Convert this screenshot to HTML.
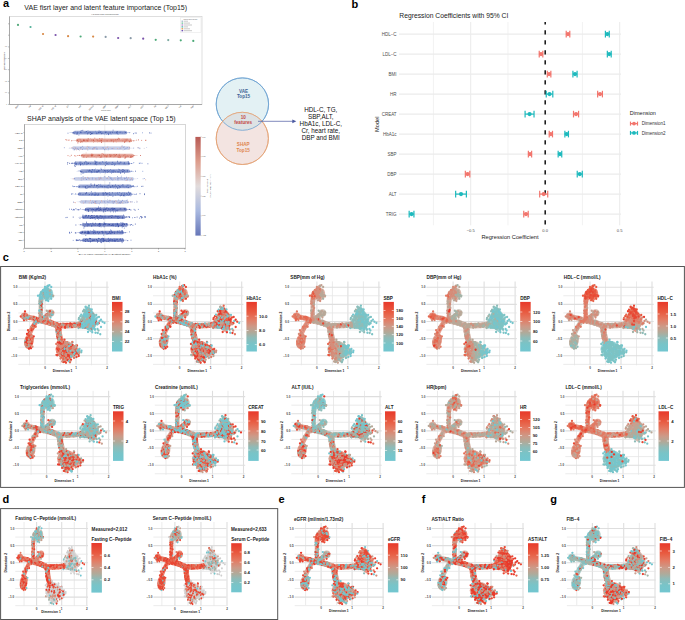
<!DOCTYPE html>
<html><head><meta charset="utf-8"><style>
html,body{margin:0;padding:0;background:#fff;width:685px;height:620px;overflow:hidden}
svg{display:block;font-family:"Liberation Sans",sans-serif}
</style></head><body>
<svg width="685" height="620" viewBox="0 0 685 620">
<text x="3" y="6.9" font-size="11" font-weight="bold">a</text>
<text x="351.6" y="7.8" font-size="11" font-weight="bold">b</text>
<text x="2.7" y="261.2" font-size="11" font-weight="bold">c</text>
<text x="2.6" y="502.5" font-size="11" font-weight="bold">d</text>
<text x="278.6" y="502.6" font-size="11" font-weight="bold">e</text>
<text x="421.7" y="502.6" font-size="11" font-weight="bold">f</text>
<text x="550.2" y="502.6" font-size="11" font-weight="bold">g</text>
<text x="105.7" y="9.6" font-size="7" text-anchor="middle" fill="#222" textLength="162.8" lengthAdjust="spacingAndGlyphs">VAE fisrt layer and latent feature importance (Top15)</text>
<rect x="9.5" y="16.5" width="192.5" height="88" fill="none" stroke="#d6d6d6" stroke-width="0.8" />
<line x1="9.5" y1="16.5" x2="9.5" y2="104.5" stroke="#9a9a9a" stroke-width="0.8" />
<line x1="9.5" y1="104.5" x2="202" y2="104.5" stroke="#9a9a9a" stroke-width="0.8" />
<text x="105" y="15.3" font-size="1.6" text-anchor="middle" fill="#444">VAE Global feature importance(weight)</text>
<line x1="8" y1="46.9" x2="9.5" y2="46.9" stroke="#888" stroke-width="0.5" />
<text x="7" y="47.4" font-size="1.5" text-anchor="end" fill="#555">0.5</text>
<line x1="8" y1="58.5" x2="9.5" y2="58.5" stroke="#888" stroke-width="0.5" />
<text x="7" y="59" font-size="1.5" text-anchor="end" fill="#555">0.4</text>
<line x1="8" y1="69.7" x2="9.5" y2="69.7" stroke="#888" stroke-width="0.5" />
<text x="7" y="70.2" font-size="1.5" text-anchor="end" fill="#555">0.3</text>
<line x1="8" y1="81.4" x2="9.5" y2="81.4" stroke="#888" stroke-width="0.5" />
<text x="7" y="81.9" font-size="1.5" text-anchor="end" fill="#555">0.2</text>
<line x1="8" y1="92.9" x2="9.5" y2="92.9" stroke="#888" stroke-width="0.5" />
<text x="7" y="93.4" font-size="1.5" text-anchor="end" fill="#555">0.1</text>
<line x1="8" y1="104.4" x2="9.5" y2="104.4" stroke="#888" stroke-width="0.5" />
<text x="7" y="104.9" font-size="1.5" text-anchor="end" fill="#555">0</text>
<line x1="8" y1="35.2" x2="9.5" y2="35.2" stroke="#888" stroke-width="0.5" />
<line x1="8" y1="23.8" x2="9.5" y2="23.8" stroke="#888" stroke-width="0.5" />
<text x="4.8" y="61" font-size="1.6" text-anchor="middle" fill="#555" transform="rotate(-90 4.8 61)">Mean |weight| importance</text>
<rect x="180.4" y="17.8" width="20.6" height="14.8" fill="#fff" stroke="#ddd" stroke-width="0.4" />
<text x="190.5" y="19.6" font-size="1.3" text-anchor="middle" fill="#555">Clinical feature category</text>
<rect x="181.5" y="20.6" width="1.6" height="1.2" fill="#9fb3c8" />
<line x1="183.8" y1="21.2" x2="188" y2="21.2" stroke="#777" stroke-width="0.4" />
<rect x="181.5" y="22.5" width="1.6" height="1.2" fill="#5fbf8f" />
<line x1="183.8" y1="23.1" x2="190" y2="23.1" stroke="#777" stroke-width="0.4" />
<rect x="181.5" y="24.4" width="1.6" height="1.2" fill="#b07fd0" />
<line x1="183.8" y1="25" x2="192" y2="25" stroke="#777" stroke-width="0.4" />
<rect x="181.5" y="26.3" width="1.6" height="1.2" fill="#3fb0a0" />
<line x1="183.8" y1="26.9" x2="188" y2="26.9" stroke="#777" stroke-width="0.4" />
<rect x="181.5" y="28.2" width="1.6" height="1.2" fill="#e09040" />
<line x1="183.8" y1="28.8" x2="190" y2="28.8" stroke="#777" stroke-width="0.4" />
<rect x="181.5" y="30.1" width="1.6" height="1.2" fill="#6040b0" />
<line x1="183.8" y1="30.7" x2="192" y2="30.7" stroke="#777" stroke-width="0.4" />
<circle cx="18" cy="24.9" r="1.1" fill="#52a87a"/>
<line x1="18" y1="104.5" x2="18" y2="105.5" stroke="#888" stroke-width="0.5" />
<text x="18.6" y="106.2" font-size="2" text-anchor="end" fill="#333" transform="rotate(-45 18.6 106.2)">BMI</text>
<circle cx="30.52" cy="27" r="1.1" fill="#50b098"/>
<line x1="30.52" y1="104.5" x2="30.52" y2="105.5" stroke="#888" stroke-width="0.5" />
<text x="31.12" y="106.2" font-size="2" text-anchor="end" fill="#333" transform="rotate(-45 31.12 106.2)">TG</text>
<circle cx="43.04" cy="34" r="1.1" fill="#d88a48"/>
<line x1="43.04" y1="104.5" x2="43.04" y2="105.5" stroke="#888" stroke-width="0.5" />
<text x="43.64" y="106.2" font-size="2" text-anchor="end" fill="#333" transform="rotate(-45 43.64 106.2)">HDL-C</text>
<circle cx="55.56" cy="35" r="1.1" fill="#7a52aa"/>
<line x1="55.56" y1="104.5" x2="55.56" y2="105.5" stroke="#888" stroke-width="0.5" />
<text x="56.16" y="106.2" font-size="2" text-anchor="end" fill="#333" transform="rotate(-45 56.16 106.2)">LDL-C</text>
<circle cx="68.08" cy="36.2" r="1.1" fill="#d88a48"/>
<line x1="68.08" y1="104.5" x2="68.08" y2="105.5" stroke="#888" stroke-width="0.5" />
<text x="68.68" y="106.2" font-size="2" text-anchor="end" fill="#333" transform="rotate(-45 68.68 106.2)">Cr</text>
<circle cx="80.6" cy="36.5" r="1.1" fill="#4caa78"/>
<line x1="80.6" y1="104.5" x2="80.6" y2="105.5" stroke="#888" stroke-width="0.5" />
<text x="81.2" y="106.2" font-size="2" text-anchor="end" fill="#333" transform="rotate(-45 81.2 106.2)">HR</text>
<circle cx="93.12" cy="36.6" r="1.1" fill="#d88a48"/>
<line x1="93.12" y1="104.5" x2="93.12" y2="105.5" stroke="#888" stroke-width="0.5" />
<text x="93.72" y="106.2" font-size="2" text-anchor="end" fill="#333" transform="rotate(-45 93.72 106.2)">HbA1c</text>
<circle cx="105.64" cy="36.9" r="1.1" fill="#8a9aa8"/>
<line x1="105.64" y1="104.5" x2="105.64" y2="105.5" stroke="#888" stroke-width="0.5" />
<text x="106.24" y="106.2" font-size="2" text-anchor="end" fill="#333" transform="rotate(-45 106.24 106.2)">SBP</text>
<circle cx="118.16" cy="38" r="1.1" fill="#7a52aa"/>
<line x1="118.16" y1="104.5" x2="118.16" y2="105.5" stroke="#888" stroke-width="0.5" />
<text x="118.76" y="106.2" font-size="2" text-anchor="end" fill="#333" transform="rotate(-45 118.76 106.2)">DBP</text>
<circle cx="130.68" cy="38.2" r="1.1" fill="#8a9aa8"/>
<line x1="130.68" y1="104.5" x2="130.68" y2="105.5" stroke="#888" stroke-width="0.5" />
<text x="131.28" y="106.2" font-size="2" text-anchor="end" fill="#333" transform="rotate(-45 131.28 106.2)">ALT</text>
<circle cx="143.2" cy="38.7" r="1.1" fill="#7a52aa"/>
<line x1="143.2" y1="104.5" x2="143.2" y2="105.5" stroke="#888" stroke-width="0.5" />
<text x="143.8" y="106.2" font-size="2" text-anchor="end" fill="#333" transform="rotate(-45 143.8 106.2)">AST</text>
<circle cx="155.72" cy="39.8" r="1.1" fill="#4caa78"/>
<line x1="155.72" y1="104.5" x2="155.72" y2="105.5" stroke="#888" stroke-width="0.5" />
<text x="156.32" y="106.2" font-size="2" text-anchor="end" fill="#333" transform="rotate(-45 156.32 106.2)">TC</text>
<circle cx="168.24" cy="40.1" r="1.1" fill="#7aa8a0"/>
<line x1="168.24" y1="104.5" x2="168.24" y2="105.5" stroke="#888" stroke-width="0.5" />
<text x="168.84" y="106.2" font-size="2" text-anchor="end" fill="#333" transform="rotate(-45 168.84 106.2)">GGT</text>
<circle cx="180.76" cy="40.3" r="1.1" fill="#4caa78"/>
<line x1="180.76" y1="104.5" x2="180.76" y2="105.5" stroke="#888" stroke-width="0.5" />
<text x="181.36" y="106.2" font-size="2" text-anchor="end" fill="#333" transform="rotate(-45 181.36 106.2)">UA</text>
<circle cx="193.28" cy="40.9" r="1.1" fill="#4caa78"/>
<line x1="193.28" y1="104.5" x2="193.28" y2="105.5" stroke="#888" stroke-width="0.5" />
<text x="193.88" y="106.2" font-size="2" text-anchor="end" fill="#333" transform="rotate(-45 193.88 106.2)">Age</text>
<text x="106" y="111" font-size="1.5" text-anchor="middle" fill="#555">Clinical feature</text>
<text x="101.4" y="121.1" font-size="7" text-anchor="middle" fill="#222" textLength="148.6" lengthAdjust="spacingAndGlyphs">SHAP analysis of the VAE latent space (Top 15)</text>
<rect x="24.5" y="124.5" width="161" height="123.8" fill="none" stroke="#bbb" stroke-width="0.6" />
<line x1="24.5" y1="124.5" x2="24.5" y2="248.3" stroke="#888" stroke-width="0.6" />
<line x1="24.5" y1="248.3" x2="185.5" y2="248.3" stroke="#888" stroke-width="0.6" />
<line x1="104.8" y1="124.5" x2="104.8" y2="248.3" stroke="#ddd" stroke-width="0.5" />
<line x1="23.7" y1="248.3" x2="23.7" y2="249.5" stroke="#666" stroke-width="0.5" />
<text x="23.7" y="251.6" font-size="2" text-anchor="middle" fill="#333">-3</text>
<line x1="51" y1="248.3" x2="51" y2="249.5" stroke="#666" stroke-width="0.5" />
<text x="51" y="251.6" font-size="2" text-anchor="middle" fill="#333">-2</text>
<line x1="77.8" y1="248.3" x2="77.8" y2="249.5" stroke="#666" stroke-width="0.5" />
<text x="77.8" y="251.6" font-size="2" text-anchor="middle" fill="#333">-1</text>
<line x1="104.9" y1="248.3" x2="104.9" y2="249.5" stroke="#666" stroke-width="0.5" />
<text x="104.9" y="251.6" font-size="2" text-anchor="middle" fill="#333">0</text>
<line x1="131.7" y1="248.3" x2="131.7" y2="249.5" stroke="#666" stroke-width="0.5" />
<text x="131.7" y="251.6" font-size="2" text-anchor="middle" fill="#333">1</text>
<line x1="158.5" y1="248.3" x2="158.5" y2="249.5" stroke="#666" stroke-width="0.5" />
<text x="158.5" y="251.6" font-size="2" text-anchor="middle" fill="#333">2</text>
<line x1="185" y1="248.3" x2="185" y2="249.5" stroke="#666" stroke-width="0.5" />
<text x="185" y="251.6" font-size="2" text-anchor="middle" fill="#333">3</text>
<text x="104.4" y="254.6" font-size="2.4" text-anchor="middle" fill="#333" textLength="52" lengthAdjust="spacingAndGlyphs">SHAP value (impact on VAE latent space)</text>
<text x="22.6" y="133.6" font-size="2.5" text-anchor="end" fill="#333">HDL-C</text>
<line x1="23.3" y1="132.7" x2="24.5" y2="132.7" stroke="#888" stroke-width="0.5" />
<ellipse cx="100" cy="132.7" rx="31" ry="1.0" fill="#5068b4" opacity="0.35"/>
<rect x="73" y="130.8" width="54" height="3.8" rx="1.9" fill="#5068b4" opacity="0.55"/>
<path d="M81.1 132.5h0M104.5 132.4h0M77.6 132.1h0M119.8 132.4h0M80.2 131.6h0M78.9 133.1h0M78.9 135.1h0M98.6 133.2h0M95.6 131.4h0M122.6 133.0h0M101.0 132.4h0M114.7 132.5h0M100.3 132.5h0M88.0 130.9h0M87.4 134.0h0" stroke="#6a82c8" stroke-width="0.9" stroke-linecap="round"/>
<path d="M117.7 133.1h0M125.7 132.5h0M89.9 132.1h0M124.9 132.1h0M105.4 132.3h0M110.3 133.1h0M113.1 130.2h0M120.2 132.3h0M118.0 134.0h0M80.6 132.3h0M96.9 133.7h0M96.1 132.9h0M96.8 133.2h0M100.9 132.0h0M133.5 133.7h0M110.2 132.4h0M116.3 132.9h0M85.0 132.7h0M91.7 133.7h0" stroke="#4a62b4" stroke-width="0.9" stroke-linecap="round"/>
<path d="M117.1 133.3h0M76.2 133.1h0M86.4 131.6h0M78.0 132.6h0M108.6 134.6h0M99.0 132.2h0M76.8 133.1h0M92.8 132.4h0M135.1 133.0h0M151.0 133.1h0M114.9 133.0h0M75.3 132.1h0M68.0 133.2h0" stroke="#5c76c2" stroke-width="0.9" stroke-linecap="round"/>
<path d="M103.8 132.9h0M114.8 133.3h0M118.4 133.8h0M106.4 133.2h0M104.6 134.4h0M85.0 131.6h0M99.6 131.2h0M74.5 132.6h0M94.8 131.6h0M73.8 132.5h0M78.3 133.5h0M79.0 132.3h0M95.8 132.3h0M101.7 133.0h0M126.1 131.7h0" stroke="#9aaede" stroke-width="0.9" stroke-linecap="round"/>
<path d="M101.7 132.9h0M95.6 132.7h0M126.6 133.1h0M95.1 132.0h0M86.4 132.7h0M111.1 134.2h0M73.2 132.8h0M99.0 130.9h0M79.2 133.6h0M129.4 132.7h0M106.7 134.3h0M121.0 131.8h0M93.8 133.5h0M79.6 133.1h0M142.6 132.8h0M92.8 132.7h0M124.4 133.2h0M86.3 132.8h0" stroke="#7c94d2" stroke-width="0.9" stroke-linecap="round"/>
<path d="M86.2 131.6h0M112.5 132.3h0M106.0 132.0h0M108.1 133.2h0M73.0 133.0h0M81.0 132.7h0M98.4 132.4h0M88.8 132.8h0M74.5 133.0h0M125.8 132.6h0M100.8 132.1h0M92.3 133.5h0M90.7 134.5h0M102.9 133.2h0M82.8 130.4h0M149.4 132.9h0M77.0 134.3h0" stroke="#3c54a6" stroke-width="0.9" stroke-linecap="round"/>
<path d="M99.8 132.1h0M136.2 133.1h0M105.9 132.5h0M90.8 132.4h0M116.8 132.4h0M91.6 133.5h0M108.7 134.2h0M77.5 133.1h0M101.4 133.7h0M81.2 130.7h0M73.2 132.6h0M87.7 133.2h0M117.2 131.6h0" stroke="#3a50a0" stroke-width="0.9" stroke-linecap="round"/>
<text x="22.6" y="141.28" font-size="2.5" text-anchor="end" fill="#333">TG</text>
<line x1="23.3" y1="140.38" x2="24.5" y2="140.38" stroke="#888" stroke-width="0.5" />
<ellipse cx="104" cy="140.38" rx="32" ry="1.0" fill="#d4705c" opacity="0.35"/>
<rect x="76" y="138.48" width="56" height="3.8" rx="1.9" fill="#d4705c" opacity="0.55"/>
<path d="M133.8 140.9h0M77.9 142.9h0M86.2 140.2h0M77.3 139.9h0M80.2 140.1h0M84.3 140.8h0M88.2 138.8h0M82.3 141.8h0M94.2 141.1h0M113.1 140.0h0M91.8 140.1h0M145.9 140.3h0M101.4 142.5h0M107.1 140.9h0M97.1 140.2h0M111.3 140.8h0M81.2 141.6h0M77.7 140.6h0M71.8 140.6h0M83.4 140.3h0M117.8 139.5h0" stroke="#c45444" stroke-width="0.9" stroke-linecap="round"/>
<path d="M79.1 140.5h0M94.3 140.9h0M122.9 138.6h0M91.1 140.0h0M81.1 140.3h0M71.4 140.9h0M129.5 141.7h0M90.5 138.5h0M94.3 139.5h0M96.2 140.7h0M94.5 139.9h0M120.6 139.5h0M115.8 140.8h0M89.6 141.3h0M93.5 142.5h0" stroke="#ecb8aa" stroke-width="0.9" stroke-linecap="round"/>
<path d="M136.7 140.2h0M78.5 139.7h0M80.7 142.3h0M86.0 141.7h0M131.7 141.4h0M145.6 140.4h0M125.6 140.1h0M127.8 140.1h0M81.1 140.4h0M130.6 139.1h0" stroke="#e08068" stroke-width="0.9" stroke-linecap="round"/>
<path d="M101.0 140.2h0M87.3 140.7h0M68.9 140.5h0M116.1 139.9h0M122.8 141.0h0M79.9 139.3h0M129.4 141.6h0M125.0 139.2h0M141.7 140.4h0M115.5 139.7h0M115.1 140.7h0M125.8 141.5h0M94.8 138.2h0" stroke="#d87060" stroke-width="0.9" stroke-linecap="round"/>
<path d="M84.1 140.3h0M138.6 139.9h0M127.0 139.2h0M101.7 140.8h0M83.9 139.9h0M124.7 142.4h0M93.7 140.0h0M83.8 140.9h0M99.8 138.7h0M93.7 140.4h0M66.9 140.1h0M87.9 140.2h0M102.0 138.8h0M118.3 138.3h0M101.5 140.5h0" stroke="#c85040" stroke-width="0.9" stroke-linecap="round"/>
<path d="M80.8 141.8h0M101.3 140.8h0M111.1 139.9h0M102.1 140.5h0M126.3 140.2h0M78.7 141.4h0M113.5 141.8h0M100.1 140.8h0M129.4 141.6h0M130.4 140.9h0M119.5 139.0h0M87.7 141.1h0M65.9 139.6h0M124.7 141.4h0M96.9 140.1h0M99.0 141.0h0" stroke="#d0604a" stroke-width="0.9" stroke-linecap="round"/>
<path d="M69.0 139.7h0M118.4 140.6h0M97.4 141.8h0M114.8 140.0h0M108.8 140.2h0M120.3 140.4h0M96.8 139.7h0M116.3 141.9h0M78.7 140.8h0M85.1 140.9h0M102.2 140.4h0M123.8 139.4h0M109.7 141.2h0M102.4 140.5h0M115.0 140.2h0M88.5 141.3h0M80.5 140.9h0M78.8 139.4h0M96.4 140.5h0M128.8 141.1h0" stroke="#e49a88" stroke-width="0.9" stroke-linecap="round"/>
<text x="22.6" y="148.96" font-size="2.5" text-anchor="end" fill="#333">SBP</text>
<line x1="23.3" y1="148.06" x2="24.5" y2="148.06" stroke="#888" stroke-width="0.5" />
<ellipse cx="101" cy="148.06" rx="33" ry="1.0" fill="#a8b4dc" opacity="0.35"/>
<rect x="72" y="146.16" width="58" height="3.8" rx="1.9" fill="#a8b4dc" opacity="0.55"/>
<path d="M86.6 147.0h0M101.7 147.6h0M139.8 148.4h0M73.8 146.9h0M75.0 148.0h0M102.2 148.5h0M79.3 150.6h0M110.7 147.6h0M119.3 148.8h0M120.1 149.0h0M144.2 148.4h0M107.7 146.4h0M89.6 146.8h0M107.5 147.7h0M108.1 146.9h0" stroke="#d0c8d4" stroke-width="0.9" stroke-linecap="round"/>
<path d="M118.5 148.6h0M108.0 148.0h0M118.9 148.8h0M82.3 146.7h0M107.2 147.1h0M146.7 147.5h0M93.6 148.4h0M117.5 149.0h0M72.7 147.4h0M74.8 147.3h0M123.1 150.0h0M69.8 148.1h0M123.7 148.5h0M85.1 149.4h0M124.6 147.0h0M121.6 148.7h0" stroke="#c4cce8" stroke-width="0.9" stroke-linecap="round"/>
<path d="M112.1 148.5h0M93.0 148.7h0M103.2 148.3h0M82.6 149.3h0M122.1 146.0h0M129.5 147.8h0M104.6 149.7h0M94.9 147.7h0M120.1 148.2h0M80.4 147.7h0M75.4 148.1h0M123.3 147.2h0" stroke="#7888c8" stroke-width="0.9" stroke-linecap="round"/>
<path d="M74.0 148.4h0M87.7 146.4h0M80.9 149.1h0M75.8 148.1h0M71.9 147.6h0M86.8 148.3h0M94.9 148.1h0M121.7 146.8h0M129.2 147.0h0M97.6 148.4h0M113.8 148.4h0M76.3 149.9h0M87.2 149.0h0M105.6 148.4h0M129.1 149.2h0M93.1 149.2h0M138.0 147.6h0M107.3 147.5h0M117.7 148.5h0M94.5 148.6h0M78.5 149.1h0" stroke="#dca8a0" stroke-width="0.9" stroke-linecap="round"/>
<path d="M81.3 147.6h0M76.9 148.3h0M139.8 148.1h0M92.4 148.9h0M83.4 148.0h0M81.1 147.4h0M97.4 149.1h0M106.0 149.7h0M138.2 147.7h0M73.3 148.4h0M80.7 148.2h0M96.1 147.2h0M85.1 148.6h0M87.8 150.0h0" stroke="#98a8d8" stroke-width="0.9" stroke-linecap="round"/>
<path d="M129.3 148.7h0M86.7 148.0h0M74.1 150.1h0M97.1 148.9h0M75.0 147.3h0M124.4 146.7h0M121.1 148.4h0M126.4 147.5h0M79.1 148.1h0M101.5 148.3h0M139.9 148.7h0M100.2 148.5h0M138.2 148.0h0M106.2 147.9h0M124.6 147.3h0M72.0 148.3h0M108.1 150.0h0" stroke="#b4bee2" stroke-width="0.9" stroke-linecap="round"/>
<path d="M126.0 148.5h0M82.7 146.4h0M103.0 147.5h0M88.4 147.2h0M124.8 149.2h0M77.4 148.8h0M108.4 148.9h0M89.9 148.1h0M96.6 148.9h0M74.4 149.6h0M78.4 149.5h0M93.8 147.7h0M127.6 147.7h0M64.3 147.7h0M133.7 148.1h0" stroke="#8898d0" stroke-width="0.9" stroke-linecap="round"/>
<text x="22.6" y="156.64" font-size="2.5" text-anchor="end" fill="#333">ALT</text>
<line x1="23.3" y1="155.74" x2="24.5" y2="155.74" stroke="#888" stroke-width="0.5" />
<ellipse cx="107.5" cy="155.74" rx="30.5" ry="1.0" fill="#d4705c" opacity="0.35"/>
<rect x="81" y="153.84" width="53" height="3.8" rx="1.9" fill="#d4705c" opacity="0.55"/>
<path d="M91.9 155.9h0M115.1 155.9h0M91.9 154.1h0M131.3 157.2h0M103.5 154.3h0M107.1 156.2h0M91.7 156.0h0M92.4 155.4h0M131.6 156.3h0M105.1 155.2h0M125.1 157.1h0M84.0 155.6h0M114.0 156.6h0M100.2 157.5h0M75.8 156.0h0M92.1 154.5h0M120.0 157.6h0M132.6 156.5h0M102.1 153.7h0M71.3 155.3h0M98.0 155.3h0" stroke="#d0604a" stroke-width="0.9" stroke-linecap="round"/>
<path d="M120.0 157.0h0M114.5 154.9h0M88.0 156.1h0M130.3 157.4h0M119.7 156.1h0M128.1 156.4h0M110.3 156.3h0M110.8 156.1h0M110.9 154.9h0M125.5 157.1h0M134.0 155.5h0M83.8 156.8h0M124.9 154.8h0M123.0 155.3h0" stroke="#c45444" stroke-width="0.9" stroke-linecap="round"/>
<path d="M131.6 156.3h0M127.9 155.9h0M117.5 156.8h0M120.3 156.6h0M126.5 156.8h0M86.4 157.2h0M100.8 156.4h0M74.4 155.7h0M82.5 155.2h0M68.0 155.6h0M107.5 155.1h0M113.7 154.7h0" stroke="#d87060" stroke-width="0.9" stroke-linecap="round"/>
<path d="M70.0 156.3h0M112.2 156.2h0M113.5 156.8h0M86.2 155.9h0M96.2 157.7h0M125.1 154.6h0M122.5 156.3h0M86.8 156.4h0M119.4 154.3h0M83.9 157.0h0M114.4 155.7h0M105.9 155.8h0M85.8 155.2h0M86.9 155.8h0M108.0 155.2h0M117.6 156.1h0M88.4 156.1h0M77.4 155.5h0M121.8 156.0h0" stroke="#e49a88" stroke-width="0.9" stroke-linecap="round"/>
<path d="M86.1 153.0h0M130.2 154.4h0M115.1 154.4h0M94.6 155.7h0M119.3 157.0h0M129.5 156.7h0M99.7 155.7h0M128.9 155.9h0M122.4 155.2h0M109.1 155.1h0M91.1 156.9h0" stroke="#ecb8aa" stroke-width="0.9" stroke-linecap="round"/>
<path d="M79.3 155.4h0M99.5 155.5h0M91.2 155.2h0M81.7 155.3h0M115.3 155.2h0M130.3 156.3h0M91.9 155.6h0M140.4 155.5h0M125.0 158.3h0M101.7 157.0h0M106.5 156.3h0M105.0 156.1h0M109.6 154.9h0M119.1 155.1h0M99.1 155.1h0M116.4 154.5h0M118.6 157.1h0" stroke="#c85040" stroke-width="0.9" stroke-linecap="round"/>
<path d="M111.6 155.8h0M109.9 155.8h0M104.3 155.9h0M119.3 157.2h0M112.2 155.3h0M115.9 155.9h0M93.1 154.6h0M109.8 156.7h0M131.5 156.4h0M123.3 155.9h0M101.6 155.4h0M94.3 156.2h0M106.7 157.0h0M106.7 155.7h0M91.9 156.4h0M105.3 155.8h0" stroke="#e08068" stroke-width="0.9" stroke-linecap="round"/>
<text x="22.6" y="164.32" font-size="2.5" text-anchor="end" fill="#333">HbA1c</text>
<line x1="23.3" y1="163.42" x2="24.5" y2="163.42" stroke="#888" stroke-width="0.5" />
<ellipse cx="102" cy="163.42" rx="32" ry="1.0" fill="#5068b4" opacity="0.35"/>
<rect x="74" y="161.52" width="56" height="3.8" rx="1.9" fill="#5068b4" opacity="0.55"/>
<path d="M97.6 163.0h0M115.7 164.3h0M139.2 163.2h0M91.3 162.3h0M127.1 162.5h0M101.1 162.1h0M121.6 162.9h0M102.7 163.3h0M85.1 163.6h0M83.4 163.5h0M77.2 164.1h0M96.9 163.5h0M93.7 164.0h0M105.1 163.6h0" stroke="#9aaede" stroke-width="0.9" stroke-linecap="round"/>
<path d="M125.2 164.4h0M100.4 164.5h0M139.5 163.5h0M133.8 162.5h0M104.0 163.2h0M125.7 164.1h0M123.4 164.1h0M123.8 162.9h0M78.4 164.6h0M109.8 164.0h0M103.1 162.2h0M86.7 163.6h0" stroke="#7c94d2" stroke-width="0.9" stroke-linecap="round"/>
<path d="M76.2 164.8h0M112.4 164.4h0M97.7 163.9h0M140.2 163.1h0M86.3 164.6h0M96.1 162.8h0M79.8 163.6h0M102.6 161.8h0M112.8 162.2h0M108.5 162.9h0M109.6 163.0h0" stroke="#6a82c8" stroke-width="0.9" stroke-linecap="round"/>
<path d="M96.7 164.7h0M97.1 162.1h0M112.3 162.6h0M88.0 163.0h0M80.5 164.2h0M128.2 161.6h0M95.9 162.2h0M76.1 163.6h0M105.4 165.5h0M120.9 162.7h0M74.1 163.1h0M71.4 163.3h0M147.9 163.8h0M90.6 163.7h0M124.6 162.7h0M120.8 162.1h0M94.2 164.0h0M115.4 164.1h0M119.1 163.9h0M84.2 164.0h0M106.3 161.9h0M96.2 162.2h0" stroke="#4a62b4" stroke-width="0.9" stroke-linecap="round"/>
<path d="M95.7 161.4h0M114.3 163.9h0M117.6 163.0h0M131.4 163.5h0M100.7 162.9h0M105.6 162.4h0M79.9 162.2h0M106.9 164.1h0M108.1 164.5h0M106.2 164.0h0M142.0 163.3h0M102.8 162.2h0M85.3 161.4h0M83.1 164.8h0M85.0 162.9h0M86.9 163.2h0M81.3 164.1h0M113.6 163.9h0M79.3 163.2h0M80.8 163.5h0" stroke="#5c76c2" stroke-width="0.9" stroke-linecap="round"/>
<path d="M67.4 164.0h0M80.4 164.8h0M95.6 164.0h0M128.6 163.8h0M124.2 163.7h0M75.2 166.4h0M117.6 161.3h0M129.2 163.9h0M67.8 162.5h0M84.4 162.9h0M69.5 163.3h0M72.5 163.2h0M88.6 163.4h0M80.4 164.9h0" stroke="#3a50a0" stroke-width="0.9" stroke-linecap="round"/>
<path d="M95.8 163.6h0M111.9 164.5h0M94.8 161.1h0M128.5 162.9h0M86.3 162.0h0M119.1 163.1h0M75.7 162.1h0M75.9 164.0h0M76.2 164.0h0M107.1 163.4h0M95.8 162.9h0M99.3 163.0h0M87.1 164.1h0M82.7 163.6h0M74.7 165.7h0M114.4 165.1h0M80.9 162.2h0" stroke="#3c54a6" stroke-width="0.9" stroke-linecap="round"/>
<text x="22.6" y="172" font-size="2.5" text-anchor="end" fill="#333">HR</text>
<line x1="23.3" y1="171.1" x2="24.5" y2="171.1" stroke="#888" stroke-width="0.5" />
<ellipse cx="105" cy="171.1" rx="29" ry="1.0" fill="#5068b4" opacity="0.35"/>
<rect x="80" y="169.2" width="50" height="3.8" rx="1.9" fill="#5068b4" opacity="0.55"/>
<path d="M97.8 171.2h0M91.6 171.5h0M101.0 168.3h0M123.6 170.8h0M116.4 170.3h0M142.8 171.3h0M111.6 170.6h0M113.8 170.2h0M120.8 171.7h0M95.4 169.1h0M112.7 171.5h0M127.5 170.4h0M102.0 172.3h0M80.5 170.7h0M100.2 172.9h0M130.0 171.9h0M127.1 170.4h0M92.0 170.8h0" stroke="#7c94d2" stroke-width="0.9" stroke-linecap="round"/>
<path d="M113.4 172.0h0M80.6 171.6h0M112.1 171.0h0M83.0 173.3h0M107.3 172.1h0M127.6 170.9h0M104.6 170.5h0M122.5 171.8h0M97.6 171.9h0M96.8 172.2h0M105.9 170.7h0M121.1 170.6h0M129.8 171.6h0M117.3 171.9h0M119.4 169.9h0M118.5 171.9h0M88.5 171.0h0M98.1 171.2h0M127.1 171.1h0M122.6 171.2h0M135.4 171.2h0M82.0 171.8h0" stroke="#3c54a6" stroke-width="0.9" stroke-linecap="round"/>
<path d="M133.0 171.6h0M95.3 171.0h0M90.1 171.5h0M93.0 170.1h0M108.5 170.0h0M103.4 169.5h0M91.9 171.1h0M79.1 170.5h0M115.9 171.3h0M130.0 171.3h0M121.2 172.7h0M101.0 172.2h0M84.4 172.7h0M97.6 169.8h0" stroke="#9aaede" stroke-width="0.9" stroke-linecap="round"/>
<path d="M105.2 171.5h0M120.5 173.2h0M120.3 172.6h0M92.5 170.0h0M92.2 169.6h0M123.5 170.1h0M101.3 169.5h0M112.6 172.0h0M86.1 172.0h0M114.7 171.0h0M99.3 170.8h0M89.6 170.9h0M94.8 172.0h0M123.6 171.5h0M94.2 170.9h0" stroke="#4a62b4" stroke-width="0.9" stroke-linecap="round"/>
<path d="M109.5 170.5h0M94.2 169.6h0M92.1 172.2h0M91.3 172.7h0M113.4 170.7h0M103.5 172.0h0M113.4 170.6h0M87.2 170.3h0M89.6 171.0h0M119.6 171.9h0M110.4 169.6h0" stroke="#5c76c2" stroke-width="0.9" stroke-linecap="round"/>
<path d="M105.6 172.8h0M81.1 174.0h0M110.8 172.2h0M107.5 171.8h0M89.2 170.9h0M92.8 171.8h0M112.4 171.0h0M131.5 171.3h0M112.8 170.8h0M111.5 173.1h0M118.4 169.3h0M83.8 172.5h0M125.2 171.4h0M111.0 171.1h0M125.6 171.3h0M111.5 171.9h0M111.4 171.3h0" stroke="#6a82c8" stroke-width="0.9" stroke-linecap="round"/>
<path d="M124.6 170.7h0M98.9 171.2h0M122.8 169.6h0M107.8 170.4h0M91.6 171.6h0M89.4 170.2h0M96.2 171.4h0M81.3 171.8h0M115.3 171.8h0M90.6 171.0h0M124.6 173.1h0M98.3 170.7h0M108.8 171.5h0" stroke="#3a50a0" stroke-width="0.9" stroke-linecap="round"/>
<text x="22.6" y="179.68" font-size="2.5" text-anchor="end" fill="#333">BMI</text>
<line x1="23.3" y1="178.78" x2="24.5" y2="178.78" stroke="#888" stroke-width="0.5" />
<ellipse cx="104" cy="178.78" rx="34" ry="1.0" fill="#a8b4dc" opacity="0.35"/>
<rect x="74" y="176.88" width="60" height="3.8" rx="1.9" fill="#a8b4dc" opacity="0.55"/>
<path d="M120.0 177.9h0M98.1 179.7h0M129.8 180.8h0M124.3 177.9h0M137.7 178.5h0M86.1 178.6h0M103.0 179.3h0M82.0 179.6h0M130.5 180.4h0M111.7 179.6h0M85.1 177.5h0M74.5 179.4h0M122.6 178.4h0M87.6 179.4h0M119.8 179.5h0M129.5 179.5h0M122.2 179.0h0M128.8 178.2h0M82.6 179.8h0" stroke="#c4cce8" stroke-width="0.9" stroke-linecap="round"/>
<path d="M121.5 176.2h0M117.6 178.8h0M132.2 178.0h0M86.4 179.5h0M97.7 179.3h0M111.6 179.2h0M115.0 177.5h0M85.3 178.0h0M123.8 178.3h0M120.5 179.2h0M109.7 179.0h0M128.6 177.9h0M100.9 179.5h0M122.4 179.6h0M75.1 178.8h0M125.2 180.4h0M98.3 177.4h0" stroke="#b4bee2" stroke-width="0.9" stroke-linecap="round"/>
<path d="M118.9 178.2h0M109.9 177.1h0M74.6 178.4h0M121.1 177.3h0M111.7 179.1h0M124.4 178.9h0M118.1 179.9h0M117.7 178.2h0M127.7 179.9h0M126.5 177.3h0M83.1 176.7h0M88.2 178.1h0M127.0 179.0h0M86.3 179.5h0M92.3 178.1h0" stroke="#7888c8" stroke-width="0.9" stroke-linecap="round"/>
<path d="M105.6 177.4h0M103.3 180.2h0M103.3 179.4h0M91.7 178.6h0M107.9 178.0h0M78.4 178.1h0M121.5 178.6h0M108.7 178.7h0" stroke="#d0c8d4" stroke-width="0.9" stroke-linecap="round"/>
<path d="M99.7 177.9h0M107.8 177.9h0M100.7 178.0h0M96.1 179.8h0M128.3 177.8h0M101.6 178.3h0M145.7 179.8h0M87.6 177.4h0M131.6 178.7h0M126.3 180.4h0M89.3 178.9h0M98.8 178.2h0M95.3 178.7h0M73.2 178.8h0M81.9 179.2h0M84.2 178.1h0M114.3 178.7h0M99.1 179.6h0M131.4 179.0h0" stroke="#dca8a0" stroke-width="0.9" stroke-linecap="round"/>
<path d="M81.8 177.8h0M104.9 176.6h0M118.8 178.0h0M111.0 177.7h0M83.4 179.0h0M144.3 178.5h0M99.3 179.1h0M110.5 178.4h0M112.8 180.0h0M108.7 176.5h0M125.7 178.6h0M122.0 179.3h0M130.2 179.6h0M124.4 178.2h0M107.0 178.5h0M96.0 178.8h0M117.6 176.5h0" stroke="#8898d0" stroke-width="0.9" stroke-linecap="round"/>
<path d="M115.4 179.2h0M92.5 179.1h0M121.0 178.4h0M89.1 178.8h0M143.1 178.8h0M132.2 179.3h0M113.2 179.0h0M100.8 177.3h0M104.2 176.9h0M111.1 178.5h0M81.2 180.2h0M132.5 180.0h0M100.6 178.4h0M85.4 178.0h0M117.3 179.7h0" stroke="#98a8d8" stroke-width="0.9" stroke-linecap="round"/>
<text x="22.6" y="187.36" font-size="2.5" text-anchor="end" fill="#333">LDL-C</text>
<line x1="23.3" y1="186.46" x2="24.5" y2="186.46" stroke="#888" stroke-width="0.5" />
<ellipse cx="105" cy="186.46" rx="31" ry="1.0" fill="#5068b4" opacity="0.35"/>
<rect x="78" y="184.56" width="54" height="3.8" rx="1.9" fill="#5068b4" opacity="0.55"/>
<path d="M93.7 187.4h0M79.1 187.5h0M122.1 186.1h0M124.9 187.6h0M74.4 186.5h0M113.5 187.7h0M125.1 186.5h0M102.5 187.3h0M111.9 187.0h0M100.8 186.2h0M110.8 187.1h0M101.9 185.9h0M109.1 184.8h0M121.4 185.5h0M106.3 186.7h0M132.7 186.0h0M126.7 186.5h0" stroke="#6a82c8" stroke-width="0.9" stroke-linecap="round"/>
<path d="M86.9 188.4h0M110.3 187.2h0M127.2 185.2h0M107.7 186.1h0M108.1 187.9h0M112.4 185.7h0M116.3 186.6h0M88.0 187.2h0M91.0 184.0h0M112.7 186.0h0M102.5 186.6h0M115.5 185.0h0M119.0 188.0h0M133.0 186.0h0M100.1 186.2h0M94.6 184.3h0M110.8 186.9h0M91.8 185.4h0" stroke="#3c54a6" stroke-width="0.9" stroke-linecap="round"/>
<path d="M105.1 186.8h0M117.6 187.8h0M85.4 186.9h0M96.2 186.7h0M119.4 186.6h0M76.9 186.7h0M98.8 186.9h0M117.6 188.2h0M120.2 187.4h0M130.6 185.9h0M114.9 186.4h0M101.2 186.5h0M73.8 186.6h0M107.0 187.7h0M90.3 186.8h0M84.7 187.2h0M109.8 183.0h0M108.8 185.7h0M123.0 185.8h0M120.2 186.7h0M119.4 186.4h0M126.7 187.0h0" stroke="#4a62b4" stroke-width="0.9" stroke-linecap="round"/>
<path d="M127.8 187.6h0M131.5 186.6h0M128.8 185.2h0M128.7 186.1h0M137.3 186.3h0M108.8 185.8h0M128.4 186.8h0M133.6 185.9h0M72.7 186.1h0M104.3 186.2h0M123.3 186.8h0M141.6 186.4h0M87.1 185.5h0M83.1 186.4h0M106.1 186.4h0M98.8 184.5h0" stroke="#5c76c2" stroke-width="0.9" stroke-linecap="round"/>
<path d="M128.7 187.6h0M97.5 185.6h0M89.1 186.6h0M133.0 186.6h0M79.6 186.6h0M85.5 187.9h0M94.3 185.5h0M142.9 186.3h0M118.3 185.5h0M96.5 185.5h0M122.9 184.7h0M104.6 186.9h0M113.9 186.3h0M85.3 186.8h0" stroke="#3a50a0" stroke-width="0.9" stroke-linecap="round"/>
<path d="M134.3 186.8h0M78.1 186.7h0M108.1 186.4h0M115.3 188.5h0M136.1 186.7h0M84.3 187.4h0M81.5 187.2h0M95.4 186.3h0M105.0 185.7h0M104.0 187.6h0M128.5 186.2h0" stroke="#9aaede" stroke-width="0.9" stroke-linecap="round"/>
<path d="M90.4 185.1h0M112.0 187.5h0M100.1 185.6h0M119.0 185.9h0M130.5 185.7h0M118.1 186.2h0M113.8 186.3h0M102.3 187.3h0M97.8 188.1h0M99.2 186.8h0M100.7 184.4h0M78.8 186.9h0" stroke="#7c94d2" stroke-width="0.9" stroke-linecap="round"/>
<text x="22.6" y="195.04" font-size="2.5" text-anchor="end" fill="#333">Cr</text>
<line x1="23.3" y1="194.14" x2="24.5" y2="194.14" stroke="#888" stroke-width="0.5" />
<ellipse cx="105" cy="194.14" rx="31" ry="1.0" fill="#5068b4" opacity="0.35"/>
<rect x="78" y="192.24" width="54" height="3.8" rx="1.9" fill="#5068b4" opacity="0.55"/>
<path d="M118.7 193.8h0M89.2 193.5h0M92.8 194.4h0M116.9 194.7h0M113.6 194.0h0M124.9 196.3h0M97.0 194.8h0M108.0 196.3h0M84.6 195.5h0M73.0 193.9h0M118.4 192.9h0M128.4 194.4h0M129.1 193.9h0M112.1 193.3h0M130.7 195.9h0" stroke="#9aaede" stroke-width="0.9" stroke-linecap="round"/>
<path d="M96.1 194.0h0M129.4 194.4h0M86.6 192.6h0M79.0 193.7h0M128.2 195.1h0M109.5 194.8h0M85.5 193.9h0M123.5 195.3h0M107.9 193.8h0M144.5 193.9h0M112.5 192.9h0M130.3 193.3h0M129.7 193.7h0M120.3 195.8h0M98.3 194.0h0" stroke="#3a50a0" stroke-width="0.9" stroke-linecap="round"/>
<path d="M115.3 193.0h0M113.9 193.8h0M95.0 194.2h0M109.3 192.8h0M80.8 194.1h0M128.8 193.1h0M132.1 194.3h0M90.8 193.5h0M126.0 194.3h0M126.4 195.2h0M126.3 194.7h0M119.5 195.4h0M113.3 195.0h0" stroke="#7c94d2" stroke-width="0.9" stroke-linecap="round"/>
<path d="M135.0 194.4h0M94.6 195.1h0M129.7 194.6h0M124.6 195.4h0M109.6 192.8h0M92.6 194.1h0M121.2 195.4h0M79.8 193.1h0M115.5 195.1h0M110.3 195.0h0M103.6 194.1h0M92.1 194.1h0M97.8 195.4h0M119.7 192.5h0M95.0 194.6h0M117.2 194.0h0M95.6 194.9h0M95.1 192.4h0M105.1 193.4h0M122.9 192.9h0M78.5 194.4h0" stroke="#5c76c2" stroke-width="0.9" stroke-linecap="round"/>
<path d="M88.3 194.8h0M111.2 195.0h0M130.6 193.3h0M95.2 194.7h0M104.8 194.6h0M128.9 192.4h0M83.9 194.4h0M75.6 193.9h0M71.6 194.2h0M125.9 194.6h0M95.2 195.4h0" stroke="#6a82c8" stroke-width="0.9" stroke-linecap="round"/>
<path d="M92.2 194.1h0M103.1 192.8h0M106.8 193.4h0M144.4 194.6h0M112.9 196.2h0M80.7 194.0h0M97.1 194.9h0M86.2 193.6h0M106.4 194.3h0M123.2 195.8h0M126.8 193.4h0M89.5 194.6h0M103.2 195.0h0M121.7 193.8h0M94.0 194.8h0M98.4 194.8h0" stroke="#3c54a6" stroke-width="0.9" stroke-linecap="round"/>
<path d="M128.5 192.2h0M124.3 194.8h0M127.6 194.3h0M82.9 194.6h0M117.3 192.8h0M104.0 193.7h0M91.7 195.0h0M102.9 193.7h0M124.6 193.2h0M95.5 194.2h0M107.1 194.0h0M118.2 194.3h0M91.3 191.8h0M72.0 193.8h0M140.0 193.7h0M78.9 194.5h0M121.6 195.2h0M136.5 194.1h0M105.6 192.5h0" stroke="#4a62b4" stroke-width="0.9" stroke-linecap="round"/>
<text x="22.6" y="202.72" font-size="2.5" text-anchor="end" fill="#333">DBP</text>
<line x1="23.3" y1="201.82" x2="24.5" y2="201.82" stroke="#888" stroke-width="0.5" />
<ellipse cx="104" cy="201.82" rx="28" ry="1.0" fill="#a8b4dc" opacity="0.35"/>
<rect x="80" y="199.92" width="48" height="3.8" rx="1.9" fill="#a8b4dc" opacity="0.55"/>
<path d="M130.9 202.1h0M74.2 202.5h0M118.8 202.6h0M90.5 200.4h0M117.0 203.6h0M116.2 201.7h0M102.0 201.9h0M101.4 200.7h0M122.3 202.7h0M89.2 202.9h0M113.8 202.1h0M110.1 200.4h0M128.2 201.4h0M94.7 203.1h0M122.1 202.8h0M75.4 202.7h0M95.5 203.5h0M115.8 200.8h0M94.5 201.9h0M83.6 203.0h0" stroke="#dca8a0" stroke-width="0.9" stroke-linecap="round"/>
<path d="M127.9 202.9h0M105.6 202.9h0M99.6 203.9h0M123.3 203.1h0M127.4 200.1h0M109.0 202.2h0M108.3 202.1h0M127.6 201.7h0M102.3 202.2h0M104.2 201.4h0M83.0 202.0h0M82.3 202.0h0M119.0 202.5h0M96.1 201.3h0" stroke="#b4bee2" stroke-width="0.9" stroke-linecap="round"/>
<path d="M114.5 201.5h0M126.8 200.4h0M95.4 201.4h0M108.9 202.3h0M118.7 200.0h0M120.8 201.9h0M92.8 201.1h0M85.8 200.9h0M110.2 201.6h0M127.4 202.6h0M121.5 201.6h0M85.1 202.6h0" stroke="#8898d0" stroke-width="0.9" stroke-linecap="round"/>
<path d="M115.0 202.3h0M94.9 200.9h0M90.0 202.4h0M93.1 202.8h0M120.7 203.2h0M120.4 202.3h0M119.1 202.8h0M81.5 200.7h0M90.4 202.2h0M97.0 201.0h0M122.4 202.1h0M136.7 201.2h0M123.0 202.4h0M80.6 202.1h0M137.3 201.7h0M85.7 200.7h0M85.9 201.4h0M98.5 202.8h0" stroke="#d0c8d4" stroke-width="0.9" stroke-linecap="round"/>
<path d="M93.3 202.5h0M95.3 202.0h0M91.7 203.0h0M119.8 202.4h0M113.2 203.2h0M121.2 202.3h0M107.3 202.0h0M120.3 203.1h0M114.2 201.9h0M73.6 202.1h0M132.2 201.9h0M119.0 203.1h0M122.4 200.4h0M125.9 202.4h0M130.8 201.8h0M104.3 201.9h0M96.9 203.2h0" stroke="#7888c8" stroke-width="0.9" stroke-linecap="round"/>
<path d="M95.0 202.1h0M128.3 202.5h0M112.7 202.2h0M100.3 202.4h0M127.3 202.1h0M100.2 202.1h0M104.4 202.0h0M117.5 202.2h0M97.0 201.3h0M114.0 201.8h0M85.6 201.5h0M124.1 201.8h0M111.1 201.8h0M109.8 200.3h0M99.1 203.5h0M112.6 201.3h0M136.9 202.2h0" stroke="#98a8d8" stroke-width="0.9" stroke-linecap="round"/>
<path d="M126.6 202.0h0M79.8 201.6h0M90.3 201.6h0M97.5 201.5h0M123.0 203.2h0M126.8 202.1h0M107.6 199.4h0M99.3 201.7h0M134.6 202.4h0M110.5 201.5h0M99.2 201.1h0M107.2 204.8h0" stroke="#c4cce8" stroke-width="0.9" stroke-linecap="round"/>
<text x="22.6" y="210.4" font-size="2.5" text-anchor="end" fill="#333">latent1</text>
<line x1="23.3" y1="209.5" x2="24.5" y2="209.5" stroke="#888" stroke-width="0.5" />
<ellipse cx="106" cy="209.5" rx="25" ry="1.0" fill="#3e54a8" opacity="0.35"/>
<rect x="85" y="207.6" width="42" height="3.8" rx="1.9" fill="#3e54a8" opacity="0.55"/>
<path d="M110.0 209.9h0M135.1 210.2h0M129.4 209.4h0M105.9 208.9h0M95.4 209.9h0M112.9 209.0h0M100.7 209.7h0M86.0 209.1h0M79.0 209.7h0M103.3 211.9h0M98.9 208.6h0M124.2 208.5h0M93.6 209.5h0" stroke="#283e98" stroke-width="0.9" stroke-linecap="round"/>
<path d="M115.6 209.2h0M69.6 209.2h0M103.6 210.9h0M87.2 209.1h0M88.5 210.1h0M103.7 209.4h0M94.2 209.4h0M105.4 211.4h0M110.7 211.8h0M96.1 209.4h0M112.3 209.4h0M92.5 212.0h0M92.0 208.6h0M138.3 209.4h0M88.1 209.4h0M74.1 210.0h0M92.4 209.3h0" stroke="#5a72c0" stroke-width="0.9" stroke-linecap="round"/>
<path d="M71.6 209.3h0M115.5 209.9h0M124.6 209.5h0M114.5 208.7h0M112.4 209.6h0M106.0 209.3h0M78.5 209.8h0M98.6 210.3h0M97.6 208.7h0M113.6 208.7h0M75.9 208.7h0M88.3 209.4h0" stroke="#4458b0" stroke-width="0.9" stroke-linecap="round"/>
<path d="M100.2 209.3h0M107.8 210.5h0M91.8 209.7h0M117.9 210.0h0M105.2 209.7h0M97.4 209.2h0M112.8 208.2h0M100.3 207.9h0M130.9 210.0h0M88.6 211.4h0M104.8 209.4h0M101.3 209.9h0M108.6 208.9h0M88.2 210.4h0M125.2 208.8h0M114.7 208.6h0M117.2 210.8h0" stroke="#2e46a0" stroke-width="0.9" stroke-linecap="round"/>
<path d="M87.8 209.5h0M106.9 207.8h0M120.8 208.7h0M74.1 209.6h0M99.4 210.3h0M85.6 209.1h0M96.5 209.6h0M120.0 209.1h0M96.7 209.9h0M85.3 210.1h0M96.8 208.4h0M114.9 209.7h0M90.0 208.5h0M103.6 209.6h0M106.9 208.6h0M77.2 209.7h0M110.7 209.2h0M98.8 208.1h0M113.4 209.7h0M111.6 208.4h0" stroke="#3a50a8" stroke-width="0.9" stroke-linecap="round"/>
<path d="M125.6 209.9h0M95.8 211.0h0M112.8 210.4h0M108.9 209.2h0M115.4 211.8h0M73.6 209.4h0M113.5 211.9h0M103.9 210.9h0M104.1 208.0h0M116.6 210.4h0M108.9 208.9h0M85.7 209.3h0M92.6 209.2h0M99.3 209.7h0M98.6 207.0h0M134.1 209.4h0M94.3 210.3h0M111.1 209.9h0M85.2 210.2h0" stroke="#4a62b8" stroke-width="0.9" stroke-linecap="round"/>
<path d="M80.5 208.9h0M111.0 209.8h0M109.8 208.7h0M88.3 208.4h0M101.6 208.9h0M72.9 210.1h0M116.0 209.1h0M117.0 209.7h0M94.3 210.4h0M115.1 209.4h0M95.2 208.2h0M91.9 210.5h0" stroke="#7088cc" stroke-width="0.9" stroke-linecap="round"/>
<text x="22.6" y="218.08" font-size="2.5" text-anchor="end" fill="#333">latent2</text>
<line x1="23.3" y1="217.18" x2="24.5" y2="217.18" stroke="#888" stroke-width="0.5" />
<ellipse cx="103.75" cy="217.18" rx="25.75" ry="1.0" fill="#3e54a8" opacity="0.35"/>
<rect x="82" y="215.28" width="43.5" height="3.8" rx="1.9" fill="#3e54a8" opacity="0.55"/>
<path d="M92.8 217.5h0M112.3 217.0h0M90.4 216.8h0M105.2 217.1h0M84.7 216.3h0M85.7 216.8h0M117.4 217.8h0M119.2 216.9h0M120.0 217.7h0M120.6 217.2h0M144.7 216.9h0M122.8 217.1h0M132.4 217.8h0M105.6 216.2h0M129.5 217.3h0M98.6 219.2h0M83.0 215.0h0M129.6 217.1h0M107.5 216.9h0" stroke="#7088cc" stroke-width="0.9" stroke-linecap="round"/>
<path d="M84.0 217.7h0M102.8 217.2h0M93.6 217.5h0M83.5 217.7h0M129.7 217.3h0M85.9 217.1h0M90.6 218.4h0M115.7 216.1h0M102.3 216.6h0M117.7 218.0h0M85.5 216.2h0M92.8 217.9h0M137.1 217.1h0M82.8 216.0h0M94.1 215.5h0M100.3 216.1h0M101.4 218.0h0" stroke="#3a50a8" stroke-width="0.9" stroke-linecap="round"/>
<path d="M122.7 217.7h0M97.2 217.1h0M99.0 217.1h0M145.1 216.6h0M91.7 217.3h0M122.3 217.9h0M86.6 215.8h0M118.2 216.6h0M98.8 217.7h0M117.4 216.8h0M141.4 217.9h0M88.5 216.8h0M67.1 217.4h0M145.2 217.3h0M126.9 216.8h0M97.5 218.1h0" stroke="#2e46a0" stroke-width="0.9" stroke-linecap="round"/>
<path d="M103.8 218.9h0M122.4 216.9h0M104.3 216.9h0M112.1 215.6h0M92.3 217.8h0M118.2 216.4h0M97.4 216.8h0M118.5 218.3h0M100.1 218.3h0M83.0 217.0h0M106.1 217.1h0M100.1 216.9h0M95.2 219.2h0" stroke="#4a62b8" stroke-width="0.9" stroke-linecap="round"/>
<path d="M88.6 215.5h0M142.2 217.3h0M96.9 216.3h0M109.1 216.8h0M94.5 217.5h0M105.1 216.9h0M126.1 217.0h0M141.6 216.8h0M111.4 217.5h0M113.0 217.0h0M95.9 216.9h0M128.9 216.6h0M101.8 216.2h0M97.0 215.6h0M86.0 215.3h0M73.2 217.1h0M110.2 216.2h0M116.1 216.5h0M108.2 217.0h0M91.4 215.5h0M134.9 217.5h0M92.1 217.7h0" stroke="#283e98" stroke-width="0.9" stroke-linecap="round"/>
<path d="M103.0 216.5h0M122.8 218.2h0M93.3 217.1h0M90.4 217.6h0M84.9 217.1h0M95.5 216.5h0M89.9 215.7h0M65.9 217.6h0M88.3 216.0h0M139.5 218.1h0M90.0 218.2h0M103.8 217.3h0" stroke="#5a72c0" stroke-width="0.9" stroke-linecap="round"/>
<path d="M114.7 216.9h0M140.5 216.6h0M119.3 217.6h0M92.6 215.7h0M123.6 215.1h0M120.0 216.8h0M87.4 217.4h0M100.1 215.7h0M80.0 218.3h0M111.9 215.9h0M90.6 216.6h0" stroke="#4458b0" stroke-width="0.9" stroke-linecap="round"/>
<text x="22.6" y="225.76" font-size="2.5" text-anchor="end" fill="#333">TC</text>
<line x1="23.3" y1="224.86" x2="24.5" y2="224.86" stroke="#888" stroke-width="0.5" />
<ellipse cx="105" cy="224.86" rx="27" ry="1.0" fill="#3e54a8" opacity="0.35"/>
<rect x="82" y="222.96" width="46" height="3.8" rx="1.9" fill="#3e54a8" opacity="0.55"/>
<path d="M96.0 224.3h0M113.1 225.7h0M92.5 225.6h0M90.9 224.7h0M115.6 223.6h0M84.6 225.0h0M123.1 225.2h0M106.4 223.5h0M122.3 224.0h0M117.5 223.6h0M103.3 225.5h0M87.5 224.1h0M115.1 224.4h0M120.6 222.9h0M122.2 227.7h0M124.3 224.7h0M117.1 223.3h0M126.1 226.7h0M98.6 224.2h0M91.6 225.9h0M120.5 225.4h0M81.1 224.7h0M101.1 226.9h0M99.7 224.0h0M113.3 224.9h0" stroke="#7088cc" stroke-width="0.9" stroke-linecap="round"/>
<path d="M121.8 223.0h0M83.9 225.1h0M113.2 224.1h0M103.9 224.4h0M99.8 223.4h0M122.5 224.3h0M113.7 225.7h0M123.1 226.1h0M107.8 225.1h0M117.0 225.0h0M121.2 225.3h0M118.4 225.4h0M99.6 224.2h0M99.0 224.6h0M95.2 225.4h0M108.4 224.4h0" stroke="#4458b0" stroke-width="0.9" stroke-linecap="round"/>
<path d="M124.3 223.7h0M89.7 225.0h0M127.0 223.9h0M115.5 226.1h0M80.7 224.6h0M124.3 228.1h0M110.7 225.5h0" stroke="#5a72c0" stroke-width="0.9" stroke-linecap="round"/>
<path d="M132.9 225.3h0M97.6 225.4h0M85.4 224.8h0M115.9 224.7h0M109.0 225.2h0M90.3 223.7h0M118.3 225.2h0M109.6 224.8h0M126.6 223.8h0M104.1 222.4h0M86.5 223.3h0M116.1 226.2h0M83.0 223.3h0M91.5 226.0h0M131.4 224.5h0M87.5 224.0h0M119.9 225.5h0M89.3 224.9h0M92.1 223.9h0M88.5 225.3h0M103.3 224.9h0" stroke="#4a62b8" stroke-width="0.9" stroke-linecap="round"/>
<path d="M100.5 225.1h0M112.9 225.3h0M93.9 224.9h0M124.6 224.5h0M99.0 225.9h0M109.4 224.5h0M92.9 223.2h0M123.2 223.8h0" stroke="#283e98" stroke-width="0.9" stroke-linecap="round"/>
<path d="M104.8 223.5h0M118.4 226.5h0M123.0 226.5h0M111.7 225.5h0M99.3 223.5h0M117.2 223.7h0M105.2 224.0h0M118.1 226.7h0M84.8 226.7h0M104.1 226.8h0M86.5 222.2h0M122.8 224.9h0M87.2 226.0h0M117.4 224.4h0M91.9 225.7h0M99.1 224.5h0M87.1 225.0h0M99.8 226.2h0" stroke="#2e46a0" stroke-width="0.9" stroke-linecap="round"/>
<path d="M121.4 225.7h0M130.4 225.0h0M100.8 223.8h0M122.9 222.9h0M112.4 224.3h0M88.5 224.2h0M135.3 224.1h0M95.5 223.3h0M117.7 224.8h0M104.0 224.3h0M126.8 224.3h0M75.9 225.0h0M122.1 225.1h0M83.9 228.0h0M105.1 224.4h0" stroke="#3a50a8" stroke-width="0.9" stroke-linecap="round"/>
<text x="22.6" y="233.44" font-size="2.5" text-anchor="end" fill="#333">AST</text>
<line x1="23.3" y1="232.54" x2="24.5" y2="232.54" stroke="#888" stroke-width="0.5" />
<ellipse cx="102" cy="232.54" rx="26" ry="1.0" fill="#3e54a8" opacity="0.35"/>
<rect x="80" y="230.64" width="44" height="3.8" rx="1.9" fill="#3e54a8" opacity="0.55"/>
<path d="M88.0 232.9h0M114.4 233.3h0M109.5 232.8h0M75.9 233.0h0M99.6 232.4h0M109.8 231.5h0M122.3 231.1h0M82.3 232.3h0M85.3 232.8h0M102.4 233.0h0M81.7 233.1h0M97.0 232.7h0M98.4 233.7h0M88.0 231.2h0" stroke="#2e46a0" stroke-width="0.9" stroke-linecap="round"/>
<path d="M89.2 232.7h0M94.8 230.9h0M88.7 232.9h0M117.2 232.9h0M110.7 230.1h0M117.4 231.3h0M111.7 232.5h0M97.5 231.9h0M105.8 231.8h0M125.2 232.7h0M114.7 232.1h0M118.3 232.4h0M108.1 233.5h0M108.8 233.6h0M89.2 233.4h0M122.7 232.4h0M82.2 232.5h0" stroke="#3a50a8" stroke-width="0.9" stroke-linecap="round"/>
<path d="M93.6 230.2h0M120.0 232.3h0M112.9 232.9h0M121.1 233.0h0M119.2 230.9h0M95.8 232.6h0M86.8 233.4h0M111.5 231.6h0M109.7 231.9h0M121.1 232.0h0M94.7 232.5h0M97.9 232.5h0M69.8 233.3h0M88.7 232.7h0M107.0 234.2h0M107.1 233.7h0M103.7 235.1h0M99.7 233.0h0" stroke="#4a62b8" stroke-width="0.9" stroke-linecap="round"/>
<path d="M87.6 232.4h0M89.8 233.1h0M103.2 232.6h0M111.3 232.1h0M103.4 232.9h0M81.0 233.3h0M91.0 233.6h0M129.5 231.9h0M95.0 231.4h0M91.9 231.9h0M85.8 232.0h0M111.4 230.8h0M106.4 233.0h0M80.2 232.2h0M102.5 231.4h0M92.8 231.9h0M122.4 233.3h0" stroke="#5a72c0" stroke-width="0.9" stroke-linecap="round"/>
<path d="M101.9 231.5h0M87.5 233.0h0M122.0 232.2h0M85.1 232.1h0M122.0 230.6h0M88.2 231.8h0M92.9 232.0h0M88.7 233.2h0M82.4 232.0h0M88.2 232.1h0M102.7 232.1h0M75.3 232.8h0M111.0 233.7h0M93.2 233.4h0M112.7 232.3h0M84.7 232.9h0" stroke="#283e98" stroke-width="0.9" stroke-linecap="round"/>
<path d="M99.1 233.5h0M90.6 231.0h0M92.7 232.0h0M123.6 232.7h0M102.1 231.9h0M99.2 231.5h0M94.2 233.8h0M121.9 232.7h0M79.5 232.7h0M96.4 232.6h0M92.7 232.2h0M92.1 232.6h0M85.0 231.2h0M118.3 232.2h0M69.4 232.6h0M87.0 232.3h0" stroke="#7088cc" stroke-width="0.9" stroke-linecap="round"/>
<path d="M85.8 235.3h0M93.5 232.5h0M120.0 233.0h0M105.9 232.7h0M71.4 232.3h0M94.8 232.4h0M80.2 233.2h0M88.0 232.3h0M87.7 233.3h0M110.3 233.4h0M69.5 232.3h0M95.5 233.3h0" stroke="#4458b0" stroke-width="0.9" stroke-linecap="round"/>
<text x="22.6" y="241.12" font-size="2.5" text-anchor="end" fill="#333">age</text>
<line x1="23.3" y1="240.22" x2="24.5" y2="240.22" stroke="#888" stroke-width="0.5" />
<ellipse cx="103" cy="240.22" rx="25" ry="1.0" fill="#3e54a8" opacity="0.35"/>
<rect x="82" y="238.32" width="42" height="3.8" rx="1.9" fill="#3e54a8" opacity="0.55"/>
<path d="M110.8 238.9h0M111.2 239.7h0M99.2 238.5h0M88.3 241.5h0M121.8 240.9h0M114.8 239.7h0M84.0 240.3h0M84.1 240.7h0M102.5 238.3h0M121.2 240.8h0M102.2 240.0h0M93.8 239.6h0M103.7 238.8h0M109.3 239.7h0M89.9 241.6h0M82.0 240.4h0M103.2 239.6h0M116.1 239.1h0" stroke="#4a62b8" stroke-width="0.9" stroke-linecap="round"/>
<path d="M104.8 240.4h0M115.2 240.7h0M113.7 240.5h0M96.6 240.1h0M114.1 238.8h0M76.1 240.1h0M101.6 241.0h0M86.2 238.9h0M119.7 239.6h0M86.3 239.4h0M113.5 240.7h0M100.5 240.6h0M119.4 239.4h0M109.6 240.1h0M101.5 239.0h0M103.8 241.1h0M83.4 239.8h0M89.8 238.5h0M131.0 240.2h0M90.1 239.3h0M123.0 239.9h0M92.1 239.3h0M108.4 238.4h0" stroke="#5a72c0" stroke-width="0.9" stroke-linecap="round"/>
<path d="M98.2 241.0h0M100.4 242.0h0M108.3 241.4h0M80.8 240.8h0M90.6 238.5h0M85.6 239.5h0M77.4 240.2h0M112.4 239.8h0M79.7 239.8h0M103.3 241.0h0M122.7 239.0h0M112.2 240.9h0M127.8 240.6h0M98.4 238.4h0M117.6 239.3h0" stroke="#2e46a0" stroke-width="0.9" stroke-linecap="round"/>
<path d="M122.1 242.6h0M92.4 240.1h0M78.7 240.2h0M103.8 238.4h0M103.2 239.0h0M120.4 238.9h0M116.2 239.7h0M116.0 239.8h0M88.0 241.1h0" stroke="#4458b0" stroke-width="0.9" stroke-linecap="round"/>
<path d="M103.1 241.9h0M86.0 241.4h0M102.2 241.5h0M98.3 240.2h0M99.1 240.8h0M115.4 239.5h0M73.2 240.4h0M91.0 241.3h0M101.2 239.6h0M92.8 239.9h0M109.3 241.9h0M119.6 241.2h0M97.7 240.0h0M83.8 239.2h0" stroke="#7088cc" stroke-width="0.9" stroke-linecap="round"/>
<path d="M106.9 241.6h0M103.2 241.3h0M123.2 241.0h0M92.6 240.8h0M94.4 240.1h0M104.3 240.3h0M87.4 239.8h0M109.1 240.5h0M100.9 239.6h0M115.2 241.1h0M85.6 241.3h0M96.3 239.6h0M118.0 241.3h0M97.5 240.8h0M77.9 240.4h0" stroke="#283e98" stroke-width="0.9" stroke-linecap="round"/>
<path d="M76.5 240.6h0M114.6 240.8h0M114.8 240.9h0M101.5 242.6h0M97.5 242.2h0M108.1 239.1h0M93.5 240.5h0M120.8 239.6h0M101.9 238.6h0M103.6 239.7h0M76.5 239.9h0M110.7 240.2h0M89.4 238.4h0M105.9 240.4h0M90.6 241.9h0M90.9 241.4h0" stroke="#3a50a8" stroke-width="0.9" stroke-linecap="round"/>
<defs><linearGradient id="cw" x1="0" y1="0" x2="0" y2="1"><stop offset="0" stop-color="#b85a54"/><stop offset="0.25" stop-color="#dd9d8c"/><stop offset="0.5" stop-color="#e2dcdc"/><stop offset="0.75" stop-color="#a9b9e0"/><stop offset="1" stop-color="#6676b8"/></linearGradient></defs>
<rect x="195.4" y="136.9" width="5.3" height="98.7" fill="url(#cw)" />
<line x1="200.7" y1="136.9" x2="201.6" y2="136.9" stroke="#777" stroke-width="0.4" />
<text x="202.2" y="137.5" font-size="1.7" fill="#555">1.00</text>
<line x1="200.7" y1="156.64" x2="201.6" y2="156.64" stroke="#777" stroke-width="0.4" />
<text x="202.2" y="157.24" font-size="1.7" fill="#555">0.75</text>
<line x1="200.7" y1="176.38" x2="201.6" y2="176.38" stroke="#777" stroke-width="0.4" />
<text x="202.2" y="176.98" font-size="1.7" fill="#555">0.50</text>
<line x1="200.7" y1="196.12" x2="201.6" y2="196.12" stroke="#777" stroke-width="0.4" />
<text x="202.2" y="196.72" font-size="1.7" fill="#555">0.25</text>
<line x1="200.7" y1="215.86" x2="201.6" y2="215.86" stroke="#777" stroke-width="0.4" />
<text x="202.2" y="216.46" font-size="1.7" fill="#555">0.00</text>
<line x1="200.7" y1="235.6" x2="201.6" y2="235.6" stroke="#777" stroke-width="0.4" />
<text x="202.2" y="236.2" font-size="1.7" fill="#555">-0.25</text>
<text x="208.4" y="186" font-size="2.3" text-anchor="middle" fill="#444" transform="rotate(-90 208.4 186)">Feature value</text>
<text x="211" y="186" font-size="2.3" text-anchor="middle" fill="#444" transform="rotate(-90 211 186)">(blue = low, red = high)</text>
<circle cx="242.4" cy="104.1" r="26.2" fill="#e3f1f4" stroke="#6fa3d2" stroke-width="0.8"/>
<circle cx="242.3" cy="138.4" r="26.1" fill="#f2e1de" fill-opacity="0.9" stroke="#e3a275" stroke-width="0.8"/>
<clipPath id="vc"><circle cx="242.4" cy="104.1" r="26.2"/></clipPath>
<circle cx="242.3" cy="138.4" r="26.1" fill="#dde2e4" clip-path="url(#vc)"/>
<circle cx="242.4" cy="104.1" r="26.2" fill="none" stroke="#6fa3d2" stroke-width="0.8"/>
<circle cx="242.3" cy="138.4" r="26.1" fill="none" stroke="#e3a275" stroke-width="0.8"/>
<text x="243.5" y="92.8" font-size="4.6" text-anchor="middle" font-weight="bold" fill="#3d6594">VAE</text>
<text x="243.5" y="97.9" font-size="4.6" text-anchor="middle" font-weight="bold" fill="#3d6594">Top15</text>
<text x="243.2" y="118.5" font-size="4.6" text-anchor="middle" font-weight="bold" fill="#c24848">10</text>
<text x="243.2" y="124.1" font-size="4.6" text-anchor="middle" font-weight="bold" fill="#c24848">features</text>
<text x="243.2" y="146.2" font-size="4.6" text-anchor="middle" font-weight="bold" fill="#e0844e">SHAP</text>
<text x="243.2" y="151.6" font-size="4.6" text-anchor="middle" font-weight="bold" fill="#e0844e">Top15</text>
<line x1="258" y1="121.3" x2="294" y2="121.3" stroke="#4a58a0" stroke-width="0.7" />
<path d="M296.3,121.3 L292.3,119.4 L292.3,123.2 Z" fill="#4a58a0"/>
<text x="320.8" y="111.9" font-size="6.3" text-anchor="middle" fill="#111">HDL-C, TG,</text>
<text x="320.8" y="118.9" font-size="6.3" text-anchor="middle" fill="#111">SBP,ALT,</text>
<text x="320.8" y="125.9" font-size="6.3" text-anchor="middle" fill="#111">HbA1c, LDL-C,</text>
<text x="320.8" y="132.9" font-size="6.3" text-anchor="middle" fill="#111">Cr, heart rate,</text>
<text x="320.8" y="139.9" font-size="6.3" text-anchor="middle" fill="#111">DBP and BMI</text>
<text x="399.3" y="17.8" font-size="6.8" fill="#222" textLength="109" lengthAdjust="spacingAndGlyphs">Regression Coefficients with 95% CI</text>
<line x1="433.45" y1="22" x2="433.45" y2="225.3" stroke="#ebebeb" stroke-width="0.6" />
<line x1="470.7" y1="22" x2="470.7" y2="225.3" stroke="#ebebeb" stroke-width="1" />
<line x1="507.95" y1="22" x2="507.95" y2="225.3" stroke="#ebebeb" stroke-width="0.6" />
<line x1="582.45" y1="22" x2="582.45" y2="225.3" stroke="#ebebeb" stroke-width="0.6" />
<line x1="619.7" y1="22" x2="619.7" y2="225.3" stroke="#ebebeb" stroke-width="1" />
<line x1="399" y1="34.1" x2="621" y2="34.1" stroke="#ebebeb" stroke-width="1.1" />
<text x="396.6" y="35.7" font-size="4.5" text-anchor="end" fill="#4d4d4d">HDL−C</text>
<line x1="399" y1="54.1" x2="621" y2="54.1" stroke="#ebebeb" stroke-width="1.1" />
<text x="396.6" y="55.7" font-size="4.5" text-anchor="end" fill="#4d4d4d">LDL−C</text>
<line x1="399" y1="74.1" x2="621" y2="74.1" stroke="#ebebeb" stroke-width="1.1" />
<text x="396.6" y="75.7" font-size="4.5" text-anchor="end" fill="#4d4d4d">BMI</text>
<line x1="399" y1="94.1" x2="621" y2="94.1" stroke="#ebebeb" stroke-width="1.1" />
<text x="396.6" y="95.7" font-size="4.5" text-anchor="end" fill="#4d4d4d">HR</text>
<line x1="399" y1="114.1" x2="621" y2="114.1" stroke="#ebebeb" stroke-width="1.1" />
<text x="396.6" y="115.7" font-size="4.5" text-anchor="end" fill="#4d4d4d">CREAT</text>
<line x1="399" y1="134.1" x2="621" y2="134.1" stroke="#ebebeb" stroke-width="1.1" />
<text x="396.6" y="135.7" font-size="4.5" text-anchor="end" fill="#4d4d4d">HbA1c</text>
<line x1="399" y1="154.1" x2="621" y2="154.1" stroke="#ebebeb" stroke-width="1.1" />
<text x="396.6" y="155.7" font-size="4.5" text-anchor="end" fill="#4d4d4d">SBP</text>
<line x1="399" y1="174.1" x2="621" y2="174.1" stroke="#ebebeb" stroke-width="1.1" />
<text x="396.6" y="175.7" font-size="4.5" text-anchor="end" fill="#4d4d4d">DBP</text>
<line x1="399" y1="194.1" x2="621" y2="194.1" stroke="#ebebeb" stroke-width="1.1" />
<text x="396.6" y="195.7" font-size="4.5" text-anchor="end" fill="#4d4d4d">ALT</text>
<line x1="399" y1="214.1" x2="621" y2="214.1" stroke="#ebebeb" stroke-width="1.1" />
<text x="396.6" y="215.7" font-size="4.5" text-anchor="end" fill="#4d4d4d">TRIG</text>
<line x1="545.2" y1="22" x2="545.2" y2="225.5" stroke="#111" stroke-width="1.5" stroke-dasharray="4.3,5.7" stroke-dashoffset="1.8"/>
<text x="470.7" y="231.7" font-size="4.1" text-anchor="middle" fill="#4d4d4d">−0.5</text>
<text x="545.2" y="231.7" font-size="4.1" text-anchor="middle" fill="#4d4d4d">0.0</text>
<text x="619.7" y="231.7" font-size="4.1" text-anchor="middle" fill="#4d4d4d">0.5</text>
<text x="510" y="238.8" font-size="5.7" text-anchor="middle" fill="#222">Regression Coefficient</text>
<text x="379.2" y="124.2" font-size="5.7" text-anchor="middle" fill="#222" transform="rotate(-90 379.2 124.2)">Model</text>
<line x1="566.21" y1="34.1" x2="569.79" y2="34.1" stroke="#f2756d" stroke-width="1.2" />
<line x1="566.21" y1="30.8" x2="566.21" y2="37.4" stroke="#f2756d" stroke-width="1.2" />
<line x1="569.79" y1="30.8" x2="569.79" y2="37.4" stroke="#f2756d" stroke-width="1.2" />
<circle cx="568" cy="34.1" r="2.1" fill="#f2756d"/>
<line x1="605.4" y1="34.1" x2="609.27" y2="34.1" stroke="#1db9bd" stroke-width="1.2" />
<line x1="605.4" y1="30.8" x2="605.4" y2="37.4" stroke="#1db9bd" stroke-width="1.2" />
<line x1="609.27" y1="30.8" x2="609.27" y2="37.4" stroke="#1db9bd" stroke-width="1.2" />
<circle cx="607.33" cy="34.1" r="2.1" fill="#1db9bd"/>
<line x1="539.24" y1="54.1" x2="542.82" y2="54.1" stroke="#f2756d" stroke-width="1.2" />
<line x1="539.24" y1="50.8" x2="539.24" y2="57.4" stroke="#f2756d" stroke-width="1.2" />
<line x1="542.82" y1="50.8" x2="542.82" y2="57.4" stroke="#f2756d" stroke-width="1.2" />
<circle cx="541.03" cy="54.1" r="2.1" fill="#f2756d"/>
<line x1="607.33" y1="54.1" x2="611.21" y2="54.1" stroke="#1db9bd" stroke-width="1.2" />
<line x1="607.33" y1="50.8" x2="607.33" y2="57.4" stroke="#1db9bd" stroke-width="1.2" />
<line x1="611.21" y1="50.8" x2="611.21" y2="57.4" stroke="#1db9bd" stroke-width="1.2" />
<circle cx="609.27" cy="54.1" r="2.1" fill="#1db9bd"/>
<line x1="547.29" y1="74.1" x2="550.86" y2="74.1" stroke="#f2756d" stroke-width="1.2" />
<line x1="547.29" y1="70.8" x2="547.29" y2="77.4" stroke="#f2756d" stroke-width="1.2" />
<line x1="550.86" y1="70.8" x2="550.86" y2="77.4" stroke="#f2756d" stroke-width="1.2" />
<circle cx="549.07" cy="74.1" r="2.1" fill="#f2756d"/>
<line x1="572.91" y1="74.1" x2="577.09" y2="74.1" stroke="#1db9bd" stroke-width="1.2" />
<line x1="572.91" y1="70.8" x2="572.91" y2="77.4" stroke="#1db9bd" stroke-width="1.2" />
<line x1="577.09" y1="70.8" x2="577.09" y2="77.4" stroke="#1db9bd" stroke-width="1.2" />
<circle cx="575" cy="74.1" r="2.1" fill="#1db9bd"/>
<line x1="546.24" y1="94.1" x2="552.8" y2="94.1" stroke="#1db9bd" stroke-width="1.2" />
<line x1="546.24" y1="90.8" x2="546.24" y2="97.4" stroke="#1db9bd" stroke-width="1.2" />
<line x1="552.8" y1="90.8" x2="552.8" y2="97.4" stroke="#1db9bd" stroke-width="1.2" />
<circle cx="549.52" cy="94.1" r="2.1" fill="#1db9bd"/>
<line x1="597.65" y1="94.1" x2="602.42" y2="94.1" stroke="#f2756d" stroke-width="1.2" />
<line x1="597.65" y1="90.8" x2="597.65" y2="97.4" stroke="#f2756d" stroke-width="1.2" />
<line x1="602.42" y1="90.8" x2="602.42" y2="97.4" stroke="#f2756d" stroke-width="1.2" />
<circle cx="600.03" cy="94.1" r="2.1" fill="#f2756d"/>
<line x1="525.09" y1="114.1" x2="534.03" y2="114.1" stroke="#1db9bd" stroke-width="1.2" />
<line x1="525.09" y1="110.8" x2="525.09" y2="117.4" stroke="#1db9bd" stroke-width="1.2" />
<line x1="534.03" y1="110.8" x2="534.03" y2="117.4" stroke="#1db9bd" stroke-width="1.2" />
<circle cx="529.56" cy="114.1" r="2.1" fill="#1db9bd"/>
<line x1="573.51" y1="114.1" x2="578.58" y2="114.1" stroke="#f2756d" stroke-width="1.2" />
<line x1="573.51" y1="110.8" x2="573.51" y2="117.4" stroke="#f2756d" stroke-width="1.2" />
<line x1="578.58" y1="110.8" x2="578.58" y2="117.4" stroke="#f2756d" stroke-width="1.2" />
<circle cx="576.04" cy="114.1" r="2.1" fill="#f2756d"/>
<line x1="549.22" y1="134.1" x2="552.5" y2="134.1" stroke="#f2756d" stroke-width="1.2" />
<line x1="549.22" y1="130.8" x2="549.22" y2="137.4" stroke="#f2756d" stroke-width="1.2" />
<line x1="552.5" y1="130.8" x2="552.5" y2="137.4" stroke="#f2756d" stroke-width="1.2" />
<circle cx="550.86" cy="134.1" r="2.1" fill="#f2756d"/>
<line x1="564.87" y1="134.1" x2="568.44" y2="134.1" stroke="#1db9bd" stroke-width="1.2" />
<line x1="564.87" y1="130.8" x2="564.87" y2="137.4" stroke="#1db9bd" stroke-width="1.2" />
<line x1="568.44" y1="130.8" x2="568.44" y2="137.4" stroke="#1db9bd" stroke-width="1.2" />
<circle cx="566.66" cy="134.1" r="2.1" fill="#1db9bd"/>
<line x1="528.36" y1="154.1" x2="531.64" y2="154.1" stroke="#f2756d" stroke-width="1.2" />
<line x1="528.36" y1="150.8" x2="528.36" y2="157.4" stroke="#f2756d" stroke-width="1.2" />
<line x1="531.64" y1="150.8" x2="531.64" y2="157.4" stroke="#f2756d" stroke-width="1.2" />
<circle cx="530" cy="154.1" r="2.1" fill="#f2756d"/>
<line x1="558.16" y1="154.1" x2="561.74" y2="154.1" stroke="#1db9bd" stroke-width="1.2" />
<line x1="558.16" y1="150.8" x2="558.16" y2="157.4" stroke="#1db9bd" stroke-width="1.2" />
<line x1="561.74" y1="150.8" x2="561.74" y2="157.4" stroke="#1db9bd" stroke-width="1.2" />
<circle cx="559.95" cy="154.1" r="2.1" fill="#1db9bd"/>
<line x1="465.34" y1="174.1" x2="469.81" y2="174.1" stroke="#f2756d" stroke-width="1.2" />
<line x1="465.34" y1="170.8" x2="465.34" y2="177.4" stroke="#f2756d" stroke-width="1.2" />
<line x1="469.81" y1="170.8" x2="469.81" y2="177.4" stroke="#f2756d" stroke-width="1.2" />
<circle cx="467.57" cy="174.1" r="2.1" fill="#f2756d"/>
<line x1="577.24" y1="174.1" x2="582.3" y2="174.1" stroke="#1db9bd" stroke-width="1.2" />
<line x1="577.24" y1="170.8" x2="577.24" y2="177.4" stroke="#1db9bd" stroke-width="1.2" />
<line x1="582.3" y1="170.8" x2="582.3" y2="177.4" stroke="#1db9bd" stroke-width="1.2" />
<circle cx="579.77" cy="174.1" r="2.1" fill="#1db9bd"/>
<line x1="455.65" y1="194.1" x2="466.38" y2="194.1" stroke="#1db9bd" stroke-width="1.2" />
<line x1="455.65" y1="190.8" x2="455.65" y2="197.4" stroke="#1db9bd" stroke-width="1.2" />
<line x1="466.38" y1="190.8" x2="466.38" y2="197.4" stroke="#1db9bd" stroke-width="1.2" />
<circle cx="461.02" cy="194.1" r="2.1" fill="#1db9bd"/>
<line x1="539.69" y1="194.1" x2="547.73" y2="194.1" stroke="#f2756d" stroke-width="1.2" />
<line x1="539.69" y1="190.8" x2="539.69" y2="197.4" stroke="#f2756d" stroke-width="1.2" />
<line x1="547.73" y1="190.8" x2="547.73" y2="197.4" stroke="#f2756d" stroke-width="1.2" />
<circle cx="543.71" cy="194.1" r="2.1" fill="#f2756d"/>
<line x1="409.16" y1="214.1" x2="413.93" y2="214.1" stroke="#1db9bd" stroke-width="1.2" />
<line x1="409.16" y1="210.8" x2="409.16" y2="217.4" stroke="#1db9bd" stroke-width="1.2" />
<line x1="413.93" y1="210.8" x2="413.93" y2="217.4" stroke="#1db9bd" stroke-width="1.2" />
<circle cx="411.55" cy="214.1" r="2.1" fill="#1db9bd"/>
<line x1="523.74" y1="214.1" x2="528.21" y2="214.1" stroke="#f2756d" stroke-width="1.2" />
<line x1="523.74" y1="210.8" x2="523.74" y2="217.4" stroke="#f2756d" stroke-width="1.2" />
<line x1="528.21" y1="210.8" x2="528.21" y2="217.4" stroke="#f2756d" stroke-width="1.2" />
<circle cx="525.98" cy="214.1" r="2.1" fill="#f2756d"/>
<text x="629.8" y="115" font-size="5.5" fill="#222">Dimension</text>
<line x1="630.5" y1="123.6" x2="637.5" y2="123.6" stroke="#f2756d" stroke-width="1.2" />
<line x1="630.5" y1="121.6" x2="630.5" y2="125.6" stroke="#f2756d" stroke-width="1.2" />
<line x1="637.5" y1="121.6" x2="637.5" y2="125.6" stroke="#f2756d" stroke-width="1.2" />
<circle cx="634" cy="123.6" r="1.9" fill="#f2756d"/>
<text x="641.8" y="125.4" font-size="4.5" fill="#333">Dimension1</text>
<line x1="630.5" y1="132.9" x2="637.5" y2="132.9" stroke="#1db9bd" stroke-width="1.2" />
<line x1="630.5" y1="130.9" x2="630.5" y2="134.9" stroke="#1db9bd" stroke-width="1.2" />
<line x1="637.5" y1="130.9" x2="637.5" y2="134.9" stroke="#1db9bd" stroke-width="1.2" />
<circle cx="634" cy="132.9" r="1.9" fill="#1db9bd"/>
<text x="641.8" y="134.7" font-size="4.5" fill="#333">Dimension2</text>
<defs><linearGradient id="tc" x1="0" y1="0" x2="0" y2="1"><stop offset="0" stop-color="#e8392a"/><stop offset="0.2" stop-color="#e85a40"/><stop offset="0.35" stop-color="#e47a62"/><stop offset="0.5" stop-color="#cc9a88"/><stop offset="0.62" stop-color="#b0aa9a"/><stop offset="0.72" stop-color="#90bab6"/><stop offset="0.85" stop-color="#78c4c8"/><stop offset="1" stop-color="#72c6d0"/></linearGradient>
<g id="rT"><ellipse cx="3.8" cy="-27.3" rx="4.3" ry="6.1" transform="rotate(10 3.8 -27.3)" stroke="none"/><path d="M-4,-21C-4.5,-26 -2.5,-30.5 1.5,-32.2" fill="none" stroke-width="5" stroke-linecap="round"/><polygon points="-3.5,-29 1.5,-32.6 4.5,-24 -2.2,-21.2" stroke="none"/></g>
<g id="rS"><path d="M-4,-22C-4.3,-15 -4.2,-8 -4,-2" fill="none" stroke-width="4.4" stroke-linecap="round"/></g>
<g id="rL"><path d="M-20.3,-5.2C-15,-4 -10,-2.5 -5,-1.5" fill="none" stroke-width="5" stroke-linecap="round"/><circle cx="-20.3" cy="-5.3" r="3.8" stroke="none"/></g>
<g id="rU"><path d="M-3,-2C0,-4 3,-6.5 5.6,-8.4" fill="none" stroke-width="4.8" stroke-linecap="round"/><circle cx="5.6" cy="-8.4" r="3.8" stroke="none"/></g>
<g id="rLL"><path d="M-8.5,-0.5C-10.5,2.5 -13,6 -15,11" fill="none" stroke-width="4.8" stroke-linecap="round"/><ellipse cx="-16" cy="19.6" rx="4.8" ry="7.9" transform="rotate(12 -16 19.6)" stroke="none"/></g>
<g id="rC"><path d="M-4,-1C2,0 8,2 13,4.5" fill="none" stroke-width="6.2" stroke-linecap="round"/><path d="M13,4C20,4.4 28,4.2 35,3" fill="none" stroke-width="5.4" stroke-linecap="round"/></g>
<g id="rR"><polygon points="34,-1 36.3,-4.6 38.5,-9 40.3,-13.3 41.4,-15 44.3,-15 47.2,-11.2 50,-7.5 52.5,-2.5 52.2,2 50.2,6 47.5,9.5 45.5,10.8 41.4,7.5 34.2,7" stroke="none"/></g>
<g id="rB"><polygon points="10.3,27.6 12,23 15,20 19.6,19.2 24,20 28,22.5 32,25.5 35.6,29 35,32.5 30,34.5 26,37 23.5,40 18.5,40 15,36 11.5,31.5" stroke="none"/></g>
<g id="rLB"><path d="M13,6C13.5,11 14.5,16 16,20.5" fill="none" stroke-width="6.2" stroke-linecap="round"/></g>
</defs>
<rect x="0.6" y="266.5" width="683.8" height="220.9" fill="none" stroke="#555" stroke-width="1" />
<rect x="0.6" y="508.6" width="277.1" height="110.9" fill="none" stroke="#555" stroke-width="1" />
<line x1="29.5" y1="281.4" x2="29.5" y2="365.3" stroke="#e6e6e6" stroke-width="0.8" />
<line x1="45" y1="281.4" x2="45" y2="365.3" stroke="#dedede" stroke-width="1.1" />
<line x1="60.5" y1="281.4" x2="60.5" y2="365.3" stroke="#e6e6e6" stroke-width="0.8" />
<line x1="76" y1="281.4" x2="76" y2="365.3" stroke="#dedede" stroke-width="1.1" />
<line x1="91.5" y1="281.4" x2="91.5" y2="365.3" stroke="#e6e6e6" stroke-width="0.8" />
<line x1="107" y1="281.4" x2="107" y2="365.3" stroke="#dedede" stroke-width="1.1" />
<line x1="18.3" y1="287.2" x2="108.7" y2="287.2" stroke="#dedede" stroke-width="1.1" />
<line x1="18.3" y1="295.77" x2="108.7" y2="295.77" stroke="#e6e6e6" stroke-width="0.8" />
<line x1="18.3" y1="304.35" x2="108.7" y2="304.35" stroke="#dedede" stroke-width="1.1" />
<line x1="18.3" y1="312.93" x2="108.7" y2="312.93" stroke="#e6e6e6" stroke-width="0.8" />
<line x1="18.3" y1="321.5" x2="108.7" y2="321.5" stroke="#dedede" stroke-width="1.1" />
<line x1="18.3" y1="330.07" x2="108.7" y2="330.07" stroke="#e6e6e6" stroke-width="0.8" />
<line x1="18.3" y1="338.65" x2="108.7" y2="338.65" stroke="#dedede" stroke-width="1.1" />
<line x1="18.3" y1="347.23" x2="108.7" y2="347.23" stroke="#e6e6e6" stroke-width="0.8" />
<line x1="18.3" y1="355.8" x2="108.7" y2="355.8" stroke="#dedede" stroke-width="1.1" />
<line x1="18.3" y1="364.38" x2="108.7" y2="364.38" stroke="#e6e6e6" stroke-width="0.8" />
<g transform="translate(45 321.5) scale(1 1)"><use href="#rT" fill="#79c4c8" stroke="#79c4c8" opacity="0.75"/><use href="#rS" fill="#bfa494" stroke="#bfa494" opacity="0.75"/><use href="#rL" fill="#e46c53" stroke="#e46c53" opacity="0.75"/><use href="#rU" fill="#c2a393" stroke="#c2a393" opacity="0.75"/><use href="#rLL" fill="#e46e56" stroke="#e46e56" opacity="0.75"/><use href="#rC" fill="#e2745d" stroke="#e2745d" opacity="0.75"/><use href="#rR" fill="#7cc3c4" stroke="#7cc3c4" opacity="0.75"/><use href="#rB" fill="#e17a64" stroke="#e17a64" opacity="0.75"/><use href="#rLB" fill="#e2745d" stroke="#e2745d" opacity="0.75"/></g><g transform="translate(45 321.5) scale(0.25 0.25)" stroke-width="9.2" stroke-linecap="round"><path d="M-22 -44h0M178 27h0M24 -100h0M8 -93h0M6 -120h0M168 26h0M188 4h0M150 -6h0M-17 -113h0M48 53h0M184 -16h0M132 114h0M176 -5h0M94 89h0M170 -39h0M184 -6h0M-12 -116h0M88 93h0M111 129h0M144 -1h0M183 -7h0M151 21h0M-16 -40h0M-22 -42h0M153 -20h0M168 5h0M198 16h0M-16 -10h0M170 4h0M-3 -114h0M178 19h0M66 108h0M12 -95h0M172 -22h0M-21 -105h0M-21 -71h0M169 7h0M162 15h0M14 -37h0M176 13h0M10 -121h0M186 -27h0M166 4h0M176 22h0M-13 -67h0M173 -31h0M182 -16h0M174 -14h0M114 119h0M166 -49h0M-11 -99h0M158 12h0M165 9h0M166 19h0M173 30h0M169 -15h0M174 -23h0M-18 -93h0M19 -119h0M-15 -62h0M40 18h0M1 -116h0M46 41h0M12 -130h0M186 0h0M-19 -78h0M103 130h0M29 -37h0M178 -11h0M165 -26h0M194 -20h0M-12 -76h0M40 15h0M174 -28h0M106 103h0M170 -20h0M-77 88h0M191 -30h0M178 -2h0M190 -10h0M-73 82h0M2 -102h0M3 -105h0M-79 80h0M177 -9h0M176 0h0M25 -102h0M121 118h0M-82 -25h0M172 11h0M0 -132h0M18 -101h0M0 -128h0M181 -11h0M104 19h0M-6 -112h0M188 -19h0M62 119h0M80 16h0M188 33h0M90 86h0M-13 5h0M75 107h0M152 -19h0M175 -20h0M173 2h0M16 -110h0M7 -102h0M-18 -67h0M92 22h0M141 5h0M167 -18h0M6 -94h0M-15 -118h0M161 -30h0M198 -24h0M195 21h0M164 -1h0M187 -48h0M145 -27h0M162 -58h0M200 33h0M163 -59h0M118 144h0M126 99h0M110 84h0M4 -85h0M22 -16h0M221 51h0M211 46h0M202 45h0M210 30h0M138 110h0" stroke="#76c5ca"/><path d="M74 128h0M129 124h0M-46 -15h0M71 133h0M90 10h0M72 83h0M-71 66h0M23 -2h0M-53 63h0M-20 -14h0M127 12h0M-78 84h0M106 133h0M24 6h0M94 124h0M112 131h0M186 28h0M-8 -12h0M22 -3h0M-5 -8h0M-63 68h0M175 -36h0M72 9h0M50 9h0M-60 85h0M91 140h0M56 60h0M85 11h0M-22 -32h0M189 -32h0M-60 61h0M-72 83h0M31 2h0M68 105h0M94 107h0M94 120h0M110 96h0M184 3h0M-72 -18h0M-42 18h0M-71 88h0M-6 -8h0M56 46h0M-14 -11h0M112 16h0M-58 62h0M118 13h0M76 138h0M111 118h0M-16 -8h0M56 118h0M87 140h0M61 56h0M59 52h0M62 111h0M78 91h0M66 73h0M-10 2h0M88 12h0M56 15h0M-65 77h0M-21 -72h0M-54 89h0M-22 -2h0M-72 74h0M177 -24h0M84 14h0M-62 70h0M-58 79h0M98 144h0M110 123h0M99 108h0M63 127h0M74 108h0M6 -17h0M-62 75h0M85 10h0M57 68h0M78 128h0M-13 -17h0M51 24h0M97 138h0M9 -115h0M63 68h0M58 116h0M-48 22h0M122 122h0M-13 -70h0M75 114h0M12 -1h0M107 11h0M64 125h0M-16 -75h0M56 108h0M-19 -74h0M63 98h0M72 118h0M78 120h0M78 152h0M81 24h0M20 -41h0M-64 -12h0M-1 5h0M84 99h0M-66 104h0M-64 56h0M105 126h0M66 92h0M66 141h0M30 6h0M120 19h0M169 12h0M92 135h0M114 126h0M99 17h0M58 120h0M61 127h0M84 104h0M-73 -24h0M177 3h0M18 -39h0M84 104h0M-73 67h0M84 136h0M78 116h0M52 52h0M55 50h0M0 -12h0M61 123h0M65 74h0M47 36h0M116 134h0M93 115h0M61 12h0M78 138h0M-85 -13h0M63 91h0M62 63h0M64 19h0M52 32h0M12 8h0M-30 -1h0M-51 -14h0M123 128h0M-24 -4h0M50 32h0M11 7h0M123 108h0M-62 81h0M107 123h0M-39 -4h0M122 18h0M64 85h0M-57 86h0M-44 -18h0M130 124h0M-60 71h0M92 131h0M-64 78h0M19 12h0M147 11h0M103 114h0M-26 -2h0M137 8h0M86 96h0M94 93h0M-12 -2h0M111 98h0M-20 -31h0M49 60h0M96 12h0M89 152h0M14 1h0M89 20h0M3 -25h0M-12 -2h0M100 103h0M53 47h0M60 135h0M162 6h0M-34 2h0M6 6h0M158 24h0M80 20h0M131 123h0M-68 79h0M128 96h0M78 73h0M46 134h0M79 160h0M50 135h0M75 162h0M135 138h0M-68 35h0M-97 -20h0M-84 -5h0M100 163h0M84 165h0M126 142h0" stroke="#e84834"/><path d="M-53 58h0M134 13h0M82 129h0M61 37h0M56 19h0M54 30h0M60 68h0M88 123h0M66 138h0M-8 -1h0M124 105h0M88 83h0M-76 97h0M10 -30h0M142 10h0M82 96h0M21 12h0M39 18h0M100 111h0M-53 78h0M67 16h0M3 8h0M-8 1h0M-35 -1h0M79 84h0M116 15h0M-2 -6h0M75 97h0M141 17h0M70 102h0M49 122h0M57 50h0M84 150h0M-56 60h0M-64 48h0M67 14h0M56 44h0M63 140h0M60 70h0M90 16h0M58 132h0M137 19h0M87 120h0M94 14h0M116 146h0M45 90h0M62 148h0M109 82h0" stroke="#e17a64"/><path d="M10 -124h0M-11 -116h0M170 11h0M10 -112h0M-8 -114h0M177 -9h0M-21 -72h0M21 -124h0M150 -18h0M171 -54h0M159 -38h0M192 16h0M188 17h0M163 -22h0M-21 -22h0M-37 2h0M164 8h0M181 -3h0M163 -34h0M168 -38h0M173 -10h0M184 -37h0M-9 -103h0M142 22h0M151 20h0M10 -91h0M27 -104h0M4 -121h0M198 -7h0M30 -36h0M192 -15h0M202 4h0M192 6h0M74 13h0M184 -39h0M9 -101h0M161 -42h0M172 14h0M176 -2h0M-22 -72h0M135 -9h0M205 -26h0M141 -21h0M208 11h0M176 -63h0M32 -100h0M216 -18h0M145 123h0" stroke="#7dc3c4"/><path d="M160 24h0M-16 -4h0M162 -7h0M-18 -93h0M154 -9h0M28 15h0M164 -26h0M-6 -114h0M175 -17h0M-1 -94h0M88 108h0M182 -19h0M151 19h0M-17 -36h0M5 -128h0M153 -6h0M106 108h0M0 -105h0M14 -102h0M8 -132h0M146 -8h0M15 -105h0M27 -26h0M3 -129h0M182 1h0M160 -39h0M126 8h0M7 -124h0M-3 -124h0M151 -19h0M178 26h0M-16 -11h0M196 20h0M-3 -21h0M-17 -73h0M196 -26h0M21 -122h0M164 3h0M156 -47h0M134 26h0M136 -14h0M152 -41h0M134 25h0M214 36h0M10 -142h0" stroke="#8ebcb8"/><path d="M105 98h0M-65 -14h0M138 20h0M-84 -11h0M108 22h0M86 122h0M119 120h0M50 112h0M79 10h0M135 126h0M-44 12h0M71 134h0M-25 -10h0M6 -28h0M117 116h0M59 80h0M163 23h0M117 9h0M127 15h0M-35 -14h0M-63 44h0M-84 -26h0M-73 -21h0M84 114h0M92 111h0M51 66h0M-80 -17h0M-51 20h0M-47 -9h0M122 12h0M-54 35h0M71 102h0M-46 13h0M60 58h0M44 12h0M-61 100h0M94 141h0M25 8h0M94 133h0M79 131h0M-71 75h0M109 126h0M146 -3h0M56 41h0M52 59h0M-54 87h0M-74 83h0M-65 104h0M115 123h0M69 82h0M-72 -21h0M2 -12h0M-74 -17h0M117 117h0M80 142h0M181 -4h0M-43 10h0M4 -21h0M-81 -26h0M-16 -35h0M60 24h0M201 8h0M172 -29h0M56 94h0M101 8h0M66 131h0M88 148h0M5 -8h0M-85 -21h0M65 22h0M51 68h0M78 104h0M80 24h0M93 127h0M26 -28h0M-47 28h0M62 32h0M-14 -46h0M58 86h0M62 64h0M181 -22h0M-58 89h0M67 84h0M-4 -119h0M-9 -3h0M177 -13h0M64 10h0M57 112h0M1 0h0M203 -1h0M91 12h0M90 154h0M-82 -28h0M56 24h0M51 38h0M-16 -61h0M109 94h0M-69 98h0M105 103h0M2 -20h0M100 108h0M-71 100h0M140 10h0M-8 -108h0M3 -8h0M88 113h0M85 146h0M49 108h0M55 96h0M-26 -6h0M104 153h0M51 84h0M71 160h0M-45 60h0M-64 109h0M-56 107h0M-72 50h0M-80 -40h0M215 7h0M134 130h0" stroke="#e8392a"/><path d="M-2 -17h0M195 -6h0M190 -19h0M16 -120h0M180 2h0M173 -28h0M0 -101h0M198 9h0M14 -106h0M159 -16h0M71 129h0M96 99h0M177 -43h0M148 8h0M21 -120h0M6 -122h0M7 -101h0M195 -17h0M168 -52h0M186 -4h0M12 -104h0M-76 -17h0M14 -110h0M0 -104h0M-68 -14h0M196 3h0M-19 -91h0M172 -24h0M24 -28h0M-4 -12h0M-3 -104h0M11 -116h0M188 5h0M151 17h0M10 -106h0M176 22h0M182 -46h0M194 -10h0M4 -112h0M166 -30h0M55 73h0M11 -102h0M154 18h0M18 -1h0M157 -15h0M78 100h0M178 -6h0M78 110h0M2 -107h0M-19 -100h0M151 25h0M-12 -92h0M5 -128h0M188 -15h0M180 21h0M19 -104h0M-10 -110h0M182 -44h0M6 -109h0M-22 -43h0M-43 9h0M156 -28h0M119 124h0M188 -28h0M-37 0h0M177 18h0M170 -38h0M196 -1h0M21 -113h0M116 130h0M196 2h0M167 -5h0M199 -2h0M-66 97h0M148 16h0M194 20h0M-13 -6h0M-9 -101h0M178 2h0M6 -133h0M174 -4h0M105 141h0M172 -28h0M104 139h0M6 -136h0M-63 -18h0M154 23h0M189 22h0M178 -50h0M134 120h0M-2 -98h0M168 -24h0M182 8h0M90 118h0M162 20h0M156 -22h0M0 -102h0M196 21h0M184 -31h0M0 -121h0M177 0h0M204 -9h0M166 8h0M156 7h0M174 -28h0M190 28h0M-11 -54h0M171 23h0M123 16h0M164 4h0M23 -115h0M131 120h0M-74 97h0M1 -126h0M84 95h0M184 14h0M51 38h0M6 -21h0M172 6h0M193 -21h0M164 4h0M164 -25h0M-83 -12h0M-5 -122h0M90 21h0M82 132h0M196 5h0M-14 -111h0M166 15h0M188 9h0M19 -110h0M60 55h0M169 -40h0M95 108h0M-8 -120h0M-1 -117h0M8 -24h0M27 -105h0M169 27h0M102 118h0M134 118h0M192 23h0M-8 -125h0M30 -28h0M190 12h0M187 -35h0M-14 -29h0M189 43h0M199 30h0M209 -16h0M172 42h0M210 11h0M212 7h0M146 117h0M96 159h0M7 -86h0M13 -82h0M12 -140h0M25 -91h0M0 -138h0M-28 -103h0M-26 5h0M224 -7h0M238 6h0M224 22h0M230 1h0M218 -2h0M18 -145h0M25 -138h0M13 -143h0" stroke="#72c6d0"/><path d="M125 16h0M62 18h0M168 -9h0M-60 81h0M137 124h0M108 116h0M-89 -18h0M-40 -16h0M90 113h0M-49 25h0M88 110h0M70 128h0M-20 -28h0M60 66h0M0 5h0M6 -8h0M-20 -10h0M28 2h0M116 107h0M63 54h0M-51 -18h0M-56 22h0M17 9h0M60 136h0M-70 101h0M76 154h0M28 16h0M3 -17h0M-18 -28h0M-67 82h0M-17 -19h0M170 22h0M118 20h0M-12 -54h0M-90 -27h0M16 12h0M6 -27h0M124 96h0" stroke="#c8a090"/><path d="M145 -6h0M61 44h0M36 16h0M56 18h0M-67 -20h0M-5 -100h0M146 -6h0M-67 95h0M158 0h0M-16 -40h0M58 20h0M180 -42h0M-6 -10h0M20 -109h0M55 68h0M-9 -112h0M20 -23h0M174 -48h0M116 14h0M-20 -58h0M76 146h0M154 -14h0M6 0h0M178 -23h0M-22 -80h0M112 135h0M64 54h0M103 94h0M15 -26h0M174 -13h0M-22 -33h0M28 -34h0" stroke="#a3b3a7"/><path d="M182 -28h0M66 98h0M43 10h0M47 11h0M136 127h0M-21 -20h0M-79 -12h0M14 -35h0M120 20h0M-65 72h0M-44 -14h0M67 11h0M-65 99h0M-45 -17h0M174 13h0M-18 -2h0M-14 -11h0M19 -123h0M86 85h0M-18 -35h0M-41 -11h0M192 18h0M110 135h0M59 99h0M28 11h0M121 103h0M57 58h0M55 75h0M64 78h0M115 117h0M22 0h0M33 -103h0M7 -43h0" stroke="#b7a898"/><path d="M-61 66h0M74 140h0M35 11h0M107 16h0M85 98h0M73 150h0M62 21h0M53 105h0M-48 18h0M66 72h0M76 128h0M48 7h0M-26 -1h0M24 8h0M-52 82h0M112 103h0M-50 68h0M-72 95h0M25 6h0M-60 -12h0M56 15h0M104 107h0M76 98h0M92 126h0M65 99h0M-56 56h0M58 32h0M17 4h0M84 148h0M97 107h0M-37 21h0" stroke="#e5674f"/><path d="M-78 -22h0M93 14h0M-62 84h0M-19 -24h0M53 58h0M70 101h0M59 102h0M90 89h0M75 95h0M63 107h0M11 -4h0M9 2h0M82 154h0M-77 -26h0M82 134h0M94 126h0M116 105h0M116 99h0M9 -24h0M46 12h0M92 146h0M78 13h0M60 125h0M89 22h0M-52 58h0M80 88h0M27 5h0M56 95h0M68 82h0M-57 61h0M-16 2h0M61 118h0M81 82h0M112 18h0M-60 46h0M106 130h0M52 40h0M44 26h0M61 107h0M111 104h0M84 138h0M137 20h0M0 -10h0M-78 91h0M18 -28h0M-53 -10h0M-24 -7h0M33 -36h0M88 94h0M48 54h0M136 5h0M-58 94h0M102 128h0M-13 -4h0M64 98h0M69 160h0M101 160h0M-50 101h0M-74 -6h0M11 -12h0" stroke="#d58d7a"/><path d="M-45 -18h0M12 1h0M138 13h0M-66 56h0M-54 28h0M56 110h0" stroke="#e8563e"/></g>
<text x="17.3" y="288.25" font-size="3" text-anchor="end" font-weight="bold" fill="#3a3a3a">1.0</text>
<text x="17.3" y="305.4" font-size="3" text-anchor="end" font-weight="bold" fill="#3a3a3a">0.5</text>
<text x="17.3" y="322.55" font-size="3" text-anchor="end" font-weight="bold" fill="#3a3a3a">0.0</text>
<text x="17.3" y="339.7" font-size="3" text-anchor="end" font-weight="bold" fill="#3a3a3a">−0.5</text>
<text x="17.3" y="356.85" font-size="3" text-anchor="end" font-weight="bold" fill="#3a3a3a">−1.0</text>
<text x="45" y="369" font-size="3" text-anchor="middle" font-weight="bold" fill="#3a3a3a">0</text>
<text x="76" y="369" font-size="3" text-anchor="middle" font-weight="bold" fill="#3a3a3a">1</text>
<text x="107" y="369" font-size="3" text-anchor="middle" font-weight="bold" fill="#3a3a3a">2</text>
<text x="62.65" y="372.3" font-size="3.3" text-anchor="middle" font-weight="bold" fill="#222">Dimension 1</text>
<text x="10" y="321.5" font-size="3.3" text-anchor="middle" font-weight="bold" fill="#222" transform="rotate(-90 10 321.5)">Dimension 2</text>
<text x="18.8" y="279.4" font-size="4.7" font-weight="bold" fill="#222">BMI (Kg/m2)</text>
<text x="112" y="299.9" font-size="4.6" font-weight="bold" fill="#222">BMI</text>
<rect x="112" y="301.9" width="10.5" height="49.6" fill="url(#tc)" />
<line x1="112" y1="311.6" x2="114.1" y2="311.6" stroke="#fff" stroke-width="0.6" />
<line x1="120.4" y1="311.6" x2="122.5" y2="311.6" stroke="#fff" stroke-width="0.6" />
<text x="124.7" y="313.1" font-size="4.3" font-weight="bold" fill="#222">28</text>
<line x1="112" y1="321.8" x2="114.1" y2="321.8" stroke="#fff" stroke-width="0.6" />
<line x1="120.4" y1="321.8" x2="122.5" y2="321.8" stroke="#fff" stroke-width="0.6" />
<text x="124.7" y="323.3" font-size="4.3" font-weight="bold" fill="#222">26</text>
<line x1="112" y1="331.7" x2="114.1" y2="331.7" stroke="#fff" stroke-width="0.6" />
<line x1="120.4" y1="331.7" x2="122.5" y2="331.7" stroke="#fff" stroke-width="0.6" />
<text x="124.7" y="333.2" font-size="4.3" font-weight="bold" fill="#222">24</text>
<line x1="112" y1="341.5" x2="114.1" y2="341.5" stroke="#fff" stroke-width="0.6" />
<line x1="120.4" y1="341.5" x2="122.5" y2="341.5" stroke="#fff" stroke-width="0.6" />
<text x="124.7" y="343" font-size="4.3" font-weight="bold" fill="#222">22</text>
<line x1="164.2" y1="281.4" x2="164.2" y2="365.3" stroke="#e6e6e6" stroke-width="0.8" />
<line x1="179.7" y1="281.4" x2="179.7" y2="365.3" stroke="#dedede" stroke-width="1.1" />
<line x1="195.2" y1="281.4" x2="195.2" y2="365.3" stroke="#e6e6e6" stroke-width="0.8" />
<line x1="210.7" y1="281.4" x2="210.7" y2="365.3" stroke="#dedede" stroke-width="1.1" />
<line x1="226.2" y1="281.4" x2="226.2" y2="365.3" stroke="#e6e6e6" stroke-width="0.8" />
<line x1="241.7" y1="281.4" x2="241.7" y2="365.3" stroke="#dedede" stroke-width="1.1" />
<line x1="153" y1="287.2" x2="243.4" y2="287.2" stroke="#dedede" stroke-width="1.1" />
<line x1="153" y1="295.77" x2="243.4" y2="295.77" stroke="#e6e6e6" stroke-width="0.8" />
<line x1="153" y1="304.35" x2="243.4" y2="304.35" stroke="#dedede" stroke-width="1.1" />
<line x1="153" y1="312.93" x2="243.4" y2="312.93" stroke="#e6e6e6" stroke-width="0.8" />
<line x1="153" y1="321.5" x2="243.4" y2="321.5" stroke="#dedede" stroke-width="1.1" />
<line x1="153" y1="330.07" x2="243.4" y2="330.07" stroke="#e6e6e6" stroke-width="0.8" />
<line x1="153" y1="338.65" x2="243.4" y2="338.65" stroke="#dedede" stroke-width="1.1" />
<line x1="153" y1="347.23" x2="243.4" y2="347.23" stroke="#e6e6e6" stroke-width="0.8" />
<line x1="153" y1="355.8" x2="243.4" y2="355.8" stroke="#dedede" stroke-width="1.1" />
<line x1="153" y1="364.38" x2="243.4" y2="364.38" stroke="#e6e6e6" stroke-width="0.8" />
<g transform="translate(179.7 321.5) scale(1 1)"><use href="#rT" fill="#dd826d" stroke="#dd826d" opacity="0.75"/><use href="#rS" fill="#d68c78" stroke="#d68c78" opacity="0.75"/><use href="#rL" fill="#d98974" stroke="#d98974" opacity="0.75"/><use href="#rU" fill="#cd9988" stroke="#cd9988" opacity="0.75"/><use href="#rLL" fill="#dd826d" stroke="#dd826d" opacity="0.75"/><use href="#rC" fill="#d98974" stroke="#d98974" opacity="0.75"/><use href="#rR" fill="#dd826d" stroke="#dd826d" opacity="0.75"/><use href="#rB" fill="#e17c65" stroke="#e17c65" opacity="0.75"/><use href="#rLB" fill="#d98974" stroke="#d98974" opacity="0.75"/></g><g transform="translate(179.7 321.5) scale(0.25 0.25)" stroke-width="9.2" stroke-linecap="round"><path d="M-22 -44h0M-53 58h0M-46 -15h0M125 16h0M-65 -14h0M138 20h0M66 98h0M180 2h0M108 22h0M162 -7h0M74 140h0M173 -28h0M23 -2h0M-53 63h0M86 122h0M62 18h0M150 -6h0M-20 -14h0M48 53h0M132 114h0M176 -5h0M159 -16h0M71 134h0M6 -28h0M137 124h0M22 -3h0M177 -9h0M-21 -72h0M88 93h0M175 -36h0M50 9h0M-60 85h0M91 140h0M85 11h0M7 -101h0M144 -1h0M189 -32h0M-60 61h0M195 -17h0M-79 -12h0M168 -52h0M28 15h0M-67 -20h0M183 -7h0M12 -104h0M92 111h0M-89 -18h0M68 105h0M94 120h0M14 -35h0M168 5h0M-42 18h0M122 12h0M71 102h0M-16 -10h0M56 46h0M112 16h0M73 150h0M63 107h0M76 138h0M-16 -8h0M-3 -114h0M66 108h0M88 123h0M66 138h0M67 11h0M94 133h0M9 2h0M59 52h0M162 15h0M182 -46h0M194 -10h0M-65 99h0M4 -112h0M66 73h0M166 4h0M-10 2h0M176 22h0M166 -30h0M88 83h0M-76 97h0M-37 2h0M-21 -72h0M-72 74h0M-14 -11h0M2 -107h0M116 99h0M-17 -36h0M174 -14h0M82 96h0M74 108h0M9 -24h0M-54 87h0M-11 -99h0M-74 83h0M188 -15h0M180 21h0M-62 75h0M19 -123h0M46 12h0M92 146h0M106 108h0M69 82h0M182 -44h0M78 13h0M60 125h0M6 -109h0M51 24h0M117 117h0M-22 -43h0M181 -4h0M156 -28h0M119 124h0M174 -23h0M80 88h0M3 8h0M122 122h0M24 8h0M27 5h0M184 -37h0M64 125h0M28 2h0M68 82h0M40 18h0M1 -116h0M172 -29h0M167 -5h0M116 14h0M186 0h0M-19 -78h0M5 -8h0M199 -2h0M78 152h0M-41 -11h0M81 24h0M-66 97h0M65 22h0M20 -41h0M-56 22h0M-66 104h0M146 -8h0M148 16h0M-9 -101h0M51 68h0M151 20h0M112 18h0M165 -26h0M78 104h0M194 -20h0M-60 46h0M169 12h0M15 -105h0M104 139h0M40 15h0M114 126h0M58 120h0M170 -20h0M178 -50h0M-2 -98h0M-77 88h0M191 -30h0M178 -2h0M-47 28h0M168 -24h0M182 8h0M2 -102h0M156 -22h0M18 -39h0M-60 -12h0M84 104h0M30 -36h0M6 0h0M192 -15h0M-79 80h0M61 107h0M55 50h0M181 -22h0M160 -39h0M-58 89h0M67 84h0M202 4h0M64 19h0M52 32h0M-3 -124h0M-30 -1h0M192 6h0M171 23h0M178 26h0M50 32h0M203 -1h0M11 7h0M164 4h0M90 154h0M-82 -28h0M51 38h0M64 54h0M18 -101h0M60 70h0M0 -128h0M103 94h0M58 132h0M105 103h0M188 -19h0M2 -20h0M55 75h0M-64 78h0M19 12h0M118 20h0M90 86h0M64 78h0M103 114h0M-5 -122h0M90 21h0M-26 -2h0M82 132h0M152 -19h0M115 117h0M-71 100h0M94 93h0M173 2h0M-54 28h0M196 -26h0M16 -110h0M136 5h0M188 9h0M96 12h0M14 1h0M92 22h0M141 5h0M94 14h0M17 4h0M167 -18h0M28 -34h0M6 -94h0M84 148h0M-15 -118h0M169 27h0M134 118h0M195 21h0M162 6h0M55 96h0M6 -27h0M64 98h0M187 -35h0M164 3h0M-68 79h0M135 -9h0M209 -16h0M172 42h0M141 -21h0M212 7h0M136 -14h0M152 -41h0M69 160h0M79 160h0M45 90h0M96 159h0M124 96h0M62 148h0M109 82h0M7 -86h0M12 -140h0M25 -91h0M32 -100h0M-64 109h0M-26 5h0M-50 101h0M-72 50h0M-74 -6h0M22 -16h0M7 -43h0M224 22h0M230 1h0M216 -18h0M215 7h0M134 130h0M138 110h0M84 165h0M10 -142h0M25 -138h0" stroke="#e84834"/><path d="M178 27h0M-6 -8h0M176 22h0M-26 -1h0M178 2h0M-44 -18h0" stroke="#7dc3c4"/><path d="M74 128h0M-2 -17h0M190 -19h0M-61 66h0M36 16h0M93 14h0M-19 -24h0M24 6h0M94 89h0M96 99h0M59 102h0M163 23h0M108 116h0M94 107h0M-16 -40h0M0 -104h0M-65 72h0M-49 25h0M172 -24h0M159 -38h0M-3 -104h0M56 118h0M-16 -40h0M82 154h0M-71 75h0M-65 77h0M174 13h0M18 -1h0M182 -16h0M78 100h0M181 -3h0M151 25h0M-12 -92h0M76 128h0M21 12h0M166 -49h0M85 10h0M100 111h0M19 -104h0M-13 -17h0M97 138h0M80 142h0M142 22h0M88 148h0M14 -102h0M103 130h0M194 20h0M81 82h0M105 126h0M-52 82h0M17 9h0M174 -28h0M60 136h0M189 22h0M134 120h0M-73 -24h0M57 50h0M177 3h0M-73 67h0M52 52h0M61 12h0M-4 -119h0M190 28h0M176 0h0M177 -13h0M123 128h0M1 0h0M-39 -4h0M28 11h0M64 85h0M-16 -61h0M130 124h0M65 99h0M196 20h0M57 58h0M-24 -7h0M188 33h0M100 108h0M137 8h0M196 5h0M-14 -111h0M-17 -73h0M88 94h0M19 -110h0M-18 -67h0M-12 -2h0M8 -24h0M27 -105h0M-8 -125h0M-34 2h0M164 -1h0M6 6h0M158 24h0M156 -47h0M205 -26h0M187 -48h0M145 -27h0M200 33h0M51 84h0M126 99h0M71 160h0M101 160h0M4 -85h0M-97 -20h0M11 -12h0M210 30h0M218 -2h0" stroke="#76c5ca"/><path d="M10 -124h0M105 98h0M61 44h0M195 -6h0M182 -28h0M71 133h0M72 83h0M170 11h0M-71 66h0M168 26h0M119 120h0M168 -9h0M-8 -114h0M50 112h0M135 126h0M170 -39h0M94 124h0M112 131h0M117 116h0M59 80h0M-8 -12h0M-63 68h0M148 8h0M111 129h0M56 60h0M-35 -14h0M-22 -32h0M-73 -21h0M186 -4h0M164 -26h0M84 114h0M151 21h0M-40 -16h0M150 -18h0M-80 -17h0M90 89h0M120 20h0M-47 -9h0M196 3h0M-54 35h0M198 16h0M85 98h0M192 16h0M158 0h0M-4 -12h0M175 -17h0M11 -116h0M111 118h0M-44 -14h0M-61 100h0M94 141h0M11 -4h0M151 17h0M87 140h0M-21 -105h0M-21 -71h0M70 128h0M14 -37h0M94 126h0M10 -121h0M186 -27h0M56 15h0M-21 -22h0M154 18h0M10 -30h0M178 -6h0M180 -42h0M78 110h0M98 144h0M-6 -10h0M63 127h0M163 -34h0M57 68h0M115 123h0M78 128h0M168 -38h0M158 12h0M153 -6h0M-53 78h0M6 -8h0M-72 -21h0M2 -12h0M55 68h0M9 -115h0M-43 9h0M-43 10h0M-81 -26h0M-16 -35h0M196 -1h0M116 130h0M12 -130h0M0 -105h0M72 118h0M116 107h0M-16 2h0M61 118h0M29 -37h0M-1 5h0M84 99h0M66 141h0M-2 -6h0M75 97h0M10 -91h0M-12 -76h0M99 17h0M80 24h0M4 -121h0M154 -14h0M26 -28h0M62 32h0M58 86h0M3 -105h0M76 154h0M198 -7h0M182 1h0M196 21h0M84 136h0M3 -17h0M78 116h0M61 123h0M65 74h0M177 0h0M47 36h0M93 115h0M204 -9h0M166 8h0M84 138h0M-85 -13h0M137 20h0M-22 -80h0M126 8h0M7 -124h0M104 107h0M-9 -3h0M76 98h0M64 10h0M151 -19h0M57 112h0M-24 -4h0M25 -102h0M121 118h0M-17 -19h0M-62 81h0M92 126h0M170 22h0M112 135h0M74 13h0M91 12h0M121 103h0M63 140h0M-74 97h0M84 95h0M184 14h0M109 94h0M104 19h0M184 -39h0M51 38h0M62 119h0M80 16h0M-13 5h0M164 -25h0M147 11h0M9 -101h0M-12 -54h0M174 -13h0M161 -42h0M172 14h0M140 10h0M48 54h0M-20 -31h0M3 -8h0M7 -102h0M176 -2h0M60 55h0M169 -40h0M95 108h0M-13 -4h0M161 -30h0M88 113h0M60 135h0M49 108h0M80 20h0M-26 -6h0M56 110h0M189 43h0M78 73h0M-56 107h0M-37 21h0M-68 35h0M-80 -40h0M-84 -5h0M224 -7h0M211 46h0M100 163h0M18 -145h0" stroke="#e8392a"/><path d="M160 24h0M-11 -116h0M8 -93h0M6 -120h0M134 13h0M43 10h0M10 -112h0M188 4h0M-62 84h0M198 9h0M53 58h0M82 129h0M79 10h0M136 127h0M21 -124h0M127 15h0M61 37h0M21 -120h0M6 -122h0M-63 44h0M-84 -26h0M31 2h0M107 16h0M184 3h0M-72 -18h0M171 -54h0M-51 20h0M-68 -14h0M170 4h0M24 -28h0M-67 95h0M-6 -114h0M-58 62h0M118 13h0M44 12h0M88 110h0M178 19h0M12 -95h0M172 -22h0M25 8h0M169 7h0M53 105h0M-20 -28h0M-77 -26h0M-48 18h0M55 73h0M173 -31h0M-54 89h0M164 8h0M-62 70h0M-58 79h0M151 19h0M56 41h0M0 5h0M-19 -100h0M48 7h0M-65 104h0M5 -128h0M5 -128h0M-10 -110h0M-74 -17h0M166 19h0M-9 -112h0M173 30h0M188 -28h0M169 -15h0M63 68h0M4 -21h0M12 1h0M-18 -93h0M75 114h0M60 24h0M177 18h0M-16 -75h0M-15 -62h0M174 -48h0M56 94h0M-18 -35h0M101 8h0M-35 -1h0M178 -11h0M66 92h0M30 6h0M6 -133h0M174 -4h0M105 141h0M70 102h0M154 23h0M84 104h0M-56 60h0M28 16h0M-18 -28h0M62 64h0M0 -12h0M0 -121h0M177 -9h0M156 7h0M63 91h0M12 8h0M-66 56h0M123 108h0M107 123h0M-69 98h0M181 -11h0M-60 71h0M6 -21h0M193 -21h0M92 131h0M86 96h0M87 120h0M-8 -108h0M-12 -2h0M-22 -33h0M49 60h0M89 152h0M-58 94h0M16 12h0M58 32h0M-1 -117h0M22 0h0M192 23h0M-22 -72h0M30 -28h0M190 12h0M131 123h0M134 26h0M118 144h0M128 96h0M110 84h0M-45 60h0M238 6h0M202 45h0M13 -143h0" stroke="#72c6d0"/><path d="M129 124h0M127 12h0M106 133h0M184 -16h0M-25 -10h0M-22 -42h0M153 -20h0M146 -6h0M-45 -18h0M56 19h0M79 131h0M-45 -17h0M-13 -67h0M60 66h0M116 105h0M-18 -2h0M182 -19h0M84 14h0M165 9h0M58 116h0M107 11h0M-9 -103h0M-19 -74h0M-51 -18h0M-64 -12h0M116 15h0M120 19h0M110 135h0M6 -136h0M-72 95h0M59 99h0M-73 82h0M0 -102h0M111 104h0M116 134h0M174 -28h0M56 44h0M122 18h0M172 11h0M-16 -11h0M90 16h0M172 6h0M33 -36h0M175 -20h0M-14 -29h0M104 153h0M116 146h0M33 -103h0M145 123h0" stroke="#c8a090"/><path d="M145 -6h0M70 101h0M186 28h0M72 9h0M-76 -17h0M-5 -100h0M110 96h0M-19 -91h0M60 58h0M188 17h0M10 -106h0M82 134h0M11 -102h0M58 20h0M177 -24h0M142 10h0M-52 58h0M-13 -70h0M12 -1h0M86 85h0M56 108h0M21 -113h0M66 131h0M63 98h0M8 -132h0M192 18h0M92 135h0M76 146h0M-63 -18h0M49 122h0M27 -26h0M-70 101h0M84 150h0M25 6h0M184 -31h0M178 -23h0M56 15h0M56 24h0M-57 86h0M137 19h0M-90 -27h0M166 15h0M89 20h0M3 -25h0M102 118h0M21 -122h0M208 11h0M210 11h0M163 -59h0M146 117h0M50 135h0M214 36h0" stroke="#d58d7a"/><path d="M90 10h0M24 -100h0M-16 -4h0M-18 -93h0M-78 84h0M14 -106h0M47 11h0M54 30h0M62 21h0M61 56h0M78 91h0M163 -22h0M39 18h0M-20 -10h0M78 120h0M-85 -21h0M-64 56h0M-20 -58h0M106 130h0M44 26h0M-64 48h0M162 20h0M138 13h0M-11 -54h0M18 -28h0M15 -26h0M164 4h0M-56 56h0M198 -24h0M97 107h0M75 162h0M135 138h0" stroke="#b7a898"/><path d="M16 -120h0M0 -101h0M71 129h0M-46 13h0M79 84h0M0 -132h0M111 98h0" stroke="#e8563e"/><path d="M-84 -11h0M56 18h0M35 11h0M-60 81h0M-44 12h0M177 -43h0M51 66h0M90 113h0M75 95h0M-8 -1h0M-1 -94h0M176 13h0M124 105h0M99 108h0M67 16h0M173 -10h0M20 -23h0M201 8h0M19 -119h0M170 -38h0M46 41h0M63 54h0M-13 -6h0M90 118h0M-67 82h0M78 138h0M62 63h0M123 16h0M23 -115h0M-82 -25h0M1 -126h0M-6 -112h0M75 107h0M102 128h0M100 103h0M85 146h0M199 30h0M134 25h0M221 51h0M126 142h0" stroke="#e17a64"/><path d="M-78 -22h0M117 9h0M-72 83h0M14 -110h0M-71 88h0M60 68h0M188 5h0M109 126h0M146 -3h0M52 59h0M89 22h0M-48 22h0M56 95h0M-8 1h0M27 -104h0M61 127h0M93 127h0M0 -10h0M-51 -14h0M131 120h0M-53 -10h0M-3 -21h0M53 47h0M162 -58h0M46 134h0M-28 -103h0" stroke="#a3b3a7"/><path d="M-17 -113h0M-5 -8h0M-12 -116h0M154 -9h0M-21 -20h0M157 -15h0M66 72h0M6 -17h0M196 2h0M112 103h0M-50 68h0M106 103h0M-14 -46h0M67 14h0M-8 -120h0" stroke="#8ebcb8"/><path d="M184 -6h0M-14 -11h0M62 111h0M88 12h0M88 108h0M-22 -2h0M110 123h0M114 119h0M20 -109h0M-37 0h0M-57 61h0M141 17h0M172 -28h0M3 -129h0M52 40h0M190 -10h0M-78 91h0M-83 -12h0M176 -63h0M13 -82h0M0 -138h0" stroke="#e5674f"/></g>
<text x="152" y="288.25" font-size="3" text-anchor="end" font-weight="bold" fill="#3a3a3a">1.0</text>
<text x="152" y="305.4" font-size="3" text-anchor="end" font-weight="bold" fill="#3a3a3a">0.5</text>
<text x="152" y="322.55" font-size="3" text-anchor="end" font-weight="bold" fill="#3a3a3a">0.0</text>
<text x="152" y="339.7" font-size="3" text-anchor="end" font-weight="bold" fill="#3a3a3a">−0.5</text>
<text x="152" y="356.85" font-size="3" text-anchor="end" font-weight="bold" fill="#3a3a3a">−1.0</text>
<text x="179.7" y="369" font-size="3" text-anchor="middle" font-weight="bold" fill="#3a3a3a">0</text>
<text x="210.7" y="369" font-size="3" text-anchor="middle" font-weight="bold" fill="#3a3a3a">1</text>
<text x="241.7" y="369" font-size="3" text-anchor="middle" font-weight="bold" fill="#3a3a3a">2</text>
<text x="197.35" y="372.3" font-size="3.3" text-anchor="middle" font-weight="bold" fill="#222">Dimension 1</text>
<text x="144.7" y="321.5" font-size="3.3" text-anchor="middle" font-weight="bold" fill="#222" transform="rotate(-90 144.7 321.5)">Dimension 2</text>
<text x="153.1" y="279.4" font-size="4.7" font-weight="bold" fill="#222">HbA1c (%)</text>
<text x="246.4" y="299.9" font-size="4.6" font-weight="bold" fill="#222">HbA1c</text>
<rect x="246.4" y="301.9" width="10.5" height="49.6" fill="url(#tc)" />
<line x1="246.4" y1="316.2" x2="248.5" y2="316.2" stroke="#fff" stroke-width="0.6" />
<line x1="254.8" y1="316.2" x2="256.9" y2="316.2" stroke="#fff" stroke-width="0.6" />
<text x="259.1" y="317.7" font-size="4.3" font-weight="bold" fill="#222">10.0</text>
<line x1="246.4" y1="330.5" x2="248.5" y2="330.5" stroke="#fff" stroke-width="0.6" />
<line x1="254.8" y1="330.5" x2="256.9" y2="330.5" stroke="#fff" stroke-width="0.6" />
<text x="259.1" y="332" font-size="4.3" font-weight="bold" fill="#222">8.0</text>
<line x1="246.4" y1="344.6" x2="248.5" y2="344.6" stroke="#fff" stroke-width="0.6" />
<line x1="254.8" y1="344.6" x2="256.9" y2="344.6" stroke="#fff" stroke-width="0.6" />
<text x="259.1" y="346.1" font-size="4.3" font-weight="bold" fill="#222">6.0</text>
<line x1="301.4" y1="281.4" x2="301.4" y2="365.3" stroke="#e6e6e6" stroke-width="0.8" />
<line x1="316.9" y1="281.4" x2="316.9" y2="365.3" stroke="#dedede" stroke-width="1.1" />
<line x1="332.4" y1="281.4" x2="332.4" y2="365.3" stroke="#e6e6e6" stroke-width="0.8" />
<line x1="347.9" y1="281.4" x2="347.9" y2="365.3" stroke="#dedede" stroke-width="1.1" />
<line x1="363.4" y1="281.4" x2="363.4" y2="365.3" stroke="#e6e6e6" stroke-width="0.8" />
<line x1="378.9" y1="281.4" x2="378.9" y2="365.3" stroke="#dedede" stroke-width="1.1" />
<line x1="290.2" y1="287.2" x2="380.6" y2="287.2" stroke="#dedede" stroke-width="1.1" />
<line x1="290.2" y1="295.77" x2="380.6" y2="295.77" stroke="#e6e6e6" stroke-width="0.8" />
<line x1="290.2" y1="304.35" x2="380.6" y2="304.35" stroke="#dedede" stroke-width="1.1" />
<line x1="290.2" y1="312.93" x2="380.6" y2="312.93" stroke="#e6e6e6" stroke-width="0.8" />
<line x1="290.2" y1="321.5" x2="380.6" y2="321.5" stroke="#dedede" stroke-width="1.1" />
<line x1="290.2" y1="330.07" x2="380.6" y2="330.07" stroke="#e6e6e6" stroke-width="0.8" />
<line x1="290.2" y1="338.65" x2="380.6" y2="338.65" stroke="#dedede" stroke-width="1.1" />
<line x1="290.2" y1="347.23" x2="380.6" y2="347.23" stroke="#e6e6e6" stroke-width="0.8" />
<line x1="290.2" y1="355.8" x2="380.6" y2="355.8" stroke="#dedede" stroke-width="1.1" />
<line x1="290.2" y1="364.38" x2="380.6" y2="364.38" stroke="#e6e6e6" stroke-width="0.8" />
<g transform="translate(316.9 321.5) scale(1 1)"><use href="#rT" fill="#d19482" stroke="#d19482" opacity="0.75"/><use href="#rS" fill="#cc9a8a" stroke="#cc9a8a" opacity="0.75"/><use href="#rL" fill="#e27760" stroke="#e27760" opacity="0.75"/><use href="#rU" fill="#b8a898" stroke="#b8a898" opacity="0.75"/><use href="#rLL" fill="#e17b65" stroke="#e17b65" opacity="0.75"/><use href="#rC" fill="#c1a494" stroke="#c1a494" opacity="0.75"/><use href="#rR" fill="#7fc2c3" stroke="#7fc2c3" opacity="0.75"/><use href="#rB" fill="#b1ab9b" stroke="#b1ab9b" opacity="0.75"/><use href="#rLB" fill="#c99f8f" stroke="#c99f8f" opacity="0.75"/></g><g transform="translate(316.9 321.5) scale(0.25 0.25)" stroke-width="9.2" stroke-linecap="round"><path d="M-22 -44h0M36 16h0M162 -7h0M127 12h0M168 -9h0M106 133h0M159 -16h0M94 89h0M94 124h0M-8 -12h0M88 93h0M50 9h0M21 -120h0M92 111h0M94 107h0M107 16h0M94 120h0M90 113h0M94 141h0M67 11h0M162 15h0M82 134h0M88 12h0M-13 -67h0M88 108h0M10 -30h0M78 100h0M151 25h0M19 -123h0M67 16h0M27 5h0M20 -23h0M19 -119h0M142 22h0M105 126h0M105 141h0M92 135h0M40 15h0M90 118h0M138 13h0M93 115h0M78 138h0M126 8h0M92 126h0M109 94h0M6 -21h0M100 108h0M90 86h0M164 -25h0M103 114h0M86 96h0M152 -19h0M140 10h0M88 94h0M19 -110h0M16 12h0M176 -2h0M141 5h0M102 128h0M100 103h0M22 0h0M102 118h0M21 -122h0M97 107h0M156 -47h0M134 25h0M79 160h0M96 159h0M110 84h0M33 -103h0M25 -91h0M7 -43h0M11 -12h0" stroke="#a3b3a7"/><path d="M178 27h0M160 24h0M105 98h0M195 -6h0M190 -19h0M168 26h0M188 4h0M198 9h0M170 -39h0M112 131h0M184 -6h0M177 -43h0M175 -36h0M189 -32h0M164 -26h0M184 3h0M168 5h0M196 3h0M198 16h0M159 -38h0M111 118h0M178 19h0M188 17h0M182 -46h0M194 -10h0M186 -27h0M163 -22h0M166 -30h0M182 -19h0M164 8h0M182 -16h0M178 -6h0M180 -42h0M110 123h0M174 -14h0M163 -34h0M166 -49h0M188 -15h0M168 -38h0M153 -6h0M165 9h0M166 19h0M173 30h0M188 -28h0M122 122h0M184 -37h0M201 8h0M177 18h0M172 -29h0M116 130h0M116 107h0M192 18h0M165 -26h0M112 103h0M172 -28h0M106 130h0M114 126h0M154 23h0M189 22h0M178 -50h0M191 -30h0M178 -2h0M190 -10h0M177 3h0M198 -7h0M196 21h0M192 -15h0M181 -22h0M160 -39h0M177 0h0M177 -9h0M111 104h0M166 8h0M178 -23h0M202 4h0M190 28h0M176 0h0M177 -13h0M171 23h0M121 118h0M107 123h0M164 4h0M170 22h0M112 135h0M121 103h0M172 11h0M188 -19h0M172 6h0M188 33h0M196 5h0M174 -13h0M161 -42h0M175 -20h0M188 9h0M169 27h0M162 6h0M164 -1h0M158 24h0M187 -35h0M164 3h0M209 -16h0M134 26h0M208 11h0M200 33h0M163 -59h0M136 -14h0M176 -63h0M104 153h0M128 96h0M116 146h0M221 51h0M216 -18h0M215 7h0M218 -2h0" stroke="#7dc3c4"/><path d="M74 128h0M61 44h0M16 -120h0M8 -93h0M138 20h0M72 83h0M108 22h0M10 -112h0M56 18h0M74 140h0M23 -2h0M86 122h0M-19 -24h0M82 129h0M79 10h0M24 6h0M71 134h0M6 -28h0M47 11h0M-5 -8h0M-21 -72h0M21 -124h0M127 15h0M61 37h0M56 60h0M-22 -32h0M12 -104h0M31 2h0M51 66h0M14 -110h0M0 -104h0M75 95h0M71 102h0M-16 -10h0M56 46h0M54 30h0M118 13h0M-4 -12h0M76 138h0M11 -116h0M-16 -40h0M-8 -1h0M10 -106h0M87 140h0M-21 -71h0M61 56h0M9 2h0M82 154h0M79 131h0M56 15h0M11 -102h0M60 66h0M58 20h0M18 -1h0M66 72h0M-14 -11h0M78 110h0M56 41h0M-17 -36h0M48 7h0M6 -17h0M85 10h0M20 -109h0M46 12h0M92 146h0M57 68h0M78 128h0M5 -128h0M69 82h0M-13 -17h0M2 -12h0M55 68h0M80 142h0M-20 -10h0M89 22h0M4 -21h0M12 1h0M80 88h0M3 8h0M24 8h0M-16 -35h0M75 114h0M60 24h0M-16 -75h0M28 2h0M68 82h0M21 -113h0M66 131h0M-19 -78h0M72 118h0M78 120h0M78 152h0M8 -132h0M-8 1h0M20 -41h0M-1 5h0M79 84h0M-64 56h0M-20 -58h0M51 68h0M116 15h0M112 18h0M120 19h0M141 17h0M10 -91h0M78 104h0M-12 -76h0M99 17h0M17 9h0M27 -104h0M76 154h0M25 6h0M0 -102h0M28 16h0M84 136h0M30 -36h0M6 0h0M62 64h0M55 50h0M47 36h0M61 12h0M7 -124h0M67 14h0M-9 -3h0M76 98h0M1 0h0M50 32h0M11 7h0M-17 -19h0M74 13h0M90 154h0M28 11h0M-16 -11h0M51 38h0M-16 -61h0M64 54h0M0 -128h0M104 19h0M51 38h0M65 99h0M57 58h0M55 75h0M80 16h0M19 12h0M-3 -21h0M-13 5h0M64 78h0M147 11h0M75 107h0M137 19h0M137 8h0M82 132h0M9 -101h0M-12 -54h0M-17 -73h0M87 120h0M-22 -33h0M48 54h0M-20 -31h0M49 60h0M136 5h0M-18 -67h0M14 1h0M89 20h0M-12 -2h0M95 108h0M17 4h0M6 -94h0M-13 -4h0M53 47h0M-14 -29h0M69 160h0M7 -86h0M4 -85h0M12 -140h0M32 -100h0M22 -16h0M84 165h0M18 -145h0M10 -142h0" stroke="#c8a090"/><path d="M-53 58h0M-46 -15h0M-11 -116h0M6 -120h0M-61 66h0M66 98h0M-71 66h0M-18 -93h0M-62 84h0M-17 -113h0M0 -101h0M-78 84h0M-60 81h0M50 112h0M-44 12h0M59 102h0M-63 68h0M-60 85h0M-35 -14h0M7 -101h0M-63 44h0M-73 -21h0M-89 -18h0M-5 -100h0M-80 -17h0M-72 -18h0M-42 18h0M-51 20h0M-47 -9h0M-68 -14h0M-71 88h0M-49 25h0M-19 -91h0M-67 95h0M-6 -114h0M-61 100h0M66 108h0M56 118h0M-21 -105h0M53 105h0M-65 99h0M-77 -26h0M-45 -17h0M-48 18h0M-22 -2h0M-62 70h0M-58 79h0M-12 -92h0M74 108h0M76 128h0M-54 87h0M-74 83h0M-65 104h0M-10 -110h0M-53 78h0M-74 -17h0M-26 -1h0M-9 -112h0M-43 9h0M58 116h0M-48 22h0M-18 -93h0M56 108h0M12 -130h0M-85 -21h0M-66 97h0M-64 -12h0M-56 22h0M-66 104h0M-52 82h0M-50 68h0M-63 -18h0M49 122h0M58 120h0M61 127h0M-2 -98h0M-77 88h0M-72 95h0M-73 -24h0M3 -105h0M-60 -12h0M-73 67h0M-67 82h0M-79 80h0M-85 -13h0M67 84h0M-4 -119h0M-3 -124h0M-51 -14h0M-78 91h0M57 112h0M-24 -4h0M-74 97h0M-82 -28h0M64 85h0M0 -132h0M-57 86h0M-53 -10h0M-6 -112h0M62 119h0M-64 78h0M-83 -12h0M-5 -122h0M-26 -2h0M-90 -27h0M-54 28h0M-8 -108h0M-8 -125h0M-22 -72h0M-26 -6h0M56 110h0M-68 79h0M62 148h0M-64 109h0M-37 21h0M-68 35h0M-50 101h0M-97 -20h0M-80 -40h0M-74 -6h0" stroke="#e17a64"/><path d="M10 -124h0M-65 -14h0M-84 -11h0M-78 -22h0M-25 -10h0M-12 -116h0M-84 -26h0M-79 -12h0M-72 83h0M-67 -20h0M-40 -16h0M-65 72h0M-45 -18h0M-58 62h0M63 107h0M-44 -14h0M62 111h0M-65 77h0M-37 2h0M-18 -2h0M60 125h0M56 94h0M-41 -11h0M-51 -18h0M-70 101h0M0 -121h0M-58 89h0M-30 -1h0M-62 81h0M-39 -4h0M-82 -25h0M-44 -18h0M-60 71h0M-24 -7h0M-15 -118h0M-34 2h0M49 108h0M55 96h0M51 84h0M50 135h0M45 90h0M-28 -103h0M-45 60h0M-26 5h0M-84 -5h0" stroke="#e5674f"/><path d="M-2 -17h0M71 133h0M90 10h0M24 -100h0M134 13h0M43 10h0M93 14h0M62 18h0M35 11h0M48 53h0M14 -106h0M22 -3h0M117 9h0M72 9h0M91 140h0M85 11h0M28 15h0M84 114h0M-22 -42h0M14 -35h0M153 -20h0M90 89h0M122 12h0M-6 -8h0M85 98h0M24 -28h0M56 19h0M44 12h0M60 68h0M88 110h0M62 21h0M88 123h0M14 -37h0M94 126h0M-10 2h0M88 83h0M142 10h0M98 144h0M0 5h0M-6 -10h0M82 96h0M21 12h0M9 -24h0M5 -128h0M39 18h0M19 -104h0M78 13h0M6 -109h0M-22 -43h0M-13 -70h0M107 11h0M86 85h0M40 18h0M88 148h0M46 41h0M5 -8h0M63 54h0M14 -102h0M81 24h0M-16 2h0M29 -37h0M81 82h0M-2 -6h0M30 6h0M75 97h0M15 -105h0M80 24h0M27 -26h0M52 40h0M93 127h0M26 -28h0M84 104h0M84 150h0M18 -39h0M84 104h0M3 -17h0M0 -12h0M84 138h0M137 20h0M56 15h0M64 19h0M12 8h0M64 10h0M18 -28h0M25 -102h0M123 16h0M23 -115h0M91 12h0M122 18h0M56 24h0M84 95h0M18 -101h0M15 -26h0M2 -20h0M118 20h0M33 -36h0M90 21h0M16 -110h0M-12 -2h0M3 -8h0M3 -25h0M94 14h0M28 -34h0M84 148h0M8 -24h0M27 -105h0M85 146h0M30 -28h0M6 6h0M6 -27h0M78 73h0M71 160h0M75 162h0M25 -138h0M13 -143h0" stroke="#b7a898"/><path d="M129 124h0M119 120h0M132 114h0M135 126h0M186 28h0M188 5h0M169 -15h0M134 120h0M131 120h0M130 124h0M161 -30h0M205 -26h0M145 -27h0M126 99h0M146 117h0M135 138h0M124 96h0M224 22h0M230 1h0M210 30h0M134 130h0M145 123h0M138 110h0" stroke="#72c6d0"/><path d="M125 16h0M-71 75h0M6 -8h0M52 52h0M92 131h0M96 12h0" stroke="#e8392a"/><path d="M145 -6h0M173 -28h0M150 -6h0M184 -16h0M176 -5h0M117 116h0M163 23h0M148 8h0M108 116h0M154 -9h0M144 -1h0M168 -52h0M186 -4h0M151 21h0M150 -18h0M120 20h0M171 -54h0M146 -6h0M170 4h0M172 -24h0M192 16h0M158 0h0M175 -17h0M172 -22h0M151 17h0M94 133h0M169 7h0M176 22h0M109 126h0M146 -3h0M176 13h0M166 4h0M176 22h0M174 13h0M173 -31h0M154 18h0M157 -15h0M177 -24h0M181 -3h0M151 19h0M99 108h0M114 119h0M180 21h0M100 111h0M158 12h0M106 108h0M182 -44h0M97 138h0M181 -4h0M173 -10h0M174 -23h0M170 -38h0M116 14h0M199 -2h0M103 130h0M146 -8h0M148 16h0M178 2h0M151 20h0M174 -4h0M110 135h0M169 12h0M104 139h0M174 -28h0M106 103h0M170 -20h0M154 -14h0M168 -24h0M182 8h0M162 20h0M156 -22h0M156 7h0M104 107h0M151 -19h0M184 14h0M103 94h0M105 103h0M164 4h0M94 93h0M172 14h0M173 2h0M166 15h0M89 152h0M169 -40h0M167 -18h0M88 113h0M198 -24h0M192 23h0M195 21h0M135 -9h0M189 43h0M172 42h0M141 -21h0M162 -58h0M152 -41h0M118 144h0M101 160h0M109 82h0M211 46h0M100 163h0" stroke="#8ebcb8"/><path d="M182 -28h0M180 2h0M170 11h0M137 124h0M136 127h0M177 -9h0M111 129h0M195 -17h0M183 -7h0M110 96h0M124 105h0M116 105h0M116 99h0M115 123h0M117 117h0M156 -28h0M119 124h0M174 -48h0M196 -1h0M196 2h0M167 -5h0M186 0h0M194 20h0M178 -11h0M194 -20h0M182 1h0M184 -31h0M116 134h0M204 -9h0M174 -28h0M192 6h0M123 128h0M178 26h0M203 -1h0M123 108h0M181 -11h0M184 -39h0M196 20h0M193 -21h0M115 117h0M196 -26h0M111 98h0M134 118h0M190 12h0M131 123h0M199 30h0M187 -48h0M210 11h0M212 7h0M224 -7h0M238 6h0M214 36h0M202 45h0M126 142h0" stroke="#76c5ca"/><path d="M-16 -4h0M-53 63h0M-20 -14h0M53 58h0M-8 -114h0M71 129h0M70 101h0M59 80h0M6 -122h0M-60 61h0M-21 -20h0M68 105h0M-76 -17h0M-16 -40h0M-54 35h0M-46 13h0M60 58h0M-14 -11h0M112 16h0M73 150h0M-3 -104h0M-16 -8h0M-3 -114h0M12 -95h0M11 -4h0M66 138h0M70 128h0M59 52h0M78 91h0M4 -112h0M-1 -94h0M-20 -28h0M66 73h0M10 -121h0M55 73h0M-21 -22h0M-76 97h0M-21 -72h0M-54 89h0M-72 74h0M84 14h0M2 -107h0M63 127h0M52 59h0M-11 -99h0M-62 75h0M-72 -21h0M51 24h0M9 -115h0M-43 10h0M63 68h0M-52 58h0M-37 0h0M-81 -26h0M12 -1h0M64 125h0M56 95h0M-15 -62h0M-9 -103h0M1 -116h0M-18 -35h0M-19 -74h0M101 8h0M-57 61h0M63 98h0M0 -105h0M-35 -1h0M65 22h0M61 118h0M84 99h0M-13 -6h0M66 92h0M66 141h0M6 -133h0M-60 46h0M70 102h0M76 146h0M6 -136h0M3 -129h0M60 136h0M4 -121h0M-47 28h0M57 50h0M62 32h0M-14 -46h0M59 99h0M58 86h0M-73 82h0M44 26h0M-56 60h0M2 -102h0M-64 48h0M78 116h0M-18 -28h0M61 107h0M61 123h0M65 74h0M63 91h0M0 -10h0M-22 -80h0M62 63h0M52 32h0M-11 -54h0M56 44h0M63 140h0M1 -126h0M60 70h0M-69 98h0M90 16h0M58 132h0M-71 100h0M7 -102h0M-56 56h0M-58 94h0M92 22h0M58 32h0M-8 -120h0M-1 -117h0M60 135h0M80 20h0M64 98h0M13 -82h0M0 -138h0M-56 107h0M-72 50h0" stroke="#d58d7a"/><path d="M96 99h0M25 8h0M60 55h0" stroke="#e84834"/><path d="M-19 -100h0M-9 -101h0M-66 56h0M-14 -111h0M46 134h0" stroke="#e8563e"/></g>
<text x="289.2" y="288.25" font-size="3" text-anchor="end" font-weight="bold" fill="#3a3a3a">1.0</text>
<text x="289.2" y="305.4" font-size="3" text-anchor="end" font-weight="bold" fill="#3a3a3a">0.5</text>
<text x="289.2" y="322.55" font-size="3" text-anchor="end" font-weight="bold" fill="#3a3a3a">0.0</text>
<text x="289.2" y="339.7" font-size="3" text-anchor="end" font-weight="bold" fill="#3a3a3a">−0.5</text>
<text x="289.2" y="356.85" font-size="3" text-anchor="end" font-weight="bold" fill="#3a3a3a">−1.0</text>
<text x="316.9" y="369" font-size="3" text-anchor="middle" font-weight="bold" fill="#3a3a3a">0</text>
<text x="347.9" y="369" font-size="3" text-anchor="middle" font-weight="bold" fill="#3a3a3a">1</text>
<text x="378.9" y="369" font-size="3" text-anchor="middle" font-weight="bold" fill="#3a3a3a">2</text>
<text x="334.55" y="372.3" font-size="3.3" text-anchor="middle" font-weight="bold" fill="#222">Dimension 1</text>
<text x="281.9" y="321.5" font-size="3.3" text-anchor="middle" font-weight="bold" fill="#222" transform="rotate(-90 281.9 321.5)">Dimension 2</text>
<text x="290.3" y="279.4" font-size="4.7" font-weight="bold" fill="#222">SBP(mm of Hg)</text>
<text x="383.4" y="299.9" font-size="4.6" font-weight="bold" fill="#222">SBP</text>
<rect x="383.4" y="301.9" width="10.5" height="49.6" fill="url(#tc)" />
<line x1="383.4" y1="310.5" x2="385.5" y2="310.5" stroke="#fff" stroke-width="0.6" />
<line x1="391.8" y1="310.5" x2="393.9" y2="310.5" stroke="#fff" stroke-width="0.6" />
<text x="396.1" y="312" font-size="4.3" font-weight="bold" fill="#222">180</text>
<line x1="383.4" y1="318.5" x2="385.5" y2="318.5" stroke="#fff" stroke-width="0.6" />
<line x1="391.8" y1="318.5" x2="393.9" y2="318.5" stroke="#fff" stroke-width="0.6" />
<text x="396.1" y="320" font-size="4.3" font-weight="bold" fill="#222">160</text>
<line x1="383.4" y1="326.4" x2="385.5" y2="326.4" stroke="#fff" stroke-width="0.6" />
<line x1="391.8" y1="326.4" x2="393.9" y2="326.4" stroke="#fff" stroke-width="0.6" />
<text x="396.1" y="327.9" font-size="4.3" font-weight="bold" fill="#222">140</text>
<line x1="383.4" y1="334.6" x2="385.5" y2="334.6" stroke="#fff" stroke-width="0.6" />
<line x1="391.8" y1="334.6" x2="393.9" y2="334.6" stroke="#fff" stroke-width="0.6" />
<text x="396.1" y="336.1" font-size="4.3" font-weight="bold" fill="#222">120</text>
<line x1="383.4" y1="343" x2="385.5" y2="343" stroke="#fff" stroke-width="0.6" />
<line x1="391.8" y1="343" x2="393.9" y2="343" stroke="#fff" stroke-width="0.6" />
<text x="396.1" y="344.5" font-size="4.3" font-weight="bold" fill="#222">100</text>
<line x1="437.6" y1="281.4" x2="437.6" y2="365.3" stroke="#e6e6e6" stroke-width="0.8" />
<line x1="453.1" y1="281.4" x2="453.1" y2="365.3" stroke="#dedede" stroke-width="1.1" />
<line x1="468.6" y1="281.4" x2="468.6" y2="365.3" stroke="#e6e6e6" stroke-width="0.8" />
<line x1="484.1" y1="281.4" x2="484.1" y2="365.3" stroke="#dedede" stroke-width="1.1" />
<line x1="499.6" y1="281.4" x2="499.6" y2="365.3" stroke="#e6e6e6" stroke-width="0.8" />
<line x1="515.1" y1="281.4" x2="515.1" y2="365.3" stroke="#dedede" stroke-width="1.1" />
<line x1="426.4" y1="287.2" x2="516.8" y2="287.2" stroke="#dedede" stroke-width="1.1" />
<line x1="426.4" y1="295.77" x2="516.8" y2="295.77" stroke="#e6e6e6" stroke-width="0.8" />
<line x1="426.4" y1="304.35" x2="516.8" y2="304.35" stroke="#dedede" stroke-width="1.1" />
<line x1="426.4" y1="312.93" x2="516.8" y2="312.93" stroke="#e6e6e6" stroke-width="0.8" />
<line x1="426.4" y1="321.5" x2="516.8" y2="321.5" stroke="#dedede" stroke-width="1.1" />
<line x1="426.4" y1="330.07" x2="516.8" y2="330.07" stroke="#e6e6e6" stroke-width="0.8" />
<line x1="426.4" y1="338.65" x2="516.8" y2="338.65" stroke="#dedede" stroke-width="1.1" />
<line x1="426.4" y1="347.23" x2="516.8" y2="347.23" stroke="#e6e6e6" stroke-width="0.8" />
<line x1="426.4" y1="355.8" x2="516.8" y2="355.8" stroke="#dedede" stroke-width="1.1" />
<line x1="426.4" y1="364.38" x2="516.8" y2="364.38" stroke="#e6e6e6" stroke-width="0.8" />
<g transform="translate(453.1 321.5) scale(1 1)"><use href="#rT" fill="#c99f8f" stroke="#c99f8f" opacity="0.75"/><use href="#rS" fill="#c99f8f" stroke="#c99f8f" opacity="0.75"/><use href="#rL" fill="#e27760" stroke="#e27760" opacity="0.75"/><use href="#rU" fill="#b4aa9a" stroke="#b4aa9a" opacity="0.75"/><use href="#rLL" fill="#df806a" stroke="#df806a" opacity="0.75"/><use href="#rC" fill="#bfa494" stroke="#bfa494" opacity="0.75"/><use href="#rR" fill="#7fc2c3" stroke="#7fc2c3" opacity="0.75"/><use href="#rB" fill="#b1ab9b" stroke="#b1ab9b" opacity="0.75"/><use href="#rLB" fill="#c99f8f" stroke="#c99f8f" opacity="0.75"/></g><g transform="translate(453.1 321.5) scale(0.25 0.25)" stroke-width="9.2" stroke-linecap="round"><path d="M-22 -44h0M74 128h0M10 -124h0M-2 -17h0M71 133h0M16 -120h0M6 -120h0M134 13h0M43 10h0M108 22h0M36 16h0M-16 -4h0M86 122h0M35 11h0M-19 -24h0M127 12h0M0 -101h0M53 58h0M14 -106h0M71 129h0M82 129h0M24 6h0M71 134h0M70 101h0M47 11h0M117 9h0M127 15h0M56 60h0M-21 -20h0M84 114h0M107 16h0M122 12h0M71 102h0M56 46h0M-46 13h0M24 -28h0M-14 -11h0M112 16h0M54 30h0M-3 -104h0M-16 -8h0M-3 -114h0M66 108h0M12 -95h0M67 11h0M87 140h0M61 56h0M79 131h0M-1 -94h0M-20 -28h0M10 -121h0M-10 2h0M55 73h0M-13 -67h0M60 66h0M-21 -72h0M58 20h0M-14 -11h0M78 110h0M2 -107h0M56 41h0M-6 -10h0M76 128h0M48 7h0M5 -128h0M85 10h0M46 12h0M39 18h0M78 128h0M5 -128h0M69 82h0M78 13h0M-13 -17h0M55 68h0M80 142h0M67 16h0M89 22h0M3 8h0M-16 -35h0M107 11h0M60 24h0M-16 -75h0M28 2h0M-15 -62h0M1 -116h0M-19 -74h0M66 131h0M88 148h0M46 41h0M12 -130h0M0 -105h0M116 14h0M-19 -78h0M8 -132h0M81 24h0M20 -41h0M61 118h0M29 -37h0M79 84h0M51 68h0M-2 -6h0M75 97h0M15 -105h0M-12 -76h0M70 102h0M40 15h0M99 17h0M17 9h0M3 -129h0M4 -121h0M-2 -98h0M26 -28h0M62 32h0M58 86h0M84 150h0M44 26h0M2 -102h0M3 -105h0M76 154h0M25 6h0M0 -102h0M84 104h0M84 136h0M78 116h0M30 -36h0M-18 -28h0M62 64h0M52 52h0M138 13h0M55 50h0M0 -121h0M47 36h0M84 138h0M0 -10h0M56 15h0M62 63h0M52 32h0M-11 -54h0M-3 -124h0M12 8h0M-9 -3h0M76 98h0M1 0h0M50 32h0M-17 -19h0M56 44h0M91 12h0M90 154h0M122 18h0M1 -126h0M0 -132h0M-16 -61h0M64 54h0M60 70h0M-6 -112h0M51 38h0M57 58h0M55 75h0M64 78h0M9 -101h0M-12 -54h0M-17 -73h0M16 -110h0M-22 -33h0M49 60h0M136 5h0M3 -8h0M-18 -67h0M14 1h0M89 20h0M92 22h0M60 55h0M-12 -2h0M94 14h0M17 4h0M-1 -117h0M22 0h0M-13 -4h0M53 47h0M-22 -72h0M-68 79h0M71 160h0M75 162h0M7 -86h0M13 -82h0M-56 107h0M13 -143h0" stroke="#c8a090"/><path d="M178 27h0M160 24h0M105 98h0M145 -6h0M168 26h0M150 -6h0M159 -16h0M6 -28h0M170 -39h0M112 131h0M148 8h0M111 129h0M108 116h0M154 -9h0M144 -1h0M186 -4h0M164 -26h0M94 107h0M151 21h0M150 -18h0M153 -20h0M168 5h0M-6 -8h0M158 0h0M172 -22h0M151 17h0M162 15h0M182 -46h0M109 126h0M146 -3h0M176 22h0M166 -30h0M174 13h0M173 -31h0M182 -19h0M182 -16h0M178 -6h0M98 144h0M151 25h0M100 111h0M158 12h0M153 -6h0M182 -44h0M6 -8h0M166 19h0M181 -4h0M173 30h0M116 130h0M146 -8h0M105 126h0M165 -26h0M110 135h0M105 141h0M104 139h0M106 103h0M189 22h0M170 -20h0M178 -50h0M177 3h0M182 8h0M162 20h0M156 -22h0M160 -39h0M204 -9h0M156 7h0M171 23h0M107 123h0M184 14h0M105 103h0M172 6h0M193 -21h0M103 114h0M152 -19h0M174 -13h0M172 14h0M141 5h0M102 128h0M167 -18h0M100 103h0M162 6h0M190 12h0M156 -47h0M135 -9h0M145 -27h0M162 -58h0M163 -59h0M136 -14h0M176 -63h0M152 -41h0M134 25h0M104 153h0M109 82h0M100 163h0" stroke="#8ebcb8"/><path d="M-53 58h0M-46 -15h0M-11 -116h0M-84 -11h0M66 98h0M74 140h0M-62 84h0M-17 -113h0M-78 84h0M-60 81h0M-44 12h0M-25 -10h0M-60 85h0M-60 61h0M-84 -26h0M-72 83h0M-73 -21h0M-67 -20h0M-76 -17h0M-40 -16h0M-80 -17h0M-72 -18h0M-51 20h0M-68 -14h0M-45 -18h0M-67 95h0M-6 -114h0M-44 -14h0M56 118h0M66 138h0M-21 -105h0M53 105h0M-77 -26h0M-45 -17h0M-48 18h0M-65 77h0M-18 -2h0M-22 -2h0M-72 74h0M63 127h0M-62 75h0M-72 -21h0M60 125h0M-74 -17h0M-9 -112h0M-43 10h0M-52 58h0M58 116h0M-48 22h0M-37 0h0M-18 -93h0M-81 -26h0M56 95h0M56 108h0M56 94h0M-66 97h0M-51 -18h0M-64 -12h0M-64 56h0M-52 82h0M-50 68h0M-63 -18h0M60 136h0M61 127h0M-77 88h0M-47 28h0M59 99h0M-56 60h0M-64 48h0M-60 -12h0M-67 82h0M61 123h0M-58 89h0M-85 -13h0M67 84h0M63 91h0M-30 -1h0M-51 -14h0M-66 56h0M-24 -4h0M-62 81h0M-39 -4h0M-82 -25h0M-57 86h0M-69 98h0M-60 71h0M58 132h0M-83 -12h0M-5 -122h0M-26 -2h0M-71 100h0M-14 -111h0M-90 -27h0M-54 28h0M-8 -108h0M-56 56h0M60 135h0M-8 -125h0M49 108h0M55 96h0M64 98h0M-26 -6h0M56 110h0M62 148h0M-28 -103h0M-45 60h0M-68 35h0M-50 101h0M-80 -40h0M-74 -6h0" stroke="#e17a64"/><path d="M129 124h0M195 -6h0M162 -7h0M176 -5h0M195 -17h0M196 3h0M146 -6h0M159 -38h0M111 118h0M188 5h0M163 -22h0M124 105h0M180 -42h0M115 123h0M119 124h0M174 -23h0M122 122h0M184 -37h0M201 8h0M174 -48h0M196 -1h0M196 2h0M116 107h0M178 2h0M151 20h0M194 -20h0M177 0h0M116 134h0M202 4h0M123 128h0M203 -1h0M123 108h0M121 103h0M188 -19h0M188 33h0M164 -25h0M189 43h0M209 -16h0M118 144h0M126 99h0M124 96h0M238 6h0M221 51h0M211 46h0M215 7h0M210 30h0M218 -2h0" stroke="#76c5ca"/><path d="M125 16h0M61 44h0M90 10h0M8 -93h0M138 20h0M93 14h0M56 18h0M23 -2h0M62 18h0M48 53h0M79 10h0M94 124h0M59 80h0M-8 -12h0M22 -3h0M-5 -8h0M-21 -72h0M21 -124h0M88 93h0M50 9h0M61 37h0M21 -120h0M85 11h0M28 15h0M12 -104h0M31 2h0M92 111h0M14 -110h0M94 120h0M14 -35h0M120 20h0M-16 -10h0M85 98h0M56 19h0M118 13h0M73 150h0M44 12h0M76 138h0M62 21h0M25 8h0M88 123h0M11 -4h0M-21 -71h0M9 2h0M82 154h0M82 134h0M94 126h0M88 12h0M56 15h0M88 108h0M88 83h0M11 -102h0M10 -30h0M18 -1h0M84 14h0M142 10h0M0 5h0M-17 -36h0M82 96h0M74 108h0M21 12h0M9 -24h0M6 -17h0M19 -123h0M19 -104h0M2 -12h0M51 24h0M-22 -43h0M-20 -10h0M9 -115h0M63 68h0M4 -21h0M12 1h0M80 88h0M24 8h0M27 5h0M20 -23h0M19 -119h0M40 18h0M-18 -35h0M101 8h0M21 -113h0M5 -8h0M78 120h0M63 54h0M14 -102h0M78 152h0M-8 1h0M65 22h0M-1 5h0M84 99h0M81 82h0M-20 -58h0M116 15h0M30 6h0M6 -133h0M112 18h0M141 17h0M92 135h0M80 24h0M27 -26h0M52 40h0M93 127h0M84 104h0M57 50h0M90 118h0M18 -39h0M28 16h0M3 -17h0M6 0h0M0 -12h0M61 12h0M78 138h0M-22 -80h0M64 19h0M126 8h0M7 -124h0M67 14h0M64 10h0M18 -28h0M11 7h0M23 -115h0M74 13h0M28 11h0M56 24h0M84 95h0M18 -101h0M104 19h0M90 16h0M6 -21h0M19 12h0M118 20h0M-3 -21h0M90 86h0M-13 5h0M147 11h0M33 -36h0M90 21h0M137 19h0M82 132h0M86 96h0M140 10h0M48 54h0M19 -110h0M89 152h0M16 12h0M3 -25h0M28 -34h0M6 -94h0M84 148h0M85 146h0M30 -28h0M6 6h0M21 -122h0M6 -27h0M80 20h0M-14 -29h0M78 73h0M79 160h0M4 -85h0M22 -16h0M84 165h0M10 -142h0M25 -138h0" stroke="#b7a898"/><path d="M-65 -14h0M72 83h0M-71 66h0M10 -112h0M-18 -93h0M-53 63h0M-20 -14h0M-8 -114h0M-12 -116h0M72 9h0M6 -122h0M7 -101h0M-22 -32h0M51 66h0M68 105h0M-22 -42h0M-5 -100h0M0 -104h0M-71 88h0M75 95h0M-65 72h0M-49 25h0M-19 -91h0M60 58h0M-58 62h0M63 107h0M11 -116h0M60 68h0M-61 100h0M-16 -40h0M-8 -1h0M70 128h0M59 52h0M62 111h0M-65 99h0M78 91h0M4 -112h0M66 73h0M-21 -22h0M-37 2h0M-54 89h0M78 100h0M-62 70h0M-58 79h0M-12 -92h0M52 59h0M-54 87h0M-11 -99h0M-65 104h0M57 68h0M-10 -110h0M-53 78h0M6 -109h0M-43 9h0M-13 -70h0M75 114h0M12 -1h0M64 125h0M-9 -103h0M68 82h0M-57 61h0M63 98h0M72 118h0M-35 -1h0M-16 2h0M-56 22h0M-13 -6h0M-9 -101h0M66 92h0M66 141h0M10 -91h0M78 104h0M-60 46h0M76 146h0M6 -136h0M58 120h0M-70 101h0M-73 82h0M-73 67h0M-79 80h0M61 107h0M65 74h0M-4 -119h0M-78 91h0M57 112h0M63 140h0M-74 97h0M64 85h0M-16 -11h0M51 38h0M-44 -18h0M0 -128h0M-53 -10h0M62 119h0M80 16h0M75 107h0M-12 -2h0M-20 -31h0M7 -102h0M-58 94h0M58 32h0M-8 -120h0M-15 -118h0M-34 2h0M69 160h0M12 -140h0M0 -138h0M-64 109h0M-37 21h0M-26 5h0M-72 50h0M-84 -5h0" stroke="#d58d7a"/><path d="M182 -28h0M190 -19h0M180 2h0M170 11h0M173 -28h0M188 4h0M119 120h0M198 9h0M184 -16h0M117 116h0M186 28h0M177 -9h0M163 23h0M177 -43h0M175 -36h0M168 -52h0M183 -7h0M110 96h0M184 3h0M171 -54h0M198 16h0M170 4h0M172 -24h0M192 16h0M175 -17h0M178 19h0M188 17h0M169 7h0M194 -10h0M176 13h0M186 -27h0M166 4h0M116 105h0M154 18h0M157 -15h0M177 -24h0M181 -3h0M151 19h0M110 123h0M116 99h0M174 -14h0M114 119h0M163 -34h0M166 -49h0M188 -15h0M180 21h0M168 -38h0M106 108h0M117 117h0M165 9h0M156 -28h0M188 -28h0M169 -15h0M173 -10h0M177 18h0M170 -38h0M142 22h0M167 -5h0M148 16h0M194 20h0M192 18h0M174 -4h0M112 103h0M172 -28h0M169 12h0M106 130h0M114 126h0M154 23h0M174 -28h0M27 -104h0M191 -30h0M190 -10h0M168 -24h0M198 -7h0M182 1h0M196 21h0M192 -15h0M184 -31h0M181 -22h0M177 -9h0M166 8h0M178 -23h0M174 -28h0M190 28h0M104 107h0M176 0h0M192 6h0M178 26h0M121 118h0M164 4h0M170 22h0M112 135h0M172 11h0M181 -11h0M103 94h0M196 20h0M164 4h0M196 5h0M115 117h0M175 -20h0M173 2h0M196 -26h0M166 15h0M111 98h0M188 9h0M176 -2h0M169 -40h0M169 27h0M198 -24h0M192 23h0M195 21h0M164 -1h0M158 24h0M187 -35h0M164 3h0M199 30h0M205 -26h0M172 42h0M187 -48h0M208 11h0M200 33h0M212 7h0M116 146h0M110 84h0M224 22h0M216 -18h0M202 45h0" stroke="#7dc3c4"/><path d="M24 -100h0M168 -9h0M106 133h0M94 89h0M96 99h0M91 140h0M90 89h0M-4 -12h0M88 110h0M94 141h0M10 -106h0M94 133h0M14 -37h0M66 72h0M99 108h0M20 -109h0M92 146h0M97 138h0M86 85h0M103 130h0M120 19h0M178 -2h0M111 104h0M93 115h0M137 20h0M25 -102h0M123 16h0M92 126h0M109 94h0M15 -26h0M2 -20h0M92 131h0M100 108h0M137 8h0M94 93h0M87 120h0M88 94h0M96 12h0M95 108h0M8 -24h0M161 -30h0M27 -105h0M88 113h0M102 118h0M97 107h0M141 -21h0M134 26h0M101 160h0M96 159h0M33 -103h0M25 -91h0M32 -100h0M7 -43h0M11 -12h0M18 -145h0" stroke="#a3b3a7"/><path d="M-61 66h0M-78 -22h0M50 112h0M59 102h0M-63 68h0M-35 -14h0M-63 44h0M-42 18h0M-47 -9h0M-54 35h0M-71 75h0M-19 -100h0M-74 83h0M-26 -1h0M-85 -21h0M-66 104h0M49 122h0M-72 95h0M-73 -24h0M-82 -28h0M-24 -7h0M-64 78h0M46 134h0M50 135h0M45 90h0M-97 -20h0" stroke="#e5674f"/><path d="M132 114h0M135 126h0M137 124h0M184 -6h0M136 127h0M189 -32h0M176 22h0M164 8h0M172 -29h0M186 0h0M199 -2h0M178 -11h0M134 120h0M154 -14h0M177 -13h0M151 -19h0M131 120h0M130 124h0M184 -39h0M161 -42h0M134 118h0M131 123h0M210 11h0M128 96h0M146 117h0M135 138h0M224 -7h0M214 36h0M230 1h0M134 130h0M145 123h0M138 110h0M126 142h0" stroke="#72c6d0"/><path d="M-79 -12h0M-89 -18h0" stroke="#e8563e"/><path d="M-16 -40h0M90 113h0M-76 97h0M-14 -46h0M51 84h0" stroke="#e8392a"/><path d="M-41 -11h0M65 99h0" stroke="#e84834"/></g>
<text x="425.4" y="288.25" font-size="3" text-anchor="end" font-weight="bold" fill="#3a3a3a">1.0</text>
<text x="425.4" y="305.4" font-size="3" text-anchor="end" font-weight="bold" fill="#3a3a3a">0.5</text>
<text x="425.4" y="322.55" font-size="3" text-anchor="end" font-weight="bold" fill="#3a3a3a">0.0</text>
<text x="425.4" y="339.7" font-size="3" text-anchor="end" font-weight="bold" fill="#3a3a3a">−0.5</text>
<text x="425.4" y="356.85" font-size="3" text-anchor="end" font-weight="bold" fill="#3a3a3a">−1.0</text>
<text x="453.1" y="369" font-size="3" text-anchor="middle" font-weight="bold" fill="#3a3a3a">0</text>
<text x="484.1" y="369" font-size="3" text-anchor="middle" font-weight="bold" fill="#3a3a3a">1</text>
<text x="515.1" y="369" font-size="3" text-anchor="middle" font-weight="bold" fill="#3a3a3a">2</text>
<text x="470.75" y="372.3" font-size="3.3" text-anchor="middle" font-weight="bold" fill="#222">Dimension 1</text>
<text x="418.1" y="321.5" font-size="3.3" text-anchor="middle" font-weight="bold" fill="#222" transform="rotate(-90 418.1 321.5)">Dimension 2</text>
<text x="426.6" y="279.4" font-size="4.7" font-weight="bold" fill="#222">DBP(mm of Hg)</text>
<text x="520.2" y="299.9" font-size="4.6" font-weight="bold" fill="#222">DBP</text>
<rect x="520.2" y="301.9" width="10.5" height="49.6" fill="url(#tc)" />
<line x1="520.2" y1="312" x2="522.3" y2="312" stroke="#fff" stroke-width="0.6" />
<line x1="528.6" y1="312" x2="530.7" y2="312" stroke="#fff" stroke-width="0.6" />
<text x="532.9" y="313.5" font-size="4.3" font-weight="bold" fill="#222">120</text>
<line x1="520.2" y1="321.5" x2="522.3" y2="321.5" stroke="#fff" stroke-width="0.6" />
<line x1="528.6" y1="321.5" x2="530.7" y2="321.5" stroke="#fff" stroke-width="0.6" />
<text x="532.9" y="323" font-size="4.3" font-weight="bold" fill="#222">100</text>
<line x1="520.2" y1="331" x2="522.3" y2="331" stroke="#fff" stroke-width="0.6" />
<line x1="528.6" y1="331" x2="530.7" y2="331" stroke="#fff" stroke-width="0.6" />
<text x="532.9" y="332.5" font-size="4.3" font-weight="bold" fill="#222">80</text>
<line x1="520.2" y1="341" x2="522.3" y2="341" stroke="#fff" stroke-width="0.6" />
<line x1="528.6" y1="341" x2="530.7" y2="341" stroke="#fff" stroke-width="0.6" />
<text x="532.9" y="342.5" font-size="4.3" font-weight="bold" fill="#222">60</text>
<line x1="574.5" y1="281.4" x2="574.5" y2="365.3" stroke="#e6e6e6" stroke-width="0.8" />
<line x1="590" y1="281.4" x2="590" y2="365.3" stroke="#dedede" stroke-width="1.1" />
<line x1="605.5" y1="281.4" x2="605.5" y2="365.3" stroke="#e6e6e6" stroke-width="0.8" />
<line x1="621" y1="281.4" x2="621" y2="365.3" stroke="#dedede" stroke-width="1.1" />
<line x1="636.5" y1="281.4" x2="636.5" y2="365.3" stroke="#e6e6e6" stroke-width="0.8" />
<line x1="652" y1="281.4" x2="652" y2="365.3" stroke="#dedede" stroke-width="1.1" />
<line x1="563.3" y1="287.2" x2="653.7" y2="287.2" stroke="#dedede" stroke-width="1.1" />
<line x1="563.3" y1="295.77" x2="653.7" y2="295.77" stroke="#e6e6e6" stroke-width="0.8" />
<line x1="563.3" y1="304.35" x2="653.7" y2="304.35" stroke="#dedede" stroke-width="1.1" />
<line x1="563.3" y1="312.93" x2="653.7" y2="312.93" stroke="#e6e6e6" stroke-width="0.8" />
<line x1="563.3" y1="321.5" x2="653.7" y2="321.5" stroke="#dedede" stroke-width="1.1" />
<line x1="563.3" y1="330.07" x2="653.7" y2="330.07" stroke="#e6e6e6" stroke-width="0.8" />
<line x1="563.3" y1="338.65" x2="653.7" y2="338.65" stroke="#dedede" stroke-width="1.1" />
<line x1="563.3" y1="347.23" x2="653.7" y2="347.23" stroke="#e6e6e6" stroke-width="0.8" />
<line x1="563.3" y1="355.8" x2="653.7" y2="355.8" stroke="#dedede" stroke-width="1.1" />
<line x1="563.3" y1="364.38" x2="653.7" y2="364.38" stroke="#e6e6e6" stroke-width="0.8" />
<g transform="translate(590 321.5) scale(1 1)"><use href="#rT" fill="#e85940" stroke="#e85940" opacity="0.75"/><use href="#rS" fill="#dd836d" stroke="#dd836d" opacity="0.75"/><use href="#rL" fill="#d3917e" stroke="#d3917e" opacity="0.75"/><use href="#rU" fill="#c8a090" stroke="#c8a090" opacity="0.75"/><use href="#rLL" fill="#bca696" stroke="#bca696" opacity="0.75"/><use href="#rC" fill="#c99e8e" stroke="#c99e8e" opacity="0.75"/><use href="#rR" fill="#de816c" stroke="#de816c" opacity="0.75"/><use href="#rB" fill="#78c4c8" stroke="#78c4c8" opacity="0.75"/><use href="#rLB" fill="#c99e8e" stroke="#c99e8e" opacity="0.75"/></g><g transform="translate(590 321.5) scale(0.25 0.25)" stroke-width="9.2" stroke-linecap="round"><path d="M-22 -44h0M-46 -15h0M125 16h0M-84 -11h0M-61 66h0M43 10h0M170 11h0M108 22h0M36 16h0M-78 -22h0M93 14h0M62 18h0M150 -6h0M198 9h0M79 10h0M24 6h0M-44 12h0M-25 -10h0M47 11h0M59 80h0M177 -9h0M163 23h0M148 8h0M117 9h0M50 9h0M61 37h0M85 11h0M-60 61h0M-63 44h0M-84 -26h0M28 15h0M183 -7h0M31 2h0M151 21h0M-80 -17h0M-47 -9h0M-68 -14h0M122 12h0M198 16h0M56 46h0M170 4h0M192 16h0M54 30h0M118 13h0M-4 -12h0M60 68h0M-44 -14h0M188 17h0M11 -4h0M67 11h0M61 56h0M169 7h0M176 22h0M-10 2h0M174 13h0M10 -30h0M-72 74h0M84 14h0M-62 70h0M56 41h0M0 5h0M-6 -10h0M52 59h0M9 -24h0M48 7h0M6 -17h0M-62 75h0M46 12h0M39 18h0M158 12h0M69 82h0M6 -8h0M2 -12h0M-74 -17h0M55 68h0M67 16h0M89 22h0M-43 10h0M4 -21h0M3 8h0M-48 22h0M24 8h0M107 11h0M20 -23h0M201 8h0M-15 -62h0M68 82h0M40 18h0M-18 -35h0M-57 61h0M46 41h0M116 14h0M-85 -21h0M-41 -11h0M-16 2h0M65 22h0M148 16h0M192 18h0M116 15h0M120 19h0M141 17h0M40 15h0M99 17h0M154 23h0M80 24h0M26 -28h0M-73 -24h0M-47 28h0M58 86h0M177 3h0M-73 82h0M44 26h0M-64 48h0M25 6h0M196 21h0M28 16h0M30 -36h0M62 64h0M52 52h0M138 13h0M55 50h0M0 -12h0M166 8h0M-85 -13h0M137 20h0M156 7h0M202 4h0M62 63h0M-11 -54h0M12 8h0M67 14h0M-66 56h0M192 6h0M64 10h0M-24 -4h0M50 32h0M164 4h0M74 13h0M28 11h0M122 18h0M172 11h0M56 24h0M64 54h0M104 19h0M90 16h0M51 38h0M15 -26h0M57 58h0M55 75h0M164 4h0M19 12h0M147 11h0M90 21h0M-26 -2h0M137 19h0M137 8h0M-12 -54h0M172 14h0M173 2h0M166 15h0M48 54h0M-20 -31h0M136 5h0M188 9h0M3 -8h0M16 12h0M14 1h0M92 22h0M-12 -2h0M141 5h0M58 32h0M17 4h0M28 -34h0M22 0h0M8 -24h0M-13 -4h0M53 47h0M192 23h0M195 21h0M164 -1h0M30 -28h0M190 12h0M80 20h0M134 26h0M-45 60h0M-68 35h0M-84 -5h0M-74 -6h0M7 -43h0M11 -12h0M215 7h0" stroke="#c8a090"/><path d="M178 27h0M-53 58h0M-2 -17h0M90 10h0M134 13h0M-71 66h0M56 18h0M168 26h0M23 -2h0M-53 63h0M48 53h0M-78 84h0M-60 81h0M22 -3h0M-72 83h0M51 66h0M14 -35h0M120 20h0M-65 72h0M56 19h0M-67 95h0M178 19h0M151 17h0M9 2h0M162 15h0M14 -37h0M88 12h0M55 73h0M-13 -67h0M-65 77h0M60 66h0M154 18h0M18 -1h0M151 19h0M21 12h0M-54 87h0M-74 83h0M180 21h0M85 10h0M57 68h0M-53 78h0M78 13h0M166 19h0M-52 58h0M-81 -26h0M27 5h0M60 24h0M63 54h0M194 20h0M-64 56h0M-52 82h0M-2 -6h0M151 20h0M17 9h0M52 40h0M189 22h0M-70 101h0M182 8h0M162 20h0M6 0h0M-79 80h0M65 74h0M61 12h0M0 -10h0M56 15h0M52 32h0M190 28h0M-9 -3h0M-78 91h0M171 23h0M-62 81h0M91 12h0M51 38h0M184 14h0M-60 71h0M6 -21h0M2 -20h0M172 6h0M-64 78h0M33 -36h0M-71 100h0M-12 -2h0M49 60h0M96 12h0M-56 56h0M3 -25h0M6 6h0M158 24h0M-68 79h0M210 11h0M134 25h0M-72 50h0M224 -7h0M210 30h0" stroke="#b7a898"/><path d="M74 128h0M71 133h0M119 120h0M82 129h0M137 124h0M94 107h0M75 95h0M66 108h0M88 123h0M164 8h0M173 30h0M56 95h0M177 18h0M66 92h0M60 136h0M59 99h0M76 154h0M84 136h0M61 107h0M116 134h0M84 138h0M121 118h0M90 154h0M63 140h0M58 132h0M92 131h0M86 96h0M115 117h0M88 94h0M84 148h0M64 98h0M200 33h0M128 96h0M146 117h0M101 160h0M109 82h0M224 22h0" stroke="#72c6d0"/><path d="M10 -124h0M138 20h0M164 -26h0M171 -54h0M188 -28h0M174 -48h0M186 0h0M-9 -101h0M191 -30h0M-4 -119h0M135 -9h0M152 -41h0M216 -18h0" stroke="#e8392a"/><path d="M160 24h0M-62 84h0M-63 68h0M-71 88h0M-6 -8h0M-58 62h0M-61 100h0M-65 99h0M-71 75h0M-58 79h0M-66 104h0M-50 68h0M-77 88h0M-72 95h0M-56 60h0M-73 67h0M-67 82h0M-58 89h0M178 26h0M170 22h0M-74 97h0M-57 86h0M-69 98h0M196 20h0M-58 94h0M169 27h0M189 43h0M199 30h0M172 42h0M-64 109h0M-56 107h0M214 36h0M202 45h0" stroke="#a3b3a7"/><path d="M105 98h0M-60 85h0M79 131h0M-54 89h0M78 110h0M-65 104h0M115 123h0M106 108h0M122 122h0M-66 97h0M106 130h0M84 104h0M104 107h0M109 94h0M188 33h0M75 107h0M95 108h0M100 103h0M46 134h0M-50 101h0M221 51h0M211 46h0" stroke="#8ebcb8"/><path d="M129 124h0M72 83h0M86 122h0M106 133h0M135 126h0M71 134h0M94 89h0M94 124h0M59 102h0M117 116h0M111 129h0M108 116h0M84 114h0M92 111h0M90 113h0M90 89h0M71 102h0M88 110h0M62 111h0M78 91h0M94 126h0M176 22h0M124 105h0M88 108h0M116 105h0M98 144h0M151 25h0M99 108h0M63 127h0M114 119h0M82 96h0M74 108h0M76 128h0M100 111h0M117 117h0M97 138h0M80 142h0M119 124h0M58 116h0M75 114h0M64 125h0M86 85h0M56 108h0M56 94h0M142 22h0M116 130h0M66 131h0M63 98h0M72 118h0M103 130h0M61 118h0M81 82h0M105 126h0M66 141h0M110 135h0M104 139h0M70 102h0M76 146h0M114 126h0M58 120h0M78 116h0M61 123h0M111 104h0M93 115h0M67 84h0M63 91h0M76 98h0M123 128h0M123 108h0M107 123h0M112 135h0M103 94h0M65 99h0M62 119h0M100 108h0M103 114h0M82 132h0M111 98h0M85 146h0M49 108h0M55 96h0M56 110h0M97 107h0M131 123h0M118 144h0M126 99h0M78 73h0M69 160h0M116 146h0M75 162h0M110 84h0M62 148h0M134 130h0M138 110h0M100 163h0M84 165h0" stroke="#76c5ca"/><path d="M145 -6h0M61 44h0M195 -6h0M-65 -14h0M180 2h0M-16 -4h0M162 -7h0M188 4h0M35 11h0M127 12h0M168 -9h0M53 58h0M176 -5h0M6 -28h0M186 28h0M184 -6h0M-8 -12h0M-5 -8h0M-21 -72h0M72 9h0M127 15h0M56 60h0M-35 -14h0M144 -1h0M-89 -18h0M-76 -17h0M-40 -16h0M-16 -40h0M-22 -42h0M184 3h0M153 -20h0M-72 -18h0M-42 18h0M-51 20h0M196 3h0M-49 25h0M-54 35h0M-45 -18h0M60 58h0M24 -28h0M-14 -11h0M112 16h0M158 0h0M44 12h0M175 -17h0M62 21h0M188 5h0M25 8h0M-16 -40h0M-8 -1h0M-21 -71h0M59 52h0M194 -10h0M-20 -28h0M-48 18h0M66 73h0M166 4h0M56 15h0M-21 -22h0M-21 -72h0M-18 -2h0M58 20h0M66 72h0M142 10h0M178 -6h0M181 -3h0M153 -6h0M-72 -21h0M51 24h0M-26 -1h0M165 9h0M-20 -10h0M63 68h0M12 1h0M-13 -70h0M12 -1h0M28 2h0M196 -1h0M101 8h0M167 -5h0M-19 -78h0M5 -8h0M199 -2h0M-8 1h0M81 24h0M-51 -18h0M20 -41h0M29 -37h0M-64 -12h0M-1 5h0M146 -8h0M-13 -6h0M51 68h0M30 6h0M112 18h0M-60 46h0M-63 -18h0M27 -26h0M178 -2h0M57 50h0M198 -7h0M182 1h0M18 -39h0M3 -17h0M177 0h0M177 -9h0M47 36h0M64 19h0M126 8h0M176 0h0M-51 -14h0M1 0h0M18 -28h0M203 -1h0M11 7h0M123 16h0M-39 -4h0M-82 -25h0M-16 -61h0M-44 -18h0M60 70h0M181 -11h0M80 16h0M118 20h0M-3 -21h0M-13 5h0M64 78h0M-83 -12h0M-90 -27h0M-17 -73h0M-54 28h0M140 10h0M-22 -33h0M89 20h0M60 55h0M94 14h0M-22 -72h0M162 6h0M-34 2h0M6 -27h0M-26 -6h0M164 3h0M209 -16h0M208 11h0M-97 -20h0M-80 -40h0M22 -16h0M238 6h0M230 1h0M218 -2h0" stroke="#d58d7a"/><path d="M182 -28h0M-11 -116h0M10 -112h0M-17 -113h0M159 -16h0M-8 -114h0M170 -39h0M-12 -116h0M175 -36h0M7 -101h0M12 -104h0M-5 -100h0M14 -110h0M-19 -91h0M-3 -104h0M-3 -114h0M-21 -105h0M10 -121h0M166 -30h0M11 -102h0M173 -31h0M157 -15h0M177 -24h0M-12 -92h0M166 -49h0M188 -15h0M-13 -17h0M-9 -112h0M9 -115h0M169 -15h0M19 -119h0M170 -38h0M-9 -103h0M1 -116h0M172 -29h0M21 -113h0M0 -105h0M-35 -1h0M165 -26h0M10 -91h0M15 -105h0M174 -28h0M3 -129h0M27 -104h0M154 -14h0M168 -24h0M192 -15h0M181 -22h0M7 -124h0M23 -115h0M18 -101h0M164 -25h0M9 -101h0M196 -26h0M16 -110h0M-8 -108h0M6 -94h0M161 -30h0M187 -35h0M145 -27h0M4 -85h0M13 -82h0M0 -138h0M18 -145h0M13 -143h0" stroke="#e5674f"/><path d="M190 -19h0M6 -120h0M-19 -24h0M-20 -14h0M154 -9h0M-22 -32h0M195 -17h0M-21 -20h0M-79 -12h0M-73 -21h0M186 -4h0M-67 -20h0M168 5h0M146 -6h0M-16 -10h0M172 -24h0M-46 13h0M-16 -8h0M4 -112h0M146 -3h0M186 -27h0M163 -22h0M-37 2h0M-22 -2h0M-14 -11h0M-17 -36h0M174 -14h0M6 -109h0M-22 -43h0M181 -4h0M-43 9h0M173 -10h0M-37 0h0M-16 -35h0M-16 -75h0M-19 -74h0M196 2h0M-56 22h0M-20 -58h0M178 2h0M178 -11h0M174 -4h0M-12 -76h0M170 -20h0M-14 -46h0M190 -10h0M156 -22h0M-18 -28h0M204 -9h0M-22 -80h0M174 -28h0M-30 -1h0M151 -19h0M-17 -19h0M56 44h0M-82 -28h0M-16 -11h0M-53 -10h0M188 -19h0M193 -21h0M-24 -7h0M-5 -122h0M152 -19h0M196 5h0M174 -13h0M161 -42h0M175 -20h0M-18 -67h0M167 -18h0M198 -24h0M-14 -29h0M212 7h0M136 -14h0M-37 21h0M-26 5h0" stroke="#e17a64"/><path d="M16 -120h0M24 -100h0M8 -93h0M0 -101h0M14 -106h0M21 -124h0M177 -43h0M21 -120h0M189 -32h0M150 -18h0M0 -104h0M159 -38h0M-6 -114h0M12 -95h0M10 -106h0M182 -46h0M2 -107h0M-11 -99h0M19 -123h0M20 -109h0M5 -128h0M168 -38h0M-10 -110h0M182 -44h0M156 -28h0M-18 -93h0M12 -130h0M8 -132h0M6 -133h0M172 -28h0M6 -136h0M-2 -98h0M2 -102h0M0 -102h0M184 -31h0M160 -39h0M0 -121h0M-3 -124h0M25 -102h0M1 -126h0M0 -132h0M0 -128h0M-6 -112h0M184 -39h0M19 -110h0M7 -102h0M169 -40h0M-8 -120h0M27 -105h0M-8 -125h0M21 -122h0M205 -26h0M141 -21h0M7 -86h0M12 -140h0M25 -91h0M32 -100h0M-28 -103h0M10 -142h0M25 -138h0" stroke="#e8563e"/><path d="M66 98h0M74 140h0M132 114h0M50 112h0M71 129h0M96 99h0M70 101h0M112 131h0M136 127h0M88 93h0M91 140h0M68 105h0M94 120h0M110 96h0M85 98h0M73 150h0M63 107h0M76 138h0M111 118h0M94 141h0M56 118h0M66 138h0M94 133h0M87 140h0M70 128h0M82 154h0M53 105h0M109 126h0M82 134h0M88 83h0M-76 97h0M78 100h0M110 123h0M116 99h0M92 146h0M78 128h0M60 125h0M80 88h0M88 148h0M116 107h0M78 120h0M78 152h0M84 99h0M79 84h0M75 97h0M112 103h0M78 104h0M105 141h0M92 135h0M49 122h0M106 103h0M61 127h0M93 127h0M134 120h0M84 104h0M84 150h0M90 118h0M78 138h0M57 112h0M92 126h0M131 120h0M121 103h0M64 85h0M84 95h0M130 124h0M105 103h0M90 86h0M94 93h0M87 120h0M89 152h0M102 128h0M88 113h0M102 118h0M134 118h0M60 135h0M104 153h0M51 84h0M79 160h0M71 160h0M50 135h0M45 90h0M135 138h0M96 159h0M124 96h0M145 123h0M126 142h0" stroke="#7dc3c4"/><path d="M173 -28h0M-18 -93h0M184 -16h0M6 -122h0M168 -52h0M107 16h0M11 -116h0M172 -22h0M-1 -94h0M-77 -26h0M-45 -17h0M176 13h0M182 -19h0M182 -16h0M180 -42h0M-19 -100h0M163 -34h0M5 -128h0M19 -104h0M174 -23h0M184 -37h0M14 -102h0M194 -20h0M169 12h0M178 -50h0M4 -121h0M62 32h0M3 -105h0M-60 -12h0M178 -23h0M177 -13h0M-14 -111h0M176 -2h0M-1 -117h0M-15 -118h0M156 -47h0M187 -48h0M162 -58h0M163 -59h0M176 -63h0M33 -103h0" stroke="#e84834"/></g>
<text x="562.3" y="288.25" font-size="3" text-anchor="end" font-weight="bold" fill="#3a3a3a">1.0</text>
<text x="562.3" y="305.4" font-size="3" text-anchor="end" font-weight="bold" fill="#3a3a3a">0.5</text>
<text x="562.3" y="322.55" font-size="3" text-anchor="end" font-weight="bold" fill="#3a3a3a">0.0</text>
<text x="562.3" y="339.7" font-size="3" text-anchor="end" font-weight="bold" fill="#3a3a3a">−0.5</text>
<text x="562.3" y="356.85" font-size="3" text-anchor="end" font-weight="bold" fill="#3a3a3a">−1.0</text>
<text x="590" y="369" font-size="3" text-anchor="middle" font-weight="bold" fill="#3a3a3a">0</text>
<text x="621" y="369" font-size="3" text-anchor="middle" font-weight="bold" fill="#3a3a3a">1</text>
<text x="652" y="369" font-size="3" text-anchor="middle" font-weight="bold" fill="#3a3a3a">2</text>
<text x="607.65" y="372.3" font-size="3.3" text-anchor="middle" font-weight="bold" fill="#222">Dimension 1</text>
<text x="555" y="321.5" font-size="3.3" text-anchor="middle" font-weight="bold" fill="#222" transform="rotate(-90 555 321.5)">Dimension 2</text>
<text x="563.8" y="279.4" font-size="4.7" font-weight="bold" fill="#222">HDL−C (mmol/L)</text>
<text x="657.5" y="299.9" font-size="4.6" font-weight="bold" fill="#222">HDL−C</text>
<rect x="657.5" y="301.9" width="10.5" height="49.6" fill="url(#tc)" />
<line x1="657.5" y1="314" x2="659.6" y2="314" stroke="#fff" stroke-width="0.6" />
<line x1="665.9" y1="314" x2="668" y2="314" stroke="#fff" stroke-width="0.6" />
<text x="670.2" y="315.5" font-size="4.3" font-weight="bold" fill="#222">1.5</text>
<line x1="657.5" y1="326" x2="659.6" y2="326" stroke="#fff" stroke-width="0.6" />
<line x1="665.9" y1="326" x2="668" y2="326" stroke="#fff" stroke-width="0.6" />
<text x="670.2" y="327.5" font-size="4.3" font-weight="bold" fill="#222">1.0</text>
<line x1="657.5" y1="338" x2="659.6" y2="338" stroke="#fff" stroke-width="0.6" />
<line x1="665.9" y1="338" x2="668" y2="338" stroke="#fff" stroke-width="0.6" />
<text x="670.2" y="339.5" font-size="4.3" font-weight="bold" fill="#222">0.5</text>
<line x1="31.1" y1="390.8" x2="31.1" y2="474.7" stroke="#e6e6e6" stroke-width="0.8" />
<line x1="46.6" y1="390.8" x2="46.6" y2="474.7" stroke="#dedede" stroke-width="1.1" />
<line x1="62.1" y1="390.8" x2="62.1" y2="474.7" stroke="#e6e6e6" stroke-width="0.8" />
<line x1="77.6" y1="390.8" x2="77.6" y2="474.7" stroke="#dedede" stroke-width="1.1" />
<line x1="93.1" y1="390.8" x2="93.1" y2="474.7" stroke="#e6e6e6" stroke-width="0.8" />
<line x1="108.6" y1="390.8" x2="108.6" y2="474.7" stroke="#dedede" stroke-width="1.1" />
<line x1="19.9" y1="396.6" x2="110.3" y2="396.6" stroke="#dedede" stroke-width="1.1" />
<line x1="19.9" y1="405.17" x2="110.3" y2="405.17" stroke="#e6e6e6" stroke-width="0.8" />
<line x1="19.9" y1="413.75" x2="110.3" y2="413.75" stroke="#dedede" stroke-width="1.1" />
<line x1="19.9" y1="422.32" x2="110.3" y2="422.32" stroke="#e6e6e6" stroke-width="0.8" />
<line x1="19.9" y1="430.9" x2="110.3" y2="430.9" stroke="#dedede" stroke-width="1.1" />
<line x1="19.9" y1="439.47" x2="110.3" y2="439.47" stroke="#e6e6e6" stroke-width="0.8" />
<line x1="19.9" y1="448.05" x2="110.3" y2="448.05" stroke="#dedede" stroke-width="1.1" />
<line x1="19.9" y1="456.62" x2="110.3" y2="456.62" stroke="#e6e6e6" stroke-width="0.8" />
<line x1="19.9" y1="465.2" x2="110.3" y2="465.2" stroke="#dedede" stroke-width="1.1" />
<line x1="19.9" y1="473.77" x2="110.3" y2="473.77" stroke="#e6e6e6" stroke-width="0.8" />
<g transform="translate(46.6 430.9) scale(1 1)"><use href="#rT" fill="#82c1c0" stroke="#82c1c0" opacity="0.75"/><use href="#rS" fill="#a1b3a8" stroke="#a1b3a8" opacity="0.75"/><use href="#rL" fill="#d88975" stroke="#d88975" opacity="0.75"/><use href="#rU" fill="#9eb5ac" stroke="#9eb5ac" opacity="0.75"/><use href="#rLL" fill="#dc846f" stroke="#dc846f" opacity="0.75"/><use href="#rC" fill="#c7a090" stroke="#c7a090" opacity="0.75"/><use href="#rR" fill="#98b8b1" stroke="#98b8b1" opacity="0.75"/><use href="#rB" fill="#e17a64" stroke="#e17a64" opacity="0.75"/><use href="#rLB" fill="#c7a090" stroke="#c7a090" opacity="0.75"/></g><g transform="translate(46.6 430.9) scale(0.25 0.25)" stroke-width="9.2" stroke-linecap="round"><path d="M-22 -44h0M-65 -14h0M134 13h0M-71 66h0M23 -2h0M86 122h0M-60 81h0M53 58h0M135 126h0M94 89h0M137 124h0M-35 -14h0M92 111h0M-76 -17h0M-68 -14h0M-71 88h0M71 102h0M118 13h0M44 12h0M76 138h0M-44 -14h0M25 8h0M-16 -40h0M66 138h0M87 140h0M70 128h0M-1 -94h0M109 126h0M-48 18h0M-54 89h0M-72 74h0M-62 70h0M110 123h0M82 96h0M-54 87h0M20 -109h0M12 1h0M-52 58h0M3 8h0M56 108h0M116 107h0M78 120h0M-85 -21h0M79 84h0M51 68h0M30 6h0M105 141h0M106 103h0M134 120h0M-77 88h0M-73 -24h0M-47 28h0M57 50h0M59 99h0M58 86h0M-73 82h0M-56 60h0M90 118h0M84 136h0M-18 -28h0M55 50h0M-58 89h0M63 91h0M-22 -80h0M12 8h0M107 123h0M-53 -10h0M-60 71h0M15 -26h0M62 119h0M-24 -7h0M100 108h0M118 20h0M90 86h0M-83 -12h0M137 19h0M87 120h0M3 -25h0M102 128h0M134 118h0M131 123h0M118 144h0M45 90h0M25 -91h0M-84 -5h0M238 6h0M221 51h0M145 123h0" stroke="#c8a090"/><path d="M178 27h0M72 83h0M36 16h0M-16 -4h0M56 18h0M168 26h0M-17 -113h0M127 12h0M48 53h0M71 134h0M-8 -12h0M-5 -8h0M-21 -72h0M-63 68h0M148 8h0M144 -1h0M-21 -20h0M-79 -12h0M-73 -21h0M-47 -9h0M-19 -91h0M198 16h0M-16 -10h0M56 19h0M73 150h0M-4 -12h0M62 21h0M188 17h0M67 11h0M151 17h0M162 15h0M-20 -28h0M-77 -26h0M-45 -17h0M176 13h0M-22 -2h0M66 72h0M-14 -11h0M151 19h0M56 41h0M9 -24h0M188 -15h0M39 18h0M115 123h0M5 -128h0M153 -6h0M166 19h0M188 -28h0M-48 22h0M20 -23h0M56 95h0M177 18h0M-15 -62h0M40 18h0M196 -1h0M196 2h0M0 -105h0M-8 1h0M20 -41h0M61 118h0M-56 22h0M194 20h0M192 18h0M6 -133h0M174 -4h0M165 -26h0M120 19h0M141 17h0M92 135h0M-50 68h0M40 15h0M154 23h0M174 -28h0M61 127h0M62 32h0M44 26h0M18 -39h0M0 -102h0M3 -17h0M-67 82h0M6 0h0M62 64h0M47 36h0M204 -9h0M62 63h0M64 19h0M126 8h0M7 -124h0M190 28h0M123 16h0M91 12h0M184 14h0M-44 -18h0M104 19h0M196 20h0M19 12h0M-26 -2h0M196 5h0M115 117h0M-71 100h0M-14 -111h0M-90 -27h0M196 -26h0M140 10h0M-20 -31h0M-56 56h0M89 20h0M60 55h0M58 32h0M-8 -120h0M-1 -117h0M-13 -4h0M27 -105h0M53 47h0M192 23h0M55 96h0M141 -21h0M134 26h0M126 99h0M71 160h0M7 -86h0M32 -100h0M138 110h0M10 -142h0" stroke="#a3b3a7"/><path d="M74 128h0M-53 58h0M-46 -15h0M70 101h0M88 93h0M90 89h0M-65 72h0M66 108h0M116 99h0M-26 -1h0M-64 -12h0M-64 56h0M105 126h0M78 104h0M-60 46h0M104 139h0M93 127h0M123 108h0M90 154h0M103 94h0M193 -21h0M-64 78h0M116 146h0M-37 21h0" stroke="#e17a64"/><path d="M10 -124h0M90 10h0M16 -120h0M10 -112h0M-78 -22h0M173 -28h0M188 4h0M35 11h0M-19 -24h0M0 -101h0M168 -9h0M159 -16h0M-8 -114h0M24 6h0M96 99h0M170 -39h0M186 28h0M177 -43h0M21 -120h0M6 -122h0M154 -9h0M-22 -32h0M168 -52h0M12 -104h0M94 107h0M90 113h0M120 20h0M171 -54h0M146 -6h0M172 -24h0M-6 -114h0M-3 -114h0M178 19h0M10 -106h0M61 56h0M182 -46h0M4 -112h0M-10 2h0M11 -102h0M182 -19h0M164 8h0M18 -1h0M177 -24h0M181 -3h0M2 -107h0M-6 -10h0M151 25h0M-11 -99h0M85 10h0M19 -104h0M182 -44h0M80 142h0M-43 9h0M184 -37h0M64 125h0M19 -119h0M14 -102h0M78 152h0M-35 -1h0M65 22h0M194 -20h0M99 17h0M170 -20h0M154 -14h0M178 -2h0M190 -10h0M177 3h0M168 -24h0M196 21h0M192 -15h0M0 -121h0M177 -9h0M156 7h0M174 -28h0M56 15h0M176 0h0M76 98h0M172 11h0M1 -126h0M-16 -61h0M0 -128h0M-6 -112h0M2 -20h0M164 4h0M164 -25h0M174 -13h0M100 103h0M6 -94h0M-22 -72h0M30 -28h0M21 -122h0M156 -47h0M205 -26h0M187 -48h0M162 -58h0M200 33h0M163 -59h0M13 -82h0M33 -103h0M-74 -6h0M224 22h0M230 1h0M202 45h0M210 30h0M134 130h0M25 -138h0" stroke="#76c5ca"/><path d="M160 24h0M61 44h0M138 20h0M-53 63h0M-62 84h0M119 120h0M-78 84h0M82 129h0M59 102h0M108 116h0M85 11h0M183 -7h0M68 105h0M151 21h0M-40 -16h0M75 95h0M-49 25h0M159 -38h0M-58 62h0M192 16h0M63 107h0M60 68h0M88 110h0M56 118h0M88 123h0M166 -30h0M88 108h0M-58 79h0M78 110h0M98 144h0M74 108h0M-72 -21h0M-74 -17h0M117 117h0M67 16h0M-43 10h0M66 131h0M88 148h0M12 -130h0M63 54h0M103 130h0M-66 104h0M81 82h0M66 92h0M172 -28h0M76 146h0M-70 101h0M84 104h0M84 150h0M30 -36h0M61 123h0M111 104h0M93 115h0M0 -10h0M67 14h0M-51 -14h0M164 4h0M-39 -4h0M-74 97h0M-82 -28h0M84 95h0M105 103h0M92 131h0M80 16h0M64 78h0M103 114h0M75 107h0M90 21h0M82 132h0M9 -101h0M-12 -54h0M-17 -73h0M3 -8h0M176 -2h0M8 -24h0M161 -30h0M169 27h0M102 118h0M85 146h0M-8 -125h0M80 20h0M97 107h0M187 -35h0M-68 79h0M104 153h0M46 134h0M146 117h0M50 135h0M110 84h0M-26 5h0M-68 35h0M-80 -40h0M22 -16h0M126 142h0" stroke="#e8392a"/><path d="M105 98h0M43 10h0M93 14h0M106 133h0M-44 12h0M94 124h0M47 11h0M22 -3h0M-42 18h0M-67 95h0M54 30h0M94 141h0M-21 -71h0M82 154h0M88 12h0M88 83h0M-37 2h0M63 127h0M76 128h0M92 146h0M55 68h0M97 138h0M56 94h0M-57 61h0M63 98h0M-66 97h0M-52 82h0M116 15h0M106 130h0M114 126h0M49 122h0M78 116h0M52 52h0M-79 80h0M61 107h0M123 128h0M1 0h0M18 -28h0M74 13h0M121 103h0M-82 -25h0M56 24h0M-57 86h0M109 94h0M55 75h0M188 33h0M96 12h0M-58 94h0M14 1h0M-26 -6h0M-45 60h0M-50 101h0" stroke="#d58d7a"/><path d="M-2 -17h0M125 16h0M-84 -11h0M-61 66h0M66 98h0M62 18h0M-20 -14h0M132 114h0M50 112h0M71 129h0M6 -28h0M112 131h0M117 116h0M184 -6h0M136 127h0M59 80h0M72 9h0M111 129h0M61 37h0M-60 61h0M-84 -26h0M28 15h0M-89 -18h0M51 66h0M122 12h0M-54 35h0M-45 -18h0M85 98h0M-46 13h0M112 16h0M111 118h0M-61 100h0M11 -4h0M94 133h0M59 52h0M-65 99h0M79 131h0M14 -37h0M94 126h0M66 73h0M176 22h0M163 -22h0M-65 77h0M124 105h0M-76 97h0M173 -31h0M154 18h0M-19 -100h0M174 -14h0M99 108h0M-74 83h0M-62 75h0M19 -123h0M78 128h0M106 108h0M6 -8h0M63 68h0M58 116h0M-37 0h0M75 114h0M28 2h0M101 8h0M72 118h0M-41 -11h0M84 99h0M178 -11h0M66 141h0M110 135h0M112 103h0M-12 -76h0M-63 -18h0M60 136h0M26 -28h0M-64 48h0M76 154h0M78 138h0M67 84h0M137 20h0M104 107h0M-30 -1h0M-9 -3h0M-66 56h0M-78 91h0M178 26h0M121 118h0M56 44h0M-62 81h0M131 120h0M112 135h0M64 85h0M18 -101h0M90 16h0M65 99h0M136 5h0M188 9h0M89 152h0M16 12h0M-12 -2h0M94 14h0M167 -18h0M84 148h0M88 113h0M60 135h0M195 21h0M6 6h0M64 98h0M56 110h0M145 -27h0M51 84h0M69 160h0M75 162h0M135 138h0M124 96h0M62 148h0M-64 109h0M-56 107h0M-72 50h0M7 -43h0M211 46h0M215 7h0M218 -2h0M84 165h0M13 -143h0" stroke="#e84834"/><path d="M129 124h0M82 134h0M57 112h0M94 93h0M-54 28h0" stroke="#e5674f"/><path d="M145 -6h0M182 -28h0M190 -19h0M6 -120h0M180 2h0M-18 -93h0M198 9h0M184 -16h0M176 -5h0M14 -106h0M177 -9h0M175 -36h0M127 15h0M91 140h0M56 60h0M189 -32h0M107 16h0M150 -18h0M14 -110h0M0 -104h0M184 3h0M196 3h0M170 4h0M60 58h0M175 -17h0M9 2h0M146 -3h0M10 -121h0M166 4h0M55 73h0M-21 -72h0M157 -15h0M142 10h0M182 -16h0M178 -6h0M180 -42h0M0 5h0M-17 -36h0M163 -34h0M-53 78h0M-13 -17h0M9 -115h0M201 8h0M-16 -75h0M86 85h0M172 -29h0M-19 -74h0M21 -113h0M167 -5h0M186 0h0M-13 -6h0M-2 -6h0M112 18h0M10 -91h0M169 12h0M17 9h0M52 40h0M2 -102h0M198 -7h0M156 -22h0M178 -23h0M177 -13h0M203 -1h0M170 22h0M0 -132h0M51 38h0M60 70h0M181 -11h0M58 132h0M184 -39h0M57 58h0M172 6h0M172 14h0M173 2h0M16 -110h0M88 94h0M-18 -67h0M141 5h0M17 4h0M-14 -29h0M172 42h0M134 25h0M101 160h0M224 -7h0" stroke="#8ebcb8"/><path d="M195 -6h0M8 -93h0M170 11h0M150 -6h0M79 10h0M21 -124h0M-12 -116h0M117 9h0M50 9h0M164 -26h0M-16 -40h0M14 -35h0M153 -20h0M168 5h0M12 -95h0M-8 -1h0M62 111h0M-12 -92h0M166 -49h0M48 7h0M-65 104h0M-10 -110h0M69 82h0M6 -109h0M51 24h0M-9 -112h0M181 -4h0M156 -28h0M119 124h0M169 -15h0M174 -23h0M122 122h0M-18 -93h0M24 8h0M-16 -35h0M107 11h0M-19 -78h0M199 -2h0M8 -132h0M-9 -101h0M-20 -58h0M75 97h0M70 102h0M27 -26h0M189 22h0M4 -121h0M-2 -98h0M-14 -46h0M3 -105h0M0 -12h0M181 -22h0M160 -39h0M116 134h0M-11 -54h0M-3 -124h0M192 6h0M151 -19h0M11 7h0M63 140h0M-16 -11h0M6 -21h0M-3 -21h0M33 -36h0M175 -20h0M-12 -2h0M-22 -33h0M49 60h0M28 -34h0M22 0h0M-15 -118h0M-34 2h0M164 -1h0M190 12h0M6 -27h0M189 43h0M212 7h0M128 96h0M96 159h0M4 -85h0M12 -140h0M0 -138h0M-28 -103h0M100 163h0" stroke="#72c6d0"/><path d="M-11 -116h0M24 -100h0M162 -7h0M163 23h0M7 -101h0M195 -17h0M186 -4h0M-22 -42h0M-5 -100h0M-80 -17h0M-14 -11h0M158 0h0M-3 -104h0M11 -116h0M188 5h0M172 -22h0M-21 -105h0M169 7h0M176 22h0M186 -27h0M174 13h0M-21 -22h0M58 20h0M78 100h0M5 -128h0M168 -38h0M-20 -10h0M173 30h0M4 -21h0M-81 -26h0M27 5h0M170 -38h0M174 -48h0M-9 -103h0M1 -116h0M142 22h0M116 14h0M-1 5h0M146 -8h0M151 20h0M15 -105h0M6 -136h0M3 -129h0M27 -104h0M178 -50h0M191 -30h0M182 8h0M184 -31h0M138 13h0M166 8h0M-4 -119h0M50 32h0M25 -102h0M-17 -19h0M23 -115h0M51 38h0M-5 -122h0M152 -19h0M161 -42h0M-8 -108h0M19 -110h0M7 -102h0M169 -40h0M198 -24h0M158 24h0M164 3h0M135 -9h0M136 -14h0M176 -63h0M18 -145h0" stroke="#7dc3c4"/><path d="M71 133h0M108 22h0M74 140h0M-25 -10h0M-60 85h0M-63 44h0M-72 83h0M-67 -20h0M84 114h0M31 2h0M94 120h0M110 96h0M-72 -18h0M-51 20h0M-6 -8h0M56 46h0M24 -28h0M-16 -8h0M194 -10h0M53 105h0M78 91h0M-71 75h0M56 15h0M-13 -67h0M60 66h0M116 105h0M-18 -2h0M10 -30h0M84 14h0M114 119h0M21 12h0M52 59h0M6 -17h0M180 21h0M46 12h0M57 68h0M100 111h0M158 12h0M78 13h0M60 125h0M2 -12h0M-22 -43h0M165 9h0M89 22h0M173 -10h0M80 88h0M-13 -70h0M12 -1h0M60 24h0M68 82h0M-18 -35h0M116 130h0M46 41h0M5 -8h0M81 24h0M-16 2h0M-51 -18h0M29 -37h0M148 16h0M178 2h0M58 120h0M80 24h0M-72 95h0M162 20h0M182 1h0M25 6h0M-60 -12h0M84 104h0M-73 67h0M28 16h0M65 74h0M177 0h0M61 12h0M84 138h0M-85 -13h0M202 4h0M52 32h0M64 10h0M171 23h0M-24 -4h0M92 126h0M28 11h0M122 18h0M64 54h0M-69 98h0M130 124h0M188 -19h0M-13 5h0M147 11h0M137 8h0M166 15h0M111 98h0M48 54h0M92 22h0M162 6h0M49 108h0M199 30h0M209 -16h0M208 11h0M210 11h0M152 -41h0M78 73h0M79 160h0M109 82h0M-97 -20h0M11 -12h0M214 36h0M216 -18h0" stroke="#b7a898"/><path d="M86 96h0M95 108h0" stroke="#e8563e"/></g>
<text x="18.9" y="397.65" font-size="3" text-anchor="end" font-weight="bold" fill="#3a3a3a">1.0</text>
<text x="18.9" y="414.8" font-size="3" text-anchor="end" font-weight="bold" fill="#3a3a3a">0.5</text>
<text x="18.9" y="431.95" font-size="3" text-anchor="end" font-weight="bold" fill="#3a3a3a">0.0</text>
<text x="18.9" y="449.1" font-size="3" text-anchor="end" font-weight="bold" fill="#3a3a3a">−0.5</text>
<text x="18.9" y="466.25" font-size="3" text-anchor="end" font-weight="bold" fill="#3a3a3a">−1.0</text>
<text x="46.6" y="478.4" font-size="3" text-anchor="middle" font-weight="bold" fill="#3a3a3a">0</text>
<text x="77.6" y="478.4" font-size="3" text-anchor="middle" font-weight="bold" fill="#3a3a3a">1</text>
<text x="108.6" y="478.4" font-size="3" text-anchor="middle" font-weight="bold" fill="#3a3a3a">2</text>
<text x="64.25" y="481.7" font-size="3.3" text-anchor="middle" font-weight="bold" fill="#222">Dimension 1</text>
<text x="11.6" y="430.9" font-size="3.3" text-anchor="middle" font-weight="bold" fill="#222" transform="rotate(-90 11.6 430.9)">Dimension 2</text>
<text x="20" y="388.8" font-size="4.7" font-weight="bold" fill="#222">Triglycerides (mmol/L)</text>
<text x="113" y="409.3" font-size="4.6" font-weight="bold" fill="#222">TRIG</text>
<rect x="113" y="411.3" width="10.5" height="49.6" fill="url(#tc)" />
<line x1="113" y1="421" x2="115.1" y2="421" stroke="#fff" stroke-width="0.6" />
<line x1="121.4" y1="421" x2="123.5" y2="421" stroke="#fff" stroke-width="0.6" />
<text x="125.7" y="422.5" font-size="4.3" font-weight="bold" fill="#222">4</text>
<line x1="113" y1="441" x2="115.1" y2="441" stroke="#fff" stroke-width="0.6" />
<line x1="121.4" y1="441" x2="123.5" y2="441" stroke="#fff" stroke-width="0.6" />
<text x="125.7" y="442.5" font-size="4.3" font-weight="bold" fill="#222">2</text>
<line x1="166" y1="390.8" x2="166" y2="474.7" stroke="#e6e6e6" stroke-width="0.8" />
<line x1="181.5" y1="390.8" x2="181.5" y2="474.7" stroke="#dedede" stroke-width="1.1" />
<line x1="197" y1="390.8" x2="197" y2="474.7" stroke="#e6e6e6" stroke-width="0.8" />
<line x1="212.5" y1="390.8" x2="212.5" y2="474.7" stroke="#dedede" stroke-width="1.1" />
<line x1="228" y1="390.8" x2="228" y2="474.7" stroke="#e6e6e6" stroke-width="0.8" />
<line x1="243.5" y1="390.8" x2="243.5" y2="474.7" stroke="#dedede" stroke-width="1.1" />
<line x1="154.8" y1="396.6" x2="245.2" y2="396.6" stroke="#dedede" stroke-width="1.1" />
<line x1="154.8" y1="405.17" x2="245.2" y2="405.17" stroke="#e6e6e6" stroke-width="0.8" />
<line x1="154.8" y1="413.75" x2="245.2" y2="413.75" stroke="#dedede" stroke-width="1.1" />
<line x1="154.8" y1="422.32" x2="245.2" y2="422.32" stroke="#e6e6e6" stroke-width="0.8" />
<line x1="154.8" y1="430.9" x2="245.2" y2="430.9" stroke="#dedede" stroke-width="1.1" />
<line x1="154.8" y1="439.47" x2="245.2" y2="439.47" stroke="#e6e6e6" stroke-width="0.8" />
<line x1="154.8" y1="448.05" x2="245.2" y2="448.05" stroke="#dedede" stroke-width="1.1" />
<line x1="154.8" y1="456.62" x2="245.2" y2="456.62" stroke="#e6e6e6" stroke-width="0.8" />
<line x1="154.8" y1="465.2" x2="245.2" y2="465.2" stroke="#dedede" stroke-width="1.1" />
<line x1="154.8" y1="473.77" x2="245.2" y2="473.77" stroke="#e6e6e6" stroke-width="0.8" />
<g transform="translate(181.5 430.9) scale(1 1)"><use href="#rT" fill="#b3aa9a" stroke="#b3aa9a" opacity="0.75"/><use href="#rS" fill="#c0a494" stroke="#c0a494" opacity="0.75"/><use href="#rL" fill="#cb9b8b" stroke="#cb9b8b" opacity="0.75"/><use href="#rU" fill="#c8a090" stroke="#c8a090" opacity="0.75"/><use href="#rLL" fill="#d3907d" stroke="#d3907d" opacity="0.75"/><use href="#rC" fill="#cc9a89" stroke="#cc9a89" opacity="0.75"/><use href="#rR" fill="#bca696" stroke="#bca696" opacity="0.75"/><use href="#rB" fill="#d48f7c" stroke="#d48f7c" opacity="0.75"/><use href="#rLB" fill="#cc9a89" stroke="#cc9a89" opacity="0.75"/></g><g transform="translate(181.5 430.9) scale(0.25 0.25)" stroke-width="9.2" stroke-linecap="round"><path d="M-22 -44h0M129 124h0M90 10h0M-61 66h0M180 2h0M-78 -22h0M74 140h0M62 18h0M198 9h0M132 114h0M79 10h0M137 124h0M-8 -12h0M108 116h0M-63 44h0M-73 -21h0M168 -52h0M28 15h0M186 -4h0M-80 -17h0M-19 -91h0M56 46h0M172 -24h0M24 -28h0M76 138h0M66 108h0M174 13h0M60 66h0M154 18h0M-21 -72h0M58 20h0M164 8h0M66 72h0M-19 -100h0M57 68h0M-74 -17h0M-22 -43h0M165 9h0M166 19h0M-9 -112h0M173 30h0M119 124h0M173 -10h0M-81 -26h0M12 -1h0M116 14h0M-13 -6h0M105 126h0M112 18h0M10 -91h0M105 141h0M76 146h0M80 24h0M-70 101h0M4 -121h0M-14 -46h0M-18 -28h0M62 64h0M138 13h0M137 20h0M-22 -80h0M56 15h0M52 32h0M-11 -54h0M-30 -1h0M171 23h0M123 108h0M56 44h0M28 11h0M122 18h0M-57 86h0M-53 -10h0M57 58h0M80 16h0M164 -25h0M-83 -12h0M-5 -122h0M33 -36h0M-17 -73h0M166 15h0M-12 -2h0M-22 -33h0M3 -8h0M7 -102h0M89 20h0M176 -2h0M-12 -2h0M85 146h0M56 110h0M210 11h0M75 162h0M96 159h0M-56 107h0M-50 101h0M215 7h0M218 -2h0" stroke="#b7a898"/><path d="M178 27h0M-46 -15h0M145 -6h0M-16 -4h0M35 11h0M-25 -10h0M112 131h0M148 8h0M72 9h0M-60 85h0M91 140h0M111 129h0M-79 -12h0M12 -104h0M-22 -42h0M14 -35h0M0 -104h0M196 3h0M170 4h0M56 19h0M192 16h0M-44 -14h0M178 19h0M172 -22h0M70 128h0M-45 -17h0M166 4h0M-13 -67h0M-76 97h0M-72 74h0M177 -24h0M76 128h0M188 -15h0M100 111h0M-10 -110h0M-43 9h0M89 22h0M-16 -35h0M19 -119h0M172 -29h0M-18 -35h0M142 22h0M12 -130h0M0 -105h0M116 107h0M-85 -21h0M14 -102h0M148 16h0M81 82h0M-9 -101h0M116 15h0M-2 -98h0M-73 -24h0M84 104h0M28 16h0M192 -15h0M61 107h0M156 7h0M-4 -119h0M0 -10h0M74 13h0M109 94h0M184 -39h0M188 -19h0M196 20h0M174 -13h0M102 128h0M58 32h0M84 148h0M161 -30h0M198 -24h0M192 23h0M80 20h0M187 -35h0M187 -48h0M141 -21h0M208 11h0M152 -41h0M51 84h0M4 -85h0M13 -82h0M0 -138h0M32 -100h0M-84 -5h0M11 -12h0M126 142h0M18 -145h0" stroke="#a3b3a7"/><path d="M74 128h0M-53 58h0M10 -112h0M162 -7h0M-18 -93h0M-53 63h0M119 120h0M-17 -113h0M48 53h0M82 129h0M71 134h0M94 124h0M59 102h0M22 -3h0M-63 68h0M127 15h0M61 37h0M-21 -20h0M31 2h0M68 105h0M94 107h0M94 120h0M-72 -18h0M122 12h0M-49 25h0M-6 -8h0M159 -38h0M112 16h0M158 0h0M44 12h0M-16 -8h0M82 154h0M62 111h0M53 105h0M-65 99h0M78 91h0M-1 -94h0M109 126h0M176 22h0M163 -22h0M11 -102h0M-37 2h0M10 -30h0M78 110h0M181 -3h0M99 108h0M114 119h0M5 -128h0M20 -109h0M60 125h0M51 24h0M117 117h0M55 68h0M-43 10h0M3 8h0M-13 -70h0M24 8h0M-16 -75h0M-15 -62h0M40 18h0M56 108h0M196 -1h0M-19 -74h0M-57 61h0M-66 97h0M-16 2h0M20 -41h0M61 118h0M-64 56h0M151 20h0M141 17h0M104 139h0M70 102h0M49 122h0M106 103h0M189 22h0M84 150h0M177 3h0M44 26h0M168 -24h0M-56 60h0M-60 -12h0M-73 67h0M-67 82h0M184 -31h0M0 -121h0M116 134h0M67 84h0M63 91h0M-3 -124h0M176 0h0M-9 -3h0M50 32h0M121 118h0M-17 -19h0M170 22h0M131 120h0M90 154h0M121 103h0M-74 97h0M-16 -61h0M-60 71h0M-6 -112h0M65 99h0M-64 78h0M-13 5h0M86 96h0M115 117h0M9 -101h0M196 -26h0M-8 -108h0M96 12h0M-56 56h0M14 1h0M3 -25h0M-1 -117h0M6 6h0M97 107h0M-68 79h0M199 30h0M212 7h0M126 99h0M69 160h0M45 90h0M101 160h0M109 82h0M-64 109h0M-26 5h0M-72 50h0M-80 -40h0M238 6h0M216 -18h0" stroke="#e8392a"/><path d="M10 -124h0M36 16h0M184 -16h0M170 -39h0M175 -36h0M150 -18h0M168 5h0M171 -54h0M71 102h0M11 -116h0M188 17h0M61 56h0M59 52h0M182 -46h0M146 -3h0M94 126h0M-21 -22h0M182 -19h0M-11 -99h0M19 -123h0M6 -109h0M9 -115h0M156 -28h0M169 -15h0M80 88h0M170 -38h0M21 -113h0M110 135h0M15 -105h0M3 -129h0M61 127h0M178 -50h0M190 -10h0M182 8h0M156 -22h0M181 -22h0M111 104h0M192 6h0M178 26h0M203 -1h0M-62 81h0M0 -128h0M105 103h0M94 93h0M-15 -118h0M-8 -125h0M134 26h0M135 138h0" stroke="#8ebcb8"/><path d="M160 24h0M105 98h0M125 16h0M61 44h0M190 -19h0M71 133h0M6 -120h0M-84 -11h0M72 83h0M188 4h0M86 122h0M-78 84h0M106 133h0M-60 81h0M50 112h0M24 6h0M-44 12h0M70 101h0M186 28h0M184 -6h0M47 11h0M-21 -72h0M-12 -116h0M163 23h0M117 9h0M21 -120h0M56 60h0M144 -1h0M-60 61h0M195 -17h0M-84 -26h0M-72 83h0M84 114h0M110 96h0M120 20h0M-42 18h0M-51 20h0M-47 -9h0M-68 -14h0M-71 88h0M75 95h0M-54 35h0M146 -6h0M-45 -18h0M85 98h0M60 58h0M-67 95h0M-3 -114h0M88 123h0M151 17h0M94 133h0M162 15h0M79 131h0M-20 -28h0M-71 75h0M14 -37h0M-48 18h0M10 -121h0M186 -27h0M-10 2h0M88 83h0M116 105h0M-54 89h0M18 -1h0M157 -15h0M78 100h0M116 99h0M0 5h0M-17 -36h0M151 25h0M82 96h0M74 108h0M52 59h0M-54 87h0M92 146h0M39 18h0M115 123h0M19 -104h0M-53 78h0M78 13h0M6 -8h0M-13 -17h0M2 -12h0M-26 -1h0M80 142h0M181 -4h0M12 1h0M58 116h0M-48 22h0M-37 0h0M75 114h0M60 24h0M56 95h0M201 8h0M177 18h0M174 -48h0M86 85h0M-9 -103h0M101 8h0M196 2h0M63 98h0M186 0h0M5 -8h0M78 120h0M103 130h0M81 24h0M-35 -1h0M84 99h0M192 18h0M79 84h0M-20 -58h0M178 2h0M66 92h0M174 -4h0M75 97h0M165 -26h0M112 103h0M106 130h0M114 126h0M-63 -18h0M17 9h0M58 120h0M27 -26h0M60 136h0M134 120h0M26 -28h0M-72 95h0M178 -2h0M-47 28h0M62 32h0M76 154h0M162 20h0M182 1h0M25 6h0M196 21h0M-79 80h0M55 50h0M0 -12h0M65 74h0M177 0h0M47 36h0M93 115h0M84 138h0M78 138h0M-85 -13h0M64 19h0M104 107h0M-24 -4h0M92 126h0M-39 -4h0M91 12h0M184 14h0M-69 98h0M130 124h0M103 94h0M2 -20h0M193 -21h0M-24 -7h0M92 131h0M19 12h0M90 86h0M64 78h0M147 11h0M90 21h0M-26 -2h0M137 19h0M137 8h0M196 5h0M175 -20h0M-54 28h0M140 10h0M48 54h0M136 5h0M188 9h0M-58 94h0M16 12h0M92 22h0M94 14h0M167 -18h0M22 0h0M8 -24h0M27 -105h0M88 113h0M53 47h0M134 118h0M-22 -72h0M55 96h0M30 -28h0M21 -122h0M190 12h0M64 98h0M189 43h0M209 -16h0M205 -26h0M200 33h0M176 -63h0M118 144h0M78 73h0M46 134h0M71 160h0M110 84h0M7 -86h0M22 -16h0M221 51h0M210 30h0M145 123h0M25 -138h0" stroke="#e84834"/><path d="M-2 -17h0M195 -6h0M16 -120h0M24 -100h0M138 20h0M134 13h0M23 -2h0M-62 84h0M150 -6h0M0 -101h0M176 -5h0M159 -16h0M-8 -114h0M71 129h0M135 126h0M96 99h0M117 116h0M-5 -8h0M88 93h0M177 -43h0M183 -7h0M92 111h0M-16 -40h0M198 16h0M-14 -11h0M-6 -114h0M54 30h0M63 107h0M-3 -104h0M60 68h0M-61 100h0M62 21h0M56 118h0M-16 -40h0M11 -4h0M66 138h0M-8 -1h0M176 22h0M4 -112h0M82 134h0M66 73h0M124 105h0M84 14h0M182 -16h0M178 -6h0M-62 70h0M180 -42h0M2 -107h0M63 127h0M-12 -92h0M21 12h0M166 -49h0M48 7h0M-74 83h0M180 21h0M85 10h0M78 128h0M168 -38h0M69 82h0M-72 -21h0M-20 -10h0M188 -28h0M122 122h0M184 -37h0M64 125h0M199 -2h0M-41 -11h0M-8 1h0M-51 -18h0M29 -37h0M30 6h0M-60 46h0M172 -28h0M92 135h0M-12 -76h0M40 15h0M154 23h0M174 -28h0M27 -104h0M154 -14h0M191 -30h0M57 50h0M3 -105h0M198 -7h0M18 -39h0M0 -102h0M6 0h0M160 -39h0M177 -9h0M61 12h0M166 8h0M202 4h0M62 63h0M12 8h0M67 14h0M177 -13h0M57 112h0M107 123h0M23 -115h0M63 140h0M1 -126h0M64 85h0M51 38h0M18 -101h0M181 -11h0M104 19h0M118 20h0M103 114h0M-14 -111h0M-90 -27h0M172 14h0M-8 -120h0M169 27h0M-34 2h0M6 -27h0M135 -9h0M145 -27h0M163 -59h0M134 25h0M128 96h0M50 135h0M12 -140h0M33 -103h0M-28 -103h0M-68 35h0M224 22h0M230 1h0M134 130h0M138 110h0M10 -142h0M13 -143h0" stroke="#76c5ca"/><path d="M-65 -14h0M-11 -116h0M8 -93h0M43 10h0M-71 66h0M-20 -14h0M127 12h0M14 -106h0M94 89h0M6 -28h0M177 -9h0M21 -124h0M50 9h0M-35 -14h0M-67 -20h0M51 66h0M-40 -16h0M-65 72h0M-58 62h0M94 141h0M25 8h0M87 140h0M169 7h0M194 -10h0M-77 -26h0M55 73h0M-65 77h0M173 -31h0M-14 -11h0M110 123h0M163 -34h0M6 -17h0M46 12h0M106 108h0M107 11h0M116 130h0M-19 -78h0M-64 -12h0M-56 22h0M194 20h0M-52 82h0M-2 -6h0M78 104h0M52 40h0M-77 88h0M59 99h0M58 86h0M-73 82h0M84 136h0M204 -9h0M126 8h0M7 -124h0M-66 56h0M11 7h0M123 16h0M60 70h0M55 75h0M82 132h0M-71 100h0M-12 -54h0M173 2h0M87 120h0M-18 -67h0M195 21h0M62 148h0M-45 60h0M-37 21h0M-97 -20h0M84 165h0" stroke="#c8a090"/><path d="M182 -28h0M170 11h0M108 22h0M93 14h0M56 18h0M168 26h0M173 -28h0M-19 -24h0M136 127h0M59 80h0M6 -122h0M7 -101h0M154 -9h0M-22 -32h0M164 -26h0M151 21h0M107 16h0M-5 -100h0M184 3h0M90 89h0M-16 -10h0M73 150h0M-4 -12h0M88 110h0M111 118h0M188 5h0M12 -95h0M67 11h0M10 -106h0M-21 -105h0M9 2h0M176 13h0M88 12h0M56 15h0M166 -30h0M-18 -2h0M-22 -2h0M142 10h0M98 144h0M56 41h0M-6 -10h0M174 -14h0M9 -24h0M-65 104h0M-62 75h0M5 -128h0M182 -44h0M63 68h0M4 -21h0M174 -23h0M-18 -93h0M28 2h0M1 -116h0M56 94h0M88 148h0M46 41h0M167 -5h0M72 118h0M78 152h0M8 -132h0M-1 5h0M178 -11h0M51 68h0M120 19h0M194 -20h0M169 12h0M-50 68h0M84 104h0M2 -102h0M90 118h0M30 -36h0M52 52h0M61 123h0M178 -23h0M-51 -14h0M76 98h0M123 128h0M64 10h0M-78 91h0M151 -19h0M1 0h0M18 -28h0M25 -102h0M164 4h0M112 135h0M172 11h0M-82 -28h0M56 24h0M0 -132h0M64 54h0M-44 -18h0M90 16h0M58 132h0M51 38h0M6 -21h0M172 6h0M100 108h0M75 107h0M152 -19h0M161 -42h0M16 -110h0M111 98h0M88 94h0M-20 -31h0M49 60h0M89 152h0M60 55h0M169 -40h0M95 108h0M17 4h0M28 -34h0M100 103h0M6 -94h0M-13 -4h0M60 135h0M162 6h0M49 108h0M164 -1h0M158 24h0M-26 -6h0M131 123h0M164 3h0M172 42h0M136 -14h0M146 117h0M124 96h0M-74 -6h0M7 -43h0M224 -7h0M211 46h0" stroke="#72c6d0"/><path d="M66 98h0M53 58h0M85 11h0M-89 -18h0M-46 13h0M118 13h0M88 108h0M-58 79h0M67 16h0M-52 58h0M27 5h0M20 -23h0M68 82h0M66 131h0M63 54h0M65 22h0M99 17h0M-64 48h0M3 -17h0M78 116h0M-58 89h0M190 28h0M-16 -11h0M62 119h0M188 33h0M102 118h0M-14 -29h0M79 160h0M116 146h0M25 -91h0M214 36h0" stroke="#d58d7a"/><path d="M168 -9h0M189 -32h0M14 -110h0M153 -20h0M175 -17h0M151 19h0M158 12h0M153 -6h0M-66 104h0M146 -8h0M6 -133h0M6 -136h0M170 -20h0M174 -28h0M164 4h0M19 -110h0M141 5h0M156 -47h0M162 -58h0" stroke="#7dc3c4"/><path d="M-76 -17h0M90 113h0M-21 -71h0M97 138h0M66 141h0M84 95h0M15 -26h0M104 153h0M202 45h0M100 163h0" stroke="#e17a64"/><path d="M93 127h0M-82 -25h0M-3 -21h0" stroke="#e5674f"/></g>
<text x="153.8" y="397.65" font-size="3" text-anchor="end" font-weight="bold" fill="#3a3a3a">1.0</text>
<text x="153.8" y="414.8" font-size="3" text-anchor="end" font-weight="bold" fill="#3a3a3a">0.5</text>
<text x="153.8" y="431.95" font-size="3" text-anchor="end" font-weight="bold" fill="#3a3a3a">0.0</text>
<text x="153.8" y="449.1" font-size="3" text-anchor="end" font-weight="bold" fill="#3a3a3a">−0.5</text>
<text x="153.8" y="466.25" font-size="3" text-anchor="end" font-weight="bold" fill="#3a3a3a">−1.0</text>
<text x="181.5" y="478.4" font-size="3" text-anchor="middle" font-weight="bold" fill="#3a3a3a">0</text>
<text x="212.5" y="478.4" font-size="3" text-anchor="middle" font-weight="bold" fill="#3a3a3a">1</text>
<text x="243.5" y="478.4" font-size="3" text-anchor="middle" font-weight="bold" fill="#3a3a3a">2</text>
<text x="199.15" y="481.7" font-size="3.3" text-anchor="middle" font-weight="bold" fill="#222">Dimension 1</text>
<text x="146.5" y="430.9" font-size="3.3" text-anchor="middle" font-weight="bold" fill="#222" transform="rotate(-90 146.5 430.9)">Dimension 2</text>
<text x="155" y="388.8" font-size="4.7" font-weight="bold" fill="#222">Creatinine (umol/L)</text>
<text x="248.2" y="409.3" font-size="4.6" font-weight="bold" fill="#222">CREAT</text>
<rect x="248.2" y="411.3" width="10.5" height="49.6" fill="url(#tc)" />
<line x1="248.2" y1="421" x2="250.3" y2="421" stroke="#fff" stroke-width="0.6" />
<line x1="256.6" y1="421" x2="258.7" y2="421" stroke="#fff" stroke-width="0.6" />
<text x="260.9" y="422.5" font-size="4.3" font-weight="bold" fill="#222">90</text>
<line x1="248.2" y1="431" x2="250.3" y2="431" stroke="#fff" stroke-width="0.6" />
<line x1="256.6" y1="431" x2="258.7" y2="431" stroke="#fff" stroke-width="0.6" />
<text x="260.9" y="432.5" font-size="4.3" font-weight="bold" fill="#222">80</text>
<line x1="248.2" y1="441" x2="250.3" y2="441" stroke="#fff" stroke-width="0.6" />
<line x1="256.6" y1="441" x2="258.7" y2="441" stroke="#fff" stroke-width="0.6" />
<text x="260.9" y="442.5" font-size="4.3" font-weight="bold" fill="#222">70</text>
<line x1="248.2" y1="450" x2="250.3" y2="450" stroke="#fff" stroke-width="0.6" />
<line x1="256.6" y1="450" x2="258.7" y2="450" stroke="#fff" stroke-width="0.6" />
<text x="260.9" y="451.5" font-size="4.3" font-weight="bold" fill="#222">60</text>
<line x1="302.5" y1="390.8" x2="302.5" y2="474.7" stroke="#e6e6e6" stroke-width="0.8" />
<line x1="318" y1="390.8" x2="318" y2="474.7" stroke="#dedede" stroke-width="1.1" />
<line x1="333.5" y1="390.8" x2="333.5" y2="474.7" stroke="#e6e6e6" stroke-width="0.8" />
<line x1="349" y1="390.8" x2="349" y2="474.7" stroke="#dedede" stroke-width="1.1" />
<line x1="364.5" y1="390.8" x2="364.5" y2="474.7" stroke="#e6e6e6" stroke-width="0.8" />
<line x1="380" y1="390.8" x2="380" y2="474.7" stroke="#dedede" stroke-width="1.1" />
<line x1="291.3" y1="396.6" x2="381.7" y2="396.6" stroke="#dedede" stroke-width="1.1" />
<line x1="291.3" y1="405.17" x2="381.7" y2="405.17" stroke="#e6e6e6" stroke-width="0.8" />
<line x1="291.3" y1="413.75" x2="381.7" y2="413.75" stroke="#dedede" stroke-width="1.1" />
<line x1="291.3" y1="422.32" x2="381.7" y2="422.32" stroke="#e6e6e6" stroke-width="0.8" />
<line x1="291.3" y1="430.9" x2="381.7" y2="430.9" stroke="#dedede" stroke-width="1.1" />
<line x1="291.3" y1="439.47" x2="381.7" y2="439.47" stroke="#e6e6e6" stroke-width="0.8" />
<line x1="291.3" y1="448.05" x2="381.7" y2="448.05" stroke="#dedede" stroke-width="1.1" />
<line x1="291.3" y1="456.62" x2="381.7" y2="456.62" stroke="#e6e6e6" stroke-width="0.8" />
<line x1="291.3" y1="465.2" x2="381.7" y2="465.2" stroke="#dedede" stroke-width="1.1" />
<line x1="291.3" y1="473.77" x2="381.7" y2="473.77" stroke="#e6e6e6" stroke-width="0.8" />
<g transform="translate(318 430.9) scale(1 1)"><use href="#rT" fill="#7bc4c5" stroke="#7bc4c5" opacity="0.75"/><use href="#rS" fill="#94bab4" stroke="#94bab4" opacity="0.75"/><use href="#rL" fill="#d68c78" stroke="#d68c78" opacity="0.75"/><use href="#rU" fill="#8dbdb9" stroke="#8dbdb9" opacity="0.75"/><use href="#rLL" fill="#de816c" stroke="#de816c" opacity="0.75"/><use href="#rC" fill="#b8a898" stroke="#b8a898" opacity="0.75"/><use href="#rR" fill="#a9b0a2" stroke="#a9b0a2" opacity="0.75"/><use href="#rB" fill="#e07c66" stroke="#e07c66" opacity="0.75"/><use href="#rLB" fill="#b8a898" stroke="#b8a898" opacity="0.75"/></g><g transform="translate(318 430.9) scale(0.25 0.25)" stroke-width="9.2" stroke-linecap="round"><path d="M-22 -44h0M178 27h0M16 -120h0M36 16h0M56 18h0M23 -2h0M188 4h0M-60 81h0M21 -124h0M163 23h0M117 9h0M56 60h0M189 -32h0M-73 -21h0M92 111h0M-16 -40h0M150 -18h0M-22 -42h0M0 -104h0M171 -54h0M-51 20h0M198 16h0M172 -24h0M63 107h0M-3 -104h0M94 141h0M188 17h0M162 15h0M4 -112h0M-1 -94h0M-77 -26h0M186 -27h0M163 -22h0M55 73h0M142 10h0M2 -107h0M0 5h0M-6 -10h0M151 25h0M174 -14h0M52 59h0M48 7h0M-65 104h0M85 10h0M46 12h0M92 146h0M19 -104h0M5 -128h0M78 13h0M2 -12h0M165 9h0M55 68h0M67 16h0M9 -115h0M173 30h0M89 22h0M169 -15h0M-43 10h0M174 -23h0M80 88h0M-81 -26h0M19 -119h0M174 -48h0M-9 -103h0M172 -29h0M21 -113h0M-19 -78h0M29 -37h0M148 16h0M194 20h0M-9 -101h0M-64 56h0M-20 -58h0M6 -133h0M165 -26h0M172 -28h0M-50 68h0M104 139h0M3 -129h0M60 136h0M-70 101h0M-73 -24h0M178 -2h0M-47 28h0M168 -24h0M156 -22h0M0 -102h0M28 16h0M-18 -28h0M52 52h0M55 50h0M181 -22h0M156 7h0M64 19h0M7 -124h0M151 -19h0M91 12h0M56 24h0M-16 -61h0M0 -128h0M90 16h0M-6 -112h0M64 78h0M152 -19h0M-12 -54h0M161 -42h0M-17 -73h0M-8 -108h0M-12 -2h0M48 54h0M188 9h0M96 12h0M-18 -67h0M95 108h0M-8 -120h0M-13 -4h0M-15 -118h0M-22 -72h0M6 6h0M21 -122h0M64 98h0M189 43h0M187 -48h0M208 11h0M162 -58h0M176 -63h0M152 -41h0M104 153h0M12 -140h0M0 -138h0M138 110h0M10 -142h0" stroke="#76c5ca"/><path d="M74 128h0M-46 -15h0M-16 -4h0M-53 63h0M150 -6h0M127 12h0M53 58h0M24 6h0M6 -28h0M59 102h0M177 -9h0M-35 -14h0M-79 -12h0M68 105h0M94 107h0M151 21h0M-72 -18h0M-68 -14h0M-46 13h0M11 -4h0M82 154h0M-65 99h0M88 12h0M180 21h0M-48 22h0M-37 0h0M86 85h0M66 131h0M63 54h0M-8 1h0M65 22h0M66 92h0M51 68h0M75 97h0M105 141h0M17 9h0M134 120h0M76 154h0M84 104h0M61 123h0M65 74h0M93 115h0M204 -9h0M78 138h0M-85 -13h0M67 84h0M137 20h0M202 4h0M104 107h0M-78 91h0M57 112h0M107 123h0M122 18h0M64 54h0M-53 -10h0M103 94h0M90 21h0M196 5h0M175 -20h0M-22 -33h0M94 14h0M88 113h0M-8 -125h0M6 -27h0M172 42h0M200 33h0M210 11h0M128 96h0M-45 60h0M-56 107h0M-26 5h0M-74 -6h0M214 36h0" stroke="#c8a090"/><path d="M-53 58h0M10 -124h0M145 -6h0M195 -6h0M182 -28h0M-11 -116h0M24 -100h0M8 -93h0M138 20h0M134 13h0M180 2h0M43 10h0M170 11h0M10 -112h0M-78 -22h0M173 -28h0M-18 -93h0M-17 -113h0M198 9h0M-78 84h0M159 -16h0M137 124h0M-5 -8h0M148 8h0M61 37h0M21 -120h0M85 11h0M154 -9h0M195 -17h0M168 -52h0M183 -7h0M12 -104h0M107 16h0M14 -110h0M168 5h0M122 12h0M-71 88h0M-49 25h0M-19 -91h0M146 -6h0M85 98h0M24 -28h0M158 0h0M-4 -12h0M111 118h0M188 5h0M25 8h0M67 11h0M151 17h0M70 128h0M169 7h0M182 -46h0M62 111h0M146 -3h0M10 -121h0M-10 2h0M56 15h0M174 13h0M88 83h0M173 -31h0M182 -19h0M164 8h0M-72 74h0M157 -15h0M66 72h0M-17 -36h0M163 -34h0M21 12h0M9 -24h0M-11 -99h0M39 18h0M100 111h0M-10 -110h0M-13 -17h0M-9 -112h0M-13 -70h0M-18 -93h0M24 8h0M64 125h0M28 2h0M170 -38h0M40 18h0M1 -116h0M-19 -74h0M101 8h0M196 2h0M0 -105h0M167 -5h0M116 14h0M14 -102h0M81 24h0M20 -41h0M-66 104h0M81 82h0M178 2h0M30 6h0M120 19h0M169 12h0M15 -105h0M-12 -76h0M70 102h0M6 -136h0M106 130h0M114 126h0M99 17h0M174 -28h0M189 22h0M4 -121h0M26 -28h0M191 -30h0M44 26h0M2 -102h0M-64 48h0M-60 -12h0M78 116h0M178 -23h0M-4 -119h0M174 -28h0M56 15h0M-11 -54h0M-9 -3h0M25 -102h0M56 44h0M23 -115h0M-39 -4h0M-82 -28h0M18 -101h0M109 94h0M184 -39h0M188 -19h0M6 -21h0M65 99h0M118 20h0M-3 -21h0M90 86h0M164 -25h0M115 117h0M172 14h0M173 2h0M196 -26h0M88 94h0M89 152h0M7 -102h0M16 12h0M3 -25h0M176 -2h0M60 55h0M161 -30h0M198 -24h0M192 23h0M156 -47h0M135 -9h0M141 -21h0M163 -59h0M118 144h0M45 90h0M-97 -20h0M100 163h0M18 -145h0" stroke="#72c6d0"/><path d="M160 24h0M105 98h0M61 44h0M190 -19h0M66 98h0M168 26h0M86 122h0M35 11h0M168 -9h0M132 114h0M135 126h0M-44 12h0M71 134h0M70 101h0M117 116h0M-21 -72h0M177 -43h0M127 15h0M-21 -20h0M28 15h0M94 120h0M90 113h0M-80 -17h0M-42 18h0M-67 95h0M-58 62h0M118 13h0M60 68h0M-61 100h0M66 108h0M172 -22h0M94 133h0M53 105h0M78 91h0M79 131h0M-71 75h0M109 126h0M-45 -17h0M94 126h0M-48 18h0M-65 77h0M11 -102h0M-76 97h0M60 66h0M116 105h0M-37 2h0M78 100h0M110 123h0M63 127h0M114 119h0M74 108h0M76 128h0M-74 83h0M-62 75h0M115 123h0M158 12h0M-26 -1h0M80 142h0M156 -28h0M4 -21h0M12 1h0M-15 -62h0M56 108h0M142 22h0M116 130h0M-57 61h0M72 118h0M116 107h0M78 152h0M103 130h0M-51 -18h0M146 -8h0M-13 -6h0M79 84h0M105 126h0M178 -11h0M151 20h0M78 104h0M-63 -18h0M49 122h0M27 -104h0M61 127h0M170 -20h0M154 -14h0M59 99h0M190 -10h0M84 150h0M-73 82h0M6 0h0M-79 80h0M61 107h0M138 13h0M111 104h0M116 134h0M63 91h0M176 0h0M-51 -14h0M76 98h0M123 128h0M203 -1h0M123 108h0M164 4h0M90 154h0M-74 97h0M-69 98h0M196 20h0M193 -21h0M62 119h0M-24 -7h0M92 131h0M100 108h0M-13 5h0M103 114h0M137 19h0M87 120h0M166 15h0M111 98h0M-12 -2h0M102 128h0M100 103h0M53 47h0M56 110h0M187 -35h0M164 3h0M78 73h0M46 134h0M69 160h0M79 160h0M101 160h0M135 138h0M96 159h0M109 82h0M-64 109h0M-84 -5h0M215 7h0M218 -2h0M134 130h0M84 165h0" stroke="#e84834"/><path d="M-2 -17h0M6 -120h0M-84 -11h0M108 22h0M162 -7h0M-20 -14h0M14 -106h0M79 10h0M186 28h0M47 11h0M22 -3h0M175 -36h0M72 9h0M7 -101h0M144 -1h0M-72 83h0M186 -4h0M31 2h0M-89 -18h0M51 66h0M110 96h0M90 89h0M-16 -10h0M56 19h0M112 16h0M61 56h0M176 22h0M66 73h0M-21 -22h0M154 18h0M-21 -72h0M-18 -2h0M18 -1h0M181 -3h0M151 19h0M57 68h0M153 -6h0M6 -8h0M6 -109h0M-16 -35h0M60 24h0M201 8h0M56 94h0M12 -130h0M199 -2h0M-41 -11h0M192 18h0M-2 -6h0M141 17h0M10 -91h0M80 24h0M62 32h0M-14 -46h0M58 86h0M182 8h0M3 -105h0M162 20h0M182 1h0M30 -36h0M0 -12h0M0 -121h0M177 0h0M61 12h0M0 -10h0M190 28h0M64 10h0M50 32h0M74 13h0M-82 -25h0M60 70h0M181 -11h0M105 103h0M51 38h0M15 -26h0M19 12h0M147 11h0M9 -101h0M136 5h0M-56 56h0M92 22h0M17 4h0M167 -18h0M-1 -117h0M22 0h0M6 -94h0M169 27h0M162 6h0M97 107h0M-14 -29h0M199 30h0M209 -16h0M205 -26h0M212 7h0M126 99h0M146 117h0M124 96h0M4 -85h0M32 -100h0M11 -12h0M224 22h0" stroke="#a3b3a7"/><path d="M129 124h0M71 133h0M72 83h0M-61 66h0M119 120h0M82 129h0M96 99h0M-25 -10h0M170 -39h0M-63 68h0M88 93h0M111 129h0M108 116h0M-60 61h0M84 114h0M-76 -17h0M184 3h0M60 58h0M73 150h0M-44 -14h0M178 19h0M88 123h0M87 140h0M9 2h0M82 134h0M176 13h0M176 22h0M88 108h0M-62 70h0M180 -42h0M-58 79h0M116 99h0M82 96h0M166 -49h0M5 -128h0M188 -15h0M78 128h0M106 108h0M-53 78h0M-72 -21h0M-74 -17h0M-22 -43h0M166 19h0M97 138h0M119 124h0M58 116h0M122 122h0M196 -1h0M63 98h0M78 120h0M84 99h0M-52 82h0M66 141h0M116 15h0M112 103h0M194 -20h0M106 103h0M93 127h0M57 50h0M-56 60h0M90 118h0M-67 82h0M62 64h0M84 138h0M12 8h0M192 6h0M-24 -4h0M123 16h0M63 140h0M172 11h0M64 85h0M-16 -11h0M130 124h0M164 4h0M-64 78h0M75 107h0M-90 -27h0M19 -110h0M3 -8h0M-58 94h0M141 5h0M102 118h0M134 118h0M60 135h0M80 20h0M131 123h0M134 25h0M51 84h0M116 146h0M50 135h0M110 84h0M62 148h0M-50 101h0M-72 50h0M211 46h0M202 45h0M145 123h0M126 142h0M25 -138h0" stroke="#e8392a"/><path d="M125 16h0M-71 66h0M-62 84h0M106 133h0M50 112h0M94 124h0M50 9h0M-60 85h0M6 -122h0M-22 -32h0M196 3h0M71 102h0M192 16h0M54 30h0M-3 -114h0M62 21h0M56 118h0M66 138h0M-8 -1h0M124 105h0M-54 89h0M58 20h0M-14 -11h0M98 144h0M6 -17h0M51 24h0M117 117h0M181 -4h0M-43 9h0M63 68h0M3 8h0M27 5h0M184 -37h0M107 11h0M20 -23h0M56 95h0M177 18h0M68 82h0M46 41h0M-35 -1h0M-66 97h0M-56 22h0M112 18h0M40 15h0M58 120h0M154 23h0M27 -26h0M52 40h0M-77 88h0M84 104h0M25 6h0M166 8h0M1 0h0M178 26h0M170 22h0M112 135h0M28 11h0M84 95h0M184 14h0M2 -20h0M57 58h0M80 16h0M188 33h0M137 8h0M-71 100h0M-54 28h0M140 10h0M89 20h0M58 32h0M28 -34h0M8 -24h0M-34 2h0M49 108h0M164 -1h0M30 -28h0M190 12h0M-26 -6h0M-68 79h0M136 -14h0M33 -103h0M7 -43h0M224 -7h0M238 6h0M216 -18h0M210 30h0" stroke="#b7a898"/><path d="M-65 -14h0M136 127h0M59 80h0M-84 -26h0M-67 -20h0M56 46h0M84 14h0M75 114h0M-64 -12h0M-62 81h0M92 126h0M-57 86h0M-60 71h0M84 148h0M75 162h0M-37 21h0M-68 35h0M-80 -40h0M221 51h0" stroke="#e17a64"/><path d="M90 10h0M62 18h0M176 -5h0M-8 -114h0M184 -6h0M-8 -12h0M-12 -116h0M-5 -100h0M75 95h0M-6 -8h0M170 4h0M159 -38h0M-16 -8h0M-21 -105h0M-21 -71h0M59 52h0M194 -10h0M166 -30h0M-13 -67h0M-22 -2h0M182 -16h0M-19 -100h0M168 -38h0M69 82h0M173 -10h0M12 -1h0M-16 -75h0M-18 -35h0M186 0h0M5 -8h0M8 -132h0M-16 2h0M174 -4h0M178 -50h0M177 3h0M198 -7h0M18 -39h0M196 21h0M3 -17h0M177 -9h0M-58 89h0M-22 -80h0M52 32h0M126 8h0M11 7h0M-17 -19h0M131 120h0M0 -132h0M51 38h0M55 75h0M33 -36h0M-14 -111h0M174 -13h0M-20 -31h0M14 1h0M195 21h0M55 96h0M158 24h0M134 26h0M13 -82h0M-28 -103h0M22 -16h0" stroke="#8ebcb8"/><path d="M93 14h0M-19 -24h0M0 -101h0M184 -16h0M164 -26h0M14 -35h0M153 -20h0M-14 -11h0M-6 -114h0M175 -17h0M11 -116h0M12 -95h0M-16 -40h0M10 -106h0M-20 -28h0M14 -37h0M10 -30h0M177 -24h0M178 -6h0M-12 -92h0M19 -123h0M20 -109h0M182 -44h0M-20 -10h0M188 -28h0M-1 5h0M-2 -98h0M192 -15h0M184 -31h0M160 -39h0M47 36h0M-3 -124h0M67 14h0M177 -13h0M-66 56h0M18 -28h0M1 -126h0M172 6h0M-5 -122h0M16 -110h0M169 -40h0M27 -105h0M145 -27h0M7 -86h0M25 -91h0M13 -143h0" stroke="#7dc3c4"/><path d="M74 140h0M48 53h0M71 129h0M112 131h0M-40 -16h0M120 20h0M-54 35h0M-45 -18h0M44 12h0M76 138h0M88 110h0M166 4h0M78 110h0M56 41h0M99 108h0M-54 87h0M60 125h0M-52 58h0M88 148h0M61 118h0M110 135h0M-60 46h0M92 135h0M76 146h0M-72 95h0M-73 67h0M84 136h0M62 63h0M-30 -1h0M171 23h0M121 118h0M121 103h0M-44 -18h0M58 132h0M-83 -12h0M-26 -2h0M86 96h0M94 93h0M49 60h0M230 1h0" stroke="#d58d7a"/><path d="M94 89h0M91 140h0M-63 44h0M-47 -9h0M-65 72h0M-85 -21h0M104 19h0" stroke="#e5674f"/><path d="M82 132h0M85 146h0M71 160h0" stroke="#e8563e"/></g>
<text x="290.3" y="397.65" font-size="3" text-anchor="end" font-weight="bold" fill="#3a3a3a">1.0</text>
<text x="290.3" y="414.8" font-size="3" text-anchor="end" font-weight="bold" fill="#3a3a3a">0.5</text>
<text x="290.3" y="431.95" font-size="3" text-anchor="end" font-weight="bold" fill="#3a3a3a">0.0</text>
<text x="290.3" y="449.1" font-size="3" text-anchor="end" font-weight="bold" fill="#3a3a3a">−0.5</text>
<text x="290.3" y="466.25" font-size="3" text-anchor="end" font-weight="bold" fill="#3a3a3a">−1.0</text>
<text x="318" y="478.4" font-size="3" text-anchor="middle" font-weight="bold" fill="#3a3a3a">0</text>
<text x="349" y="478.4" font-size="3" text-anchor="middle" font-weight="bold" fill="#3a3a3a">1</text>
<text x="380" y="478.4" font-size="3" text-anchor="middle" font-weight="bold" fill="#3a3a3a">2</text>
<text x="335.65" y="481.7" font-size="3.3" text-anchor="middle" font-weight="bold" fill="#222">Dimension 1</text>
<text x="283" y="430.9" font-size="3.3" text-anchor="middle" font-weight="bold" fill="#222" transform="rotate(-90 283 430.9)">Dimension 2</text>
<text x="291.5" y="388.8" font-size="4.7" font-weight="bold" fill="#222">ALT (IU/L)</text>
<text x="385" y="409.3" font-size="4.6" font-weight="bold" fill="#222">ALT</text>
<rect x="385" y="411.3" width="10.5" height="49.6" fill="url(#tc)" />
<line x1="385" y1="421" x2="387.1" y2="421" stroke="#fff" stroke-width="0.6" />
<line x1="393.4" y1="421" x2="395.5" y2="421" stroke="#fff" stroke-width="0.6" />
<text x="397.7" y="422.5" font-size="4.3" font-weight="bold" fill="#222">60</text>
<line x1="385" y1="431" x2="387.1" y2="431" stroke="#fff" stroke-width="0.6" />
<line x1="393.4" y1="431" x2="395.5" y2="431" stroke="#fff" stroke-width="0.6" />
<text x="397.7" y="432.5" font-size="4.3" font-weight="bold" fill="#222">45</text>
<line x1="385" y1="441" x2="387.1" y2="441" stroke="#fff" stroke-width="0.6" />
<line x1="393.4" y1="441" x2="395.5" y2="441" stroke="#fff" stroke-width="0.6" />
<text x="397.7" y="442.5" font-size="4.3" font-weight="bold" fill="#222">30</text>
<line x1="385" y1="450.5" x2="387.1" y2="450.5" stroke="#fff" stroke-width="0.6" />
<line x1="393.4" y1="450.5" x2="395.5" y2="450.5" stroke="#fff" stroke-width="0.6" />
<text x="397.7" y="452" font-size="4.3" font-weight="bold" fill="#222">15</text>
<line x1="437.5" y1="390.8" x2="437.5" y2="474.7" stroke="#e6e6e6" stroke-width="0.8" />
<line x1="453" y1="390.8" x2="453" y2="474.7" stroke="#dedede" stroke-width="1.1" />
<line x1="468.5" y1="390.8" x2="468.5" y2="474.7" stroke="#e6e6e6" stroke-width="0.8" />
<line x1="484" y1="390.8" x2="484" y2="474.7" stroke="#dedede" stroke-width="1.1" />
<line x1="499.5" y1="390.8" x2="499.5" y2="474.7" stroke="#e6e6e6" stroke-width="0.8" />
<line x1="515" y1="390.8" x2="515" y2="474.7" stroke="#dedede" stroke-width="1.1" />
<line x1="426.3" y1="396.6" x2="516.7" y2="396.6" stroke="#dedede" stroke-width="1.1" />
<line x1="426.3" y1="405.17" x2="516.7" y2="405.17" stroke="#e6e6e6" stroke-width="0.8" />
<line x1="426.3" y1="413.75" x2="516.7" y2="413.75" stroke="#dedede" stroke-width="1.1" />
<line x1="426.3" y1="422.32" x2="516.7" y2="422.32" stroke="#e6e6e6" stroke-width="0.8" />
<line x1="426.3" y1="430.9" x2="516.7" y2="430.9" stroke="#dedede" stroke-width="1.1" />
<line x1="426.3" y1="439.47" x2="516.7" y2="439.47" stroke="#e6e6e6" stroke-width="0.8" />
<line x1="426.3" y1="448.05" x2="516.7" y2="448.05" stroke="#dedede" stroke-width="1.1" />
<line x1="426.3" y1="456.62" x2="516.7" y2="456.62" stroke="#e6e6e6" stroke-width="0.8" />
<line x1="426.3" y1="465.2" x2="516.7" y2="465.2" stroke="#dedede" stroke-width="1.1" />
<line x1="426.3" y1="473.77" x2="516.7" y2="473.77" stroke="#e6e6e6" stroke-width="0.8" />
<g transform="translate(453 430.9) scale(1 1)"><use href="#rT" fill="#ce9886" stroke="#ce9886" opacity="0.75"/><use href="#rS" fill="#c99e8e" stroke="#c99e8e" opacity="0.75"/><use href="#rL" fill="#cd9987" stroke="#cd9987" opacity="0.75"/><use href="#rU" fill="#c2a393" stroke="#c2a393" opacity="0.75"/><use href="#rLL" fill="#cf9584" stroke="#cf9584" opacity="0.75"/><use href="#rC" fill="#ca9d8c" stroke="#ca9d8c" opacity="0.75"/><use href="#rR" fill="#c1a494" stroke="#c1a494" opacity="0.75"/><use href="#rB" fill="#d4907d" stroke="#d4907d" opacity="0.75"/><use href="#rLB" fill="#ca9d8c" stroke="#ca9d8c" opacity="0.75"/></g><g transform="translate(453 430.9) scale(0.25 0.25)" stroke-width="9.2" stroke-linecap="round"><path d="M-22 -44h0M178 27h0M74 128h0M-2 -17h0M125 16h0M61 44h0M90 10h0M8 -93h0M72 83h0M180 2h0M108 22h0M10 -112h0M56 18h0M-53 63h0M62 18h0M150 -6h0M-19 -24h0M106 133h0M184 -16h0M53 58h0M132 114h0M79 10h0M6 -28h0M59 102h0M186 28h0M59 80h0M-8 -12h0M177 -9h0M177 -43h0M175 -36h0M148 8h0M50 9h0M-60 85h0M56 60h0M-60 61h0M31 2h0M92 111h0M51 66h0M151 21h0M-40 -16h0M-22 -42h0M-5 -100h0M14 -110h0M120 20h0M-72 -18h0M-42 18h0M196 3h0M-71 88h0M-65 72h0M-45 -18h0M-16 -10h0M56 46h0M170 4h0M56 19h0M-67 95h0M-6 -114h0M192 16h0M-3 -104h0M88 110h0M111 118h0M-44 -14h0M94 141h0M172 -22h0M11 -4h0M-21 -71h0M59 52h0M78 91h0M79 131h0M-77 -26h0M166 4h0M-13 -67h0M124 105h0M88 108h0M11 -102h0M60 66h0M116 105h0M-37 2h0M66 72h0M-14 -11h0M181 -3h0M110 123h0M116 99h0M0 5h0M-19 -100h0M163 -34h0M82 96h0M-12 -92h0M21 12h0M-54 87h0M-65 104h0M-62 75h0M19 -123h0M46 12h0M19 -104h0M5 -128h0M153 -6h0M-10 -110h0M106 108h0M69 82h0M182 -44h0M-53 78h0M78 13h0M6 -8h0M-13 -17h0M117 117h0M165 9h0M55 68h0M166 19h0M9 -115h0M-43 10h0M4 -21h0M173 -10h0M58 116h0M-48 22h0M-37 0h0M-81 -26h0M27 5h0M-16 -35h0M56 95h0M201 8h0M28 2h0M19 -119h0M174 -48h0M86 85h0M56 108h0M56 94h0M196 -1h0M-18 -35h0M-19 -74h0M101 8h0M21 -113h0M-57 61h0M46 41h0M5 -8h0M63 54h0M14 -102h0M78 152h0M-8 1h0M-35 -1h0M-66 97h0M-16 2h0M29 -37h0M-64 -12h0M84 99h0M-66 104h0M146 -8h0M148 16h0M79 84h0M151 20h0M165 -26h0M194 -20h0M105 141h0M92 135h0M70 102h0M40 15h0M76 146h0M17 9h0M58 120h0M174 -28h0M27 -26h0M3 -129h0M27 -104h0M52 40h0M-70 101h0M-2 -98h0M62 32h0M-14 -46h0M-73 82h0M-56 60h0M90 118h0M3 -105h0M162 20h0M156 -22h0M18 -39h0M84 104h0M-73 67h0M30 -36h0M-18 -28h0M-67 82h0M6 0h0M192 -15h0M62 64h0M184 -31h0M-79 80h0M181 -22h0M177 0h0M116 134h0M204 -9h0M137 20h0M63 91h0M-4 -119h0M0 -10h0M-22 -80h0M62 63h0M64 19h0M126 8h0M-11 -54h0M12 8h0M1 0h0M203 -1h0M56 44h0M107 123h0M164 4h0M131 120h0M-39 -4h0M172 11h0M64 54h0M18 -101h0M-44 -18h0M-53 -10h0M103 94h0M-6 -112h0M184 -39h0M51 38h0M65 99h0M-24 -7h0M90 86h0M147 11h0M103 114h0M90 21h0M-26 -2h0M82 132h0M86 96h0M152 -19h0M115 117h0M-17 -73h0M175 -20h0M172 14h0M173 2h0M87 120h0M140 10h0M16 -110h0M166 15h0M-12 -2h0M49 60h0M136 5h0M19 -110h0M-56 56h0M-58 94h0M16 12h0M3 -25h0M-12 -2h0M58 32h0M167 -18h0M-8 -120h0M28 -34h0M22 0h0M-13 -4h0M-15 -118h0M53 47h0M195 21h0M-34 2h0M6 -27h0M97 107h0M164 3h0M-68 79h0M187 -48h0M141 -21h0M200 33h0M210 11h0M176 -63h0M152 -41h0M134 25h0M118 144h0M104 153h0M46 134h0M79 160h0M101 160h0M62 148h0M25 -91h0M32 -100h0M-64 109h0M-37 21h0M-68 35h0M-72 50h0M-74 -6h0M22 -16h0M224 22h0M202 45h0M210 30h0M218 -2h0M100 163h0" stroke="#c8a090"/><path d="M-53 58h0M160 24h0M-11 -116h0M71 133h0M134 13h0M36 16h0M-71 66h0M93 14h0M23 -2h0M0 -101h0M168 -9h0M-78 84h0M-8 -114h0M50 112h0M82 129h0M-44 12h0M71 134h0M96 99h0M-25 -10h0M94 124h0M112 131h0M184 -6h0M47 11h0M136 127h0M22 -3h0M-5 -8h0M-21 -72h0M-63 68h0M-12 -116h0M163 23h0M117 9h0M72 9h0M111 129h0M61 37h0M108 116h0M-35 -14h0M85 11h0M195 -17h0M-84 -26h0M164 -26h0M84 114h0M68 105h0M94 107h0M153 -20h0M-80 -17h0M75 95h0M-19 -91h0M-6 -8h0M85 98h0M60 58h0M24 -28h0M158 0h0M-16 -8h0M-61 100h0M25 8h0M-16 -40h0M67 11h0M-8 -1h0M94 133h0M87 140h0M70 128h0M53 105h0M-1 -94h0M109 126h0M-45 -17h0M94 126h0M-48 18h0M10 -121h0M88 12h0M56 15h0M174 13h0M88 83h0M-21 -22h0M-21 -72h0M-72 74h0M180 -42h0M98 144h0M2 -107h0M99 108h0M-11 -99h0M48 7h0M-74 83h0M5 -128h0M180 21h0M85 10h0M92 146h0M39 18h0M100 111h0M2 -12h0M-74 -17h0M6 -109h0M51 24h0M-26 -1h0M-22 -43h0M97 138h0M80 142h0M181 -4h0M-20 -10h0M119 124h0M12 1h0M80 88h0M3 8h0M122 122h0M-18 -93h0M12 -1h0M60 24h0M170 -38h0M68 82h0M40 18h0M1 -116h0M66 131h0M116 14h0M-19 -78h0M78 120h0M-41 -11h0M61 118h0M105 126h0M-20 -58h0M178 2h0M51 68h0M116 15h0M112 18h0M75 97h0M110 135h0M10 -91h0M169 12h0M15 -105h0M-12 -76h0M106 130h0M114 126h0M49 122h0M93 127h0M178 -50h0M134 120h0M26 -28h0M84 104h0M-73 -24h0M190 -10h0M44 26h0M182 8h0M-64 48h0M76 154h0M-60 -12h0M0 -102h0M84 136h0M78 116h0M138 13h0M166 8h0M178 -23h0M-85 -13h0M67 84h0M52 32h0M7 -124h0M-3 -124h0M-30 -1h0M-9 -3h0M-78 91h0M151 -19h0M57 112h0M-24 -4h0M92 126h0M170 22h0M91 12h0M122 18h0M121 103h0M-74 97h0M56 24h0M64 85h0M-16 -11h0M-57 86h0M84 95h0M0 -128h0M105 103h0M15 -26h0M196 20h0M172 6h0M62 119h0M92 131h0M80 16h0M118 20h0M-13 5h0M137 8h0M196 5h0M-71 100h0M-14 -111h0M94 93h0M161 -42h0M-54 28h0M-8 -108h0M88 94h0M48 54h0M3 -8h0M7 -102h0M14 1h0M89 20h0M176 -2h0M141 5h0M17 4h0M100 103h0M88 113h0M198 -24h0M102 118h0M85 146h0M49 108h0M164 -1h0M6 6h0M21 -122h0M190 12h0M80 20h0M64 98h0M-14 -29h0M156 -47h0M199 30h0M134 26h0M69 160h0M116 146h0M124 96h0M110 84h0M13 -82h0M-26 5h0M-80 -40h0M-84 -5h0M221 51h0M84 165h0M10 -142h0" stroke="#d58d7a"/><path d="M10 -124h0M66 98h0M-62 84h0M71 102h0M63 107h0M188 17h0M4 -112h0M-62 70h0M78 110h0M174 -14h0M63 127h0M78 128h0M-52 58h0M192 18h0M78 104h0M104 139h0M4 -121h0M111 104h0M-62 81h0M-82 -25h0M188 33h0M174 -13h0M111 98h0M224 -7h0M214 36h0" stroke="#e84834"/><path d="M105 98h0M173 -28h0M184 3h0M176 22h0M-10 2h0M116 107h0M-77 88h0M52 52h0M190 28h0M134 118h0M163 -59h0M126 99h0" stroke="#e8392a"/><path d="M129 124h0M-46 -15h0M145 -6h0M16 -120h0M6 -120h0M-18 -93h0M188 4h0M35 11h0M-20 -14h0M-60 81h0M14 -106h0M71 129h0M94 89h0M7 -101h0M-63 44h0M-21 -20h0M-79 -12h0M-72 83h0M-89 -18h0M94 120h0M110 96h0M-51 20h0M-54 35h0M172 -24h0M76 138h0M11 -116h0M188 5h0M12 -95h0M82 154h0M194 -10h0M-71 75h0M146 -3h0M55 73h0M-65 77h0M-58 79h0M56 41h0M74 108h0M20 -109h0M60 125h0M75 114h0M-16 -75h0M-15 -62h0M-9 -103h0M116 130h0M63 98h0M88 148h0M65 22h0M-56 22h0M-1 5h0M6 -136h0M106 103h0M61 127h0M178 -2h0M84 150h0M177 3h0M2 -102h0M198 -7h0M28 16h0M0 -121h0M84 138h0M104 107h0M-66 56h0M123 128h0M18 -28h0M74 13h0M1 -126h0M-69 98h0M90 16h0M58 132h0M-64 78h0M19 12h0M-12 -54h0M96 12h0M95 108h0M102 128h0M161 -30h0M27 -105h0M55 96h0M56 110h0M145 -27h0M136 -14h0M51 84h0M33 -103h0M-56 107h0M-50 101h0M134 130h0M145 123h0M138 110h0" stroke="#e17a64"/><path d="M195 -6h0M182 -28h0M-78 -22h0M162 -7h0M127 12h0M127 15h0M-22 -32h0M107 16h0M-16 -40h0M150 -18h0M112 16h0M178 19h0M61 56h0M162 15h0M182 -46h0M-65 99h0M14 -37h0M66 73h0M186 -27h0M154 18h0M142 10h0M178 -6h0M-6 -10h0M9 -24h0M166 -49h0M6 -17h0M168 -38h0M158 12h0M156 -28h0M188 -28h0M184 -37h0M177 18h0M167 -5h0M186 0h0M194 20h0M-9 -101h0M-64 56h0M30 6h0M6 -133h0M174 -4h0M154 23h0M189 22h0M58 86h0M177 -9h0M156 7h0M56 15h0M123 108h0M-82 -28h0M184 14h0M181 -11h0M57 58h0M55 75h0M-3 -21h0M9 -101h0M188 9h0M-18 -67h0M94 14h0M6 -94h0M169 27h0M192 23h0M-22 -72h0M30 -28h0M158 24h0M131 123h0M189 43h0M208 11h0M212 7h0M135 138h0M12 -140h0M0 -138h0M-45 60h0M7 -43h0M230 1h0M126 142h0" stroke="#a3b3a7"/><path d="M-65 -14h0M190 -19h0M24 -100h0M138 20h0M-84 -11h0M-61 66h0M170 11h0M-16 -4h0M168 26h0M119 120h0M48 53h0M24 6h0M170 -39h0M70 101h0M117 116h0M21 -124h0M91 140h0M21 -120h0M6 -122h0M154 -9h0M-73 -21h0M168 -52h0M28 15h0M186 -4h0M-67 -20h0M183 -7h0M12 -104h0M-76 -17h0M0 -104h0M90 113h0M90 89h0M168 5h0M171 -54h0M-47 -9h0M-68 -14h0M122 12h0M-49 25h0M-46 13h0M-14 -11h0M159 -38h0M-58 62h0M118 13h0M73 150h0M44 12h0M-4 -12h0M175 -17h0M-3 -114h0M62 21h0M56 118h0M88 123h0M10 -106h0M-21 -105h0M9 2h0M62 111h0M-20 -28h0M176 22h0M163 -22h0M166 -30h0M-76 97h0M173 -31h0M-18 -2h0M-54 89h0M-22 -2h0M58 20h0M182 -19h0M164 8h0M10 -30h0M157 -15h0M84 14h0M182 -16h0M78 100h0M151 19h0M-17 -36h0M151 25h0M76 128h0M52 59h0M57 68h0M-72 -21h0M-9 -112h0M67 16h0M-43 9h0M89 22h0M169 -15h0M63 68h0M174 -23h0M-13 -70h0M24 8h0M107 11h0M20 -23h0M172 -29h0M196 2h0M199 -2h0M-85 -21h0M103 130h0M81 24h0M20 -41h0M-13 -6h0M178 -11h0M-52 82h0M-2 -6h0M120 19h0M141 17h0M112 103h0M-60 46h0M172 -28h0M-50 68h0M99 17h0M80 24h0M60 136h0M170 -20h0M154 -14h0M-47 28h0M57 50h0M59 99h0M182 1h0M25 6h0M3 -17h0M55 50h0M0 -12h0M65 74h0M47 36h0M93 115h0M61 12h0M202 4h0M174 -28h0M67 14h0M176 0h0M-51 -14h0M177 -13h0M192 6h0M64 10h0M171 23h0M178 26h0M50 32h0M11 7h0M25 -102h0M-17 -19h0M123 16h0M23 -115h0M28 11h0M63 140h0M51 38h0M-16 -61h0M60 70h0M130 124h0M104 19h0M188 -19h0M6 -21h0M193 -21h0M164 4h0M164 -25h0M64 78h0M-83 -12h0M75 107h0M-5 -122h0M33 -36h0M-90 -27h0M196 -26h0M-22 -33h0M-20 -31h0M89 152h0M92 22h0M60 55h0M169 -40h0M-1 -117h0M84 148h0M8 -24h0M-8 -125h0M162 6h0M135 -9h0M205 -26h0M172 42h0M162 -58h0M128 96h0M78 73h0M71 160h0M50 135h0M75 162h0M109 82h0M-28 -103h0M-97 -20h0M11 -12h0M238 6h0M216 -18h0M215 7h0M18 -145h0M25 -138h0" stroke="#b7a898"/><path d="M43 10h0M74 140h0M86 122h0M135 126h0M14 -35h0M54 30h0M66 138h0M169 7h0M82 134h0M18 -1h0M188 -15h0M115 123h0M12 -130h0M0 -105h0M8 -132h0M81 82h0M66 92h0M-63 -18h0M-72 95h0M61 123h0M-58 89h0M78 138h0M76 98h0M121 118h0M112 135h0M0 -132h0M109 94h0M-60 71h0M60 135h0M146 117h0M45 90h0M7 -86h0M4 -85h0M13 -143h0" stroke="#e5674f"/><path d="M-17 -113h0M198 9h0M159 -16h0M137 124h0M60 68h0M66 108h0M176 13h0M177 -24h0M173 30h0M72 118h0M-51 -18h0M66 141h0M191 -30h0M196 21h0M2 -20h0M100 108h0M137 19h0M187 -35h0M209 -16h0" stroke="#8ebcb8"/><path d="M176 -5h0M198 16h0M142 22h0M168 -24h0M160 -39h0M96 159h0" stroke="#72c6d0"/><path d="M88 93h0M189 -32h0M146 -6h0M151 17h0M114 119h0M61 107h0M90 154h0M211 46h0" stroke="#76c5ca"/><path d="M144 -1h0M-26 -6h0" stroke="#7dc3c4"/><path d="M64 125h0" stroke="#e8563e"/></g>
<text x="425.3" y="397.65" font-size="3" text-anchor="end" font-weight="bold" fill="#3a3a3a">1.0</text>
<text x="425.3" y="414.8" font-size="3" text-anchor="end" font-weight="bold" fill="#3a3a3a">0.5</text>
<text x="425.3" y="431.95" font-size="3" text-anchor="end" font-weight="bold" fill="#3a3a3a">0.0</text>
<text x="425.3" y="449.1" font-size="3" text-anchor="end" font-weight="bold" fill="#3a3a3a">−0.5</text>
<text x="425.3" y="466.25" font-size="3" text-anchor="end" font-weight="bold" fill="#3a3a3a">−1.0</text>
<text x="453" y="478.4" font-size="3" text-anchor="middle" font-weight="bold" fill="#3a3a3a">0</text>
<text x="484" y="478.4" font-size="3" text-anchor="middle" font-weight="bold" fill="#3a3a3a">1</text>
<text x="515" y="478.4" font-size="3" text-anchor="middle" font-weight="bold" fill="#3a3a3a">2</text>
<text x="470.65" y="481.7" font-size="3.3" text-anchor="middle" font-weight="bold" fill="#222">Dimension 1</text>
<text x="418" y="430.9" font-size="3.3" text-anchor="middle" font-weight="bold" fill="#222" transform="rotate(-90 418 430.9)">Dimension 2</text>
<text x="426.5" y="388.8" font-size="4.7" font-weight="bold" fill="#222">HR(bpm)</text>
<text x="520" y="409.3" font-size="4.6" font-weight="bold" fill="#222">HR</text>
<rect x="520" y="411.3" width="10.5" height="49.6" fill="url(#tc)" />
<line x1="520" y1="419.5" x2="522.1" y2="419.5" stroke="#fff" stroke-width="0.6" />
<line x1="528.4" y1="419.5" x2="530.5" y2="419.5" stroke="#fff" stroke-width="0.6" />
<text x="532.7" y="421" font-size="4.3" font-weight="bold" fill="#222">120</text>
<line x1="520" y1="427.5" x2="522.1" y2="427.5" stroke="#fff" stroke-width="0.6" />
<line x1="528.4" y1="427.5" x2="530.5" y2="427.5" stroke="#fff" stroke-width="0.6" />
<text x="532.7" y="429" font-size="4.3" font-weight="bold" fill="#222">105</text>
<line x1="520" y1="435.5" x2="522.1" y2="435.5" stroke="#fff" stroke-width="0.6" />
<line x1="528.4" y1="435.5" x2="530.5" y2="435.5" stroke="#fff" stroke-width="0.6" />
<text x="532.7" y="437" font-size="4.3" font-weight="bold" fill="#222">90</text>
<line x1="520" y1="443.5" x2="522.1" y2="443.5" stroke="#fff" stroke-width="0.6" />
<line x1="528.4" y1="443.5" x2="530.5" y2="443.5" stroke="#fff" stroke-width="0.6" />
<text x="532.7" y="445" font-size="4.3" font-weight="bold" fill="#222">75</text>
<line x1="520" y1="451.5" x2="522.1" y2="451.5" stroke="#fff" stroke-width="0.6" />
<line x1="528.4" y1="451.5" x2="530.5" y2="451.5" stroke="#fff" stroke-width="0.6" />
<text x="532.7" y="453" font-size="4.3" font-weight="bold" fill="#222">60</text>
<line x1="576.5" y1="390.8" x2="576.5" y2="474.7" stroke="#e6e6e6" stroke-width="0.8" />
<line x1="592" y1="390.8" x2="592" y2="474.7" stroke="#dedede" stroke-width="1.1" />
<line x1="607.5" y1="390.8" x2="607.5" y2="474.7" stroke="#e6e6e6" stroke-width="0.8" />
<line x1="623" y1="390.8" x2="623" y2="474.7" stroke="#dedede" stroke-width="1.1" />
<line x1="638.5" y1="390.8" x2="638.5" y2="474.7" stroke="#e6e6e6" stroke-width="0.8" />
<line x1="654" y1="390.8" x2="654" y2="474.7" stroke="#dedede" stroke-width="1.1" />
<line x1="565.3" y1="396.6" x2="655.7" y2="396.6" stroke="#dedede" stroke-width="1.1" />
<line x1="565.3" y1="405.17" x2="655.7" y2="405.17" stroke="#e6e6e6" stroke-width="0.8" />
<line x1="565.3" y1="413.75" x2="655.7" y2="413.75" stroke="#dedede" stroke-width="1.1" />
<line x1="565.3" y1="422.32" x2="655.7" y2="422.32" stroke="#e6e6e6" stroke-width="0.8" />
<line x1="565.3" y1="430.9" x2="655.7" y2="430.9" stroke="#dedede" stroke-width="1.1" />
<line x1="565.3" y1="439.47" x2="655.7" y2="439.47" stroke="#e6e6e6" stroke-width="0.8" />
<line x1="565.3" y1="448.05" x2="655.7" y2="448.05" stroke="#dedede" stroke-width="1.1" />
<line x1="565.3" y1="456.62" x2="655.7" y2="456.62" stroke="#e6e6e6" stroke-width="0.8" />
<line x1="565.3" y1="465.2" x2="655.7" y2="465.2" stroke="#dedede" stroke-width="1.1" />
<line x1="565.3" y1="473.77" x2="655.7" y2="473.77" stroke="#e6e6e6" stroke-width="0.8" />
<g transform="translate(592 430.9) scale(1 1)"><use href="#rT" fill="#e2745d" stroke="#e2745d" opacity="0.75"/><use href="#rS" fill="#e17a63" stroke="#e17a63" opacity="0.75"/><use href="#rL" fill="#e46c53" stroke="#e46c53" opacity="0.75"/><use href="#rU" fill="#dc836e" stroke="#dc836e" opacity="0.75"/><use href="#rLL" fill="#dd836d" stroke="#dd836d" opacity="0.75"/><use href="#rC" fill="#dc836e" stroke="#dc836e" opacity="0.75"/><use href="#rR" fill="#bda696" stroke="#bda696" opacity="0.75"/><use href="#rB" fill="#7bc4c5" stroke="#7bc4c5" opacity="0.75"/><use href="#rLB" fill="#dc836e" stroke="#dc836e" opacity="0.75"/></g><g transform="translate(592 430.9) scale(0.25 0.25)" stroke-width="9.2" stroke-linecap="round"><path d="M-22 -44h0M-2 -17h0M125 16h0M90 10h0M6 -120h0M138 20h0M-61 66h0M108 22h0M-71 66h0M10 -112h0M93 14h0M56 18h0M173 -28h0M23 -2h0M150 -6h0M48 53h0M-78 84h0M53 58h0M79 10h0M24 6h0M6 -28h0M170 -39h0M47 11h0M-21 -72h0M-63 68h0M177 -43h0M-60 85h0M-35 -14h0M189 -32h0M-63 44h0M-72 83h0M28 15h0M14 -35h0M153 -20h0M120 20h0M171 -54h0M-42 18h0M-65 72h0M-49 25h0M-6 -8h0M-16 -10h0M24 -28h0M56 19h0M-14 -11h0M-58 62h0M118 13h0M60 68h0M62 21h0M172 -22h0M25 8h0M-16 -40h0M11 -4h0M67 11h0M-8 -1h0M-21 -105h0M59 52h0M4 -112h0M-71 75h0M146 -3h0M66 73h0M-10 2h0M56 15h0M163 -22h0M166 -30h0M-21 -72h0M-54 89h0M58 20h0M-72 74h0M157 -15h0M177 -24h0M66 72h0M84 14h0M-62 70h0M2 -107h0M163 -34h0M-12 -92h0M21 12h0M9 -24h0M-62 75h0M85 10h0M39 18h0M19 -104h0M5 -128h0M-74 -17h0M6 -109h0M-22 -43h0M55 68h0M67 16h0M188 -28h0M174 -23h0M3 8h0M-48 22h0M24 8h0M184 -37h0M107 11h0M20 -23h0M19 -119h0M68 82h0M172 -29h0M-19 -74h0M46 41h0M116 14h0M5 -8h0M63 54h0M-66 97h0M-16 2h0M-13 -6h0M178 2h0M51 68h0M116 15h0M-2 -6h0M30 6h0M112 18h0M120 19h0M141 17h0M172 -28h0M-50 68h0M40 15h0M-63 -18h0M174 -28h0M26 -28h0M-77 88h0M191 -30h0M-72 95h0M57 50h0M-73 82h0M44 26h0M-56 60h0M-64 48h0M18 -39h0M28 16h0M3 -17h0M30 -36h0M52 52h0M184 -31h0M-79 80h0M55 50h0M0 -12h0M181 -22h0M-58 89h0M47 36h0M61 12h0M137 20h0M-4 -119h0M0 -10h0M-22 -80h0M174 -28h0M56 15h0M62 63h0M52 32h0M126 8h0M12 8h0M67 14h0M-9 -3h0M-66 56h0M-78 91h0M151 -19h0M-17 -19h0M56 44h0M-62 81h0M123 16h0M74 13h0M28 11h0M0 -132h0M64 54h0M-69 98h0M15 -26h0M6 -21h0M55 75h0M-3 -21h0M164 -25h0M64 78h0M147 11h0M33 -36h0M90 21h0M9 -101h0M-14 -111h0M174 -13h0M16 -110h0M-22 -33h0M-20 -31h0M49 60h0M136 5h0M96 12h0M3 -8h0M-58 94h0M16 12h0M14 1h0M176 -2h0M60 55h0M-12 -2h0M94 14h0M17 4h0M6 -94h0M161 -30h0M27 -105h0M53 47h0M30 -28h0M6 6h0M6 -27h0M80 20h0M187 -35h0M-14 -29h0M135 -9h0M205 -26h0M145 -27h0M-56 107h0M-68 35h0M-50 101h0M22 -16h0M11 -12h0" stroke="#d58d7a"/><path d="M178 27h0M198 9h0M117 116h0M163 23h0M94 107h0M168 5h0M198 16h0M192 16h0M178 19h0M188 5h0M188 17h0M162 15h0M176 13h0M166 4h0M176 22h0M164 8h0M180 21h0M201 8h0M177 18h0M142 22h0M167 -5h0M186 0h0M151 20h0M169 12h0M178 -2h0M196 21h0M177 -9h0M156 7h0M171 23h0M178 26h0M170 22h0M184 14h0M196 20h0M188 33h0M172 14h0M166 15h0M134 26h0M208 11h0M200 33h0M210 11h0M215 7h0" stroke="#a3b3a7"/><path d="M74 128h0M105 98h0M71 133h0M86 122h0M50 112h0M94 89h0M96 99h0M94 124h0M59 102h0M137 124h0M111 129h0M84 114h0M68 105h0M71 102h0M73 150h0M76 138h0M111 118h0M88 123h0M66 138h0M87 140h0M70 128h0M62 111h0M79 131h0M94 126h0M88 108h0M88 83h0M98 144h0M110 123h0M99 108h0M63 127h0M114 119h0M82 96h0M74 108h0M92 146h0M115 123h0M60 125h0M117 117h0M166 19h0M173 30h0M119 124h0M80 88h0M66 131h0M78 120h0M103 130h0M81 82h0M66 92h0M110 135h0M105 141h0M76 146h0M114 126h0M58 120h0M60 136h0M189 22h0M84 104h0M59 99h0M84 150h0M90 118h0M61 123h0M111 104h0M116 134h0M84 138h0M67 84h0M104 107h0M123 128h0M121 118h0M92 126h0M131 120h0M112 135h0M90 154h0M64 85h0M109 94h0M58 132h0M105 103h0M103 114h0M82 132h0M86 96h0M94 93h0M87 120h0M89 152h0M95 108h0M102 128h0M88 113h0M102 118h0M85 146h0M55 96h0M56 110h0M97 107h0M128 96h0M46 134h0M146 117h0M71 160h0M50 135h0M75 162h0M96 159h0M124 96h0M224 22h0M211 46h0M210 30h0M134 130h0M145 123h0M138 110h0" stroke="#7dc3c4"/><path d="M-53 58h0M10 -124h0M16 -120h0M134 13h0M-84 -11h0M43 10h0M36 16h0M-16 -4h0M-78 -22h0M-53 63h0M62 18h0M-62 84h0M-20 -14h0M0 -101h0M14 -106h0M-25 -10h0M59 80h0M-8 -12h0M22 -3h0M-5 -8h0M21 -124h0M-12 -116h0M175 -36h0M117 9h0M72 9h0M127 15h0M50 9h0M56 60h0M6 -122h0M7 -101h0M-60 61h0M-21 -20h0M-73 -21h0M12 -104h0M31 2h0M51 66h0M107 16h0M-16 -40h0M-22 -42h0M0 -104h0M-19 -91h0M-54 35h0M159 -38h0M44 12h0M11 -116h0M-16 -8h0M-3 -114h0M-61 100h0M12 -95h0M-21 -71h0M61 56h0M-1 -94h0M14 -37h0M-45 -17h0M88 12h0M-13 -67h0M-65 77h0M-21 -22h0M-22 -2h0M10 -30h0M142 10h0M-14 -11h0M-58 79h0M56 41h0M0 5h0M-17 -36h0M-6 -10h0M-19 -100h0M-54 87h0M48 7h0M-74 83h0M6 -17h0M46 12h0M-10 -110h0M69 82h0M182 -44h0M78 13h0M-13 -17h0M2 -12h0M51 24h0M-26 -1h0M-9 -112h0M156 -28h0M-43 10h0M4 -21h0M12 1h0M-52 58h0M-18 -93h0M27 5h0M12 -1h0M60 24h0M-15 -62h0M170 -38h0M40 18h0M-18 -35h0M12 -130h0M0 -105h0M-85 -21h0M14 -102h0M8 -132h0M-8 1h0M-35 -1h0M65 22h0M-51 -18h0M20 -41h0M29 -37h0M-64 -12h0M-56 22h0M-1 5h0M-66 104h0M-64 56h0M-20 -58h0M-52 82h0M6 -133h0M10 -91h0M-60 46h0M15 -105h0M6 -136h0M4 -121h0M-2 -98h0M-73 -24h0M62 32h0M58 86h0M25 6h0M0 -102h0M-73 67h0M-18 -28h0M-67 82h0M6 0h0M62 64h0M160 -39h0M65 74h0M0 -121h0M-51 -14h0M1 0h0M18 -28h0M50 32h0M11 7h0M23 -115h0M91 12h0M122 18h0M-82 -25h0M-74 97h0M56 24h0M-16 -11h0M-16 -61h0M-57 86h0M18 -101h0M60 70h0M104 19h0M-60 71h0M-6 -112h0M184 -39h0M51 38h0M2 -20h0M57 58h0M-64 78h0M19 12h0M118 20h0M-5 -122h0M137 19h0M137 8h0M161 -42h0M-17 -73h0M-54 28h0M140 10h0M-12 -2h0M48 54h0M19 -110h0M-18 -67h0M-56 56h0M89 20h0M3 -25h0M169 -40h0M-1 -117h0M22 0h0M8 -24h0M-13 -4h0M-8 -125h0M21 -122h0M-68 79h0M156 -47h0M7 -86h0M4 -85h0M12 -140h0M25 -91h0M0 -138h0M-28 -103h0M-45 60h0M-64 109h0M-37 21h0M-97 -20h0M-74 -6h0M7 -43h0M18 -145h0M10 -142h0M25 -138h0" stroke="#e17a64"/><path d="M160 24h0M170 11h0M74 140h0M168 26h0M119 120h0M82 129h0M71 134h0M186 28h0M91 140h0M108 116h0M75 95h0M85 98h0M88 110h0M94 141h0M176 22h0M53 105h0M116 105h0M151 25h0M80 142h0M64 125h0M56 108h0M61 118h0M104 139h0M70 102h0M49 122h0M106 103h0M182 8h0M84 104h0M190 28h0M76 98h0M84 95h0M100 108h0M115 117h0M84 148h0M134 118h0M192 23h0M49 108h0M190 12h0M189 43h0M172 42h0M116 146h0M110 84h0M109 82h0M230 1h0M126 142h0" stroke="#8ebcb8"/><path d="M129 124h0M72 83h0M135 126h0M70 101h0M112 131h0M195 -17h0M110 96h0M158 0h0M94 133h0M82 154h0M78 91h0M124 105h0M154 18h0M76 128h0M56 94h0M63 98h0M88 148h0M116 107h0M75 97h0M106 130h0M61 127h0M93 127h0M93 115h0M90 86h0M75 107h0M173 2h0M169 27h0M195 21h0M64 98h0M199 30h0M212 7h0M51 84h0M101 160h0M135 138h0" stroke="#72c6d0"/><path d="M-46 -15h0M-65 -14h0M-11 -116h0M24 -100h0M8 -93h0M-19 -24h0M-17 -113h0M21 -120h0M-22 -32h0M-84 -26h0M-79 -12h0M168 -52h0M-89 -18h0M14 -110h0M-80 -17h0M-72 -18h0M-47 -9h0M122 12h0M54 30h0M-4 -12h0M-3 -104h0M9 2h0M182 -46h0M-77 -26h0M10 -121h0M55 73h0M11 -102h0M-37 2h0M-18 -2h0M166 -49h0M20 -109h0M6 -8h0M-72 -21h0M-20 -10h0M-43 9h0M89 22h0M63 68h0M-13 -70h0M-37 0h0M-81 -26h0M-16 -35h0M-9 -103h0M1 -116h0M101 8h0M21 -113h0M-41 -11h0M81 24h0M3 -129h0M27 -104h0M52 40h0M178 -50h0M-47 28h0M-14 -46h0M2 -102h0M3 -105h0M-60 -12h0M138 13h0M-85 -13h0M7 -124h0M-11 -54h0M-3 -124h0M-30 -1h0M64 10h0M1 -126h0M51 38h0M-44 -18h0M0 -128h0M-53 -10h0M-24 -7h0M-90 -27h0M7 -102h0M92 22h0M-8 -120h0M-15 -118h0M-34 2h0M-26 -6h0M187 -48h0M13 -82h0M32 -100h0M-26 5h0M-80 -40h0M-84 -5h0M13 -143h0" stroke="#e5674f"/><path d="M145 -6h0M61 44h0M195 -6h0M190 -19h0M162 -7h0M35 11h0M127 12h0M168 -9h0M-60 81h0M176 -5h0M159 -16h0M61 37h0M85 11h0M154 -9h0M144 -1h0M164 -26h0M-71 88h0M56 46h0M172 -24h0M-6 -114h0M194 -10h0M-65 99h0M-20 -28h0M186 -27h0M-76 97h0M60 66h0M173 -31h0M182 -19h0M18 -1h0M182 -16h0M178 -6h0M174 -14h0M-65 104h0M5 -128h0M19 -123h0M57 68h0M153 -6h0M-53 78h0M181 -4h0M169 -15h0M-16 -75h0M28 2h0M-57 61h0M174 -4h0M165 -26h0M99 17h0M17 9h0M80 24h0M27 -26h0M170 -20h0M-70 101h0M154 -14h0M168 -24h0M156 -22h0M204 -9h0M178 -23h0M64 19h0M176 0h0M25 -102h0M181 -11h0M90 16h0M193 -21h0M80 16h0M-13 5h0M152 -19h0M-71 100h0M175 -20h0M141 5h0M58 32h0M167 -18h0M28 -34h0M162 6h0M209 -16h0M141 -21h0" stroke="#c8a090"/><path d="M182 -28h0M184 -16h0M184 -6h0M177 -9h0M148 8h0M183 -7h0M151 21h0M150 -18h0M184 3h0M146 -6h0M170 4h0M-67 95h0M175 -17h0M151 17h0M169 7h0M174 13h0M181 -3h0M151 19h0M188 -15h0M158 12h0M165 9h0M173 -10h0M196 -1h0M196 2h0M199 -2h0M146 -8h0M148 16h0M194 20h0M192 18h0M178 -11h0M154 23h0M190 -10h0M177 3h0M198 -7h0M162 20h0M182 1h0M192 -15h0M177 0h0M166 8h0M202 4h0M177 -13h0M192 6h0M164 4h0M172 11h0M188 -19h0M172 6h0M164 4h0M196 -26h0M188 9h0M198 -24h0M164 -1h0M158 24h0M164 3h0M136 -14h0M134 25h0M224 -7h0M238 6h0M216 -18h0M218 -2h0" stroke="#b7a898"/><path d="M66 98h0M180 2h0M106 133h0M132 114h0M136 127h0M88 93h0M186 -4h0M92 111h0M94 120h0M90 113h0M90 89h0M196 3h0M63 107h0M66 108h0M56 118h0M109 126h0M82 134h0M78 100h0M78 110h0M100 111h0M78 128h0M168 -38h0M106 108h0M97 138h0M58 116h0M75 114h0M56 95h0M174 -48h0M86 85h0M116 130h0M72 118h0M78 152h0M84 99h0M105 126h0M66 141h0M112 103h0M194 -20h0M92 135h0M134 120h0M76 154h0M84 136h0M78 116h0M78 138h0M63 91h0M57 112h0M123 108h0M107 123h0M121 103h0M63 140h0M130 124h0M103 94h0M65 99h0M62 119h0M92 131h0M111 98h0M100 103h0M60 135h0M131 123h0M118 144h0M104 153h0M126 99h0M78 73h0M69 160h0M79 160h0M45 90h0M62 148h0M221 51h0M100 163h0M84 165h0" stroke="#76c5ca"/><path d="M-18 -93h0M-44 12h0M-67 -20h0M-51 20h0M-46 13h0M10 -106h0M180 -42h0M116 99h0M79 84h0M203 -1h0M-83 -12h0M-26 -2h0M88 94h0M152 -41h0M214 36h0" stroke="#e8392a"/><path d="M188 4h0M-8 -114h0M71 129h0M-76 -17h0M60 58h0M112 16h0M52 59h0M-11 -99h0M122 122h0M78 104h0M-12 -76h0M61 107h0M-24 -4h0M196 5h0M-8 -108h0M-22 -72h0M176 -63h0M33 -103h0M-72 50h0M202 45h0" stroke="#e84834"/><path d="M-40 -16h0M-5 -100h0M-68 -14h0M-45 -18h0M-44 -14h0M-48 18h0M9 -115h0M-19 -78h0M-9 -101h0M-39 -4h0M-82 -28h0M-12 -54h0M162 -58h0M163 -59h0" stroke="#e8563e"/></g>
<text x="564.3" y="397.65" font-size="3" text-anchor="end" font-weight="bold" fill="#3a3a3a">1.0</text>
<text x="564.3" y="414.8" font-size="3" text-anchor="end" font-weight="bold" fill="#3a3a3a">0.5</text>
<text x="564.3" y="431.95" font-size="3" text-anchor="end" font-weight="bold" fill="#3a3a3a">0.0</text>
<text x="564.3" y="449.1" font-size="3" text-anchor="end" font-weight="bold" fill="#3a3a3a">−0.5</text>
<text x="564.3" y="466.25" font-size="3" text-anchor="end" font-weight="bold" fill="#3a3a3a">−1.0</text>
<text x="592" y="478.4" font-size="3" text-anchor="middle" font-weight="bold" fill="#3a3a3a">0</text>
<text x="623" y="478.4" font-size="3" text-anchor="middle" font-weight="bold" fill="#3a3a3a">1</text>
<text x="654" y="478.4" font-size="3" text-anchor="middle" font-weight="bold" fill="#3a3a3a">2</text>
<text x="609.65" y="481.7" font-size="3.3" text-anchor="middle" font-weight="bold" fill="#222">Dimension 1</text>
<text x="557" y="430.9" font-size="3.3" text-anchor="middle" font-weight="bold" fill="#222" transform="rotate(-90 557 430.9)">Dimension 2</text>
<text x="565.4" y="388.8" font-size="4.7" font-weight="bold" fill="#222">LDL−C (mmol/L)</text>
<text x="658.5" y="409.3" font-size="4.6" font-weight="bold" fill="#222">LDL−C</text>
<rect x="658.5" y="411.3" width="10.5" height="49.6" fill="url(#tc)" />
<line x1="658.5" y1="421" x2="660.6" y2="421" stroke="#fff" stroke-width="0.6" />
<line x1="666.9" y1="421" x2="669" y2="421" stroke="#fff" stroke-width="0.6" />
<text x="671.2" y="422.5" font-size="4.3" font-weight="bold" fill="#222">4</text>
<line x1="658.5" y1="441" x2="660.6" y2="441" stroke="#fff" stroke-width="0.6" />
<line x1="666.9" y1="441" x2="669" y2="441" stroke="#fff" stroke-width="0.6" />
<text x="671.2" y="442.5" font-size="4.3" font-weight="bold" fill="#222">2</text>
<line x1="24.05" y1="522" x2="24.05" y2="606" stroke="#e6e6e6" stroke-width="0.8" />
<line x1="36.6" y1="522" x2="36.6" y2="606" stroke="#dedede" stroke-width="1.1" />
<line x1="49.15" y1="522" x2="49.15" y2="606" stroke="#e6e6e6" stroke-width="0.8" />
<line x1="61.7" y1="522" x2="61.7" y2="606" stroke="#dedede" stroke-width="1.1" />
<line x1="74.25" y1="522" x2="74.25" y2="606" stroke="#e6e6e6" stroke-width="0.8" />
<line x1="86.8" y1="522" x2="86.8" y2="606" stroke="#dedede" stroke-width="1.1" />
<line x1="15.3" y1="528.5" x2="88" y2="528.5" stroke="#dedede" stroke-width="1.1" />
<line x1="15.3" y1="537.07" x2="88" y2="537.07" stroke="#e6e6e6" stroke-width="0.8" />
<line x1="15.3" y1="545.65" x2="88" y2="545.65" stroke="#dedede" stroke-width="1.1" />
<line x1="15.3" y1="554.22" x2="88" y2="554.22" stroke="#e6e6e6" stroke-width="0.8" />
<line x1="15.3" y1="562.8" x2="88" y2="562.8" stroke="#dedede" stroke-width="1.1" />
<line x1="15.3" y1="571.38" x2="88" y2="571.38" stroke="#e6e6e6" stroke-width="0.8" />
<line x1="15.3" y1="579.95" x2="88" y2="579.95" stroke="#dedede" stroke-width="1.1" />
<line x1="15.3" y1="588.52" x2="88" y2="588.52" stroke="#e6e6e6" stroke-width="0.8" />
<line x1="15.3" y1="597.1" x2="88" y2="597.1" stroke="#dedede" stroke-width="1.1" />
<line x1="15.3" y1="605.67" x2="88" y2="605.67" stroke="#e6e6e6" stroke-width="0.8" />
<g transform="translate(36.6 562.8) scale(0.81 1)"><use href="#rT" fill="#b5aa9a" stroke="#b5aa9a" opacity="0.75"/><use href="#rS" fill="#e3715a" stroke="#e3715a" opacity="0.75"/><use href="#rL" fill="#e8583f" stroke="#e8583f" opacity="0.75"/><use href="#rU" fill="#e2745d" stroke="#e2745d" opacity="0.75"/><use href="#rLL" fill="#e8583f" stroke="#e8583f" opacity="0.75"/><use href="#rC" fill="#e76046" stroke="#e76046" opacity="0.75"/><use href="#rR" fill="#d6d0ce" stroke="#d6d0ce" opacity="0.75"/><use href="#rB" fill="#d6d0ce" stroke="#d6d0ce" opacity="0.75"/><use href="#rLB" fill="#e76046" stroke="#e76046" opacity="0.75"/></g><g transform="translate(36.6 562.8) scale(0.2 0.25)" stroke-width="9.2" stroke-linecap="round"><path d="M-22 -44h0M61 44h0M71 133h0M16 -120h0M-61 66h0M36 16h0M74 140h0M-53 63h0M62 18h0M35 11h0M119 120h0M48 53h0M106 133h0M-60 81h0M-44 12h0M96 99h0M-25 -10h0M6 -28h0M112 131h0M47 11h0M22 -3h0M-5 -8h0M117 9h0M72 9h0M111 129h0M61 37h0M-60 61h0M-84 -26h0M-73 -21h0M-67 -20h0M183 -7h0M-89 -18h0M68 105h0M94 120h0M75 95h0M-49 25h0M-45 -18h0M-16 -10h0M-6 -114h0M62 21h0M56 118h0M25 8h0M-16 -40h0M11 -4h0M67 11h0M-8 -1h0M-65 99h0M78 91h0M-20 -28h0M-45 -17h0M-48 18h0M166 -30h0M55 73h0M-76 97h0M60 66h0M-37 2h0M-18 -2h0M-22 -2h0M-72 74h0M84 14h0M142 10h0M98 144h0M-17 -36h0M9 -24h0M48 7h0M-74 83h0M-65 104h0M188 -15h0M-62 75h0M57 68h0M168 -38h0M-13 -17h0M2 -12h0M-74 -17h0M-22 -43h0M89 22h0M4 -21h0M-52 58h0M58 116h0M3 8h0M-37 0h0M24 8h0M27 5h0M-16 -35h0M107 11h0M28 2h0M174 -48h0M-19 -74h0M116 130h0M46 41h0M116 14h0M-56 22h0M-1 5h0M79 84h0M-64 56h0M-20 -58h0M66 92h0M51 68h0M165 -26h0M120 19h0M78 104h0M70 102h0M27 -26h0M134 120h0M59 99h0M84 150h0M3 -105h0M-64 48h0M-60 -12h0M84 104h0M-73 67h0M62 64h0M52 52h0M-58 89h0M61 12h0M56 15h0M64 19h0M126 8h0M-11 -54h0M12 8h0M67 14h0M-30 -1h0M-66 56h0M-24 -4h0M11 7h0M123 108h0M-17 -19h0M28 11h0M-82 -25h0M64 85h0M0 -132h0M60 70h0M104 19h0M-53 -10h0M-60 71h0M15 -26h0M57 58h0M164 4h0M147 11h0M33 -36h0M-26 -2h0M137 19h0M-71 100h0M-12 -54h0M-90 -27h0M173 2h0M-54 28h0M140 10h0M166 15h0M-8 -108h0M111 98h0M-22 -33h0M88 94h0M136 5h0M96 12h0M89 152h0M3 -8h0M89 20h0M3 -25h0M92 22h0M58 32h0M134 118h0M55 96h0M80 20h0M208 11h0M200 33h0M116 146h0M124 96h0M33 -103h0M0 -138h0M-56 107h0M-68 35h0M-84 -5h0M-74 -6h0M7 -43h0M238 6h0M230 1h0M134 130h0M126 142h0" stroke="#e84834"/><path d="M178 27h0M74 128h0M129 124h0M145 -6h0M195 -6h0M182 -28h0M190 -19h0M8 -93h0M6 -120h0M72 83h0M180 2h0M170 11h0M168 26h0M173 -28h0M-18 -93h0M188 4h0M86 122h0M198 9h0M159 -16h0M50 112h0M71 129h0M135 126h0M94 89h0M70 101h0M94 124h0M59 102h0M137 124h0M117 116h0M186 28h0M184 -6h0M-12 -116h0M163 23h0M88 93h0M177 -43h0M175 -36h0M148 8h0M91 140h0M108 116h0M6 -122h0M7 -101h0M154 -9h0M144 -1h0M189 -32h0M168 -52h0M186 -4h0M84 114h0M92 111h0M94 107h0M151 21h0M150 -18h0M110 96h0M0 -104h0M184 3h0M90 113h0M90 89h0M168 5h0M171 -54h0M196 3h0M-19 -91h0M71 102h0M146 -6h0M198 16h0M85 98h0M172 -24h0M159 -38h0M73 150h0M158 0h0M76 138h0M175 -17h0M-3 -104h0M11 -116h0M88 110h0M111 118h0M94 141h0M66 108h0M172 -22h0M88 123h0M188 17h0M66 138h0M151 17h0M94 133h0M87 140h0M-21 -105h0M70 128h0M82 154h0M169 7h0M176 22h0M182 -46h0M53 105h0M79 131h0M146 -3h0M94 126h0M176 13h0M186 -27h0M176 22h0M124 105h0M88 108h0M174 13h0M88 83h0M11 -102h0M173 -31h0M116 105h0M182 -19h0M164 8h0M157 -15h0M177 -24h0M182 -16h0M78 100h0M178 -6h0M180 -42h0M78 110h0M181 -3h0M110 123h0M2 -107h0M116 99h0M151 25h0M174 -14h0M99 108h0M63 127h0M82 96h0M74 108h0M76 128h0M19 -123h0M92 146h0M115 123h0M100 111h0M78 128h0M153 -6h0M182 -44h0M60 125h0M166 19h0M97 138h0M80 142h0M181 -4h0M173 30h0M156 -28h0M119 124h0M188 -28h0M169 -15h0M122 122h0M184 -37h0M64 125h0M56 95h0M177 18h0M170 -38h0M86 85h0M56 108h0M172 -29h0M196 -1h0M142 22h0M196 2h0M63 98h0M12 -130h0M167 -5h0M186 0h0M72 118h0M78 120h0M199 -2h0M78 152h0M103 130h0M146 -8h0M148 16h0M194 20h0M81 82h0M-9 -101h0M192 18h0M105 126h0M178 2h0M178 -11h0M66 141h0M151 20h0M174 -4h0M75 97h0M112 103h0M105 141h0M172 -28h0M104 139h0M76 146h0M114 126h0M49 122h0M58 120h0M154 23h0M174 -28h0M106 103h0M3 -129h0M60 136h0M189 22h0M61 127h0M93 127h0M154 -14h0M191 -30h0M84 104h0M178 -2h0M190 -10h0M168 -24h0M182 8h0M2 -102h0M76 154h0M162 20h0M182 1h0M196 21h0M84 136h0M78 116h0M192 -15h0M184 -31h0M61 107h0M181 -22h0M61 123h0M160 -39h0M0 -121h0M177 0h0M177 -9h0M111 104h0M93 115h0M204 -9h0M166 8h0M178 -23h0M84 138h0M67 84h0M156 7h0M104 107h0M176 0h0M76 98h0M192 6h0M123 128h0M151 -19h0M25 -102h0M121 118h0M92 126h0M107 123h0M170 22h0M131 120h0M90 154h0M121 103h0M172 11h0M184 14h0M109 94h0M130 124h0M181 -11h0M103 94h0M58 132h0M184 -39h0M105 103h0M65 99h0M196 20h0M193 -21h0M62 119h0M188 33h0M100 108h0M103 114h0M75 107h0M-5 -122h0M82 132h0M152 -19h0M115 117h0M94 93h0M161 -42h0M175 -20h0M172 14h0M196 -26h0M19 -110h0M176 -2h0M169 -40h0M95 108h0M102 128h0M167 -18h0M-8 -120h0M100 103h0M84 148h0M161 -30h0M198 -24h0M102 118h0M60 135h0M192 23h0M195 21h0M162 6h0M164 -1h0M64 98h0M56 110h0M97 107h0M187 -35h0M156 -47h0M135 -9h0M189 43h0M209 -16h0M205 -26h0M172 42h0M187 -48h0M134 26h0M162 -58h0M210 11h0M163 -59h0M176 -63h0M152 -41h0M118 144h0M51 84h0M126 99h0M128 96h0M78 73h0M69 160h0M79 160h0M146 117h0M50 135h0M45 90h0M101 160h0M135 138h0M96 159h0M110 84h0M109 82h0M214 36h0M216 -18h0M211 46h0M202 45h0M215 7h0M218 -2h0M145 123h0M138 110h0M18 -145h0M13 -143h0" stroke="#cfcfcf"/><path d="M-53 58h0M-2 -17h0M24 -100h0M-62 84h0M150 -6h0M176 -5h0M-8 -114h0M82 129h0M170 -39h0M122 12h0M60 58h0M24 -28h0M192 16h0M9 2h0M14 -37h0M10 -30h0M106 108h0M78 13h0M-20 -10h0M12 1h0M-60 46h0M17 9h0M-14 -46h0M90 118h0M-18 -28h0M78 138h0M-22 -80h0M-9 -3h0M171 23h0M203 -1h0M122 18h0M56 24h0M164 -25h0M-83 -12h0M-20 -31h0M7 -102h0M141 5h0M-34 2h0M164 3h0M145 -27h0M46 134h0M25 -91h0" stroke="#c8a090"/><path d="M10 -124h0M160 24h0M0 -101h0M184 -16h0M53 58h0M10 -106h0M-21 -22h0M-14 -11h0M-58 79h0M-19 -100h0M20 -109h0M158 12h0M9 -115h0M-18 -93h0M66 131h0M-19 -78h0M-16 2h0M194 -20h0M169 12h0M15 -105h0M4 -121h0M-47 28h0M190 28h0M-3 -124h0M23 -115h0M-18 -67h0M27 -105h0M-8 -125h0M21 -122h0M131 123h0M134 25h0M71 160h0M7 -86h0M4 -85h0M224 -7h0M224 22h0M221 51h0M10 -142h0M25 -138h0" stroke="#72c6d0"/><path d="M105 98h0M-84 -11h0M-78 -22h0M-21 -72h0M50 9h0M-72 83h0M-76 -17h0M-71 88h0M-65 72h0M-14 -11h0M-16 -8h0M109 126h0M-10 2h0M-13 -67h0M0 5h0M52 59h0M46 12h0M69 82h0M51 24h0M12 -1h0M-15 -62h0M-51 -18h0M-12 -76h0M-63 -18h0M26 -28h0M58 86h0M25 6h0M-79 80h0M64 10h0M1 0h0M-82 -28h0M90 16h0M86 96h0M-12 -2h0M-58 94h0M16 12h0M22 0h0M-13 -4h0M6 6h0M-26 5h0" stroke="#e5674f"/><path d="M-46 -15h0M125 16h0M90 10h0M134 13h0M66 98h0M-71 66h0M-19 -24h0M127 12h0M-78 84h0M132 114h0M79 10h0M24 6h0M136 127h0M59 80h0M177 -9h0M-63 68h0M56 60h0M-35 -14h0M85 11h0M164 -26h0M12 -104h0M31 2h0M51 66h0M120 20h0M-72 -18h0M-47 -9h0M-54 35h0M56 46h0M-46 13h0M56 19h0M-58 62h0M118 13h0M63 107h0M60 68h0M-61 100h0M-21 -71h0M62 111h0M166 4h0M88 12h0M56 15h0M163 -22h0M-65 77h0M-21 -72h0M-54 89h0M18 -1h0M66 72h0M114 119h0M21 12h0M-54 87h0M85 10h0M39 18h0M19 -104h0M-72 -21h0M-26 -1h0M117 117h0M55 68h0M67 16h0M173 -10h0M80 88h0M-48 22h0M75 114h0M20 -23h0M-16 -75h0M68 82h0M1 -116h0M-57 61h0M116 107h0M-85 -21h0M-41 -11h0M-8 1h0M-66 97h0M-52 82h0M6 -133h0M110 135h0M106 130h0M99 17h0M-70 101h0M-72 95h0M62 32h0M44 26h0M-56 60h0M28 16h0M3 -17h0M-67 82h0M138 13h0M55 50h0M65 74h0M116 134h0M137 20h0M202 4h0M63 91h0M0 -10h0M52 32h0M-78 91h0M-62 81h0M112 135h0M74 13h0M51 38h0M-57 86h0M84 95h0M-44 -18h0M-69 98h0M-24 -7h0M55 75h0M-64 78h0M118 20h0M90 86h0M-17 -73h0M87 120h0M48 54h0M14 1h0M60 55h0M-12 -2h0M-1 -117h0M88 113h0M53 47h0M49 108h0M30 -28h0M-26 -6h0M-14 -29h0M-68 79h0M-37 21h0M-72 50h0M-97 -20h0M100 163h0" stroke="#e8392a"/><path d="M-65 -14h0M138 20h0M43 10h0M-79 -12h0M107 16h0M44 12h0M-71 75h0M-53 78h0M6 -8h0M-43 10h0M60 24h0M56 94h0M101 8h0M84 99h0M-66 104h0M141 17h0M80 24h0M91 12h0M19 12h0M64 78h0M90 21h0M137 8h0M49 60h0M-64 109h0" stroke="#e8563e"/><path d="M-11 -116h0M-17 -113h0M151 19h0M-11 -99h0M6 -109h0M19 -119h0M63 54h0M6 -136h0M27 -104h0M178 26h0M18 -101h0M-6 -112h0M188 -19h0M196 5h0M9 -101h0M16 -110h0M-22 -72h0M199 30h0M141 -21h0M75 162h0M62 148h0" stroke="#a3b3a7"/><path d="M108 22h0M93 14h0M56 18h0M168 -9h0M127 15h0M-60 85h0M-21 -20h0M-40 -16h0M-16 -40h0M-42 18h0M-51 20h0M-68 -14h0M-6 -8h0M-67 95h0M-4 -12h0M-44 -14h0M61 56h0M66 73h0M-62 70h0M-6 -10h0M6 -17h0M-43 9h0M-13 -70h0M-81 -26h0M201 8h0M40 18h0M81 24h0M-35 -1h0M65 22h0M20 -41h0M29 -37h0M-64 -12h0M116 15h0M30 6h0M112 18h0M-50 68h0M52 40h0M178 -50h0M-77 88h0M-73 -24h0M18 -39h0M30 -36h0M6 0h0M174 -28h0M62 63h0M-51 -14h0M50 32h0M56 44h0M123 16h0M-16 -11h0M51 38h0M2 -20h0M92 131h0M80 16h0M-13 5h0M94 14h0M17 4h0M28 -34h0M-80 -40h0" stroke="#e17a64"/><path d="M-16 -4h0M10 -112h0M23 -2h0M-20 -14h0M71 134h0M-8 -12h0M-22 -32h0M-22 -42h0M153 -20h0M170 4h0M112 16h0M59 52h0M-77 -26h0M82 134h0M56 41h0M163 -34h0M166 -49h0M180 21h0M165 9h0M5 -8h0M61 118h0M-13 -6h0M-2 -6h0M92 135h0M40 15h0M57 50h0M-73 82h0M0 -12h0M-85 -13h0M57 112h0M-74 97h0M-16 -61h0M64 54h0M6 -21h0M-3 -21h0M-56 56h0M8 -24h0M85 146h0M212 7h0M104 153h0M11 -12h0" stroke="#d58d7a"/><path d="M162 -7h0M14 -106h0M21 -120h0M-63 44h0M28 15h0M-5 -100h0M14 -35h0M-80 -17h0M54 30h0M178 19h0M12 -95h0M4 -112h0M-1 -94h0M154 18h0M58 20h0M5 -128h0M-9 -112h0M63 68h0M-9 -103h0M-18 -35h0M88 148h0M14 -102h0M8 -132h0M-2 -98h0M177 3h0M198 -7h0M156 -22h0M0 -102h0M47 36h0M-4 -119h0M-39 -4h0M1 -126h0M0 -128h0M172 6h0M174 -13h0M188 9h0M6 -94h0M6 -27h0M-45 60h0M-50 101h0M84 165h0" stroke="#76c5ca"/><path d="M21 -124h0M195 -17h0M169 27h0M136 -14h0M12 -140h0M210 30h0" stroke="#7dc3c4"/><path d="M14 -110h0M-3 -114h0M194 -10h0M10 -121h0M-12 -92h0M5 -128h0M174 -23h0M10 -91h0M170 -20h0M7 -124h0M177 -13h0M18 -28h0M164 4h0M63 140h0M-14 -111h0M-15 -118h0M158 24h0M190 12h0M22 -16h0" stroke="#b7a898"/><path d="M188 5h0M162 15h0M-10 -110h0M21 -113h0M0 -105h0M13 -82h0M32 -100h0M-28 -103h0" stroke="#8ebcb8"/></g>
<text x="14.3" y="529.55" font-size="3" text-anchor="end" font-weight="bold" fill="#3a3a3a">1.0</text>
<text x="14.3" y="546.7" font-size="3" text-anchor="end" font-weight="bold" fill="#3a3a3a">0.5</text>
<text x="14.3" y="563.85" font-size="3" text-anchor="end" font-weight="bold" fill="#3a3a3a">0.0</text>
<text x="14.3" y="581" font-size="3" text-anchor="end" font-weight="bold" fill="#3a3a3a">−0.5</text>
<text x="14.3" y="598.15" font-size="3" text-anchor="end" font-weight="bold" fill="#3a3a3a">−1.0</text>
<text x="36.6" y="609.7" font-size="3" text-anchor="middle" font-weight="bold" fill="#3a3a3a">0</text>
<text x="61.7" y="609.7" font-size="3" text-anchor="middle" font-weight="bold" fill="#3a3a3a">1</text>
<text x="86.8" y="609.7" font-size="3" text-anchor="middle" font-weight="bold" fill="#3a3a3a">2</text>
<text x="51.05" y="613" font-size="3.3" text-anchor="middle" font-weight="bold" fill="#222">Dimension 1</text>
<text x="7" y="562.8" font-size="3.3" text-anchor="middle" font-weight="bold" fill="#222" transform="rotate(-90 7 562.8)">Dimension 2</text>
<text x="15.3" y="520" font-size="4.7" font-weight="bold" fill="#222">Fasting C−Peptide (nmol/L)</text>
<text x="91.4" y="541" font-size="4.6" font-weight="bold" fill="#222">Fasting C−Peptide</text>
<rect x="91.4" y="543" width="10.5" height="49.6" fill="url(#tc)" />
<line x1="91.4" y1="555.2" x2="93.5" y2="555.2" stroke="#fff" stroke-width="0.6" />
<line x1="99.8" y1="555.2" x2="101.9" y2="555.2" stroke="#fff" stroke-width="0.6" />
<text x="104.1" y="556.7" font-size="4.3" font-weight="bold" fill="#222">0.6</text>
<line x1="91.4" y1="567.5" x2="93.5" y2="567.5" stroke="#fff" stroke-width="0.6" />
<line x1="99.8" y1="567.5" x2="101.9" y2="567.5" stroke="#fff" stroke-width="0.6" />
<text x="104.1" y="569" font-size="4.3" font-weight="bold" fill="#222">0.4</text>
<line x1="91.4" y1="579.8" x2="93.5" y2="579.8" stroke="#fff" stroke-width="0.6" />
<line x1="99.8" y1="579.8" x2="101.9" y2="579.8" stroke="#fff" stroke-width="0.6" />
<text x="104.1" y="581.3" font-size="4.3" font-weight="bold" fill="#222">0.2</text>
<text x="91.6" y="530.6" font-size="4.6" font-weight="bold" fill="#222">Measured=2,012</text>
<line x1="161.88" y1="522" x2="161.88" y2="606" stroke="#e6e6e6" stroke-width="0.8" />
<line x1="174.9" y1="522" x2="174.9" y2="606" stroke="#dedede" stroke-width="1.1" />
<line x1="187.93" y1="522" x2="187.93" y2="606" stroke="#e6e6e6" stroke-width="0.8" />
<line x1="200.95" y1="522" x2="200.95" y2="606" stroke="#dedede" stroke-width="1.1" />
<line x1="213.98" y1="522" x2="213.98" y2="606" stroke="#e6e6e6" stroke-width="0.8" />
<line x1="227" y1="522" x2="227" y2="606" stroke="#dedede" stroke-width="1.1" />
<line x1="153.4" y1="528.5" x2="226.5" y2="528.5" stroke="#dedede" stroke-width="1.1" />
<line x1="153.4" y1="537.07" x2="226.5" y2="537.07" stroke="#e6e6e6" stroke-width="0.8" />
<line x1="153.4" y1="545.65" x2="226.5" y2="545.65" stroke="#dedede" stroke-width="1.1" />
<line x1="153.4" y1="554.22" x2="226.5" y2="554.22" stroke="#e6e6e6" stroke-width="0.8" />
<line x1="153.4" y1="562.8" x2="226.5" y2="562.8" stroke="#dedede" stroke-width="1.1" />
<line x1="153.4" y1="571.38" x2="226.5" y2="571.38" stroke="#e6e6e6" stroke-width="0.8" />
<line x1="153.4" y1="579.95" x2="226.5" y2="579.95" stroke="#dedede" stroke-width="1.1" />
<line x1="153.4" y1="588.52" x2="226.5" y2="588.52" stroke="#e6e6e6" stroke-width="0.8" />
<line x1="153.4" y1="597.1" x2="226.5" y2="597.1" stroke="#dedede" stroke-width="1.1" />
<line x1="153.4" y1="605.67" x2="226.5" y2="605.67" stroke="#e6e6e6" stroke-width="0.8" />
<g transform="translate(174.9 562.8) scale(0.84 1)"><use href="#rT" fill="#baa797" stroke="#baa797" opacity="0.75"/><use href="#rS" fill="#e8583f" stroke="#e8583f" opacity="0.75"/><use href="#rL" fill="#e8543d" stroke="#e8543d" opacity="0.75"/><use href="#rU" fill="#e75f46" stroke="#e75f46" opacity="0.75"/><use href="#rLL" fill="#e8543d" stroke="#e8543d" opacity="0.75"/><use href="#rC" fill="#e8583f" stroke="#e8583f" opacity="0.75"/><use href="#rR" fill="#d6d0ce" stroke="#d6d0ce" opacity="0.75"/><use href="#rB" fill="#d6d0ce" stroke="#d6d0ce" opacity="0.75"/><use href="#rLB" fill="#e8583f" stroke="#e8583f" opacity="0.75"/></g><g transform="translate(174.9 562.8) scale(0.21 0.25)" stroke-width="9.2" stroke-linecap="round"><path d="M-22 -44h0M-2 -17h0M-46 -15h0M-65 -14h0M16 -120h0M134 13h0M72 83h0M-71 66h0M-53 63h0M-62 84h0M35 11h0M127 12h0M48 53h0M-78 84h0M-60 81h0M14 -106h0M79 10h0M-44 12h0M59 80h0M22 -3h0M-21 -72h0M56 60h0M-35 -14h0M-22 -32h0M189 -32h0M-84 -26h0M-72 83h0M164 -26h0M31 2h0M-76 -17h0M107 16h0M-40 -16h0M-16 -40h0M-22 -42h0M94 120h0M120 20h0M-51 20h0M-54 35h0M71 102h0M60 58h0M-58 62h0M88 110h0M-61 100h0M56 118h0M11 -4h0M82 154h0M59 52h0M176 22h0M-65 99h0M4 -112h0M-71 75h0M14 -37h0M55 73h0M60 66h0M58 20h0M18 -1h0M142 10h0M-62 70h0M48 7h0M-74 83h0M-62 75h0M57 68h0M19 -104h0M69 82h0M6 -8h0M60 125h0M117 117h0M55 68h0M119 124h0M80 88h0M-81 -26h0M-16 -35h0M5 -8h0M-41 -11h0M-35 -1h0M-16 2h0M65 22h0M-56 22h0M-1 5h0M148 16h0M-20 -58h0M178 2h0M66 92h0M112 103h0M15 -105h0M-12 -76h0M40 15h0M3 -129h0M-70 101h0M26 -28h0M58 86h0M3 -105h0M-64 48h0M-73 67h0M-67 82h0M184 -31h0M61 12h0M-4 -119h0M52 32h0M126 8h0M-9 -3h0M-66 56h0M123 128h0M64 10h0M1 0h0M178 26h0M50 32h0M11 7h0M56 44h0M123 16h0M122 18h0M-16 -61h0M-57 86h0M18 -101h0M60 70h0M-69 98h0M104 19h0M-53 -10h0M105 103h0M2 -20h0M57 58h0M147 11h0M33 -36h0M-26 -2h0M86 96h0M-20 -31h0M49 60h0M14 1h0M3 -25h0M94 14h0M-1 -117h0M8 -24h0M-34 2h0M80 20h0M135 -9h0M163 -59h0M75 162h0M124 96h0M7 -86h0M-56 107h0M-80 -40h0M10 -142h0" stroke="#e8392a"/><path d="M178 27h0M74 128h0M10 -124h0M160 24h0M105 98h0M182 -28h0M71 133h0M66 98h0M180 2h0M162 -7h0M173 -28h0M188 4h0M150 -6h0M-17 -113h0M198 9h0M168 -9h0M106 133h0M132 114h0M176 -5h0M159 -16h0M-8 -114h0M50 112h0M135 126h0M71 134h0M170 -39h0M94 124h0M112 131h0M59 102h0M137 124h0M117 116h0M186 28h0M184 -6h0M177 -9h0M177 -43h0M175 -36h0M148 8h0M111 129h0M108 116h0M154 -9h0M144 -1h0M195 -17h0M186 -4h0M84 114h0M183 -7h0M12 -104h0M92 111h0M68 105h0M94 107h0M151 21h0M-5 -100h0M110 96h0M0 -104h0M184 3h0M153 -20h0M90 113h0M168 5h0M171 -54h0M196 3h0M75 95h0M-19 -91h0M146 -6h0M198 16h0M85 98h0M170 4h0M159 -38h0M-6 -114h0M192 16h0M175 -17h0M178 19h0M188 5h0M66 108h0M12 -95h0M172 -22h0M88 123h0M151 17h0M94 133h0M87 140h0M70 128h0M169 7h0M162 15h0M182 -46h0M62 111h0M194 -10h0M146 -3h0M82 134h0M94 126h0M176 13h0M186 -27h0M176 22h0M163 -22h0M166 -30h0M124 105h0M88 83h0M11 -102h0M173 -31h0M116 105h0M154 18h0M182 -19h0M164 8h0M157 -15h0M177 -24h0M78 100h0M178 -6h0M110 123h0M2 -107h0M116 99h0M-19 -100h0M151 25h0M174 -14h0M63 127h0M114 119h0M163 -34h0M82 96h0M76 128h0M166 -49h0M5 -128h0M20 -109h0M92 146h0M115 123h0M78 128h0M5 -128h0M158 12h0M153 -6h0M106 108h0M182 -44h0M166 19h0M97 138h0M80 142h0M-9 -112h0M181 -4h0M9 -115h0M173 30h0M156 -28h0M173 -10h0M58 116h0M174 -23h0M122 122h0M-18 -93h0M184 -37h0M56 95h0M177 18h0M86 85h0M56 108h0M172 -29h0M142 22h0M116 130h0M66 131h0M88 148h0M167 -5h0M116 107h0M78 120h0M199 -2h0M78 152h0M8 -132h0M61 118h0M84 99h0M146 -8h0M194 20h0M192 18h0M178 -11h0M66 141h0M151 20h0M75 97h0M165 -26h0M110 135h0M105 141h0M172 -28h0M169 12h0M104 139h0M70 102h0M106 130h0M114 126h0M49 122h0M58 120h0M154 23h0M174 -28h0M189 22h0M61 127h0M93 127h0M178 -50h0M134 120h0M154 -14h0M-2 -98h0M191 -30h0M84 104h0M178 -2h0M59 99h0M84 150h0M177 3h0M182 8h0M90 118h0M76 154h0M156 -22h0M182 1h0M84 104h0M196 21h0M84 136h0M78 116h0M192 -15h0M61 107h0M181 -22h0M61 123h0M160 -39h0M177 -9h0M111 104h0M116 134h0M93 115h0M84 138h0M78 138h0M67 84h0M156 7h0M202 4h0M63 91h0M174 -28h0M7 -124h0M-3 -124h0M104 107h0M177 -13h0M192 6h0M171 23h0M123 108h0M92 126h0M107 123h0M164 4h0M170 22h0M131 120h0M112 135h0M90 154h0M172 11h0M64 85h0M84 95h0M184 14h0M103 94h0M184 -39h0M188 -19h0M196 20h0M193 -21h0M62 119h0M92 131h0M188 33h0M100 108h0M90 86h0M164 -25h0M82 132h0M152 -19h0M115 117h0M94 93h0M174 -13h0M175 -20h0M172 14h0M173 2h0M87 120h0M196 -26h0M16 -110h0M166 15h0M111 98h0M88 94h0M188 9h0M89 152h0M7 -102h0M176 -2h0M169 -40h0M141 5h0M102 128h0M167 -18h0M100 103h0M-15 -118h0M161 -30h0M198 -24h0M134 118h0M195 21h0M85 146h0M49 108h0M55 96h0M21 -122h0M158 24h0M190 12h0M64 98h0M56 110h0M97 107h0M131 123h0M187 -35h0M156 -47h0M199 30h0M209 -16h0M172 42h0M145 -27h0M141 -21h0M134 26h0M200 33h0M136 -14h0M176 -63h0M134 25h0M118 144h0M104 153h0M126 99h0M128 96h0M78 73h0M46 134h0M69 160h0M146 117h0M50 135h0M45 90h0M101 160h0M135 138h0M96 159h0M4 -85h0M12 -140h0M-28 -103h0M238 6h0M224 22h0M221 51h0M214 36h0M230 1h0M216 -18h0M211 46h0M202 45h0M215 7h0M210 30h0M218 -2h0M134 130h0M145 123h0M138 110h0M100 163h0M18 -145h0" stroke="#cfcfcf"/><path d="M-53 58h0M-61 66h0M70 101h0M-63 68h0M-63 44h0M51 66h0M-49 25h0M60 68h0M-44 -14h0M62 21h0M-10 2h0M88 12h0M-13 -67h0M78 110h0M21 12h0M-65 104h0M-53 78h0M-13 -17h0M24 8h0M-19 -78h0M-51 -18h0M116 15h0M30 6h0M78 104h0M-50 68h0M27 -26h0M-73 82h0M62 64h0M138 13h0M62 63h0M-17 -19h0M-74 97h0M-16 -11h0M-44 -18h0M90 16h0M15 -26h0M55 75h0M80 16h0M-12 -54h0M48 54h0M110 84h0" stroke="#e8563e"/><path d="M129 124h0M-84 -11h0M23 -2h0M82 129h0M24 6h0M21 -124h0M72 9h0M91 140h0M85 11h0M168 -52h0M-21 -105h0M109 126h0M-21 -72h0M2 -12h0M169 -15h0M174 -48h0M40 18h0M72 118h0M20 -41h0M17 9h0M-77 88h0M-60 -12h0M-79 80h0M74 13h0M28 11h0M63 140h0M58 132h0M162 -58h0" stroke="#d58d7a"/><path d="M125 16h0M24 -100h0M-18 -93h0M0 -101h0M21 -120h0M6 -122h0M150 -18h0M-45 -17h0M166 4h0M-12 -92h0M188 -28h0M60 24h0M-16 -75h0M68 82h0M0 -105h0M-9 -101h0M76 146h0M80 24h0M4 -121h0M2 -102h0M-60 71h0M-8 -120h0M102 118h0M30 -28h0M6 -27h0M164 3h0M-14 -29h0M189 43h0M210 11h0M152 -41h0M0 -138h0M-64 109h0M22 -16h0" stroke="#76c5ca"/><path d="M145 -6h0M6 -120h0M138 20h0M36 16h0M-89 -18h0M66 73h0M188 -15h0M-10 -110h0M-74 -17h0M4 -21h0M-48 22h0M20 -23h0M170 -38h0M196 2h0M12 -130h0M-52 82h0M174 -4h0M141 17h0M194 -20h0M106 103h0M170 -20h0M25 6h0M0 -121h0M47 36h0M203 -1h0M23 -115h0M1 -126h0M-64 78h0M64 78h0M161 -42h0M-54 28h0M-8 -108h0M-56 56h0M-13 -4h0M162 6h0M13 -82h0M33 -103h0M32 -100h0M224 -7h0" stroke="#72c6d0"/><path d="M61 44h0M8 -93h0M-78 -22h0M62 18h0M-8 -12h0M-21 -20h0M-73 -21h0M-42 18h0M-71 88h0M24 -28h0M56 19h0M53 105h0M-20 -28h0M-48 18h0M6 -17h0M-15 -62h0M63 54h0M103 130h0M-66 97h0M-2 -6h0M-63 -18h0M57 50h0M-14 -46h0M168 -24h0M3 -17h0M178 -23h0M0 -10h0M57 112h0M-82 -25h0M109 94h0M19 12h0M90 21h0M137 8h0M-17 -73h0M89 20h0M22 0h0M53 47h0M6 6h0M187 -48h0M7 -43h0" stroke="#e17a64"/><path d="M195 -6h0M190 -19h0M-16 -4h0M10 -112h0M56 18h0M74 140h0M86 122h0M-20 -14h0M119 120h0M184 -16h0M71 129h0M-25 -10h0M136 127h0M127 15h0M50 9h0M-60 85h0M61 37h0M-60 61h0M-79 -12h0M28 15h0M-67 -20h0M14 -35h0M-80 -17h0M90 89h0M-72 -18h0M-47 -9h0M-68 -14h0M122 12h0M-65 72h0M-45 -18h0M56 46h0M-46 13h0M-14 -11h0M-67 95h0M54 30h0M118 13h0M73 150h0M63 107h0M44 12h0M76 138h0M111 118h0M-3 -114h0M94 141h0M25 8h0M-16 -40h0M66 138h0M67 11h0M-8 -1h0M-21 -71h0M61 56h0M9 2h0M78 91h0M79 131h0M10 -121h0M56 15h0M-65 77h0M174 13h0M-21 -22h0M-76 97h0M-37 2h0M-18 -2h0M-22 -2h0M10 -30h0M-72 74h0M182 -16h0M-14 -11h0M-58 79h0M56 41h0M0 5h0M-17 -36h0M99 108h0M74 108h0M52 59h0M9 -24h0M-54 87h0M39 18h0M100 111h0M78 13h0M-72 -21h0M6 -109h0M51 24h0M-22 -43h0M-43 9h0M89 22h0M-43 10h0M63 68h0M12 1h0M-52 58h0M3 8h0M-37 0h0M75 114h0M107 11h0M64 125h0M28 2h0M19 -119h0M-9 -103h0M1 -116h0M56 94h0M-18 -35h0M-19 -74h0M-57 61h0M63 98h0M46 41h0M116 14h0M-85 -21h0M-8 1h0M81 24h0M29 -37h0M-66 104h0M81 82h0M-13 -6h0M79 84h0M-64 56h0M105 126h0M51 68h0M6 -133h0M120 19h0M10 -91h0M-60 46h0M92 135h0M6 -136h0M60 136h0M52 40h0M-72 95h0M-73 -24h0M-47 28h0M62 32h0M44 26h0M-56 60h0M162 20h0M18 -39h0M-18 -28h0M6 0h0M52 52h0M65 74h0M177 0h0M-85 -13h0M-22 -80h0M64 19h0M-11 -54h0M67 14h0M-51 -14h0M76 98h0M-78 91h0M18 -28h0M-24 -4h0M121 118h0M-62 81h0M-39 -4h0M-82 -28h0M56 24h0M64 54h0M0 -128h0M130 124h0M51 38h0M-24 -7h0M118 20h0M-3 -21h0M-13 5h0M-83 -12h0M103 114h0M137 19h0M-71 100h0M-90 -27h0M140 10h0M-12 -2h0M-22 -33h0M96 12h0M3 -8h0M-18 -67h0M-58 94h0M92 22h0M60 55h0M-12 -2h0M95 108h0M58 32h0M17 4h0M28 -34h0M88 113h0M-22 -72h0M-26 -6h0M-68 79h0M208 11h0M51 84h0M79 160h0M62 148h0M109 82h0M25 -91h0M-45 60h0M-37 21h0M-26 5h0M-68 35h0M-72 50h0M-74 -6h0M11 -12h0M84 165h0M126 142h0" stroke="#e84834"/><path d="M-11 -116h0M170 11h0M93 14h0M47 11h0M-12 -116h0M7 -101h0M172 -24h0M10 -106h0M180 -42h0M98 144h0M181 -3h0M168 -38h0M165 9h0M196 -1h0M101 8h0M14 -102h0M0 -12h0M25 -102h0M196 5h0M84 148h0M27 -105h0M60 135h0M205 -26h0M25 -138h0" stroke="#c8a090"/><path d="M90 10h0M43 10h0M108 22h0M-19 -24h0M53 58h0M94 89h0M96 99h0M6 -28h0M-5 -8h0M88 93h0M117 9h0M-6 -8h0M-16 -10h0M112 16h0M-4 -12h0M-16 -8h0M-77 -26h0M88 108h0M-54 89h0M66 72h0M84 14h0M-6 -10h0M85 10h0M46 12h0M-26 -1h0M67 16h0M-20 -10h0M-13 -70h0M27 5h0M12 -1h0M-64 -12h0M112 18h0M99 17h0M28 16h0M30 -36h0M55 50h0M-58 89h0M137 20h0M56 15h0M12 8h0M-30 -1h0M91 12h0M121 103h0M51 38h0M6 -21h0M65 99h0M75 107h0M136 5h0M16 12h0M-50 101h0M-97 -20h0M-84 -5h0" stroke="#e5674f"/><path d="M168 26h0M14 -110h0M158 0h0M-11 -99h0M19 -123h0M190 -10h0M0 -102h0M204 -9h0M166 8h0M151 -19h0M0 -132h0M181 -11h0M-6 -112h0M9 -101h0M-14 -111h0M192 23h0M212 7h0M71 160h0M116 146h0" stroke="#b7a898"/><path d="M163 23h0M11 -116h0M188 17h0M-1 -94h0M151 19h0M21 -113h0M27 -104h0M198 -7h0M190 28h0M176 0h0M164 4h0M19 -110h0M6 -94h0M169 27h0M164 -1h0M13 -143h0" stroke="#a3b3a7"/><path d="M-3 -104h0M180 21h0M201 8h0M186 0h0" stroke="#8ebcb8"/><path d="M172 6h0M-5 -122h0M-8 -125h0" stroke="#7dc3c4"/></g>
<text x="152.4" y="529.55" font-size="3" text-anchor="end" font-weight="bold" fill="#3a3a3a">1.0</text>
<text x="152.4" y="546.7" font-size="3" text-anchor="end" font-weight="bold" fill="#3a3a3a">0.5</text>
<text x="152.4" y="563.85" font-size="3" text-anchor="end" font-weight="bold" fill="#3a3a3a">0.0</text>
<text x="152.4" y="581" font-size="3" text-anchor="end" font-weight="bold" fill="#3a3a3a">−0.5</text>
<text x="152.4" y="598.15" font-size="3" text-anchor="end" font-weight="bold" fill="#3a3a3a">−1.0</text>
<text x="174.9" y="609.7" font-size="3" text-anchor="middle" font-weight="bold" fill="#3a3a3a">0</text>
<text x="200.95" y="609.7" font-size="3" text-anchor="middle" font-weight="bold" fill="#3a3a3a">1</text>
<text x="227" y="609.7" font-size="3" text-anchor="middle" font-weight="bold" fill="#3a3a3a">2</text>
<text x="190.2" y="613" font-size="3.3" text-anchor="middle" font-weight="bold" fill="#222">Dimension 1</text>
<text x="145.1" y="562.8" font-size="3.3" text-anchor="middle" font-weight="bold" fill="#222" transform="rotate(-90 145.1 562.8)">Dimension 2</text>
<text x="152.7" y="520" font-size="4.7" font-weight="bold" fill="#222">Serum C−Peptide (nmol/L)</text>
<text x="231.2" y="541.2" font-size="4.6" font-weight="bold" fill="#222">Serum C−Peptide</text>
<rect x="231.2" y="543.2" width="10.5" height="49.1" fill="url(#tc)" />
<line x1="231.2" y1="552" x2="233.3" y2="552" stroke="#fff" stroke-width="0.6" />
<line x1="239.6" y1="552" x2="241.7" y2="552" stroke="#fff" stroke-width="0.6" />
<text x="243.9" y="553.5" font-size="4.3" font-weight="bold" fill="#222">0.8</text>
<line x1="231.2" y1="562.2" x2="233.3" y2="562.2" stroke="#fff" stroke-width="0.6" />
<line x1="239.6" y1="562.2" x2="241.7" y2="562.2" stroke="#fff" stroke-width="0.6" />
<text x="243.9" y="563.7" font-size="4.3" font-weight="bold" fill="#222">0.6</text>
<line x1="231.2" y1="572.4" x2="233.3" y2="572.4" stroke="#fff" stroke-width="0.6" />
<line x1="239.6" y1="572.4" x2="241.7" y2="572.4" stroke="#fff" stroke-width="0.6" />
<text x="243.9" y="573.9" font-size="4.3" font-weight="bold" fill="#222">0.4</text>
<line x1="231.2" y1="582.5" x2="233.3" y2="582.5" stroke="#fff" stroke-width="0.6" />
<line x1="239.6" y1="582.5" x2="241.7" y2="582.5" stroke="#fff" stroke-width="0.6" />
<text x="243.9" y="584" font-size="4.3" font-weight="bold" fill="#222">0.2</text>
<text x="231" y="530.6" font-size="4.6" font-weight="bold" fill="#222">Measured=2,633</text>
<line x1="305.6" y1="522.9" x2="305.6" y2="605.3" stroke="#e6e6e6" stroke-width="0.8" />
<line x1="321.1" y1="522.9" x2="321.1" y2="605.3" stroke="#dedede" stroke-width="1.1" />
<line x1="336.6" y1="522.9" x2="336.6" y2="605.3" stroke="#e6e6e6" stroke-width="0.8" />
<line x1="352.1" y1="522.9" x2="352.1" y2="605.3" stroke="#dedede" stroke-width="1.1" />
<line x1="367.6" y1="522.9" x2="367.6" y2="605.3" stroke="#e6e6e6" stroke-width="0.8" />
<line x1="383.1" y1="522.9" x2="383.1" y2="605.3" stroke="#dedede" stroke-width="1.1" />
<line x1="294.7" y1="528.5" x2="383.8" y2="528.5" stroke="#dedede" stroke-width="1.1" />
<line x1="294.7" y1="537.07" x2="383.8" y2="537.07" stroke="#e6e6e6" stroke-width="0.8" />
<line x1="294.7" y1="545.65" x2="383.8" y2="545.65" stroke="#dedede" stroke-width="1.1" />
<line x1="294.7" y1="554.22" x2="383.8" y2="554.22" stroke="#e6e6e6" stroke-width="0.8" />
<line x1="294.7" y1="562.8" x2="383.8" y2="562.8" stroke="#dedede" stroke-width="1.1" />
<line x1="294.7" y1="571.38" x2="383.8" y2="571.38" stroke="#e6e6e6" stroke-width="0.8" />
<line x1="294.7" y1="579.95" x2="383.8" y2="579.95" stroke="#dedede" stroke-width="1.1" />
<line x1="294.7" y1="588.52" x2="383.8" y2="588.52" stroke="#e6e6e6" stroke-width="0.8" />
<line x1="294.7" y1="597.1" x2="383.8" y2="597.1" stroke="#dedede" stroke-width="1.1" />
<line x1="294.7" y1="605.67" x2="383.8" y2="605.67" stroke="#e6e6e6" stroke-width="0.8" />
<g transform="translate(321.1 562.8) scale(1 1)"><use href="#rT" fill="#e56a51" stroke="#e56a51" opacity="0.75"/><use href="#rS" fill="#d98874" stroke="#d98874" opacity="0.75"/><use href="#rL" fill="#e37059" stroke="#e37059" opacity="0.75"/><use href="#rU" fill="#c0a494" stroke="#c0a494" opacity="0.75"/><use href="#rLL" fill="#d3917e" stroke="#d3917e" opacity="0.75"/><use href="#rC" fill="#d98874" stroke="#d98874" opacity="0.75"/><use href="#rR" fill="#e27760" stroke="#e27760" opacity="0.75"/><use href="#rB" fill="#dc846f" stroke="#dc846f" opacity="0.75"/><use href="#rLB" fill="#d98874" stroke="#d98874" opacity="0.75"/></g><g transform="translate(321.1 562.8) scale(0.25 0.25)" stroke-width="9.2" stroke-linecap="round"><path d="M-22 -44h0M27 -26h0" stroke="#7dc3c4"/><path d="M178 27h0M108 22h0M168 -9h0M132 114h0M22 -3h0M154 -9h0M-21 -20h0M-84 -26h0M84 114h0M184 3h0M-46 13h0M-14 -11h0M158 0h0M76 138h0M94 141h0M10 -106h0M82 154h0M194 -10h0M-77 -26h0M14 -37h0M166 -30h0M-76 97h0M9 -115h0M12 -1h0M172 -29h0M142 22h0M63 54h0M-16 2h0M192 18h0M105 126h0M92 135h0M40 15h0M76 154h0M198 -7h0M0 -12h0M166 8h0M156 7h0M126 8h0M-9 -3h0M76 98h0M11 7h0M123 16h0M28 11h0M184 14h0M-83 -12h0M188 9h0M-56 56h0M-15 -118h0M205 -26h0M141 -21h0M104 153h0M69 160h0M71 160h0M135 138h0M134 130h0M100 163h0M10 -142h0" stroke="#c8a090"/><path d="M74 128h0M160 24h0M125 16h0M195 -6h0M90 10h0M8 -93h0M-84 -11h0M36 16h0M10 -112h0M162 -7h0M168 26h0M-18 -93h0M86 122h0M-19 -24h0M106 133h0M184 -16h0M53 58h0M-8 -114h0M71 129h0M79 10h0M-25 -10h0M170 -39h0M177 -9h0M-21 -72h0M21 -124h0M-12 -116h0M50 9h0M6 -122h0M144 -1h0M-73 -21h0M92 111h0M94 107h0M-76 -17h0M-40 -16h0M-16 -40h0M150 -18h0M110 96h0M0 -104h0M153 -20h0M-80 -17h0M71 102h0M-6 -8h0M54 30h0M73 150h0M175 -17h0M60 68h0M25 8h0M-1 -94h0M-45 -17h0M66 73h0M186 -27h0M56 15h0M163 -22h0M55 73h0M124 105h0M173 -31h0M-37 2h0M-18 -2h0M182 -19h0M177 -24h0M142 10h0M-62 70h0M180 -42h0M-11 -99h0M-65 104h0M5 -128h0M-62 75h0M39 18h0M115 123h0M19 -104h0M166 19h0M-20 -10h0M63 68h0M174 -23h0M3 8h0M75 114h0M177 18h0M86 85h0M68 82h0M-19 -74h0M63 98h0M116 14h0M186 0h0M199 -2h0M-8 1h0M61 118h0M-64 -12h0M-56 22h0M146 -8h0M148 16h0M194 20h0M178 2h0M51 68h0M151 20h0M110 135h0M194 -20h0M172 -28h0M-12 -76h0M104 139h0M70 102h0M6 -136h0M-63 -18h0M17 9h0M174 -28h0M27 -104h0M61 127h0M191 -30h0M62 32h0M59 99h0M2 -102h0M162 20h0M25 6h0M84 104h0M52 52h0M184 -31h0M65 74h0M47 36h0M78 138h0M67 84h0M-30 -1h0M-51 -14h0M171 23h0M18 -28h0M-24 -4h0M92 126h0M164 4h0M112 135h0M-39 -4h0M74 13h0M63 140h0M-74 97h0M-82 -28h0M84 95h0M0 -128h0M181 -11h0M104 19h0M90 16h0M-6 -112h0M188 -19h0M57 58h0M193 -21h0M62 119h0M19 12h0M188 33h0M-3 -21h0M-5 -122h0M33 -36h0M137 19h0M196 5h0M-14 -111h0M172 14h0M-54 28h0M166 15h0M-12 -2h0M88 94h0M49 60h0M19 -110h0M169 -40h0M94 14h0M167 -18h0M28 -34h0M-1 -117h0M53 47h0M102 118h0M162 6h0M-34 2h0M164 -1h0M21 -122h0M158 24h0M-26 -6h0M-14 -29h0M135 -9h0M162 -58h0M210 11h0M163 -59h0M51 84h0M128 96h0M146 117h0M116 146h0M62 148h0M25 -91h0M0 -138h0M32 -100h0M-64 109h0M-26 5h0M-80 -40h0M-74 -6h0M238 6h0M224 22h0M216 -18h0M202 45h0M84 165h0" stroke="#e8392a"/><path d="M-53 58h0M129 124h0M71 133h0M16 -120h0M24 -100h0M170 11h0M93 14h0M48 53h0M198 9h0M50 112h0M-44 12h0M71 134h0M96 99h0M163 23h0M-22 -32h0M183 -7h0M-89 -18h0M68 105h0M151 21h0M-22 -42h0M-47 -9h0M56 46h0M56 19h0M-67 95h0M112 16h0M44 12h0M11 -116h0M172 -22h0M151 17h0M94 133h0M-20 -28h0M-71 75h0M109 126h0M-48 18h0M166 4h0M88 108h0M154 18h0M58 20h0M10 -30h0M66 72h0M78 100h0M78 110h0M181 -3h0M0 5h0M174 -14h0M99 108h0M63 127h0M74 108h0M6 -17h0M92 146h0M5 -128h0M158 12h0M-53 78h0M6 -8h0M2 -12h0M51 24h0M55 68h0M-13 -70h0M20 -23h0M-16 -75h0M28 2h0M56 108h0M-18 -35h0M101 8h0M21 -113h0M-57 61h0M46 41h0M116 107h0M14 -102h0M29 -37h0M84 99h0M-66 104h0M75 97h0M112 103h0M76 146h0M189 22h0M-2 -98h0M26 -28h0M-47 28h0M-73 82h0M182 8h0M3 -105h0M6 0h0M138 13h0M84 138h0M137 20h0M202 4h0M0 -10h0M-22 -80h0M-66 56h0M-78 91h0M122 18h0M-16 -11h0M60 70h0M58 132h0M2 -20h0M-64 78h0M-13 5h0M164 -25h0M64 78h0M82 132h0M9 -101h0M94 93h0M174 -13h0M-8 -108h0M-20 -31h0M96 12h0M92 22h0M8 -24h0M88 113h0M6 6h0M64 98h0M-68 79h0M187 -48h0M134 26h0M176 -63h0M78 73h0M101 160h0M33 -103h0M-45 60h0M-50 101h0M7 -43h0M224 -7h0M211 46h0M145 123h0" stroke="#72c6d0"/><path d="M10 -124h0M61 44h0M-65 -14h0M195 -17h0M-45 -18h0M48 7h0M69 82h0M119 124h0M19 -119h0M-85 -21h0M8 -132h0M81 82h0M15 -105h0M49 122h0M80 24h0M106 103h0M62 63h0M67 14h0M0 -132h0M-26 -2h0M7 -102h0M110 84h0M12 -140h0" stroke="#e5674f"/><path d="M105 98h0M182 -28h0M-11 -116h0M72 83h0M-61 66h0M66 98h0M-71 66h0M-16 -4h0M188 4h0M62 18h0M-17 -113h0M0 -101h0M-60 81h0M176 -5h0M14 -106h0M159 -16h0M82 129h0M112 131h0M137 124h0M117 116h0M186 28h0M136 127h0M-5 -8h0M88 93h0M177 -43h0M175 -36h0M148 8h0M117 9h0M127 15h0M91 140h0M111 129h0M61 37h0M85 11h0M7 -101h0M189 -32h0M-63 44h0M-79 -12h0M168 -52h0M28 15h0M186 -4h0M164 -26h0M-67 -20h0M12 -104h0M107 16h0M14 -110h0M90 89h0M120 20h0M168 5h0M-42 18h0M-51 20h0M196 3h0M-71 88h0M75 95h0M-65 72h0M-54 35h0M146 -6h0M-16 -10h0M85 98h0M60 58h0M24 -28h0M-6 -114h0M-58 62h0M-3 -104h0M111 118h0M-16 -8h0M-61 100h0M62 21h0M188 5h0M12 -95h0M-16 -40h0M188 17h0M11 -4h0M66 138h0M67 11h0M-8 -1h0M61 56h0M9 2h0M169 7h0M176 22h0M162 15h0M182 -46h0M78 91h0M79 131h0M146 -3h0M94 126h0M176 13h0M10 -121h0M-13 -67h0M-65 77h0M88 83h0M-21 -22h0M60 66h0M-72 74h0M157 -15h0M98 144h0M151 19h0M110 123h0M116 99h0M-19 -100h0M82 96h0M-12 -92h0M76 128h0M52 59h0M9 -24h0M188 -15h0M85 10h0M19 -123h0M20 -109h0M46 12h0M78 128h0M153 -6h0M182 -44h0M78 13h0M-74 -17h0M-26 -1h0M117 117h0M-22 -43h0M97 138h0M-9 -112h0M67 16h0M169 -15h0M80 88h0M-18 -93h0M-81 -26h0M184 -37h0M64 125h0M56 95h0M201 8h0M-15 -62h0M170 -38h0M174 -48h0M-9 -103h0M40 18h0M1 -116h0M56 94h0M116 130h0M88 148h0M12 -130h0M0 -105h0M167 -5h0M-41 -11h0M103 130h0M81 24h0M-66 97h0M65 22h0M-51 -18h0M-9 -101h0M79 84h0M-64 56h0M-52 82h0M116 15h0M-2 -6h0M174 -4h0M112 18h0M165 -26h0M141 17h0M10 -91h0M114 126h0M178 -50h0M-70 101h0M4 -121h0M154 -14h0M178 -2h0M58 86h0M-56 60h0M18 -39h0M-60 -12h0M0 -102h0M196 21h0M-73 67h0M28 16h0M84 136h0M30 -36h0M192 -15h0M-79 80h0M61 107h0M55 50h0M181 -22h0M0 -121h0M177 0h0M177 -9h0M-58 89h0M93 115h0M-85 -13h0M-4 -119h0M174 -28h0M56 15h0M64 19h0M52 32h0M7 -124h0M104 107h0M177 -13h0M123 128h0M151 -19h0M57 112h0M1 0h0M178 26h0M50 32h0M25 -102h0M-17 -19h0M131 120h0M121 103h0M56 24h0M1 -126h0M-16 -61h0M18 -101h0M-44 -18h0M109 94h0M-69 98h0M-53 -10h0M-60 71h0M184 -39h0M105 103h0M51 38h0M65 99h0M196 20h0M172 6h0M-24 -7h0M55 75h0M92 131h0M80 16h0M90 86h0M147 11h0M103 114h0M75 107h0M90 21h0M86 96h0M152 -19h0M-71 100h0M-17 -73h0M173 2h0M87 120h0M196 -26h0M16 -110h0M48 54h0M89 152h0M3 -8h0M-18 -67h0M14 1h0M89 20h0M176 -2h0M60 55h0M95 108h0M141 5h0M17 4h0M6 -94h0M-13 -4h0M27 -105h0M198 -24h0M60 135h0M195 21h0M85 146h0M49 108h0M6 -27h0M80 20h0M97 107h0M131 123h0M187 -35h0M164 3h0M189 43h0M199 30h0M145 -27h0M136 -14h0M134 25h0M79 160h0M50 135h0M75 162h0M124 96h0M7 -86h0M4 -85h0M13 -82h0M-56 107h0M-72 50h0M-97 -20h0M-84 -5h0M22 -16h0M214 36h0M218 -2h0M138 110h0M126 142h0M18 -145h0M13 -143h0" stroke="#e84834"/><path d="M-2 -17h0M-46 -15h0M-78 -22h0M23 -2h0M119 120h0M94 89h0M6 -28h0M108 116h0M90 113h0M172 -24h0M-44 -14h0M-65 99h0M82 134h0M-21 -72h0M-58 79h0M-13 -17h0M72 118h0M-35 -1h0M66 92h0M66 141h0M154 23h0M52 40h0M134 120h0M-72 95h0M-14 -46h0M160 -39h0M116 134h0M190 28h0M121 118h0M123 108h0M107 123h0M15 -26h0M118 20h0M-12 -54h0" stroke="#b7a898"/><path d="M145 -6h0M134 13h0M43 10h0M56 18h0M-62 84h0M70 101h0M59 102h0M-72 83h0M31 2h0M94 120h0M-68 -14h0M122 12h0M88 110h0M70 128h0M88 12h0M84 14h0M-14 -11h0M178 -6h0M21 12h0M-54 87h0M166 -49h0M180 21h0M100 111h0M165 9h0M-43 9h0M89 22h0M173 -10h0M24 8h0M107 11h0M60 24h0M5 -8h0M78 120h0M-20 -58h0M169 12h0M58 120h0M60 136h0M-77 88h0M62 64h0M178 -23h0M12 8h0M64 10h0M-82 -25h0M172 11h0M103 94h0M115 117h0M175 -20h0M-8 -120h0M-8 -125h0M212 7h0M46 134h0M-28 -103h0M-68 35h0M221 51h0M25 -138h0" stroke="#d58d7a"/><path d="M190 -19h0M6 -120h0M138 20h0M74 140h0M173 -28h0M35 11h0M150 -6h0M127 12h0M-78 84h0M24 6h0M94 124h0M184 -6h0M-8 -12h0M-63 68h0M72 9h0M-60 85h0M21 -120h0M56 60h0M-35 -14h0M-60 61h0M51 66h0M-49 25h0M198 16h0M170 4h0M192 16h0M118 13h0M-4 -12h0M178 19h0M66 108h0M56 118h0M88 123h0M-21 -71h0M59 52h0M62 111h0M53 105h0M-10 2h0M176 22h0M174 13h0M-54 89h0M-22 -2h0M164 8h0M182 -16h0M-17 -36h0M-6 -10h0M151 25h0M114 119h0M163 -34h0M-74 83h0M57 68h0M106 108h0M-72 -21h0M80 142h0M181 -4h0M188 -28h0M-43 10h0M4 -21h0M12 1h0M-52 58h0M58 116h0M122 122h0M-37 0h0M-16 -35h0M196 -1h0M66 131h0M-19 -78h0M78 152h0M-1 5h0M-13 -6h0M78 104h0M105 141h0M-50 68h0M106 130h0M99 17h0M3 -129h0M93 127h0M84 104h0M57 50h0M190 -10h0M84 150h0M177 3h0M44 26h0M168 -24h0M90 118h0M182 1h0M78 116h0M-18 -28h0M-67 82h0M61 123h0M111 104h0M63 91h0M-11 -54h0M192 6h0M203 -1h0M-62 81h0M170 22h0M23 -115h0M90 154h0M64 85h0M-57 86h0M130 124h0M6 -21h0M164 4h0M100 108h0M137 8h0M-90 -27h0M140 10h0M111 98h0M-58 94h0M3 -25h0M102 128h0M100 103h0M22 0h0M84 148h0M169 27h0M192 23h0M55 96h0M208 11h0M200 33h0M118 144h0M126 99h0M45 90h0M96 159h0M109 82h0M215 7h0" stroke="#76c5ca"/><path d="M180 2h0M135 126h0M47 11h0M-5 -100h0M171 -54h0M-19 -91h0M63 107h0M-3 -114h0M87 140h0M18 -1h0M2 -107h0M56 41h0M168 -38h0M-10 -110h0M60 125h0M178 -11h0M30 6h0M6 -133h0M120 19h0M170 -20h0M-73 -24h0M156 -22h0M61 12h0M204 -9h0M-3 -124h0M176 0h0M56 44h0M51 38h0M161 -42h0M-22 -33h0M136 5h0M58 32h0M161 -30h0M134 118h0M190 12h0M156 -47h0M209 -16h0M152 -41h0M-37 21h0M11 -12h0M210 30h0" stroke="#e17a64"/><path d="M-53 63h0M-20 -14h0M14 -35h0M-72 -18h0M116 105h0M-48 22h0M196 2h0M20 -41h0M-60 46h0M-64 48h0M3 -17h0M64 54h0M16 12h0M-12 -2h0M-22 -72h0M30 -28h0" stroke="#a3b3a7"/><path d="M59 80h0M173 30h0M27 5h0M172 42h0" stroke="#8ebcb8"/><path d="M159 -38h0M-21 -105h0M4 -112h0M11 -102h0M6 -109h0M156 -28h0M91 12h0M56 110h0M230 1h0" stroke="#e8563e"/></g>
<text x="293.7" y="529.55" font-size="3" text-anchor="end" font-weight="bold" fill="#3a3a3a">1.0</text>
<text x="293.7" y="546.7" font-size="3" text-anchor="end" font-weight="bold" fill="#3a3a3a">0.5</text>
<text x="293.7" y="563.85" font-size="3" text-anchor="end" font-weight="bold" fill="#3a3a3a">0.0</text>
<text x="293.7" y="581" font-size="3" text-anchor="end" font-weight="bold" fill="#3a3a3a">−0.5</text>
<text x="293.7" y="598.15" font-size="3" text-anchor="end" font-weight="bold" fill="#3a3a3a">−1.0</text>
<text x="321.1" y="609" font-size="3" text-anchor="middle" font-weight="bold" fill="#3a3a3a">0</text>
<text x="352.1" y="609" font-size="3" text-anchor="middle" font-weight="bold" fill="#3a3a3a">1</text>
<text x="383.1" y="609" font-size="3" text-anchor="middle" font-weight="bold" fill="#3a3a3a">2</text>
<text x="338.9" y="612.3" font-size="3.3" text-anchor="middle" font-weight="bold" fill="#222">Dimension 1</text>
<text x="286.4" y="562.8" font-size="3.3" text-anchor="middle" font-weight="bold" fill="#222" transform="rotate(-90 286.4 562.8)">Dimension 2</text>
<text x="294" y="520.9" font-size="4.7" font-weight="bold" fill="#222">eGFR (ml/min/1.73m2)</text>
<text x="387.9" y="541.2" font-size="4.6" font-weight="bold" fill="#222">eGFR</text>
<rect x="387.9" y="543.2" width="10.5" height="49.2" fill="url(#tc)" />
<line x1="387.9" y1="555.2" x2="390" y2="555.2" stroke="#fff" stroke-width="0.6" />
<line x1="396.3" y1="555.2" x2="398.4" y2="555.2" stroke="#fff" stroke-width="0.6" />
<text x="400.6" y="556.7" font-size="4.3" font-weight="bold" fill="#222">110</text>
<line x1="387.9" y1="567.6" x2="390" y2="567.6" stroke="#fff" stroke-width="0.6" />
<line x1="396.3" y1="567.6" x2="398.4" y2="567.6" stroke="#fff" stroke-width="0.6" />
<text x="400.6" y="569.1" font-size="4.3" font-weight="bold" fill="#222">100</text>
<line x1="387.9" y1="579.8" x2="390" y2="579.8" stroke="#fff" stroke-width="0.6" />
<line x1="396.3" y1="579.8" x2="398.4" y2="579.8" stroke="#fff" stroke-width="0.6" />
<text x="400.6" y="581.3" font-size="4.3" font-weight="bold" fill="#222">90</text>
<line x1="443" y1="522.9" x2="443" y2="605.3" stroke="#e6e6e6" stroke-width="0.8" />
<line x1="459" y1="522.9" x2="459" y2="605.3" stroke="#dedede" stroke-width="1.1" />
<line x1="475" y1="522.9" x2="475" y2="605.3" stroke="#e6e6e6" stroke-width="0.8" />
<line x1="491" y1="522.9" x2="491" y2="605.3" stroke="#dedede" stroke-width="1.1" />
<line x1="507" y1="522.9" x2="507" y2="605.3" stroke="#e6e6e6" stroke-width="0.8" />
<line x1="523" y1="522.9" x2="523" y2="605.3" stroke="#dedede" stroke-width="1.1" />
<line x1="431.9" y1="528.5" x2="524" y2="528.5" stroke="#dedede" stroke-width="1.1" />
<line x1="431.9" y1="537.07" x2="524" y2="537.07" stroke="#e6e6e6" stroke-width="0.8" />
<line x1="431.9" y1="545.65" x2="524" y2="545.65" stroke="#dedede" stroke-width="1.1" />
<line x1="431.9" y1="554.22" x2="524" y2="554.22" stroke="#e6e6e6" stroke-width="0.8" />
<line x1="431.9" y1="562.8" x2="524" y2="562.8" stroke="#dedede" stroke-width="1.1" />
<line x1="431.9" y1="571.38" x2="524" y2="571.38" stroke="#e6e6e6" stroke-width="0.8" />
<line x1="431.9" y1="579.95" x2="524" y2="579.95" stroke="#dedede" stroke-width="1.1" />
<line x1="431.9" y1="588.52" x2="524" y2="588.52" stroke="#e6e6e6" stroke-width="0.8" />
<line x1="431.9" y1="597.1" x2="524" y2="597.1" stroke="#dedede" stroke-width="1.1" />
<line x1="431.9" y1="605.67" x2="524" y2="605.67" stroke="#e6e6e6" stroke-width="0.8" />
<g transform="translate(459 562.8) scale(1.03 1)"><use href="#rT" fill="#e85d43" stroke="#e85d43" opacity="0.75"/><use href="#rS" fill="#cf9684" stroke="#cf9684" opacity="0.75"/><use href="#rL" fill="#b9a898" stroke="#b9a898" opacity="0.75"/><use href="#rU" fill="#c99f8f" stroke="#c99f8f" opacity="0.75"/><use href="#rLL" fill="#b9a898" stroke="#b9a898" opacity="0.75"/><use href="#rC" fill="#dc846f" stroke="#dc846f" opacity="0.75"/><use href="#rR" fill="#e76249" stroke="#e76249" opacity="0.75"/><use href="#rB" fill="#d68c78" stroke="#d68c78" opacity="0.75"/><use href="#rLB" fill="#dc846f" stroke="#dc846f" opacity="0.75"/></g><g transform="translate(459 562.8) scale(0.26 0.25)" stroke-width="9.2" stroke-linecap="round"><path d="M-22 -44h0M23 -2h0M-78 84h0M132 114h0M-25 -10h0M-5 -8h0M-16 -40h0M-45 -18h0M118 13h0M-61 100h0M62 111h0M-71 75h0M88 83h0M-14 -11h0M178 -6h0M116 99h0M99 108h0M76 128h0M-54 87h0M-20 -10h0M141 17h0M78 104h0M-12 -76h0M106 130h0M106 103h0M61 127h0M58 86h0M123 128h0M18 -28h0M107 123h0M15 -26h0M-13 -4h0M158 24h0M190 12h0M145 -27h0M126 99h0M69 160h0M-56 107h0M-50 101h0" stroke="#b7a898"/><path d="M178 27h0M74 128h0M105 98h0M6 -120h0M138 20h0M-20 -14h0M127 12h0M176 -5h0M82 129h0M170 -39h0M70 101h0M-21 -72h0M127 15h0M61 37h0M-35 -14h0M-21 -20h0M12 -104h0M92 111h0M51 66h0M107 16h0M-40 -16h0M94 120h0M184 3h0M-68 -14h0M-49 25h0M24 -28h0M56 19h0M-14 -11h0M63 107h0M66 108h0M-16 -40h0M9 2h0M82 154h0M82 134h0M66 73h0M56 15h0M-65 77h0M-21 -22h0M154 18h0M10 -30h0M157 -15h0M78 110h0M98 144h0M110 123h0M56 41h0M-6 -10h0M9 -24h0M6 -17h0M-65 104h0M115 123h0M-53 78h0M2 -12h0M80 142h0M169 -15h0M174 -23h0M-81 -26h0M107 11h0M-15 -62h0M40 18h0M172 -29h0M-19 -74h0M66 131h0M116 14h0M-64 -12h0M-13 -6h0M112 18h0M92 135h0M-63 -18h0M84 104h0M-47 28h0M57 50h0M-14 -46h0M84 136h0M3 -17h0M-79 80h0M138 13h0M61 123h0M-11 -54h0M-66 56h0M57 112h0M-24 -4h0M112 135h0M122 18h0M-82 -25h0M56 24h0M51 38h0M109 94h0M6 -21h0M-24 -7h0M64 78h0M137 19h0M94 93h0M173 2h0M88 94h0M-20 -31h0M16 12h0M-8 -120h0M22 0h0M-15 -118h0M60 135h0M55 96h0M80 20h0M64 98h0M164 3h0M135 -9h0M104 153h0M146 117h0M4 -85h0M-64 109h0M-72 50h0M-80 -40h0" stroke="#76c5ca"/><path d="M-53 58h0M59 102h0M59 80h0M88 93h0M-22 -32h0M28 15h0M14 -35h0M110 96h0M-47 -9h0M71 102h0M56 46h0M-46 13h0M14 -37h0M-54 89h0M182 -16h0M63 127h0M92 146h0M39 18h0M27 5h0M75 114h0M56 95h0M174 -48h0M63 98h0M46 41h0M-19 -78h0M-41 -11h0M8 -132h0M79 84h0M30 6h0M105 141h0M40 15h0M58 120h0M-73 67h0M55 50h0M181 -22h0M65 74h0M-22 -80h0M74 13h0M-74 97h0M-53 -10h0M51 38h0M-64 78h0M87 120h0M196 -26h0M48 54h0M49 60h0M8 -24h0M102 118h0M-22 -72h0M187 -48h0" stroke="#c8a090"/><path d="M10 -124h0M145 -6h0M-65 -14h0M16 -120h0M-84 -11h0M180 2h0M-16 -4h0M162 -7h0M56 18h0M173 -28h0M-18 -93h0M-53 63h0M188 4h0M86 122h0M62 18h0M-62 84h0M150 -6h0M-19 -24h0M-17 -113h0M168 -9h0M184 -16h0M-60 81h0M53 58h0M14 -106h0M159 -16h0M-8 -114h0M79 10h0M135 126h0M24 6h0M71 134h0M94 124h0M186 28h0M47 11h0M136 127h0M-8 -12h0M148 8h0M91 140h0M7 -101h0M154 -9h0M-60 61h0M-63 44h0M-22 -42h0M-5 -100h0M14 -110h0M90 113h0M-80 -17h0M120 20h0M168 5h0M-72 -18h0M171 -54h0M-65 72h0M-19 -91h0M-6 -8h0M198 16h0M-16 -10h0M170 4h0M60 58h0M159 -38h0M-6 -114h0M192 16h0M73 150h0M44 12h0M76 138h0M-3 -104h0M111 118h0M12 -95h0M25 8h0M88 123h0M188 17h0M11 -4h0M66 138h0M70 128h0M59 52h0M182 -46h0M4 -112h0M146 -3h0M94 126h0M10 -121h0M176 22h0M163 -22h0M-13 -67h0M88 108h0M174 13h0M60 66h0M173 -31h0M-21 -72h0M182 -19h0M-72 74h0M177 -24h0M180 -42h0M151 25h0M174 -14h0M163 -34h0M-11 -99h0M180 21h0M46 12h0M57 68h0M168 -38h0M153 -6h0M69 82h0M78 13h0M-13 -17h0M-74 -17h0M117 117h0M165 9h0M55 68h0M166 19h0M181 -4h0M188 -28h0M-43 10h0M12 1h0M58 116h0M-13 -70h0M-18 -93h0M-16 -35h0M64 125h0M20 -23h0M19 -119h0M170 -38h0M86 85h0M-9 -103h0M56 108h0M56 94h0M-57 61h0M167 -5h0M186 0h0M72 118h0M199 -2h0M78 152h0M103 130h0M-35 -1h0M-51 -18h0M61 118h0M-1 5h0M84 99h0M146 -8h0M148 16h0M81 82h0M192 18h0M-64 56h0M105 126h0M178 2h0M6 -133h0M165 -26h0M10 -91h0M194 -20h0M70 102h0M114 126h0M80 24h0M27 -26h0M60 136h0M189 22h0M93 127h0M178 -50h0M4 -121h0M134 120h0M154 -14h0M-2 -98h0M-77 88h0M-72 95h0M62 32h0M190 -10h0M44 26h0M182 8h0M182 1h0M0 -102h0M30 -36h0M62 64h0M52 52h0M160 -39h0M47 36h0M111 104h0M93 115h0M61 12h0M166 8h0M178 -23h0M78 138h0M67 84h0M156 7h0M202 4h0M63 91h0M-4 -119h0M56 15h0M62 63h0M64 19h0M52 32h0M126 8h0M-3 -124h0M-9 -3h0M192 6h0M151 -19h0M1 0h0M50 32h0M11 7h0M25 -102h0M123 108h0M123 16h0M164 4h0M23 -115h0M131 120h0M-39 -4h0M63 140h0M-82 -28h0M0 -132h0M64 54h0M18 -101h0M130 124h0M90 16h0M103 94h0M196 20h0M62 119h0M19 12h0M118 20h0M-3 -21h0M-83 -12h0M-26 -2h0M86 96h0M152 -19h0M196 5h0M115 117h0M-71 100h0M-14 -111h0M174 -13h0M161 -42h0M-12 -2h0M111 98h0M-22 -33h0M136 5h0M96 12h0M-18 -67h0M-56 56h0M89 20h0M169 -40h0M95 108h0M141 5h0M94 14h0M17 4h0M28 -34h0M6 -94h0M27 -105h0M192 23h0M195 21h0M85 146h0M-8 -125h0M162 6h0M-34 2h0M49 108h0M21 -122h0M56 110h0M187 -35h0M189 43h0M199 30h0M209 -16h0M205 -26h0M172 42h0M141 -21h0M162 -58h0M176 -63h0M71 160h0M50 135h0M101 160h0M75 162h0M135 138h0M96 159h0M124 96h0M109 82h0M13 -82h0M12 -140h0M25 -91h0M0 -138h0M22 -16h0M11 -12h0M238 6h0M230 1h0M210 30h0M145 123h0M100 163h0M126 142h0M18 -145h0" stroke="#e84834"/><path d="M160 24h0M-2 -17h0M61 44h0M71 133h0M8 -93h0M36 16h0M-78 -22h0M93 14h0M71 129h0M112 131h0M21 -124h0M72 9h0M-84 -26h0M-79 -12h0M168 -52h0M164 -26h0M68 105h0M-76 -17h0M90 89h0M-42 18h0M-51 20h0M-71 88h0M75 95h0M85 98h0M-58 62h0M-4 -12h0M-3 -114h0M94 141h0M10 -106h0M94 133h0M169 7h0M78 91h0M-1 -94h0M88 12h0M124 105h0M-37 2h0M-18 -2h0M58 20h0M151 19h0M52 59h0M-62 75h0M5 -128h0M106 108h0M-72 -21h0M51 24h0M-22 -43h0M-43 9h0M63 68h0M-52 58h0M-48 22h0M177 18h0M68 82h0M196 -1h0M142 22h0M116 130h0M88 148h0M78 120h0M65 22h0M-56 22h0M-66 104h0M-52 82h0M51 68h0M151 20h0M75 97h0M112 103h0M76 146h0M-70 101h0M-73 -24h0M59 99h0M-73 82h0M-56 60h0M18 -39h0M84 104h0M78 116h0M-67 82h0M-58 89h0M116 134h0M137 20h0M12 8h0M-30 -1h0M-51 -14h0M64 10h0M178 26h0M-17 -19h0M92 126h0M-44 -18h0M60 70h0M104 19h0M58 132h0M2 -20h0M80 16h0M100 108h0M147 11h0M82 132h0M175 -20h0M172 14h0M-8 -108h0M7 -102h0M-58 94h0M92 22h0M60 55h0M164 -1h0M6 -27h0M-26 -6h0M-68 79h0M208 11h0M200 33h0M51 84h0M46 134h0M79 160h0M116 146h0M-37 21h0M-26 5h0M-68 35h0M-84 -5h0M7 -43h0" stroke="#72c6d0"/><path d="M129 124h0M125 16h0M195 -6h0M24 -100h0M72 83h0M170 11h0M108 22h0M-71 66h0M74 140h0M119 120h0M0 -101h0M198 9h0M106 133h0M50 112h0M96 99h0M6 -28h0M137 124h0M184 -6h0M177 -9h0M-63 68h0M-12 -116h0M175 -36h0M117 9h0M50 9h0M-60 85h0M111 129h0M21 -120h0M56 60h0M6 -122h0M85 11h0M-73 -21h0M186 -4h0M-67 -20h0M183 -7h0M31 2h0M151 21h0M150 -18h0M0 -104h0M153 -20h0M196 3h0M-54 35h0M172 -24h0M112 16h0M54 30h0M11 -116h0M60 68h0M88 110h0M62 21h0M188 5h0M56 118h0M67 11h0M-8 -1h0M87 140h0M61 56h0M194 -10h0M53 105h0M79 131h0M176 13h0M186 -27h0M166 4h0M-10 2h0M166 -30h0M55 73h0M11 -102h0M116 105h0M-22 -2h0M164 8h0M18 -1h0M84 14h0M142 10h0M78 100h0M-58 79h0M181 -3h0M-19 -100h0M114 119h0M82 96h0M74 108h0M21 12h0M48 7h0M188 -15h0M85 10h0M100 111h0M19 -104h0M78 128h0M6 -8h0M60 125h0M67 16h0M173 30h0M119 124h0M4 -21h0M80 88h0M-37 0h0M12 -1h0M184 -37h0M60 24h0M201 8h0M1 -116h0M101 8h0M21 -113h0M196 2h0M12 -130h0M0 -105h0M116 107h0M63 54h0M14 -102h0M-66 97h0M-16 2h0M20 -41h0M29 -37h0M194 20h0M-9 -101h0M-20 -58h0M178 -11h0M66 141h0M116 15h0M174 -4h0M110 135h0M169 12h0M-50 68h0M104 139h0M6 -136h0M49 122h0M99 17h0M154 23h0M3 -129h0M27 -104h0M52 40h0M170 -20h0M26 -28h0M191 -30h0M178 -2h0M84 150h0M177 3h0M90 118h0M3 -105h0M198 -7h0M162 20h0M156 -22h0M25 6h0M-60 -12h0M196 21h0M-18 -28h0M6 0h0M192 -15h0M184 -31h0M0 -12h0M177 0h0M177 -9h0M204 -9h0M84 138h0M-85 -13h0M0 -10h0M190 28h0M104 107h0M177 -13h0M76 98h0M171 23h0M203 -1h0M121 118h0M170 22h0M90 154h0M121 103h0M1 -126h0M64 85h0M-16 -61h0M-57 86h0M84 95h0M184 14h0M0 -128h0M-60 71h0M-6 -112h0M184 -39h0M105 103h0M188 -19h0M65 99h0M172 6h0M193 -21h0M55 75h0M164 4h0M92 131h0M188 33h0M-13 5h0M75 107h0M33 -36h0M9 -101h0M-90 -27h0M-17 -73h0M-54 28h0M16 -110h0M188 9h0M19 -110h0M89 152h0M3 -8h0M14 1h0M176 -2h0M-12 -2h0M102 128h0M167 -18h0M100 103h0M-1 -117h0M84 148h0M169 27h0M198 -24h0M53 47h0M134 118h0M30 -28h0M6 6h0M97 107h0M131 123h0M-14 -29h0M134 26h0M136 -14h0M152 -41h0M134 25h0M118 144h0M78 73h0M45 90h0M110 84h0M62 148h0M33 -103h0M-45 60h0M-74 -6h0M224 -7h0M214 36h0M216 -18h0M211 46h0M202 45h0M215 7h0M218 -2h0M134 130h0M25 -138h0M13 -143h0" stroke="#e8392a"/><path d="M-46 -15h0M-44 12h0M117 116h0M-89 -18h0M-67 95h0M-44 -14h0M-45 -17h0M-48 18h0M-76 97h0M0 5h0M122 122h0M67 14h0M-78 91h0M-69 98h0M57 58h0M140 10h0M88 113h0" stroke="#a3b3a7"/><path d="M182 -28h0M190 -19h0M48 53h0M163 23h0M84 114h0M146 -6h0M175 -17h0M178 19h0M-21 -71h0M176 22h0M162 15h0M-65 99h0M-20 -28h0M109 126h0M2 -107h0M-10 -110h0M6 -109h0M97 138h0M9 -115h0M-16 -75h0M66 92h0M15 -105h0M17 9h0M168 -24h0M0 -121h0M7 -124h0M56 44h0M-62 81h0M90 86h0M90 21h0M156 -47h0M212 7h0M7 -86h0" stroke="#e17a64"/><path d="M-11 -116h0M177 -43h0M144 -1h0M151 17h0M166 -49h0M19 -123h0M28 2h0M81 24h0M174 -28h0M176 0h0M-16 -11h0M166 15h0" stroke="#e8563e"/><path d="M90 10h0M10 -112h0M94 89h0M22 -3h0M189 -32h0M195 -17h0M122 12h0M-12 -92h0M20 -109h0M-9 -112h0M173 -10h0M-18 -35h0M-2 -6h0M120 19h0M2 -102h0M76 154h0M164 -25h0M-5 -122h0M210 11h0M163 -59h0M32 -100h0M224 22h0M221 51h0M10 -142h0" stroke="#e5674f"/><path d="M134 13h0M66 98h0M43 10h0M168 26h0M35 11h0M108 116h0M94 107h0M158 0h0M-16 -8h0M172 -22h0M-21 -105h0M66 72h0M-17 -36h0M5 -128h0M158 12h0M182 -44h0M-26 -1h0M156 -28h0M3 8h0M24 8h0M5 -8h0M-8 1h0M172 -28h0M28 16h0M61 107h0M174 -28h0M91 12h0M28 11h0M172 11h0M181 -11h0M103 114h0M137 8h0M58 32h0M161 -30h0M128 96h0M-28 -103h0M-97 -20h0M138 110h0M84 165h0" stroke="#d58d7a"/><path d="M-61 66h0M-72 83h0M-77 -26h0M-62 70h0M-74 83h0M-85 -21h0M-60 46h0M-64 48h0M3 -25h0" stroke="#8ebcb8"/><path d="M89 22h0M-12 -54h0" stroke="#7dc3c4"/></g>
<text x="430.9" y="529.55" font-size="3" text-anchor="end" font-weight="bold" fill="#3a3a3a">1.0</text>
<text x="430.9" y="546.7" font-size="3" text-anchor="end" font-weight="bold" fill="#3a3a3a">0.5</text>
<text x="430.9" y="563.85" font-size="3" text-anchor="end" font-weight="bold" fill="#3a3a3a">0.0</text>
<text x="430.9" y="581" font-size="3" text-anchor="end" font-weight="bold" fill="#3a3a3a">−0.5</text>
<text x="430.9" y="598.15" font-size="3" text-anchor="end" font-weight="bold" fill="#3a3a3a">−1.0</text>
<text x="459" y="609" font-size="3" text-anchor="middle" font-weight="bold" fill="#3a3a3a">0</text>
<text x="491" y="609" font-size="3" text-anchor="middle" font-weight="bold" fill="#3a3a3a">1</text>
<text x="523" y="609" font-size="3" text-anchor="middle" font-weight="bold" fill="#3a3a3a">2</text>
<text x="477.45" y="612.3" font-size="3.3" text-anchor="middle" font-weight="bold" fill="#222">Dimension 1</text>
<text x="423.6" y="562.8" font-size="3.3" text-anchor="middle" font-weight="bold" fill="#222" transform="rotate(-90 423.6 562.8)">Dimension 2</text>
<text x="431.4" y="520.9" font-size="4.7" font-weight="bold" fill="#222">AST/ALT Ratio</text>
<text x="528" y="541.2" font-size="4.6" font-weight="bold" fill="#222">AST/ALT</text>
<rect x="528" y="543.2" width="10.5" height="49.2" fill="url(#tc)" />
<line x1="528" y1="555.2" x2="530.1" y2="555.2" stroke="#fff" stroke-width="0.6" />
<line x1="536.4" y1="555.2" x2="538.5" y2="555.2" stroke="#fff" stroke-width="0.6" />
<text x="540.7" y="556.7" font-size="4.3" font-weight="bold" fill="#222">1.25</text>
<line x1="528" y1="567.6" x2="530.1" y2="567.6" stroke="#fff" stroke-width="0.6" />
<line x1="536.4" y1="567.6" x2="538.5" y2="567.6" stroke="#fff" stroke-width="0.6" />
<text x="540.7" y="569.1" font-size="4.3" font-weight="bold" fill="#222">1.00</text>
<line x1="528" y1="579.8" x2="530.1" y2="579.8" stroke="#fff" stroke-width="0.6" />
<line x1="536.4" y1="579.8" x2="538.5" y2="579.8" stroke="#fff" stroke-width="0.6" />
<text x="540.7" y="581.3" font-size="4.3" font-weight="bold" fill="#222">0.75</text>
<line x1="576.75" y1="522.9" x2="576.75" y2="605.3" stroke="#e6e6e6" stroke-width="0.8" />
<line x1="592.4" y1="522.9" x2="592.4" y2="605.3" stroke="#dedede" stroke-width="1.1" />
<line x1="608.05" y1="522.9" x2="608.05" y2="605.3" stroke="#e6e6e6" stroke-width="0.8" />
<line x1="623.7" y1="522.9" x2="623.7" y2="605.3" stroke="#dedede" stroke-width="1.1" />
<line x1="639.35" y1="522.9" x2="639.35" y2="605.3" stroke="#e6e6e6" stroke-width="0.8" />
<line x1="655" y1="522.9" x2="655" y2="605.3" stroke="#dedede" stroke-width="1.1" />
<line x1="566.9" y1="528.5" x2="655.6" y2="528.5" stroke="#dedede" stroke-width="1.1" />
<line x1="566.9" y1="537.07" x2="655.6" y2="537.07" stroke="#e6e6e6" stroke-width="0.8" />
<line x1="566.9" y1="545.65" x2="655.6" y2="545.65" stroke="#dedede" stroke-width="1.1" />
<line x1="566.9" y1="554.22" x2="655.6" y2="554.22" stroke="#e6e6e6" stroke-width="0.8" />
<line x1="566.9" y1="562.8" x2="655.6" y2="562.8" stroke="#dedede" stroke-width="1.1" />
<line x1="566.9" y1="571.38" x2="655.6" y2="571.38" stroke="#e6e6e6" stroke-width="0.8" />
<line x1="566.9" y1="579.95" x2="655.6" y2="579.95" stroke="#dedede" stroke-width="1.1" />
<line x1="566.9" y1="588.52" x2="655.6" y2="588.52" stroke="#e6e6e6" stroke-width="0.8" />
<line x1="566.9" y1="597.1" x2="655.6" y2="597.1" stroke="#dedede" stroke-width="1.1" />
<line x1="566.9" y1="605.67" x2="655.6" y2="605.67" stroke="#e6e6e6" stroke-width="0.8" />
<g transform="translate(592.4 562.8) scale(1.01 1)"><use href="#rT" fill="#95b9b3" stroke="#95b9b3" opacity="0.75"/><use href="#rS" fill="#8ebcb8" stroke="#8ebcb8" opacity="0.75"/><use href="#rL" fill="#8ebcb8" stroke="#8ebcb8" opacity="0.75"/><use href="#rU" fill="#95b9b3" stroke="#95b9b3" opacity="0.75"/><use href="#rLL" fill="#91bbb6" stroke="#91bbb6" opacity="0.75"/><use href="#rC" fill="#c0a494" stroke="#c0a494" opacity="0.75"/><use href="#rR" fill="#cc9a89" stroke="#cc9a89" opacity="0.75"/><use href="#rB" fill="#e17963" stroke="#e17963" opacity="0.75"/><use href="#rLB" fill="#c0a494" stroke="#c0a494" opacity="0.75"/></g><g transform="translate(592.4 562.8) scale(0.25 0.25)" stroke-width="9.2" stroke-linecap="round"><path d="M-22 -44h0M-53 58h0M-61 66h0M-18 -93h0M0 -101h0M168 -9h0M-25 -10h0M137 124h0M175 -36h0M117 9h0M0 -104h0M168 5h0M-54 35h0M146 -6h0M198 16h0M24 -28h0M-58 62h0M-4 -12h0M62 21h0M178 19h0M67 11h0M-21 -71h0M-76 97h0M58 20h0M177 -24h0M-17 -36h0M63 127h0M-74 83h0M5 -128h0M180 21h0M20 -109h0M57 68h0M69 82h0M-72 -21h0M12 1h0M-52 58h0M24 8h0M170 -38h0M1 -116h0M172 -29h0M12 -130h0M5 -8h0M78 120h0M-41 -11h0M81 24h0M-66 97h0M-16 2h0M65 22h0M-64 56h0M178 -11h0M49 122h0M27 -26h0M189 22h0M178 -50h0M62 32h0M-64 48h0M61 123h0M166 8h0M52 32h0M12 8h0M176 0h0M-74 97h0M172 11h0M1 -126h0M0 -132h0M64 54h0M2 -20h0M57 58h0M193 -21h0M19 12h0M173 2h0M-22 -33h0M136 5h0M14 1h0M176 -2h0M141 5h0M55 96h0M-14 -29h0M212 7h0M51 84h0M7 -43h0M214 36h0M211 46h0M215 7h0" stroke="#b7a898"/><path d="M178 27h0M129 124h0M190 -19h0M71 133h0M90 10h0M170 11h0M36 16h0M56 18h0M188 4h0M86 122h0M-19 -24h0M135 126h0M96 99h0M94 124h0M112 131h0M117 116h0M177 -43h0M-60 85h0M-63 44h0M92 111h0M94 120h0M110 96h0M90 113h0M-51 20h0M196 3h0M75 95h0M172 -24h0M60 58h0M112 16h0M73 150h0M63 107h0M158 0h0M56 118h0M61 56h0M82 154h0M162 15h0M53 105h0M79 131h0M-20 -28h0M109 126h0M-45 -17h0M82 134h0M186 -27h0M88 12h0M174 13h0M88 83h0M164 8h0M-72 74h0M78 100h0M78 110h0M110 123h0M52 59h0M188 -15h0M46 12h0M92 146h0M115 123h0M100 111h0M153 -6h0M78 13h0M60 125h0M117 117h0M80 142h0M63 68h0M75 114h0M184 -37h0M107 11h0M56 95h0M28 2h0M-15 -62h0M86 85h0M56 108h0M101 8h0M116 130h0M88 148h0M167 -5h0M116 14h0M72 118h0M61 118h0M112 18h0M-60 46h0M105 141h0M92 135h0M-63 -18h0M174 -28h0M60 136h0M134 120h0M26 -28h0M177 3h0M-56 60h0M30 -36h0M184 -31h0M177 -9h0M111 104h0M93 115h0M61 12h0M67 84h0M202 4h0M64 19h0M104 107h0M-9 -3h0M203 -1h0M92 126h0M112 135h0M121 103h0M84 95h0M0 -128h0M130 124h0M51 38h0M196 20h0M100 108h0M118 20h0M90 86h0M103 114h0M33 -36h0M86 96h0M87 120h0M49 60h0M19 -110h0M95 108h0M102 128h0M167 -18h0M-8 -120h0M169 27h0M102 118h0M85 146h0M162 6h0M80 20h0M64 98h0M-26 -6h0M97 107h0M164 3h0M135 -9h0M205 -26h0M187 -48h0M210 11h0M152 -41h0M104 153h0M126 99h0M128 96h0M78 73h0M69 160h0M101 160h0M135 138h0M124 96h0M62 148h0M-64 109h0M224 22h0M134 130h0" stroke="#e84834"/><path d="M74 128h0M-11 -116h0M16 -120h0M43 10h0M-16 -4h0M10 -112h0M-78 -22h0M93 14h0M74 140h0M-62 84h0M35 11h0M-17 -113h0M-78 84h0M-60 81h0M14 -106h0M159 -16h0M50 112h0M71 129h0M24 6h0M-44 12h0M94 89h0M59 102h0M184 -6h0M22 -3h0M88 93h0M72 9h0M91 140h0M21 -120h0M-22 -32h0M195 -17h0M-72 83h0M186 -4h0M-16 -40h0M150 -18h0M-5 -100h0M14 -110h0M184 3h0M-80 -17h0M171 -54h0M-65 72h0M-19 -91h0M-16 -10h0M56 46h0M-14 -11h0M-67 95h0M54 30h0M118 13h0M111 118h0M-3 -114h0M94 141h0M66 108h0M66 138h0M182 -46h0M-77 -26h0M14 -37h0M146 -3h0M94 126h0M-48 18h0M176 13h0M11 -102h0M116 105h0M-21 -72h0M-22 -2h0M182 -19h0M18 -1h0M66 72h0M0 5h0M99 108h0M-12 -92h0M76 128h0M166 -49h0M-65 104h0M-62 75h0M19 -123h0M19 -104h0M158 12h0M-10 -110h0M-53 78h0M-26 -1h0M55 68h0M-20 -10h0M156 -28h0M173 -10h0M122 122h0M-13 -70h0M-16 -35h0M174 -48h0M40 18h0M56 94h0M196 -1h0M-18 -35h0M46 41h0M0 -105h0M63 54h0M14 -102h0M8 -132h0M29 -37h0M-66 104h0M146 -8h0M-9 -101h0M79 84h0M-20 -58h0M110 135h0M-12 -76h0M40 15h0M154 23h0M93 127h0M-77 88h0M191 -30h0M-73 -24h0M-73 82h0M90 118h0M198 -7h0M25 6h0M196 21h0M-73 67h0M6 0h0M160 -39h0M204 -9h0M78 138h0M156 7h0M126 8h0M7 -124h0M-11 -54h0M-3 -124h0M-30 -1h0M76 98h0M123 128h0M56 44h0M107 123h0M23 -115h0M131 120h0M-82 -28h0M-16 -11h0M51 38h0M60 70h0M58 132h0M15 -26h0M172 6h0M55 75h0M80 16h0M-3 -21h0M82 132h0M115 117h0M-14 -111h0M94 93h0M161 -42h0M-90 -27h0M-12 -2h0M48 54h0M188 9h0M-56 56h0M-58 94h0M3 -25h0M58 32h0M100 103h0M6 -94h0M-15 -118h0M198 -24h0M-34 2h0M158 24h0M156 -47h0M199 30h0M134 25h0M116 146h0M96 159h0M13 -82h0M33 -103h0M-37 21h0M-80 -40h0M238 6h0M218 -2h0M145 123h0M126 142h0M18 -145h0" stroke="#72c6d0"/><path d="M10 -124h0M105 98h0M-46 -15h0M125 16h0M145 -6h0M195 -6h0M-65 -14h0M8 -93h0M138 20h0M-8 -114h0M79 10h0M70 101h0M47 11h0M59 80h0M-8 -12h0M-63 68h0M127 15h0M50 9h0M111 129h0M108 116h0M56 60h0M154 -9h0M144 -1h0M-60 61h0M-73 -21h0M28 15h0M164 -26h0M107 16h0M-40 -16h0M-22 -42h0M90 89h0M-71 88h0M71 102h0M-46 13h0M-3 -104h0M188 5h0M94 133h0M87 140h0M-21 -105h0M-65 99h0M4 -112h0M-1 -94h0M-71 75h0M56 15h0M176 22h0M88 108h0M60 66h0M173 -31h0M-54 89h0M10 -30h0M2 -107h0M-6 -10h0M174 -14h0M82 96h0M21 12h0M78 128h0M168 -38h0M-22 -43h0M166 19h0M9 -115h0M-43 9h0M89 22h0M-48 22h0M-37 0h0M201 8h0M19 -119h0M-9 -103h0M68 82h0M142 22h0M199 -2h0M-35 -1h0M-51 -18h0M-56 22h0M84 99h0M81 82h0M-13 -6h0M66 92h0M151 20h0M78 104h0M15 -105h0M-50 68h0M70 102h0M6 -136h0M80 24h0M27 -104h0M4 -121h0M-2 -98h0M-72 95h0M178 -2h0M58 86h0M182 8h0M3 -105h0M162 20h0M182 1h0M18 -39h0M84 104h0M-18 -28h0M62 64h0M138 13h0M55 50h0M0 -121h0M116 134h0M84 138h0M63 91h0M62 63h0M-51 -14h0M177 -13h0M-66 56h0M-78 91h0M57 112h0M1 0h0M178 26h0M-62 81h0M170 22h0M28 11h0M56 24h0M-16 -61h0M18 -101h0M-44 -18h0M-69 98h0M104 19h0M184 -39h0M6 -21h0M164 4h0M-71 100h0M9 -101h0M-54 28h0M16 -110h0M111 98h0M7 -102h0M-18 -67h0M16 12h0M89 20h0M92 22h0M60 55h0M28 -34h0M-1 -117h0M8 -24h0M-13 -4h0M192 23h0M-8 -125h0M164 -1h0M21 -122h0M6 -27h0M187 -35h0M189 43h0M7 -86h0M12 -140h0M25 -91h0M-28 -103h0M-26 5h0M-97 -20h0M22 -16h0M230 1h0M210 30h0M100 163h0M10 -142h0M25 -138h0" stroke="#76c5ca"/><path d="M160 24h0M173 -28h0M150 -6h0M94 107h0M159 -38h0M88 123h0M169 7h0M74 108h0M6 -8h0M97 138h0M66 131h0M112 103h0M106 130h0M114 126h0M84 150h0M171 23h0M64 85h0M62 119h0M56 110h0M131 123h0M110 84h0M224 -7h0" stroke="#e17a64"/><path d="M-2 -17h0M182 -28h0M6 -120h0M66 98h0M108 22h0M127 12h0M198 9h0M82 129h0M170 -39h0M148 8h0M168 -52h0M84 114h0M31 2h0M68 105h0M120 20h0M-49 25h0M56 19h0M76 138h0M-44 -14h0M12 -95h0M172 -22h0M188 17h0M11 -4h0M70 128h0M59 52h0M62 111h0M78 91h0M166 4h0M-10 2h0M163 -22h0M166 -30h0M-13 -67h0M154 18h0M157 -15h0M84 14h0M-62 70h0M98 144h0M151 19h0M56 41h0M116 99h0M114 119h0M163 -34h0M48 7h0M6 -17h0M5 -128h0M106 108h0M165 9h0M67 16h0M173 30h0M4 -21h0M58 116h0M174 -23h0M80 88h0M3 8h0M-18 -93h0M-81 -26h0M64 125h0M177 18h0M63 98h0M116 107h0M78 152h0M194 20h0M105 126h0M51 68h0M116 15h0M-2 -6h0M30 6h0M174 -4h0M75 97h0M120 19h0M172 -28h0M58 120h0M106 103h0M3 -129h0M57 50h0M76 154h0M78 116h0M181 -22h0M65 74h0M177 0h0M-58 89h0M47 36h0M178 -23h0M137 20h0M190 28h0M64 10h0M151 -19h0M121 118h0M123 108h0M123 16h0M74 13h0M122 18h0M63 140h0M109 94h0M181 -11h0M188 -19h0M92 131h0M164 -25h0M137 19h0M152 -19h0M196 5h0M174 -13h0M3 -8h0M169 -40h0M94 14h0M17 4h0M22 0h0M84 148h0M88 113h0M134 118h0M60 135h0M195 21h0M-22 -72h0M6 6h0M190 12h0M209 -16h0M134 26h0M136 -14h0M118 144h0M79 160h0M146 117h0M71 160h0M50 135h0M45 90h0M75 162h0M32 -100h0M11 -12h0M202 45h0M13 -143h0" stroke="#e8392a"/><path d="M61 44h0M134 13h0M106 133h0M184 -16h0M-5 -8h0M163 23h0M-35 -14h0M151 21h0M153 -20h0M-42 18h0M44 12h0M25 8h0M-16 -40h0M180 -42h0M151 25h0M85 10h0M181 -4h0M-8 1h0M-1 5h0M178 2h0M-52 82h0M194 -20h0M169 12h0M104 139h0M170 -20h0M154 -14h0M59 99h0M56 15h0M192 6h0M90 154h0M103 94h0M105 103h0M-64 78h0M188 33h0M147 11h0M75 107h0M-5 -122h0M-26 -2h0M-12 -54h0M175 -20h0M196 -26h0M140 10h0M166 15h0M89 152h0M-12 -2h0M27 -105h0M53 47h0M172 42h0M4 -85h0M-50 101h0M216 -18h0" stroke="#c8a090"/><path d="M24 -100h0M180 2h0M168 26h0M62 18h0M-20 -14h0M119 120h0M53 58h0M6 -28h0M21 -124h0M-84 -26h0M183 -7h0M12 -104h0M-76 -17h0M-47 -9h0M122 12h0M-6 -114h0M-16 -8h0M10 -106h0M194 -10h0M66 73h0M-37 2h0M9 -24h0M-54 87h0M-11 -99h0M182 -44h0M169 -15h0M12 -1h0M20 -23h0M60 24h0M-16 -75h0M-19 -74h0M21 -113h0M-19 -78h0M20 -41h0M6 -133h0M141 17h0M99 17h0M-70 101h0M44 26h0M28 16h0M-79 80h0M-85 -13h0M0 -10h0M50 32h0M25 -102h0M-39 -4h0M-57 86h0M-24 -7h0M-8 -108h0M-20 -31h0M96 12h0M-72 50h0M-74 -6h0" stroke="#8ebcb8"/><path d="M-84 -11h0M-6 -8h0M11 -116h0M10 -121h0M-14 -11h0M-13 -17h0M2 -12h0M-74 -17h0M0 -12h0M11 7h0M-60 71h0M65 99h0M30 -28h0M200 33h0M-68 35h0M-84 -5h0" stroke="#7dc3c4"/><path d="M72 83h0M-53 63h0M132 114h0M136 127h0M177 -9h0M61 37h0M85 11h0M189 -32h0M85 98h0M170 4h0M88 110h0M151 17h0M182 -16h0M178 -6h0M181 -3h0M119 124h0M188 -28h0M103 130h0M66 141h0M165 -26h0M76 146h0M17 9h0M61 127h0M84 104h0M84 136h0M52 52h0M61 107h0M174 -28h0M-17 -19h0M184 14h0M64 78h0M-17 -73h0M88 94h0M49 108h0M141 -21h0M176 -63h0M138 110h0M84 165h0" stroke="#d58d7a"/><path d="M-71 66h0M162 -7h0M23 -2h0M48 53h0M176 -5h0M71 134h0M186 28h0M-21 -72h0M-12 -116h0M6 -122h0M7 -101h0M-21 -20h0M-79 -12h0M-67 -20h0M-89 -18h0M51 66h0M14 -35h0M-72 -18h0M-68 -14h0M-45 -18h0M192 16h0M175 -17h0M60 68h0M-61 100h0M-8 -1h0M9 2h0M176 22h0M55 73h0M-65 77h0M-21 -22h0M-18 -2h0M142 10h0M-58 79h0M-19 -100h0M39 18h0M6 -109h0M51 24h0M-9 -112h0M-43 10h0M27 5h0M196 2h0M-57 61h0M186 0h0M-85 -21h0M-64 -12h0M148 16h0M192 18h0M10 -91h0M52 40h0M-47 28h0M-14 -46h0M190 -10h0M168 -24h0M2 -102h0M156 -22h0M-60 -12h0M0 -102h0M3 -17h0M-67 82h0M192 -15h0M-4 -119h0M-22 -80h0M67 14h0M18 -28h0M-24 -4h0M164 4h0M91 12h0M-82 -25h0M-53 -10h0M90 16h0M-6 -112h0M-13 5h0M-83 -12h0M90 21h0M137 8h0M172 14h0M161 -30h0M-68 79h0M145 -27h0M208 11h0M162 -58h0M163 -59h0M109 82h0M0 -138h0M-45 60h0M-56 107h0M221 51h0" stroke="#a3b3a7"/><path d="M124 105h0" stroke="#e5674f"/><path d="M46 134h0" stroke="#e8563e"/></g>
<text x="565.9" y="529.55" font-size="3" text-anchor="end" font-weight="bold" fill="#3a3a3a">1.0</text>
<text x="565.9" y="546.7" font-size="3" text-anchor="end" font-weight="bold" fill="#3a3a3a">0.5</text>
<text x="565.9" y="563.85" font-size="3" text-anchor="end" font-weight="bold" fill="#3a3a3a">0.0</text>
<text x="565.9" y="581" font-size="3" text-anchor="end" font-weight="bold" fill="#3a3a3a">−0.5</text>
<text x="565.9" y="598.15" font-size="3" text-anchor="end" font-weight="bold" fill="#3a3a3a">−1.0</text>
<text x="592.4" y="609" font-size="3" text-anchor="middle" font-weight="bold" fill="#3a3a3a">0</text>
<text x="623.7" y="609" font-size="3" text-anchor="middle" font-weight="bold" fill="#3a3a3a">1</text>
<text x="655" y="609" font-size="3" text-anchor="middle" font-weight="bold" fill="#3a3a3a">2</text>
<text x="610.95" y="612.3" font-size="3.3" text-anchor="middle" font-weight="bold" fill="#222">Dimension 1</text>
<text x="558.6" y="562.8" font-size="3.3" text-anchor="middle" font-weight="bold" fill="#222" transform="rotate(-90 558.6 562.8)">Dimension 2</text>
<text x="566.4" y="520.9" font-size="4.7" font-weight="bold" fill="#222">FIB−4</text>
<text x="659.7" y="541.2" font-size="4.6" font-weight="bold" fill="#222">FIB−4</text>
<rect x="659.7" y="543.2" width="10.5" height="49.2" fill="url(#tc)" />
<line x1="659.7" y1="551" x2="661.8" y2="551" stroke="#fff" stroke-width="0.6" />
<line x1="668.1" y1="551" x2="670.2" y2="551" stroke="#fff" stroke-width="0.6" />
<text x="672.4" y="552.5" font-size="4.3" font-weight="bold" fill="#222">3</text>
<line x1="659.7" y1="567.4" x2="661.8" y2="567.4" stroke="#fff" stroke-width="0.6" />
<line x1="668.1" y1="567.4" x2="670.2" y2="567.4" stroke="#fff" stroke-width="0.6" />
<text x="672.4" y="568.9" font-size="4.3" font-weight="bold" fill="#222">2</text>
<line x1="659.7" y1="583.8" x2="661.8" y2="583.8" stroke="#fff" stroke-width="0.6" />
<line x1="668.1" y1="583.8" x2="670.2" y2="583.8" stroke="#fff" stroke-width="0.6" />
<text x="672.4" y="585.3" font-size="4.3" font-weight="bold" fill="#222">1</text>
</svg></body></html>
